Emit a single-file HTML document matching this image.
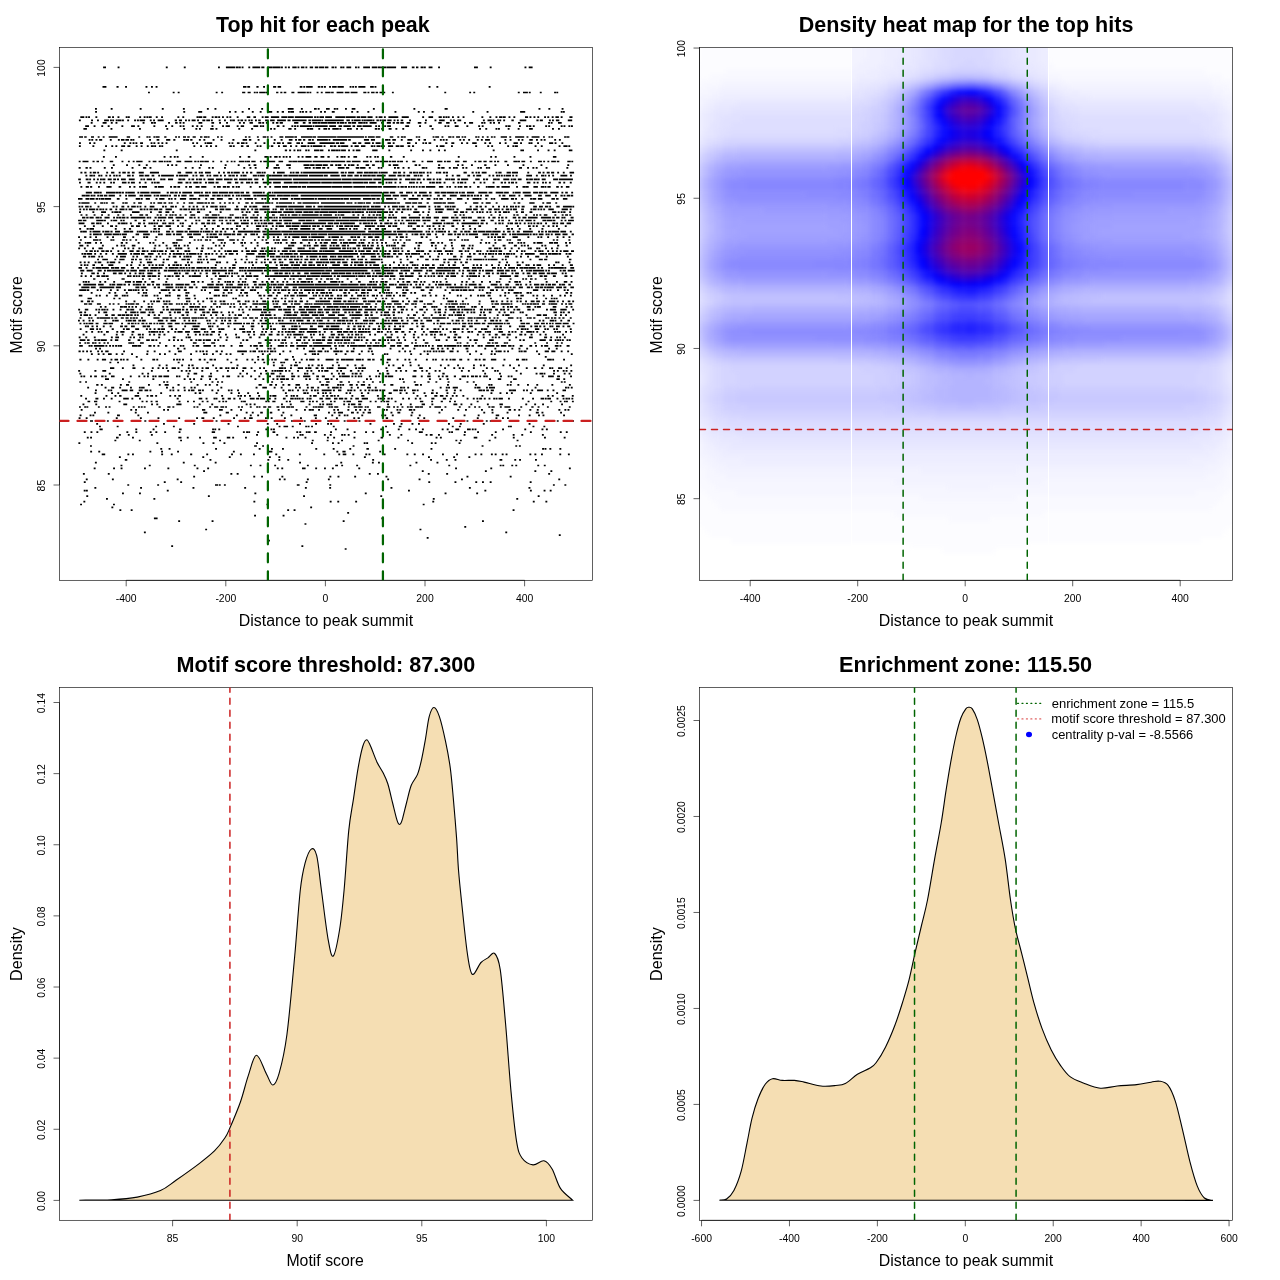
<!DOCTYPE html>
<html><head><meta charset="utf-8"><style>
html,body{margin:0;padding:0;background:#fff;}
svg{display:block;font-family:"Liberation Sans", sans-serif;will-change:transform;}
text{fill:#000;}
</style></head><body>
<svg width="1280" height="1280" viewBox="0 0 1280 1280">
<rect width="1280" height="1280" fill="#fff"/>
<rect x="59.5" y="47.5" width="533.00" height="532.80" fill="none" stroke="#000" stroke-width="0.62"/>
<path d="M126.20 580.3H524.60M126.20 580.3v6M225.80 580.3v6M325.40 580.3v6M425.00 580.3v6M524.60 580.3v6M59.5 67.40V485.00M59.5 485.00h-6M59.5 345.80h-6M59.5 206.60h-6M59.5 67.40h-6" fill="none" stroke="#000" stroke-width="0.62"/>
<text x="126.20" y="601.90" text-anchor="middle" font-size="10.4">-400</text>
<text x="225.80" y="601.90" text-anchor="middle" font-size="10.4">-200</text>
<text x="325.40" y="601.90" text-anchor="middle" font-size="10.4">0</text>
<text x="425.00" y="601.90" text-anchor="middle" font-size="10.4">200</text>
<text x="524.60" y="601.90" text-anchor="middle" font-size="10.4">400</text>
<text transform="translate(44.90 485.60) rotate(-90)" text-anchor="middle" font-size="10.4">85</text>
<text transform="translate(44.90 346.40) rotate(-90)" text-anchor="middle" font-size="10.4">90</text>
<text transform="translate(44.90 207.20) rotate(-90)" text-anchor="middle" font-size="10.4">95</text>
<text transform="translate(44.90 68.00) rotate(-90)" text-anchor="middle" font-size="10.4">100</text>
<path d="M344.7 549.0h1.9M171.2 546.2h1.9m128.3 0h1.9M268.0 540.7h1.9M426.7 537.9h1.9M558.8 535.1h1.9M143.9 532.3h1.9m359.5 0h1.9M205.2 529.5h1.9m212.4 0h1.9M464.3 526.8h1.9M304.5 524.0h1.9M178.2 521.2h1.9m31.5 0h1.9m129.2 0h1.9m137.4 0h1.9M153.9 518.4h3.7m223.8 0h1.9M254.1 515.6h1.9m26.6 0h1.9M347.2 512.8h1.9M119.4 510.1h1.9m9.4 0h1.9m154.6 0h1.9m4.5 0h1.9m217.1 0h1.9M111.4 507.3h1.9m196.9 0h1.9M80.1 504.5h1.9m31.0 0h1.9m151.6 0h1.9m154.3 0h1.9M83.4 501.7h1.9m168.1 0h1.9m74.4 0h1.9m5.7 0h1.9m16.0 0h1.9m75.2 0h1.9m98.6 0h1.9m10.7 0h1.9M106.0 498.9h1.9m45.5 0h1.9m277.5 0h1.9m81.6 0h1.9M86.3 496.1h1.9m119.7 0h1.9m93.3 0h1.9m75.3 0h1.9m155.5 0h1.9M122.0 493.4h1.9m15.1 0h1.9m113.5 0h1.9m108.5 0h1.9m77.9 0h1.9m29.7 0h1.9M83.7 490.6h1.9m0.3 0h1.9m79.0 0h1.9m239.3 0h1.9m74.5 0h1.9m43.6 0h1.9m11.8 0h1.9m4.2 0h1.9M94.4 487.8h1.9m43.8 0h1.9m50.5 0h1.9m49.8 0h1.9m58.8 0h1.9m22.4 0h1.9m59.4 0h1.9m76.5 0h1.9m57.7 0h1.9M127.3 485.0h1.9m28.0 0h1.9m55.9 0h3.1m0.7 0h1.9m3.2 0h1.9m71.0 0h2.8m29.7 0h1.9m221.7 0h1.9m9.6 0h1.9M83.8 482.2h1.9m78.1 0h1.9m14.5 0h1.9m123.6 0h1.9m120.7 0h1.9m24.3 0h1.9m18.9 0h1.9m4.8 0h1.9m5.8 0h1.9m38.1 0h1.9M85.8 479.4h1.9m24.2 0h1.9m62.9 0h1.9m100.3 0h1.9m2.9 0h1.9m21.3 0h1.9m19.1 0h1.9m57.4 0h1.9m29.5 0h1.9m40.5 0h1.9m95.4 0h1.9M193.2 476.6h1.9m58.2 0h1.9m5.9 0h1.9m18.4 0h1.9m46.1 0h1.9m6.2 0h1.9m14.8 0h1.9m29.4 0h1.9m79.1 0h1.9m41.3 0h1.9M82.9 473.9h1.9m23.0 0h1.9m120.7 0h1.9m4.4 0h1.9m130.2 0h1.9m6.3 0h1.9m48.9 0h1.9m16.5 0h1.9m100.1 0h1.9M203.1 471.1h1.9m216.8 0h1.9m61.2 0h1.9m47.6 0h1.9m14.1 0h1.9M93.7 468.3h1.9m17.5 0h1.9m5.6 0h1.9m21.5 0h1.9m21.5 0h1.9m27.2 0h1.9m8.8 0h1.9m67.7 0h1.9m2.6 0h1.9m18.8 0h3.6m9.6 0h1.9m6.9 0h1.9m6.0 0h1.9m24.5 0h1.9m94.9 0h1.9m33.3 0h1.9m76.7 0h1.9M120.5 465.5h1.9m26.4 0h1.9m43.1 0h1.9m54.2 0h1.9m7.7 0h1.9m12.8 0h1.9m30.8 0h1.9m26.4 0h2.8m3.2 0h1.9m13.1 0h1.9m51.3 0h1.9m37.0 0h1.9m49.5 0h1.9m0.7 0h1.9m7.1 0h1.9m2.1 0h1.9m20.1 0h1.9m4.6 0h1.9M94.9 462.7h1.9m86.0 0h1.9m30.0 0h1.9m82.5 0h1.9m39.3 0h1.9m29.7 0h1.9m4.2 0h1.9m35.6 0h1.9m19.1 0h1.9M124.8 459.9h2.5m82.2 0h1.9m56.0 0h1.9m9.1 0h1.9m7.0 0h1.9m83.0 0h1.9m56.0 0h1.9m13.8 0h1.9m6.8 0h1.9m43.1 0h2.8m12.0 0h1.9m2.9 0h1.9m14.0 0h1.9M118.9 457.2h1.9m81.5 0h1.9m24.6 0h1.9m38.2 0h1.9m7.6 0h1.9m83.6 0h1.9m62.2 0h1.9m23.3 0h1.9m13.3 0h1.9M101.7 454.4h3.5m22.2 0h1.9m2.7 0h1.9m27.3 0h1.9m7.7 0h1.9m17.4 0h2.1m14.0 0h1.9m23.0 0h1.9m6.9 0h1.9m11.2 0h1.9m20.4 0h1.9m21.7 0h1.9m22.5 0h1.9m13.1 0h1.9m2.5 0h3.6m6.1 0h1.9m11.0 0h1.9m1.3 0h1.9m13.3 0h1.9m20.8 0h1.9m5.5 0h1.9m6.4 0h1.9m18.0 0h1.9m12.2 0h1.9m16.6 0h1.9m3.9 0h1.9m8.6 0h1.9m1.9 0h1.9m5.1 0h1.9m2.0 0h1.9m21.9 0h1.9m3.1 0h1.9m4.7 0h1.9m16.4 0h1.9m6.7 0h1.9M90.2 451.6h1.9m6.2 0h1.9m49.2 0h1.9m9.8 0h1.9m14.1 0h1.9m53.9 0h1.9m33.9 0h3.7m64.0 0h1.9m4.1 0h3.2m33.6 0h1.9M160.3 448.8h1.9m6.4 0h1.9m44.6 0h1.9m41.7 0h1.9m10.4 0h1.9m9.1 0h1.9m31.4 0h1.9m15.5 0h1.9m14.7 0h1.9m15.2 0h2.5m25.3 0h1.9m34.4 0h1.9m109.7 0h1.9m0.5 0h1.9m3.0 0h1.9m8.1 0h1.9M90.0 446.0h1.9m162.2 0h2.8m5.2 0h1.9m88.6 0h1.9m127.1 0h1.9m31.8 0h1.9m1.7 0h1.9M78.4 443.2h1.9m76.1 0h1.9m44.2 0h1.9m8.1 0h1.9m9.1 0h1.9m30.7 0h1.9m53.1 0h1.9m19.0 0h1.9m3.7 0h1.9m24.2 0h1.9m0.6 0h1.9m43.1 0h1.9m17.7 0h1.9m1.9 0h1.9m22.1 0h1.9M114.4 440.5h1.9m22.5 0h1.9m39.4 0h1.9m37.1 0h1.9m90.8 0h1.9m13.0 0h1.9m12.5 0h1.9m34.7 0h1.9m27.5 0h1.9m46.4 0h1.9m2.6 0h1.9m26.9 0h1.9m26.0 0h1.9M86.8 437.7h1.9m1.4 0h1.9m24.0 0h2.6m13.4 0h1.9m44.4 0h3.2m5.3 0h1.9m10.4 0h1.9m12.1 0h3.7m10.0 0h3.5m1.9 0h1.9m10.9 0h1.9m38.6 0h1.9m5.7 0h1.9m2.0 0h1.9m5.6 0h1.9m20.6 0h1.9m4.3 0h1.9m18.4 0h1.9m25.2 0h2.5m14.4 0h1.9m36.2 0h1.9m2.4 0h1.9m31.9 0h3.6m17.1 0h1.9m16.5 0h1.9m29.3 0h1.9m17.8 0h1.9M118.9 434.9h1.9m7.0 0h1.9m21.2 0h1.9m103.3 0h1.9m18.3 0h1.9m21.3 0h1.9m0.3 0h1.9m20.3 0h1.9m3.9 0h1.9m9.6 0h1.9m0.6 0h1.9m2.1 0h1.9m39.3 0h1.9m9.6 0h1.9m23.3 0h1.9m2.3 0h2.8m5.4 0h1.9m23.7 0h1.9m25.7 0h1.9m19.6 0h1.9m6.7 0h1.9m18.7 0h1.9M83.8 432.1h1.9m4.8 0h1.9m4.0 0h1.9m28.1 0h1.9m7.1 0h1.9m12.4 0h1.9m3.8 0h1.9m6.9 0h1.9m12.5 0h1.9m31.2 0h3.4m27.8 0h1.9m1.3 0h1.9m0.2 0h1.9m7.1 0h1.9m13.4 0h2.8m21.0 0h1.9m1.1 0h1.9m4.6 0h1.9m0.4 0h2.5m3.5 0h2.7m13.3 0h1.9m21.7 0h1.9m9.5 0h1.9m5.3 0h1.9m12.4 0h1.9m30.3 0h4.0m25.8 0h1.9m0.6 0h1.9m11.0 0h1.9m11.2 0h1.9m15.8 0h1.9m33.2 0h1.9m28.0 0h1.9m4.1 0h1.9M99.5 429.3h3.2m32.6 0h1.9m15.4 0h1.9m24.6 0h2.5m30.5 0h1.9m0.3 0h1.9m2.1 0h1.9m45.2 0h1.9m3.2 0h1.9m0.6 0h1.9m60.0 0h1.9m9.8 0h1.9m31.8 0h1.9m15.6 0h1.9m8.7 0h1.9m4.8 0h1.9m4.9 0h1.9m17.9 0h1.9m3.1 0h1.9m6.8 0h3.8m7.8 0h3.7m1.1 0h1.9m0.8 0h1.9m25.7 0h1.9m20.3 0h1.9m15.3 0h1.9m2.5 0h1.9M99.0 426.5h1.9m15.8 0h1.9m36.6 0h1.9m15.8 0h1.9m62.2 0h1.9m39.7 0h1.9m3.0 0h4.6m3.7 0h1.9m11.5 0h1.9m0.5 0h1.9m1.6 0h1.9m19.8 0h1.9m50.4 0h1.9m11.8 0h2.7m50.3 0h1.9m5.2 0h1.9m47.1 0h1.9m0.2 0h1.9m20.6 0h1.9m9.0 0h1.9M96.2 423.8h1.9m64.9 0h1.9m28.3 0h1.9m32.5 0h1.9m37.3 0h1.9m7.5 0h1.9m21.0 0h1.9m14.1 0h1.9m10.1 0h1.9m1.2 0h1.9m37.4 0h1.9m21.6 0h1.9m5.7 0h1.9m9.0 0h1.9m4.6 0h1.9m28.1 0h1.9m9.9 0h1.9m21.1 0h1.9m43.9 0h1.9M78.2 421.0h1.9m9.9 0h3.0m5.4 0h1.9m6.6 0h1.9m35.5 0h2.0m69.3 0h1.9m56.2 0h2.6m5.5 0h2.7m6.5 0h1.9m3.6 0h1.9m5.4 0h1.9m21.6 0h1.9m5.5 0h2.4m6.6 0h1.9m12.9 0h1.9m6.5 0h1.9m76.5 0h1.9m7.3 0h1.9m10.1 0h1.9m17.4 0h1.9m2.1 0h1.9m65.1 0h1.9m12.8 0h2.5M78.6 418.2h1.9m5.2 0h1.9m28.2 0h1.9m22.2 0h1.9m15.7 0h1.9m18.8 0h1.9m16.0 0h1.9m3.4 0h2.9m8.5 0h1.9m18.4 0h1.9m8.9 0h1.9m3.3 0h3.6m12.3 0h1.9m3.8 0h1.9m11.3 0h1.9m14.2 0h1.9m13.0 0h1.9m8.1 0h1.9m9.1 0h1.9m15.5 0h1.9m2.4 0h2.2m25.9 0h2.4m29.2 0h1.9m4.1 0h1.9m27.1 0h1.9m22.6 0h1.9m16.8 0h1.9m4.6 0h1.9m3.1 0h1.9M79.6 415.4h1.9m8.1 0h1.9m0.9 0h1.9m22.7 0h2.9m17.5 0h1.9m80.1 0h1.9m14.6 0h1.9m12.0 0h1.9m5.5 0h1.9m21.7 0h1.9m7.7 0h1.9m21.4 0h3.3m14.3 0h1.9m5.3 0h1.9m3.4 0h1.9m0.8 0h1.9m12.9 0h1.9m18.1 0h1.9m1.1 0h1.9m5.6 0h1.9m16.8 0h1.9m6.4 0h1.9m42.9 0h1.9m12.2 0h1.9m16.1 0h3.5m18.9 0h1.9m8.7 0h1.9m7.4 0h1.9m2.6 0h1.9m18.7 0h1.9M94.0 412.6h1.9m11.5 0h1.9m25.5 0h1.9m10.3 0h1.9m54.4 0h4.0m18.4 0h3.2m16.8 0h1.9m4.2 0h1.9m6.5 0h2.6m7.0 0h2.5m10.1 0h1.9m43.7 0h1.9m3.8 0h1.9m2.3 0h5.1m8.0 0h2.9m2.8 0h1.9m4.0 0h1.9m3.1 0h3.5m19.4 0h1.9m5.0 0h2.9m11.0 0h1.9m25.3 0h1.9m42.9 0h1.9m6.4 0h1.9m13.1 0h1.9m27.3 0h3.0m2.7 0h1.9m16.7 0h1.9M80.7 409.8h1.9m47.7 0h1.9m2.9 0h1.9m26.1 0h1.9m2.1 0h1.9m33.0 0h3.3m13.7 0h3.8m7.7 0h1.9m7.7 0h1.9m35.7 0h1.9m16.0 0h1.9m6.5 0h1.9m2.8 0h3.1m0.2 0h1.9m4.2 0h1.9m13.3 0h1.9m1.9 0h1.9m8.4 0h1.9m5.7 0h1.9m2.4 0h1.9m3.0 0h1.9m2.6 0h1.9m12.5 0h1.9m0.9 0h1.9m8.7 0h1.9m1.0 0h1.9m7.5 0h3.5m1.0 0h1.9m25.8 0h1.9m14.4 0h1.9m5.8 0h1.9m14.1 0h1.9m8.5 0h1.9m15.2 0h2.6m2.7 0h1.9m2.7 0h1.9m9.1 0h1.9m5.5 0h1.9m19.7 0h1.9m4.1 0h1.9m1.2 0h1.9M79.0 407.0h1.9m3.3 0h1.9m0.3 0h1.9m9.6 0h1.9m5.3 0h1.9m1.6 0h1.9m22.2 0h1.9m3.4 0h1.9m0.9 0h1.9m1.0 0h1.9m12.9 0h2.2m6.6 0h3.2m1.9 0h1.9m19.1 0h1.9m1.2 0h1.9m10.8 0h1.9m3.0 0h4.1m2.2 0h3.8m0.9 0h1.9m10.9 0h1.9m1.3 0h1.9m6.8 0h1.9m4.5 0h1.9m0.5 0h1.9m2.7 0h3.1m1.6 0h3.3m5.3 0h2.8m1.8 0h3.9m1.2 0h4.0m0.5 0h3.3m11.5 0h2.0m5.3 0h1.9m0.4 0h1.9m0.4 0h6.0m5.1 0h2.1m0.3 0h2.2m1.1 0h4.1m9.4 0h1.9m4.1 0h3.8m0.6 0h4.6m2.0 0h1.9m0.4 0h1.9m8.1 0h3.6m6.0 0h3.6m2.9 0h1.9m1.7 0h1.9m2.9 0h1.9m3.5 0h1.9m0.7 0h3.3m2.3 0h4.6m0.3 0h3.0m6.2 0h1.9m3.3 0h6.6m3.5 0h1.9m12.4 0h1.9m7.7 0h1.9m3.8 0h1.9m2.5 0h1.9m7.9 0h2.1m1.0 0h3.2m5.3 0h1.9m2.6 0h5.9m10.0 0h1.9m9.1 0h2.3m4.0 0h1.9m7.4 0h1.9m20.0 0h1.9M82.5 404.3h1.9m10.9 0h1.9m26.1 0h3.9m23.9 0h1.9m3.3 0h1.9m18.1 0h5.2m17.2 0h1.9m10.7 0h1.9m32.5 0h1.9m1.9 0h1.9m2.3 0h1.9m25.4 0h1.9m6.9 0h1.9m16.9 0h1.9m8.8 0h1.9m1.0 0h1.9m2.2 0h1.9m0.2 0h1.9m0.2 0h1.9m10.8 0h1.9m2.9 0h1.9m1.0 0h4.5m2.8 0h3.0m25.9 0h1.9m11.1 0h1.9m7.8 0h1.9m9.9 0h3.4m6.4 0h1.9m20.1 0h3.9m3.2 0h1.9m8.0 0h1.9m14.6 0h1.9m10.6 0h3.5m22.4 0h1.9m7.0 0h1.9m6.0 0h1.9m17.1 0h1.9M87.5 401.5h2.7m3.8 0h3.3m21.3 0h1.9m21.0 0h1.9m2.4 0h1.9m2.9 0h1.9m3.0 0h2.4m20.6 0h2.0m6.5 0h1.9m4.1 0h1.9m6.8 0h1.9m3.0 0h1.9m10.0 0h1.9m1.9 0h1.9m1.0 0h1.9m13.7 0h1.9m0.4 0h2.8m19.4 0h1.9m0.5 0h1.9m2.7 0h3.2m10.3 0h1.9m1.3 0h1.9m9.4 0h4.2m4.4 0h1.9m1.2 0h1.9m2.0 0h1.9m4.0 0h1.9m6.3 0h1.9m1.8 0h1.9m7.8 0h1.9m1.1 0h4.6m7.0 0h4.2m7.4 0h1.9m3.3 0h1.9m3.8 0h1.9m0.9 0h1.9m0.9 0h3.2m5.3 0h1.9m23.4 0h3.4m7.9 0h1.9m7.6 0h2.2m6.2 0h1.9m3.0 0h1.9m20.8 0h1.9m49.0 0h1.9m20.8 0h1.9m7.4 0h1.9m2.4 0h1.9m0.2 0h1.9m4.0 0h1.9M85.1 398.7h1.9m8.4 0h3.0m4.6 0h1.9m5.8 0h1.9m10.6 0h5.6m2.6 0h1.9m5.7 0h1.9m35.8 0h2.0m20.0 0h3.6m3.3 0h1.9m6.0 0h1.9m0.2 0h1.9m4.4 0h2.4m3.4 0h3.2m2.4 0h2.1m3.7 0h1.9m8.8 0h4.8m1.5 0h3.0m0.8 0h5.2m3.0 0h2.7m3.6 0h1.9m6.6 0h2.7m4.6 0h3.5m0.7 0h1.9m0.3 0h1.9m0.3 0h1.9m0.8 0h2.2m2.9 0h1.9m0.6 0h2.5m7.8 0h3.5m2.6 0h5.1m3.4 0h3.5m1.4 0h4.3m1.3 0h2.7m3.1 0h2.0m3.0 0h3.6m2.8 0h6.3m9.6 0h2.0m0.4 0h1.9m0.7 0h2.5m2.3 0h2.4m1.0 0h1.9m9.5 0h1.9m3.9 0h1.9m4.9 0h1.9m2.6 0h1.9m10.1 0h3.1m8.4 0h3.3m3.8 0h1.9m14.8 0h1.9m4.3 0h1.9m1.7 0h1.9m0.9 0h2.9m1.7 0h1.9m2.8 0h1.9m2.8 0h1.9m0.5 0h1.9m1.0 0h4.4m5.1 0h1.9m12.0 0h1.9m8.3 0h1.9m6.6 0h3.5m0.7 0h1.9m0.6 0h3.7m5.5 0h1.9m4.2 0h1.9m1.0 0h2.3m0.4 0h1.9m1.3 0h1.9M80.3 395.9h1.9m23.3 0h1.9m7.1 0h1.9m2.7 0h2.4m13.1 0h4.6m7.4 0h1.9m1.7 0h2.9m2.1 0h1.9m12.2 0h1.9m3.0 0h1.9m2.2 0h2.7m40.2 0h1.9m14.4 0h1.9m0.7 0h1.9m2.0 0h1.9m3.1 0h1.9m7.3 0h1.9m9.5 0h1.9m0.8 0h4.1m9.3 0h1.9m3.0 0h1.9m0.4 0h1.9m1.4 0h1.9m11.5 0h1.9m1.6 0h3.6m5.7 0h1.9m1.9 0h2.0m2.1 0h2.6m0.8 0h1.9m1.6 0h1.9m12.3 0h1.9m7.9 0h3.2m12.5 0h1.9m5.0 0h1.9m30.8 0h1.9m6.4 0h1.9m7.6 0h3.1m2.5 0h3.5m2.4 0h1.9m4.1 0h1.9m2.0 0h1.9m4.8 0h1.9m17.1 0h1.9m64.0 0h1.9m2.6 0h1.9m8.0 0h2.6m7.5 0h1.9M94.6 393.1h1.9m14.6 0h1.9m4.3 0h1.9m18.0 0h1.9m21.1 0h1.9m32.5 0h1.9m2.3 0h2.5m14.4 0h1.9m12.9 0h1.9m5.6 0h1.9m7.3 0h1.9m7.9 0h1.9m26.0 0h1.9m16.5 0h2.9m0.6 0h1.9m8.5 0h1.9m3.1 0h1.9m0.8 0h1.9m2.7 0h1.9m14.2 0h1.9m1.7 0h1.9m9.8 0h1.9m4.5 0h1.9m19.4 0h3.2m7.8 0h1.9m4.2 0h1.9m5.1 0h1.9m9.0 0h1.9m5.5 0h2.6m2.3 0h1.9m8.7 0h1.9m5.1 0h1.9m35.1 0h1.9m7.1 0h1.9m4.6 0h1.9m3.0 0h1.9m17.0 0h1.9m24.5 0h1.9M95.0 390.3h1.9m10.9 0h1.9m0.6 0h1.9m9.4 0h6.0m2.1 0h3.5m5.5 0h3.9m1.9 0h3.7m1.3 0h1.9m18.1 0h1.9m1.0 0h1.9m3.1 0h1.9m4.5 0h1.9m2.4 0h1.9m0.8 0h3.7m3.6 0h3.1m0.8 0h1.9m7.5 0h1.9m3.9 0h1.9m8.8 0h1.9m0.8 0h1.9m4.6 0h1.9m43.5 0h1.9m3.6 0h2.9m0.8 0h1.9m3.5 0h1.9m3.6 0h1.9m1.1 0h1.9m3.4 0h1.9m1.3 0h2.1m0.6 0h1.9m3.0 0h9.9m1.3 0h2.0m3.1 0h3.4m5.8 0h1.9m0.3 0h2.9m1.3 0h1.9m4.2 0h1.9m2.8 0h1.9m1.9 0h2.1m1.1 0h2.3m0.8 0h3.6m1.2 0h1.9m0.6 0h3.5m7.9 0h4.7m1.3 0h3.6m1.1 0h1.9m6.2 0h3.8m0.9 0h1.9m13.2 0h1.9m11.9 0h2.2m6.1 0h2.0m3.8 0h1.9m16.9 0h4.1m0.4 0h2.0m1.2 0h2.7m1.8 0h3.2m15.0 0h3.0m0.2 0h3.9m6.9 0h1.9m1.3 0h1.9m3.3 0h1.9m3.9 0h6.0m3.7 0h1.9m3.8 0h1.9m8.1 0h3.5M87.2 387.6h1.9m15.5 0h1.9m4.6 0h3.1m5.0 0h1.9m8.9 0h1.9m7.0 0h1.9m0.3 0h3.5m21.4 0h1.9m4.3 0h1.9m9.4 0h1.9m5.1 0h1.9m1.4 0h1.9m24.7 0h1.9m33.3 0h1.9m4.8 0h4.6m6.8 0h1.9m5.1 0h1.9m12.4 0h1.9m2.0 0h1.9m6.1 0h1.9m2.0 0h3.1m3.4 0h1.9m8.3 0h1.9m2.7 0h3.2m0.2 0h3.2m1.0 0h1.9m9.1 0h1.9m4.4 0h1.9m8.1 0h3.9m3.9 0h1.9m23.3 0h2.7m0.5 0h1.9m2.1 0h1.9m30.6 0h1.9m4.2 0h1.9m0.4 0h1.9m2.7 0h5.2m16.5 0h1.9m0.5 0h3.7m5.5 0h1.9m1.1 0h6.0m39.6 0h1.9m28.5 0h1.9m0.5 0h1.9m1.5 0h1.9M96.2 384.8h2.3m2.4 0h1.9m17.1 0h1.9m4.2 0h3.1m18.9 0h1.9m8.9 0h1.9m3.9 0h4.1m8.8 0h2.1m17.0 0h1.9m6.3 0h1.9m2.1 0h1.9m5.5 0h1.9m40.4 0h3.2m7.7 0h2.9m2.8 0h1.9m5.4 0h1.9m3.5 0h2.5m5.2 0h4.4m6.5 0h1.9m12.6 0h3.3m1.1 0h3.2m8.6 0h2.1m0.5 0h1.9m0.6 0h1.9m5.3 0h3.4m3.1 0h1.9m3.0 0h4.3m3.3 0h1.9m13.3 0h1.9m4.8 0h3.1m21.4 0h3.6m1.6 0h1.9m25.1 0h1.9m26.1 0h1.9m11.4 0h1.9m0.4 0h1.9m14.3 0h1.9m1.0 0h1.9m5.8 0h1.9m7.7 0h1.9m7.4 0h1.9m13.2 0h1.9m15.6 0h1.9M79.4 382.0h1.9m3.8 0h1.9m41.3 0h1.9m32.9 0h1.9m1.4 0h1.9m22.0 0h1.9m19.3 0h1.9m3.6 0h1.9m2.3 0h1.9m48.1 0h1.9m7.7 0h1.9m36.5 0h1.9m5.0 0h3.5m10.0 0h2.9m5.6 0h1.9m7.4 0h1.9m3.5 0h2.0m7.1 0h1.9m5.4 0h1.9m21.8 0h1.9m9.0 0h1.9m11.7 0h2.2m5.8 0h1.9m10.3 0h1.9m17.0 0h1.9m4.4 0h1.9m35.4 0h1.9m48.8 0h1.9m1.1 0h1.9M105.0 379.2h4.0m13.0 0h1.9m28.5 0h1.9m29.4 0h1.9m3.6 0h1.9m2.0 0h1.9m5.3 0h1.9m6.9 0h1.9m4.3 0h1.9m37.3 0h1.9m6.0 0h1.9m8.1 0h1.9m2.2 0h1.9m1.7 0h5.2m0.7 0h2.9m2.6 0h1.9m11.9 0h1.9m1.7 0h1.9m5.7 0h1.9m6.4 0h4.3m1.5 0h1.9m3.6 0h1.9m28.0 0h1.9m2.0 0h1.9m27.3 0h1.9m0.9 0h1.9m25.1 0h1.9m8.5 0h1.9m5.5 0h1.9m10.7 0h1.9m27.9 0h1.9m6.8 0h3.4m11.9 0h3.6m39.7 0h3.4m3.5 0h1.9M80.5 376.4h1.9m0.9 0h1.9m4.8 0h1.9m2.3 0h2.7m4.3 0h2.4m1.1 0h1.9m4.4 0h3.6m15.2 0h1.9m6.6 0h1.9m3.3 0h1.9m1.6 0h1.9m3.4 0h1.9m0.5 0h1.9m1.8 0h3.8m1.2 0h5.7m6.9 0h1.9m0.6 0h1.9m6.5 0h1.9m12.2 0h2.6m4.9 0h3.6m10.1 0h1.9m2.3 0h3.7m7.4 0h1.9m2.3 0h1.9m6.6 0h1.9m6.3 0h1.9m8.8 0h1.9m5.3 0h1.9m0.3 0h1.9m0.9 0h3.6m6.3 0h3.9m2.5 0h1.9m3.6 0h7.2m5.9 0h2.8m2.8 0h3.1m7.8 0h1.9m4.4 0h1.9m0.5 0h8.4m1.6 0h1.9m1.4 0h1.9m1.2 0h2.0m0.5 0h1.9m6.7 0h1.9m4.5 0h1.9m0.9 0h1.9m4.7 0h2.3m0.6 0h5.6m19.2 0h3.9m4.5 0h1.9m4.5 0h3.5m7.2 0h1.9m2.0 0h1.9m1.9 0h2.6m5.6 0h2.2m5.6 0h4.3m1.0 0h1.9m2.2 0h3.1m0.8 0h2.9m1.4 0h1.9m2.2 0h2.3m0.3 0h1.9m12.2 0h2.0m5.7 0h1.9m1.0 0h1.9m29.3 0h1.9m4.4 0h5.7m3.3 0h2.9m10.1 0h1.9M79.4 373.6h1.9m27.5 0h1.9m30.9 0h1.9m3.7 0h1.9m38.5 0h1.9m4.1 0h3.6m12.8 0h1.9m27.5 0h1.9m4.8 0h1.9m12.0 0h1.9m3.7 0h1.9m3.2 0h3.8m5.0 0h1.9m9.9 0h1.9m10.8 0h1.9m0.5 0h1.9m4.1 0h1.9m16.6 0h1.9m5.2 0h1.9m1.9 0h3.1m6.8 0h1.9m1.0 0h3.0m2.0 0h1.9m17.4 0h1.9m1.1 0h1.9m2.8 0h2.7m38.9 0h2.1m12.0 0h2.4m39.5 0h1.9m12.9 0h1.9m19.0 0h1.9m13.8 0h1.9m2.0 0h3.5m0.5 0h1.9m7.6 0h1.9m8.8 0h1.9m3.0 0h1.9M78.2 370.9h1.9m14.3 0h2.0m5.9 0h3.9m44.7 0h1.9m14.4 0h1.9m11.7 0h1.9m2.8 0h1.9m1.4 0h1.9m10.6 0h1.9m13.2 0h1.9m8.7 0h1.9m13.2 0h1.9m9.8 0h1.9m9.3 0h2.2m4.4 0h1.9m0.7 0h1.9m0.4 0h1.9m0.2 0h4.6m1.8 0h1.9m1.6 0h1.9m6.7 0h1.9m7.5 0h1.9m2.0 0h1.9m5.8 0h1.9m1.2 0h1.9m1.1 0h4.3m7.9 0h1.9m1.8 0h1.9m7.9 0h2.3m5.4 0h1.9m1.9 0h1.9m13.8 0h1.9m7.4 0h1.9m7.0 0h1.9m2.7 0h1.9m3.4 0h1.9m6.3 0h3.2m4.7 0h1.9m2.6 0h1.9m6.9 0h1.9m2.2 0h1.9m20.3 0h1.9m5.1 0h1.9m12.5 0h1.9m10.0 0h1.9m0.7 0h1.9m16.9 0h1.9m35.6 0h1.9m1.9 0h1.9m3.9 0h1.9m1.0 0h1.9m2.9 0h1.9M110.0 368.1h4.3m7.6 0h1.9m8.6 0h3.1m7.1 0h1.9m7.3 0h1.9m3.8 0h1.9m2.7 0h1.9m1.8 0h1.9m3.9 0h4.3m1.6 0h1.9m8.4 0h1.9m2.9 0h1.9m1.6 0h2.3m3.2 0h1.9m1.9 0h3.6m6.2 0h1.9m2.5 0h2.9m2.7 0h1.9m0.4 0h1.9m1.9 0h3.5m1.2 0h1.9m4.6 0h3.9m4.2 0h1.9m6.6 0h1.9m2.1 0h1.9m13.9 0h4.8m0.4 0h1.9m4.0 0h1.9m5.8 0h3.2m0.2 0h1.9m2.2 0h1.9m0.5 0h3.8m4.2 0h2.8m2.7 0h2.7m2.8 0h1.9m0.3 0h4.6m4.4 0h8.5m8.9 0h1.9m1.1 0h2.9m0.5 0h4.3m19.6 0h1.9m10.2 0h3.3m18.3 0h3.6m6.2 0h1.9m13.2 0h1.9m7.3 0h1.9m3.5 0h1.9m1.6 0h1.9m8.8 0h1.9m11.1 0h1.9m3.7 0h1.9m19.5 0h1.9m11.0 0h1.9m6.2 0h2.5m4.9 0h1.9m5.9 0h1.9m0.4 0h1.9m4.8 0h1.9m0.2 0h1.9m3.7 0h1.9M132.5 365.3h1.9m24.2 0h1.9m5.2 0h1.9m13.6 0h1.9m5.0 0h1.9m1.4 0h2.2m18.6 0h1.9m22.5 0h1.9m34.4 0h1.9m6.6 0h1.9m7.0 0h1.9m1.7 0h4.0m10.0 0h1.9m1.7 0h1.9m4.0 0h2.3m1.3 0h1.9m9.0 0h1.9m4.1 0h1.9m6.9 0h1.9m5.8 0h1.9m5.2 0h1.9m24.6 0h1.9m2.6 0h1.9m7.6 0h1.9m5.8 0h1.9m6.2 0h1.9m20.2 0h1.9m5.7 0h1.9m7.7 0h1.9m14.0 0h1.9m5.0 0h1.9m1.4 0h1.9m17.3 0h1.9m4.8 0h1.9m7.0 0h1.9m22.9 0h1.9m25.5 0h1.9M109.4 362.5h1.9m5.8 0h1.9m58.7 0h1.9m27.0 0h1.9m21.8 0h1.9m21.9 0h1.9m7.3 0h1.9m7.6 0h1.9m5.5 0h2.6m0.4 0h1.9m9.9 0h1.9m1.9 0h1.9m35.7 0h1.9m48.1 0h1.9m21.0 0h1.9M79.4 359.7h2.1m5.9 0h1.9m7.4 0h1.9m3.3 0h4.2m4.4 0h1.9m2.1 0h3.6m2.0 0h1.9m0.7 0h1.9m1.8 0h2.1m11.9 0h1.9m10.0 0h2.9m1.1 0h1.9m14.8 0h1.9m1.3 0h1.9m0.6 0h1.9m1.5 0h1.9m6.2 0h1.9m6.6 0h2.4m2.6 0h1.9m3.9 0h3.0m1.2 0h2.3m10.6 0h1.9m7.1 0h1.9m8.9 0h1.9m3.2 0h1.9m3.9 0h1.9m2.5 0h2.5m3.3 0h1.9m1.9 0h1.9m1.0 0h2.5m8.1 0h3.5m4.7 0h1.9m5.9 0h1.9m3.2 0h1.9m1.4 0h5.3m3.0 0h1.9m6.2 0h8.0m2.7 0h2.5m2.2 0h4.6m0.2 0h7.8m2.2 0h5.4m0.6 0h1.9m3.7 0h3.4m1.4 0h2.4m5.7 0h1.9m4.7 0h3.9m5.8 0h1.9m5.9 0h1.9m2.1 0h1.9m4.5 0h1.9m9.2 0h1.9m4.5 0h1.9m0.7 0h1.9m4.8 0h1.9m2.2 0h1.9m2.0 0h1.9m0.7 0h3.5m3.6 0h2.9m5.2 0h1.9m5.4 0h2.7m1.3 0h1.9m2.2 0h2.8m5.3 0h5.4m7.2 0h1.9m10.6 0h3.0m2.7 0h3.4m0.4 0h1.9m19.7 0h4.7m0.4 0h1.9m9.0 0h1.9M135.8 356.9h1.9m119.5 0h1.9m32.9 0h1.9m250.9 0h1.9M90.9 354.2h1.9m4.9 0h1.9m3.0 0h1.9m3.5 0h3.7m4.0 0h1.9m3.8 0h1.9m7.8 0h1.9m13.3 0h1.9m10.8 0h1.9m3.1 0h1.9m8.5 0h1.9m13.8 0h1.9m11.0 0h1.9m0.8 0h1.9m4.4 0h1.9m5.7 0h1.9m4.1 0h1.9m2.1 0h1.9m10.2 0h1.9m18.3 0h1.9m4.9 0h1.9m8.4 0h1.9m23.6 0h1.9m5.4 0h1.9m0.2 0h2.2m1.1 0h1.9m16.2 0h1.9m7.4 0h1.9m12.0 0h1.9m11.4 0h1.9m10.2 0h1.9m0.6 0h1.9m21.9 0h1.9m7.6 0h1.9m5.2 0h1.9m40.4 0h1.9m9.3 0h1.9m8.4 0h1.9m1.4 0h1.9m42.4 0h1.9m30.7 0h1.9M78.5 351.4h2.2m1.6 0h1.9m1.9 0h1.9m1.9 0h1.9m5.4 0h1.9m1.9 0h1.9m2.3 0h3.4m14.5 0h1.9m21.7 0h1.9m5.1 0h1.9m13.0 0h1.9m7.4 0h3.9m13.7 0h1.9m2.0 0h1.9m0.9 0h1.9m1.7 0h1.9m7.8 0h2.4m3.0 0h1.9m14.4 0h9.7m2.7 0h1.9m0.9 0h3.6m2.3 0h2.2m0.5 0h1.9m0.9 0h1.9m1.0 0h1.9m1.4 0h3.6m0.7 0h1.9m6.2 0h1.9m5.1 0h1.9m17.5 0h4.7m0.2 0h1.9m1.9 0h4.8m2.2 0h1.9m0.5 0h1.9m4.5 0h6.0m0.5 0h2.8m3.6 0h2.4m2.2 0h3.5m6.6 0h1.9m4.9 0h1.9m1.3 0h1.9m25.7 0h1.9m3.8 0h1.9m3.1 0h1.9m12.4 0h1.9m1.3 0h1.9m0.7 0h1.9m1.6 0h1.9m0.7 0h1.9m1.1 0h1.9m0.6 0h3.8m4.8 0h4.0m3.3 0h1.9m7.9 0h1.9m6.7 0h1.9m13.9 0h1.9m2.6 0h1.9m0.3 0h4.0m1.9 0h1.9m1.6 0h1.9m9.6 0h1.9m0.3 0h1.9m0.8 0h3.1m9.4 0h1.9m6.8 0h4.2m2.4 0h4.1m5.3 0h1.9m4.6 0h1.9M95.1 348.6h1.9m2.1 0h1.9m76.0 0h2.2m4.4 0h1.9m70.7 0h1.9m9.2 0h1.9m0.4 0h1.9m2.1 0h1.9m20.8 0h1.9m4.9 0h1.9m7.3 0h1.9m7.8 0h2.2m6.0 0h1.9m3.0 0h1.9m15.9 0h1.9m13.8 0h2.9m18.1 0h1.9m10.4 0h1.9m9.6 0h1.9m15.6 0h3.4m2.8 0h1.9m2.5 0h1.9m3.4 0h1.9m3.3 0h1.9m11.7 0h2.8m15.9 0h1.9m8.2 0h1.9m15.1 0h1.9m5.2 0h1.9m5.8 0h1.9m20.0 0h1.9m5.8 0h1.9M79.2 345.8h3.6m5.7 0h1.9m0.3 0h1.9m1.3 0h10.5m1.0 0h1.9m1.8 0h1.9m1.2 0h1.9m1.0 0h1.9m0.6 0h2.2m0.2 0h2.1m9.9 0h5.0m0.3 0h3.8m7.3 0h3.1m1.7 0h1.9m2.4 0h1.9m5.6 0h2.3m6.0 0h1.9m4.6 0h1.9m0.7 0h1.9m8.1 0h1.9m1.4 0h3.5m4.2 0h7.5m2.9 0h1.9m3.8 0h1.9m1.0 0h2.3m5.9 0h1.9m6.6 0h4.0m6.8 0h1.9m1.5 0h4.4m1.8 0h3.6m3.5 0h2.6m1.0 0h1.9m5.6 0h6.4m1.3 0h1.9m2.7 0h4.3m2.2 0h10.6m2.1 0h3.3m0.8 0h17.9m3.0 0h2.6m1.8 0h1.9m0.7 0h3.2m2.7 0h1.9m1.1 0h7.7m0.3 0h7.6m1.2 0h4.7m0.8 0h6.8m0.3 0h2.8m0.5 0h3.4m4.0 0h4.9m2.0 0h4.2m3.2 0h4.3m5.2 0h4.6m0.6 0h1.9m0.7 0h2.5m0.7 0h1.9m1.1 0h1.9m1.9 0h1.9m3.3 0h5.4m1.7 0h2.0m0.3 0h10.1m0.7 0h1.9m0.5 0h1.9m1.8 0h4.4m0.4 0h1.9m1.5 0h2.4m3.7 0h2.8m0.4 0h1.9m2.6 0h9.1m1.6 0h3.4m1.5 0h5.5m1.7 0h3.5m0.8 0h1.9m5.5 0h2.8m6.8 0h2.8m2.9 0h1.9m3.9 0h1.9m1.4 0h4.0m6.6 0h3.8m0.9 0h1.9m5.2 0h3.0M79.1 343.0h1.9m3.4 0h1.9m0.7 0h2.7m2.3 0h2.3m0.3 0h1.9m2.1 0h1.9m3.0 0h1.9m1.6 0h1.9m19.4 0h3.7m0.3 0h1.9m5.8 0h3.8m15.2 0h1.9m32.0 0h3.7m6.3 0h1.9m6.4 0h3.9m24.8 0h1.9m16.2 0h3.5m5.3 0h4.0m9.7 0h3.6m0.9 0h1.9m3.8 0h1.9m3.4 0h1.9m3.6 0h1.9m0.5 0h4.3m4.7 0h1.9m0.3 0h7.2m4.8 0h5.3m1.6 0h1.9m1.7 0h1.9m0.7 0h1.9m1.4 0h3.6m0.7 0h1.9m1.0 0h1.9m0.3 0h1.9m10.6 0h1.9m2.6 0h1.9m3.2 0h1.9m0.7 0h1.9m8.2 0h1.9m6.8 0h1.9m0.3 0h3.3m9.3 0h1.9m1.8 0h1.9m7.9 0h3.7m28.3 0h1.9m0.9 0h1.9m5.2 0h1.9m6.4 0h1.9m10.4 0h3.3m1.3 0h1.9m1.0 0h3.4m5.7 0h2.1m0.3 0h1.9m26.2 0h1.9m9.9 0h1.9m8.3 0h1.9m2.7 0h1.9M79.8 340.2h5.6m1.7 0h2.5m4.7 0h2.3m0.8 0h3.1m0.5 0h5.8m3.6 0h1.9m2.6 0h3.4m9.8 0h2.4m7.1 0h2.6m6.0 0h3.6m1.4 0h3.2m1.0 0h1.9m11.0 0h1.9m2.8 0h1.9m2.2 0h1.9m1.8 0h1.9m7.5 0h2.2m3.0 0h1.9m0.9 0h3.4m1.3 0h1.9m0.7 0h5.4m3.1 0h1.9m1.4 0h1.9m6.4 0h1.9m14.8 0h1.9m1.6 0h2.5m16.4 0h3.5m1.1 0h3.0m2.1 0h1.9m1.5 0h1.9m2.0 0h1.9m0.3 0h2.2m10.0 0h4.9m2.4 0h1.9m2.9 0h1.9m2.2 0h2.4m1.1 0h5.4m0.5 0h3.4m2.4 0h4.4m2.7 0h5.2m0.4 0h2.8m0.8 0h2.7m0.2 0h3.5m3.3 0h1.9m0.3 0h4.0m1.1 0h1.9m3.1 0h2.6m3.9 0h3.3m2.6 0h3.0m2.9 0h1.9m1.1 0h1.9m1.5 0h2.3m0.4 0h1.9m2.8 0h1.9m4.4 0h1.9m8.7 0h1.9m6.2 0h1.9m10.7 0h1.9m0.3 0h2.4m5.6 0h1.9m6.6 0h2.9m12.4 0h1.9m2.3 0h4.1m11.3 0h4.7m14.9 0h1.9m8.7 0h1.9m1.5 0h2.1m14.7 0h6.3m3.6 0h2.6m2.7 0h1.9m0.5 0h1.9m0.3 0h1.9m0.7 0h1.9m2.7 0h1.9m0.5 0h1.9M78.7 337.4h1.9m4.7 0h1.9m6.6 0h1.9m15.2 0h1.9m2.5 0h3.7m10.6 0h1.9m1.6 0h1.9m4.2 0h1.9m0.6 0h1.9m14.6 0h1.9m12.7 0h2.7m10.1 0h1.9m0.5 0h2.8m28.8 0h1.9m4.9 0h1.9m7.4 0h1.9m0.4 0h1.9m9.4 0h2.4m6.9 0h1.9m24.3 0h1.9m1.6 0h1.9m3.6 0h1.9m4.2 0h1.9m1.5 0h4.3m3.1 0h1.9m9.3 0h3.5m3.3 0h1.9m0.9 0h2.3m1.9 0h3.6m2.6 0h3.5m1.0 0h1.9m0.7 0h3.7m1.8 0h1.9m1.6 0h1.9m0.7 0h1.9m0.8 0h1.9m21.3 0h5.4m4.8 0h1.9m4.3 0h1.9m8.1 0h1.9m2.6 0h1.9m14.5 0h1.9m11.7 0h2.6m3.4 0h2.7m1.7 0h3.4m5.9 0h1.9m13.8 0h1.9m7.0 0h1.9m1.2 0h1.9m1.6 0h1.9m6.3 0h1.9m6.8 0h1.9m11.9 0h3.8m11.3 0h3.0m3.1 0h1.9m4.1 0h1.9m1.1 0h1.9m2.8 0h1.9M82.6 334.7h1.9m18.9 0h1.9m10.5 0h1.9m4.0 0h1.9m7.8 0h1.9m4.5 0h3.1m1.0 0h1.9m5.1 0h1.9m2.4 0h1.9m3.2 0h2.3m2.9 0h1.9m21.8 0h1.9m5.7 0h1.9m2.3 0h1.9m1.7 0h1.9m1.1 0h3.0m1.1 0h2.8m5.6 0h1.9m5.0 0h1.9m8.2 0h1.9m10.9 0h1.9m3.4 0h1.9m5.1 0h2.5m0.5 0h1.9m3.5 0h3.9m4.1 0h2.9m2.0 0h1.9m3.5 0h1.9m0.8 0h1.9m1.7 0h7.9m0.3 0h1.9m6.7 0h1.9m1.0 0h1.9m4.2 0h1.9m1.0 0h1.9m6.9 0h4.2m2.9 0h2.5m0.7 0h2.6m4.1 0h1.9m1.7 0h1.9m1.9 0h1.9m0.3 0h1.9m1.4 0h1.9m6.6 0h1.9m3.2 0h1.9m8.5 0h1.9m4.2 0h2.0m11.5 0h1.9m6.8 0h2.2m6.2 0h1.9m2.3 0h1.9m2.8 0h2.5m1.2 0h1.9m3.8 0h3.2m1.4 0h1.9m8.2 0h3.1m19.5 0h1.9m3.8 0h1.9m4.2 0h1.9m4.2 0h2.9m3.9 0h3.9m1.9 0h3.4m8.5 0h3.0m2.0 0h1.9m4.4 0h1.9m6.9 0h1.9m3.5 0h1.9m15.4 0h1.9M85.5 331.9h1.9m3.8 0h1.9m4.6 0h1.9m1.0 0h1.9m3.5 0h2.8m7.5 0h1.9m2.1 0h4.2m7.1 0h2.7m14.2 0h1.9m0.4 0h5.0m0.4 0h2.0m1.0 0h1.9m0.7 0h1.9m3.7 0h1.9m5.0 0h2.0m1.2 0h5.1m2.5 0h4.8m3.7 0h6.7m3.6 0h1.9m0.6 0h1.9m3.0 0h3.7m3.5 0h2.6m21.1 0h3.2m1.2 0h2.2m0.3 0h1.9m2.0 0h1.9m6.4 0h1.9m1.8 0h1.9m3.8 0h1.9m5.2 0h1.9m1.7 0h1.9m1.6 0h1.9m0.6 0h3.3m0.7 0h3.9m3.4 0h3.5m0.4 0h1.9m2.3 0h10.4m1.4 0h2.1m3.1 0h1.9m5.0 0h1.9m4.3 0h5.1m1.1 0h5.3m1.0 0h3.7m1.5 0h1.9m1.5 0h6.4m0.2 0h2.4m0.4 0h3.2m6.3 0h3.4m0.7 0h1.9m3.9 0h1.9m1.0 0h1.9m3.5 0h3.1m3.1 0h3.1m4.4 0h1.9m3.5 0h1.9m6.8 0h1.9m4.7 0h5.1m0.3 0h3.3m1.1 0h1.9m8.5 0h1.9m1.5 0h2.8m5.7 0h1.9m3.9 0h2.9m0.9 0h1.9m5.1 0h3.3m3.3 0h1.9m0.3 0h1.9m0.2 0h1.9m7.4 0h4.5m5.3 0h1.9m1.4 0h1.9m1.2 0h1.9m4.2 0h1.9m3.7 0h5.6m0.5 0h1.9m2.0 0h1.9m4.6 0h1.9m9.5 0h1.9m0.6 0h1.9m0.3 0h1.9m4.3 0h1.9m3.0 0h1.9M79.7 329.1h1.9m8.2 0h4.3m2.1 0h1.9m1.1 0h1.9m10.6 0h2.1m9.1 0h1.9m1.3 0h3.6m5.5 0h3.9m6.8 0h1.9m1.5 0h1.9m2.4 0h1.9m2.1 0h2.8m0.7 0h3.9m5.9 0h2.1m2.2 0h1.9m5.3 0h1.9m7.2 0h1.9m0.6 0h3.7m3.0 0h5.0m4.0 0h1.9m6.6 0h1.9m0.3 0h4.0m9.4 0h1.9m3.5 0h5.8m6.4 0h1.9m9.1 0h1.9m1.3 0h2.3m2.2 0h1.9m0.7 0h3.2m6.0 0h1.9m0.5 0h1.9m2.3 0h1.9m0.6 0h6.5m2.0 0h8.0m2.0 0h7.3m6.3 0h5.5m0.5 0h10.5m0.7 0h1.9m4.3 0h3.4m2.6 0h3.2m2.6 0h2.7m1.1 0h1.9m0.9 0h1.9m0.7 0h2.2m2.8 0h3.5m1.5 0h2.8m2.1 0h1.9m0.6 0h1.9m1.2 0h2.2m3.4 0h7.4m8.4 0h3.8m7.8 0h2.2m3.4 0h1.9m5.0 0h3.0m1.0 0h1.9m2.7 0h1.9m1.8 0h1.9m5.1 0h3.9m0.5 0h2.5m2.0 0h1.9m2.9 0h1.9m6.3 0h1.9m4.4 0h1.9m0.4 0h4.0m6.4 0h1.9m0.9 0h1.9m0.7 0h2.7m15.0 0h1.9m2.1 0h3.0m0.5 0h1.9m0.5 0h1.9m6.3 0h4.4m5.0 0h1.9m0.7 0h1.9m4.5 0h1.9m0.8 0h1.9m11.9 0h1.9M84.9 326.3h1.9m0.3 0h1.9m2.5 0h2.0m2.6 0h1.9m4.8 0h1.9m5.0 0h1.9m8.5 0h2.8m1.5 0h2.9m3.7 0h3.8m7.8 0h3.3m0.7 0h3.4m11.5 0h1.9m5.0 0h4.0m11.8 0h1.9m6.4 0h7.0m8.6 0h2.9m0.5 0h1.9m3.3 0h1.9m9.1 0h1.9m12.5 0h1.9m6.7 0h3.6m6.8 0h1.9m6.9 0h1.9m10.0 0h3.2m6.3 0h1.9m0.4 0h4.0m1.1 0h1.9m9.4 0h2.8m5.1 0h5.3m2.9 0h3.2m1.4 0h8.6m8.2 0h1.9m3.9 0h2.3m2.0 0h1.9m0.2 0h1.9m1.3 0h1.9m3.6 0h1.9m7.9 0h1.9m2.2 0h3.0m3.1 0h1.9m3.7 0h1.9m3.3 0h1.9m1.2 0h1.9m12.2 0h1.9m3.3 0h2.9m14.9 0h1.9m20.7 0h3.6m3.6 0h3.6m14.1 0h2.2m6.1 0h2.5m1.8 0h2.4m7.1 0h2.2m7.7 0h1.9m0.4 0h3.9m5.2 0h1.9m2.2 0h3.6m1.2 0h2.1m2.1 0h1.9m4.1 0h1.9m0.2 0h1.9m2.6 0h3.8m2.7 0h1.9m2.8 0h3.1M79.5 323.5h1.9m2.0 0h1.9m0.5 0h1.9m0.7 0h4.9m2.3 0h2.9m4.8 0h4.4m0.7 0h4.7m8.0 0h1.9m4.5 0h2.5m0.9 0h2.9m0.8 0h1.9m1.0 0h1.9m2.0 0h3.0m1.2 0h1.9m1.4 0h3.2m1.3 0h1.9m1.1 0h1.9m0.8 0h5.5m2.9 0h4.9m2.4 0h4.9m1.9 0h1.9m1.2 0h11.6m1.1 0h3.0m6.6 0h1.9m0.6 0h1.9m1.2 0h2.8m5.0 0h3.6m3.0 0h1.9m0.4 0h2.1m1.8 0h8.8m1.1 0h1.9m1.1 0h3.9m1.1 0h3.0m3.6 0h1.9m1.6 0h9.9m0.8 0h1.9m1.7 0h2.0m1.1 0h15.3m0.3 0h2.5m1.3 0h1.9m1.1 0h3.3m0.2 0h6.9m0.3 0h5.5m1.1 0h7.2m0.3 0h9.3m0.3 0h5.6m0.7 0h4.3m1.2 0h3.6m1.1 0h1.9m1.2 0h4.0m0.3 0h3.6m0.5 0h2.0m0.3 0h1.9m1.3 0h4.3m2.7 0h3.1m0.8 0h2.2m1.0 0h9.6m1.5 0h7.1m1.0 0h6.1m2.9 0h2.2m2.5 0h1.9m2.3 0h4.1m8.9 0h1.9m1.7 0h1.9m1.2 0h5.5m1.3 0h4.4m1.7 0h1.9m0.3 0h2.6m0.8 0h1.9m1.9 0h4.2m1.5 0h2.6m0.4 0h1.9m1.2 0h6.6m1.3 0h3.5m2.4 0h4.7m0.4 0h10.2m0.7 0h1.9m0.9 0h3.4m10.6 0h4.7m0.9 0h3.7m4.3 0h5.1m1.8 0h3.8m1.2 0h1.9m1.2 0h1.9m0.7 0h1.9m1.6 0h6.3m1.2 0h6.0m3.9 0h1.9M78.0 320.7h1.9m2.7 0h1.9m4.1 0h1.9m1.5 0h1.9m10.5 0h1.9m5.9 0h1.9m0.4 0h4.2m7.0 0h1.9m0.4 0h3.8m0.8 0h3.5m2.2 0h2.9m0.7 0h3.8m12.1 0h5.5m2.5 0h1.9m2.8 0h5.4m7.8 0h1.9m2.7 0h1.9m1.8 0h1.9m0.7 0h1.9m9.8 0h2.0m0.5 0h1.9m4.7 0h1.9m3.8 0h1.9m1.1 0h1.9m2.4 0h2.7m3.4 0h1.9m16.4 0h1.9m5.0 0h2.5m2.6 0h3.7m9.5 0h2.7m0.9 0h1.9m6.3 0h1.9m1.3 0h1.9m1.4 0h7.2m3.3 0h3.2m2.9 0h1.9m1.9 0h1.9m0.4 0h3.7m4.7 0h1.9m4.2 0h1.9m1.7 0h4.1m0.3 0h3.8m0.8 0h2.4m0.9 0h3.5m2.4 0h1.9m5.8 0h5.3m1.0 0h1.9m0.5 0h3.5m7.4 0h1.9m0.3 0h1.9m1.1 0h1.9m1.8 0h6.4m3.1 0h2.5m3.2 0h1.9m4.9 0h4.6m2.5 0h1.9m3.8 0h5.7m4.7 0h2.7m12.2 0h1.9m2.1 0h1.9m0.2 0h1.9m2.1 0h1.9m3.9 0h1.9m1.2 0h1.9m3.3 0h1.9m6.6 0h1.9m4.0 0h4.0m1.3 0h2.3m1.6 0h1.9m4.1 0h2.9m11.6 0h2.2m16.7 0h1.9m1.7 0h1.9m5.4 0h4.3m0.5 0h1.9m3.9 0h1.9m5.2 0h2.6M79.5 318.0h1.9m6.8 0h1.9m0.5 0h1.9m4.3 0h2.5m0.3 0h10.6m1.1 0h1.9m1.3 0h2.8m3.5 0h3.0m1.7 0h3.1m1.4 0h1.9m0.6 0h2.8m0.5 0h2.0m3.2 0h1.9m10.5 0h6.1m2.9 0h6.3m0.8 0h2.7m2.5 0h1.9m2.2 0h1.9m1.7 0h5.5m0.2 0h1.9m1.4 0h5.7m0.4 0h2.1m0.3 0h3.9m0.9 0h2.6m3.9 0h2.2m3.1 0h2.2m0.8 0h1.9m0.3 0h2.1m0.7 0h1.9m1.0 0h2.5m0.4 0h1.9m1.3 0h4.8m4.4 0h1.9m0.5 0h1.9m2.2 0h4.2m1.5 0h3.1m3.1 0h1.9m1.1 0h3.7m1.4 0h3.7m0.8 0h3.6m0.8 0h3.1m1.7 0h2.8m0.3 0h1.9m0.3 0h8.2m0.2 0h4.7m1.0 0h10.3m2.7 0h4.8m1.1 0h18.0m2.7 0h5.5m3.9 0h3.2m0.3 0h5.4m4.9 0h1.9m1.6 0h1.9m0.6 0h7.6m7.0 0h2.8m0.9 0h1.9m1.7 0h3.7m1.0 0h1.9m0.7 0h1.9m4.0 0h1.9m1.1 0h5.3m3.7 0h1.9m3.2 0h4.4m0.6 0h1.9m1.9 0h13.6m1.2 0h1.9m9.3 0h4.0m0.3 0h2.2m3.0 0h5.1m1.0 0h1.9m0.6 0h5.7m0.2 0h4.8m2.0 0h1.9m2.7 0h1.9m1.3 0h1.9m9.3 0h5.6m3.1 0h1.9m1.1 0h1.9m5.3 0h1.9m0.4 0h2.6m1.5 0h2.2m9.8 0h1.9m0.4 0h1.9m1.6 0h1.9m0.9 0h2.5m2.2 0h2.0m1.8 0h2.2m5.3 0h1.9M80.1 315.2h1.9m1.5 0h4.6m1.1 0h1.9m3.5 0h1.9m8.7 0h2.6m3.6 0h3.4m2.9 0h3.6m0.5 0h3.6m0.6 0h3.5m0.7 0h2.5m1.6 0h1.9m0.7 0h1.9m8.8 0h2.4m3.7 0h1.9m2.6 0h1.9m9.3 0h1.9m10.2 0h2.7m2.3 0h1.9m12.0 0h1.9m0.8 0h1.9m5.1 0h1.9m3.3 0h1.9m4.8 0h1.9m4.7 0h1.9m4.0 0h1.9m1.6 0h4.0m5.2 0h1.9m10.9 0h4.2m0.9 0h6.4m2.2 0h1.9m8.1 0h1.9m0.7 0h5.5m0.6 0h4.7m3.7 0h3.0m0.5 0h4.9m2.7 0h6.4m1.1 0h4.6m4.3 0h6.7m2.9 0h6.7m4.8 0h1.9m0.3 0h10.7m2.4 0h4.1m1.5 0h2.5m7.7 0h1.9m1.1 0h3.2m0.6 0h3.0m2.6 0h1.9m12.6 0h1.9m3.7 0h2.9m6.3 0h1.9m6.7 0h1.9m6.6 0h2.0m1.7 0h2.5m3.0 0h2.2m0.5 0h1.9m1.5 0h1.9m0.4 0h5.0m1.1 0h1.9m14.4 0h1.9m2.3 0h2.4m10.8 0h1.9m3.7 0h1.9m1.0 0h4.3m16.0 0h1.9m9.2 0h4.7m1.6 0h4.1m7.7 0h1.9m3.4 0h1.9m3.2 0h1.9M79.3 312.4h2.9m2.0 0h1.9m11.9 0h1.9m3.5 0h3.8m17.8 0h1.9m3.3 0h5.7m0.7 0h1.9m1.8 0h5.4m3.0 0h1.9m1.0 0h2.8m5.5 0h3.1m5.7 0h2.5m2.7 0h1.9m1.1 0h4.0m4.4 0h3.7m5.4 0h1.9m5.9 0h3.2m1.0 0h3.2m2.4 0h6.2m2.3 0h1.9m5.7 0h1.9m1.8 0h1.9m8.7 0h1.9m16.8 0h1.9m0.4 0h3.4m1.8 0h1.9m14.1 0h6.6m2.8 0h1.9m0.4 0h1.9m2.2 0h6.5m1.5 0h5.1m0.7 0h1.9m1.3 0h3.8m0.4 0h1.9m2.3 0h3.2m3.3 0h2.5m0.4 0h1.9m0.4 0h2.0m4.7 0h2.5m1.7 0h1.9m1.3 0h1.9m2.0 0h5.0m3.6 0h3.7m2.8 0h1.9m3.3 0h1.9m2.9 0h1.9m1.5 0h5.0m3.4 0h2.6m2.6 0h2.4m0.9 0h1.9m13.1 0h1.9m5.9 0h1.9m9.0 0h2.0m1.1 0h3.3m3.3 0h1.9m6.8 0h1.9m1.7 0h3.8m0.9 0h1.9m3.4 0h1.9m2.0 0h1.9m0.8 0h2.1m4.8 0h1.9m1.0 0h1.9m3.9 0h2.5m7.2 0h1.9m3.3 0h1.9m4.5 0h1.9m0.4 0h1.9m5.3 0h1.9m0.4 0h1.9m29.6 0h3.5m3.2 0h2.1m0.6 0h1.9m3.0 0h2.3M78.2 309.6h1.9m4.7 0h3.5m7.1 0h1.9m1.0 0h1.9m1.1 0h1.9m0.2 0h2.3m0.7 0h1.9m4.2 0h1.9m5.2 0h1.9m4.8 0h3.3m0.6 0h4.0m5.2 0h1.9m4.0 0h1.9m0.3 0h1.9m0.4 0h3.9m9.0 0h1.9m1.5 0h2.8m1.5 0h3.6m0.4 0h6.6m0.9 0h2.4m1.6 0h2.2m2.0 0h2.4m1.6 0h3.2m1.8 0h5.6m4.1 0h1.9m1.3 0h2.7m23.5 0h1.9m1.6 0h1.9m5.0 0h1.9m1.5 0h10.0m1.0 0h12.6m2.5 0h4.1m1.0 0h3.8m0.2 0h3.7m2.0 0h1.9m3.8 0h6.3m1.0 0h10.3m1.8 0h4.6m1.5 0h6.4m0.8 0h4.0m0.6 0h4.3m2.3 0h14.6m1.0 0h4.2m2.3 0h11.4m1.3 0h7.4m3.7 0h1.9m2.7 0h2.8m4.9 0h3.3m1.8 0h1.9m3.5 0h1.9m6.2 0h3.9m2.7 0h1.9m5.8 0h1.9m2.2 0h3.3m3.9 0h1.9m2.6 0h7.1m1.0 0h2.3m1.6 0h1.9m0.5 0h6.0m0.3 0h2.3m0.7 0h1.9m4.8 0h2.9m1.3 0h1.9m0.6 0h1.9m0.4 0h3.3m3.0 0h2.8m2.2 0h1.9m0.4 0h2.6m2.3 0h1.9m4.2 0h1.9m1.3 0h3.6m7.1 0h3.4m1.6 0h1.9m11.8 0h1.9m2.0 0h6.2m4.2 0h6.4m5.5 0h1.9M99.9 306.8h1.9m2.8 0h1.9m13.5 0h2.9m0.4 0h3.7m1.2 0h1.9m1.4 0h1.9m1.7 0h1.9m3.7 0h1.9m5.1 0h2.3m0.5 0h1.9m9.9 0h1.9m2.1 0h1.9m14.3 0h1.9m4.9 0h4.9m0.5 0h2.0m0.3 0h2.7m2.2 0h1.9m0.6 0h1.9m4.1 0h1.9m3.9 0h1.9m0.8 0h1.9m8.6 0h1.9m2.1 0h1.9m4.5 0h1.9m3.8 0h1.9m2.4 0h1.9m3.7 0h1.9m5.9 0h3.0m7.4 0h4.8m0.4 0h1.9m6.3 0h4.5m0.8 0h2.8m4.1 0h2.7m1.9 0h5.3m1.0 0h10.3m2.5 0h1.9m1.8 0h6.5m0.3 0h5.2m1.0 0h1.9m0.3 0h4.6m0.7 0h1.9m1.0 0h8.0m0.2 0h1.9m1.7 0h1.9m0.2 0h4.0m2.1 0h1.9m2.7 0h1.9m4.9 0h2.8m1.6 0h1.9m0.7 0h2.5m1.6 0h1.9m2.8 0h1.9m0.2 0h3.0m1.0 0h1.9m9.3 0h1.9m6.6 0h3.2m5.1 0h1.9m0.2 0h1.9m0.3 0h1.9m7.2 0h1.9m1.7 0h2.7m0.3 0h3.6m2.3 0h1.9m0.5 0h3.2m0.5 0h1.9m6.1 0h1.9m0.6 0h2.9m4.4 0h1.9m9.0 0h3.2m7.4 0h1.9m2.5 0h1.9m0.9 0h3.2m2.3 0h2.4m9.0 0h3.9m3.8 0h1.9m0.7 0h3.9m11.8 0h3.7m9.3 0h1.9m3.0 0h1.9M84.0 304.0h3.4m1.1 0h3.6m4.8 0h4.0m8.0 0h1.9m1.8 0h1.9m3.1 0h1.9m6.0 0h1.9m0.5 0h1.9m0.3 0h4.4m1.2 0h3.4m8.5 0h1.9m1.8 0h1.9m10.3 0h3.9m1.2 0h4.1m3.2 0h1.9m0.5 0h1.9m0.7 0h2.0m1.0 0h4.2m1.8 0h1.9m1.4 0h1.9m3.5 0h1.9m12.5 0h3.4m4.0 0h1.9m0.3 0h3.6m0.6 0h2.2m1.3 0h1.9m0.8 0h1.9m4.2 0h1.9m1.1 0h4.2m6.1 0h6.1m0.4 0h8.1m0.2 0h1.9m3.6 0h1.9m0.9 0h2.7m4.4 0h4.6m3.7 0h1.9m1.2 0h6.3m4.2 0h3.5m0.3 0h2.0m0.3 0h1.9m1.2 0h9.6m0.3 0h7.9m1.5 0h11.5m0.6 0h18.4m1.8 0h5.3m4.6 0h1.9m4.4 0h2.1m0.6 0h1.9m0.9 0h4.7m2.3 0h1.9m0.2 0h5.2m3.7 0h3.6m2.6 0h3.3m0.4 0h1.9m6.8 0h1.9m1.4 0h5.5m7.9 0h1.9m3.5 0h1.9m0.8 0h1.9m0.9 0h6.7m1.8 0h1.9m0.5 0h1.9m0.3 0h1.9m0.9 0h1.9m9.4 0h1.9m11.2 0h1.9m1.1 0h4.5m1.7 0h9.1m0.7 0h1.9m9.5 0h1.9m0.6 0h1.9m0.6 0h2.0m0.6 0h2.7m0.4 0h4.1m0.4 0h1.9m2.9 0h3.2m3.5 0h1.9m0.3 0h6.4m3.9 0h1.9m2.1 0h1.9m1.4 0h3.9M80.7 301.3h2.5m3.9 0h3.0m1.3 0h2.1m31.7 0h1.9m6.4 0h1.9m7.8 0h1.9m5.2 0h1.9m0.9 0h1.9m1.2 0h3.9m2.8 0h1.9m0.8 0h2.2m0.6 0h1.9m15.7 0h1.9m0.5 0h1.9m6.9 0h1.9m3.2 0h1.9m6.4 0h2.1m1.8 0h1.9m3.1 0h2.2m0.9 0h2.7m12.0 0h3.1m4.4 0h1.9m0.8 0h2.1m3.0 0h1.9m1.7 0h1.9m4.2 0h3.8m6.0 0h1.9m0.8 0h1.9m0.5 0h1.9m5.0 0h1.9m2.3 0h2.3m0.6 0h1.9m1.3 0h2.5m2.6 0h3.4m3.4 0h1.9m7.3 0h1.9m0.2 0h1.9m0.3 0h10.3m3.1 0h8.0m2.1 0h3.1m1.3 0h4.1m0.6 0h1.9m1.3 0h1.9m5.6 0h3.6m1.1 0h1.9m0.2 0h5.4m1.6 0h4.2m1.9 0h2.2m6.3 0h7.2m3.4 0h1.9m4.0 0h1.9m3.6 0h3.9m2.0 0h3.6m9.8 0h1.9m12.7 0h6.3m1.3 0h1.9m5.0 0h1.9m14.9 0h1.9m10.3 0h3.5m1.3 0h1.9m3.7 0h1.9m3.3 0h1.9m2.0 0h1.9m4.1 0h1.9m1.5 0h1.9m3.4 0h1.9m3.7 0h3.9m1.6 0h3.7m2.9 0h1.9m4.2 0h6.4m1.5 0h1.9m3.4 0h1.9m3.7 0h2.7m1.8 0h1.9M87.5 298.5h4.4m21.4 0h1.9m3.4 0h2.0m36.6 0h1.9m0.8 0h1.9m15.8 0h1.9m5.9 0h4.9m3.9 0h1.9m10.0 0h1.9m1.3 0h3.4m19.7 0h1.9m0.8 0h1.9m23.4 0h1.9m4.6 0h1.9m4.7 0h3.1m4.3 0h1.9m1.7 0h1.9m5.1 0h1.9m6.7 0h1.9m7.1 0h5.5m4.9 0h2.8m1.8 0h1.9m2.0 0h4.5m1.5 0h1.9m0.8 0h5.3m7.8 0h2.3m0.4 0h3.2m0.9 0h1.9m3.6 0h3.9m9.0 0h1.9m4.9 0h1.9m1.6 0h1.9m4.2 0h1.9m13.0 0h1.9m8.1 0h1.9m24.6 0h1.9m1.3 0h1.9m17.4 0h1.9m22.7 0h1.9m14.7 0h1.9m7.7 0h3.3m0.5 0h1.9m14.1 0h1.9m7.4 0h1.9m3.7 0h1.9m0.7 0h1.9m0.4 0h1.9M78.8 295.7h3.6m13.2 0h1.9m1.4 0h1.9m5.1 0h1.9m6.6 0h3.3m4.1 0h1.9m0.2 0h1.9m0.6 0h1.9m13.4 0h1.9m1.0 0h3.2m5.8 0h1.9m1.0 0h1.9m6.6 0h3.5m0.3 0h1.9m6.3 0h3.5m4.7 0h2.7m5.7 0h1.9m18.2 0h3.9m0.4 0h1.9m2.2 0h2.8m0.6 0h1.9m11.1 0h1.9m1.2 0h1.9m2.6 0h2.0m10.4 0h3.1m1.7 0h1.9m2.4 0h4.7m3.6 0h1.9m6.4 0h2.0m0.5 0h1.9m1.7 0h4.3m2.0 0h1.9m0.6 0h8.3m5.4 0h1.9m0.4 0h1.9m1.5 0h1.9m1.4 0h1.9m1.5 0h3.8m1.3 0h3.0m3.6 0h2.6m0.7 0h1.9m1.7 0h3.6m3.6 0h2.2m3.9 0h5.1m0.9 0h2.3m1.4 0h1.9m3.1 0h3.2m1.1 0h1.9m2.7 0h1.9m3.3 0h1.9m0.3 0h3.4m1.5 0h1.9m4.2 0h1.9m1.2 0h3.3m16.4 0h1.9m0.5 0h1.9m3.5 0h1.9m3.5 0h2.1m6.0 0h1.9m11.7 0h1.9m1.2 0h1.9m8.1 0h1.9m5.4 0h1.9m0.9 0h1.9m0.3 0h2.7m2.7 0h3.1m8.8 0h1.9m2.8 0h1.9m9.4 0h1.9m3.0 0h3.4m8.7 0h1.9m1.9 0h1.9m4.6 0h1.9m6.3 0h1.9m6.5 0h1.9m2.7 0h1.9m4.0 0h1.9M90.7 292.9h1.9m16.0 0h1.9m3.8 0h1.9m9.6 0h1.9m10.0 0h1.9m3.3 0h1.9m0.4 0h1.9m11.8 0h1.9m7.9 0h1.9m14.8 0h1.9m0.2 0h1.9m19.7 0h1.9m11.7 0h1.9m3.2 0h1.9m0.7 0h1.9m7.8 0h1.9m2.2 0h3.7m9.2 0h1.9m8.3 0h1.9m3.3 0h1.9m2.8 0h3.5m7.4 0h1.9m4.2 0h2.7m2.0 0h1.9m0.3 0h1.9m5.1 0h1.9m2.0 0h1.9m1.8 0h2.4m2.2 0h5.0m0.7 0h1.9m0.9 0h3.3m11.2 0h3.2m1.7 0h1.9m5.3 0h1.9m3.7 0h4.6m1.2 0h1.9m10.3 0h1.9m2.4 0h1.9m0.6 0h1.9m0.4 0h1.9m0.5 0h1.9m3.5 0h1.9m4.5 0h4.3m3.7 0h1.9m1.7 0h2.2m12.6 0h1.9m18.3 0h1.9m35.3 0h2.5m0.7 0h1.9m13.1 0h1.9m1.6 0h1.9m3.8 0h5.4m0.5 0h2.4m4.7 0h2.7m0.6 0h1.9m33.8 0h2.6m2.2 0h1.9M79.3 290.1h6.9m0.5 0h2.5m7.5 0h1.9m1.4 0h1.9m8.0 0h1.9m4.8 0h2.0m5.3 0h1.9m2.2 0h4.3m0.5 0h1.9m0.3 0h1.9m0.6 0h1.9m2.5 0h1.9m1.9 0h1.9m13.1 0h6.7m0.4 0h1.9m2.8 0h2.8m2.5 0h2.5m3.5 0h3.0m14.0 0h1.9m1.4 0h1.9m8.1 0h5.3m4.1 0h4.5m2.4 0h1.9m3.4 0h1.9m3.0 0h3.6m5.7 0h3.3m0.2 0h2.7m9.2 0h3.4m0.5 0h2.0m2.4 0h2.9m1.2 0h1.9m1.5 0h3.3m0.2 0h1.9m1.2 0h2.7m1.9 0h3.1m0.8 0h1.9m2.2 0h1.9m1.8 0h7.4m0.6 0h2.9m1.2 0h4.4m0.2 0h3.9m3.8 0h1.9m1.5 0h3.0m0.9 0h1.9m1.5 0h3.6m1.5 0h3.3m2.2 0h5.1m0.5 0h1.9m0.3 0h1.9m2.0 0h3.9m1.6 0h5.1m2.6 0h2.5m5.0 0h1.9m0.4 0h1.9m0.8 0h2.4m12.8 0h1.9m1.3 0h3.1m12.1 0h3.7m5.1 0h2.9m12.1 0h1.9m5.0 0h3.2m0.9 0h3.8m0.8 0h1.9m0.5 0h4.8m1.2 0h3.2m0.5 0h1.9m4.6 0h1.9m1.1 0h1.9m6.5 0h3.9m1.9 0h1.9m3.7 0h1.9m4.7 0h2.6m0.3 0h2.6m19.3 0h5.4m4.5 0h2.2m1.5 0h1.9m1.1 0h1.9m5.6 0h2.1m4.6 0h1.9m1.3 0h1.9M81.3 287.3h8.2m1.3 0h4.9m3.8 0h14.8m1.5 0h5.2m14.4 0h4.0m1.3 0h5.6m7.4 0h2.2m1.6 0h2.5m5.6 0h7.7m2.1 0h1.9m0.4 0h1.9m0.4 0h3.2m1.2 0h1.9m2.5 0h4.3m2.5 0h1.9m4.4 0h5.6m0.9 0h4.6m0.3 0h6.1m2.7 0h1.9m1.1 0h3.8m0.3 0h1.9m0.5 0h4.7m0.3 0h5.1m2.3 0h1.9m1.6 0h1.9m2.3 0h2.3m1.3 0h4.1m1.0 0h1.9m4.0 0h5.5m1.4 0h1.9m0.7 0h6.1m2.2 0h4.4m4.2 0h4.2m1.5 0h28.2m0.2 0h36.2m0.2 0h4.5m0.6 0h2.7m0.8 0h10.5m0.7 0h1.9m0.4 0h4.8m6.0 0h5.8m1.1 0h4.8m5.0 0h1.9m1.1 0h5.6m4.0 0h4.0m1.2 0h3.3m2.6 0h1.9m1.2 0h1.9m5.1 0h1.9m0.9 0h5.3m0.3 0h8.7m0.7 0h2.4m0.8 0h1.9m4.5 0h3.5m1.0 0h6.5m2.3 0h2.5m4.9 0h5.1m0.3 0h1.9m0.6 0h1.9m1.0 0h3.0m1.1 0h1.9m1.3 0h2.9m3.1 0h4.1m3.9 0h3.2m0.8 0h1.9m2.4 0h3.9m0.6 0h3.6m0.9 0h1.9m0.3 0h7.5m2.4 0h5.8m1.4 0h3.0m4.0 0h3.5M78.7 284.6h2.1m2.6 0h12.7m2.0 0h5.6m5.7 0h1.9m0.4 0h3.6m1.4 0h5.9m0.8 0h2.4m2.3 0h1.9m2.8 0h2.1m0.4 0h3.8m0.2 0h1.9m1.6 0h1.9m2.3 0h3.5m1.6 0h1.9m2.1 0h3.9m2.7 0h1.9m0.3 0h5.0m0.7 0h2.2m2.7 0h8.4m0.8 0h4.8m4.0 0h1.9m11.8 0h6.6m2.0 0h3.6m0.3 0h3.5m3.0 0h2.4m0.6 0h3.7m4.7 0h5.5m0.9 0h1.9m0.6 0h1.9m5.5 0h2.8m1.8 0h3.0m0.2 0h4.3m2.0 0h1.9m0.6 0h1.9m0.3 0h4.0m0.8 0h1.9m0.2 0h4.3m1.8 0h28.5m0.5 0h24.5m1.1 0h7.5m0.3 0h10.5m1.2 0h5.9m1.1 0h5.2m0.2 0h4.7m2.4 0h1.9m1.8 0h3.8m2.2 0h5.2m0.5 0h1.9m2.3 0h6.9m0.7 0h1.9m1.4 0h2.2m3.3 0h1.9m1.7 0h2.1m1.1 0h1.9m4.5 0h1.9m4.7 0h1.9m1.1 0h6.3m0.6 0h6.4m2.7 0h1.9m4.5 0h1.9m2.9 0h1.9m1.5 0h7.9m2.0 0h2.8m9.3 0h6.8m2.3 0h1.9m3.6 0h3.8m6.4 0h3.6m0.8 0h1.9m3.5 0h1.9m2.4 0h1.9m2.5 0h5.3m1.3 0h3.6m1.3 0h1.9m0.6 0h3.0m0.9 0h3.9m3.2 0h1.9m0.5 0h3.7m3.2 0h2.6M82.7 281.8h1.9m0.5 0h1.9m0.7 0h1.9m9.7 0h1.9m3.1 0h1.9m7.0 0h1.9m9.8 0h1.9m0.3 0h3.9m1.8 0h1.9m1.3 0h6.1m2.2 0h1.9m5.1 0h3.1m10.9 0h1.9m23.8 0h4.0m2.4 0h1.9m2.5 0h1.9m7.8 0h1.9m4.4 0h1.9m4.7 0h1.9m0.6 0h1.9m0.3 0h1.9m1.2 0h1.9m3.7 0h1.9m2.2 0h1.9m0.5 0h1.9m6.6 0h3.8m4.9 0h1.9m2.5 0h2.3m2.6 0h3.0m2.8 0h1.9m3.8 0h1.9m2.1 0h1.9m4.8 0h1.9m1.9 0h2.1m1.6 0h6.1m0.7 0h2.9m0.8 0h1.9m5.3 0h3.0m2.6 0h1.9m4.5 0h7.3m0.9 0h1.9m1.0 0h2.1m6.9 0h1.9m5.9 0h2.6m8.6 0h2.7m0.6 0h1.9m1.3 0h1.9m2.7 0h3.6m0.6 0h3.0m9.5 0h1.9m3.4 0h1.9m2.1 0h3.9m3.1 0h1.9m0.3 0h1.9m2.7 0h1.9m1.5 0h1.9m6.9 0h2.3m1.3 0h1.9m1.7 0h1.9m4.2 0h1.9m13.6 0h1.9m2.6 0h1.9m4.9 0h1.9m6.6 0h1.9m6.2 0h1.9m4.9 0h1.9m0.6 0h1.9m8.3 0h1.9m3.8 0h3.9m0.7 0h1.9m8.4 0h1.9m14.6 0h1.9m8.4 0h1.9m5.9 0h3.5m3.3 0h1.9M93.1 279.0h2.3m11.6 0h1.9m12.6 0h3.2m17.3 0h1.9m4.8 0h1.9m7.3 0h1.9m6.6 0h1.9m9.6 0h1.9m30.9 0h1.9m5.3 0h3.5m18.1 0h1.9m3.5 0h1.9m9.5 0h1.9m9.9 0h1.9m3.3 0h1.9m8.8 0h1.9m3.5 0h1.9m1.4 0h1.9m3.9 0h3.1m4.3 0h6.6m3.2 0h1.9m2.7 0h1.9m3.9 0h3.1m0.6 0h3.1m3.4 0h2.6m7.8 0h1.9m7.2 0h1.9m14.3 0h1.9m7.7 0h1.9m5.8 0h1.9m2.2 0h1.9m3.7 0h1.9m0.6 0h2.8m12.8 0h1.9m25.8 0h1.9m21.6 0h1.9m29.3 0h1.9m8.2 0h1.9m10.7 0h1.9m1.1 0h1.9m2.9 0h2.6m2.1 0h1.9m7.9 0h2.1M80.5 276.2h1.9m2.4 0h1.9m3.4 0h1.9m4.6 0h3.2m1.5 0h4.0m0.4 0h2.9m18.5 0h2.3m0.2 0h1.9m1.4 0h2.2m0.6 0h1.9m0.7 0h1.9m1.5 0h3.4m2.4 0h4.0m0.5 0h4.3m1.6 0h1.9m4.6 0h1.9m1.1 0h3.4m0.8 0h1.9m1.9 0h4.2m2.5 0h1.9m4.8 0h2.1m0.6 0h9.3m5.3 0h1.9m6.8 0h1.9m2.3 0h6.9m0.7 0h1.9m2.6 0h1.9m4.6 0h1.9m1.9 0h2.7m1.8 0h6.3m1.2 0h5.1m6.5 0h4.4m0.3 0h19.5m1.1 0h9.1m0.3 0h6.4m0.7 0h4.1m0.2 0h8.8m0.7 0h11.5m1.7 0h1.9m1.2 0h3.4m0.9 0h13.9m0.4 0h1.9m0.8 0h5.1m0.3 0h1.9m1.4 0h4.2m0.9 0h1.9m0.5 0h3.0m1.1 0h5.0m0.9 0h4.5m1.0 0h5.5m4.4 0h4.0m0.9 0h8.7m5.3 0h3.4m2.2 0h1.9m1.4 0h1.9m0.9 0h1.9m0.9 0h1.9m2.6 0h2.8m0.7 0h1.9m2.7 0h3.1m1.5 0h5.6m5.4 0h1.9m3.2 0h1.9m0.8 0h1.9m0.2 0h5.8m1.0 0h1.9m2.9 0h1.9m3.4 0h1.9m9.7 0h11.1m3.6 0h3.9m9.3 0h1.9m0.7 0h1.9m7.4 0h3.1m1.1 0h3.4m5.7 0h2.9m8.6 0h3.0m3.1 0h1.9M80.9 273.4h1.9m8.5 0h3.5m2.1 0h2.0m4.2 0h1.9m7.9 0h3.7m1.9 0h4.0m1.7 0h1.9m3.1 0h1.9m3.5 0h1.9m2.2 0h3.0m0.6 0h1.9m3.1 0h5.3m5.2 0h2.7m13.5 0h3.9m0.9 0h1.9m4.5 0h3.4m5.4 0h1.9m3.7 0h1.9m4.1 0h2.2m4.4 0h4.0m1.7 0h1.9m5.1 0h2.2m1.1 0h1.9m1.1 0h1.9m0.7 0h1.9m0.5 0h1.9m6.8 0h1.9m2.5 0h1.9m10.4 0h1.9m10.9 0h3.9m0.6 0h3.8m2.0 0h3.2m0.8 0h1.9m1.7 0h1.9m3.1 0h3.1m3.8 0h4.6m1.5 0h10.8m0.4 0h8.4m1.3 0h7.1m0.3 0h6.7m0.6 0h5.4m1.2 0h1.9m0.5 0h2.1m0.3 0h3.4m0.6 0h3.0m0.6 0h5.5m2.4 0h1.9m1.4 0h5.6m1.1 0h3.1m0.8 0h6.7m5.6 0h3.8m2.3 0h1.9m3.6 0h3.3m4.4 0h1.9m5.0 0h2.3m4.2 0h3.1m1.1 0h1.9m0.8 0h3.5m0.8 0h1.9m2.5 0h2.3m0.8 0h4.5m1.5 0h1.9m3.7 0h1.9m4.8 0h3.3m0.4 0h2.7m3.4 0h1.9m5.2 0h4.5m1.8 0h1.9m2.9 0h2.5m1.2 0h3.7m0.6 0h1.9m4.9 0h1.9m1.7 0h3.8m3.6 0h1.9m2.3 0h3.8m2.3 0h4.0m1.8 0h6.2m2.0 0h3.6m0.7 0h5.8m4.8 0h1.9m1.2 0h1.9M80.2 270.6h4.1m2.3 0h6.1m4.9 0h4.1m2.3 0h1.9m1.0 0h4.9m0.3 0h12.3m1.8 0h3.0m1.1 0h6.6m2.1 0h6.5m1.8 0h2.1m0.6 0h3.3m0.3 0h3.0m1.1 0h2.1m4.0 0h3.3m0.6 0h9.1m0.6 0h3.2m0.7 0h1.9m0.4 0h2.1m0.6 0h4.0m1.0 0h3.3m0.6 0h1.9m0.6 0h1.9m1.5 0h2.2m1.5 0h3.7m0.4 0h1.9m1.3 0h14.8m1.3 0h5.0m5.9 0h1.9m0.3 0h1.9m0.4 0h2.9m0.6 0h15.7m1.1 0h7.5m0.7 0h6.8m0.3 0h11.4m0.2 0h33.9m0.6 0h6.6m1.9 0h33.7m4.0 0h1.9m1.0 0h6.3m2.5 0h6.8m0.4 0h4.3m0.6 0h2.5m2.7 0h2.2m0.5 0h6.8m3.3 0h9.1m3.8 0h1.9m0.5 0h3.7m3.4 0h15.2m0.6 0h3.6m3.5 0h1.9m1.7 0h1.9m2.7 0h3.7m0.9 0h5.6m1.8 0h2.1m1.1 0h1.9m1.3 0h8.0m3.7 0h7.0m1.3 0h4.5m1.5 0h1.9m0.4 0h2.3m5.2 0h1.9m3.0 0h1.9m0.5 0h4.0m0.7 0h11.2m1.1 0h1.9m0.8 0h1.9m9.8 0h1.9m1.0 0h3.3m1.8 0h7.0M78.5 267.8h3.5m3.6 0h1.9m4.9 0h2.2m1.0 0h5.5m0.4 0h7.4m2.1 0h3.3m0.4 0h4.4m1.8 0h4.4m5.5 0h3.2m3.2 0h1.9m4.3 0h4.9m2.3 0h7.5m0.3 0h4.0m3.0 0h1.9m1.5 0h5.8m0.2 0h3.7m1.0 0h3.1m0.3 0h1.9m0.9 0h1.9m0.9 0h1.9m0.9 0h3.5m1.6 0h6.3m0.6 0h3.0m0.6 0h2.2m1.4 0h3.3m0.3 0h2.4m4.1 0h1.9m1.9 0h1.9m2.4 0h2.2m1.0 0h3.7m3.4 0h5.0m0.6 0h2.3m1.2 0h1.9m0.9 0h1.9m0.6 0h3.0m0.4 0h8.7m0.3 0h12.0m2.9 0h4.6m0.2 0h6.3m0.5 0h6.9m0.6 0h28.8m0.3 0h51.3m1.0 0h2.3m0.3 0h4.4m0.3 0h2.8m1.3 0h5.3m0.2 0h7.1m0.3 0h1.9m0.7 0h1.9m0.4 0h1.9m2.2 0h3.8m2.1 0h4.1m0.4 0h2.0m1.9 0h6.2m2.2 0h6.1m0.3 0h4.7m0.2 0h11.5m3.2 0h5.9m2.9 0h4.5m0.6 0h2.3m0.2 0h2.4m10.0 0h3.8m1.5 0h1.9m0.7 0h1.9m2.2 0h1.9m2.4 0h6.7m1.1 0h1.9m1.5 0h3.6m0.3 0h4.8m0.3 0h7.1m1.9 0h1.9m1.5 0h2.2m5.2 0h1.9m0.4 0h2.8m0.2 0h10.2m0.5 0h2.0m4.0 0h3.8M80.4 265.1h1.9m1.6 0h1.9m0.7 0h1.9m4.0 0h2.6m6.1 0h2.0m5.2 0h5.1m12.8 0h1.9m2.1 0h2.0m6.5 0h1.9m2.3 0h1.9m3.6 0h1.9m1.4 0h1.9m1.7 0h1.9m1.5 0h1.9m0.7 0h2.6m4.2 0h1.9m2.4 0h3.0m0.5 0h3.2m0.7 0h1.9m3.2 0h2.2m1.0 0h1.9m24.9 0h1.9m15.5 0h3.3m16.4 0h1.9m11.1 0h3.3m7.4 0h1.9m2.3 0h3.4m0.7 0h4.4m2.7 0h2.3m0.5 0h6.1m2.3 0h4.5m1.6 0h4.3m0.4 0h1.9m2.1 0h3.6m1.3 0h1.9m1.1 0h1.9m5.3 0h7.7m3.6 0h4.6m2.1 0h1.9m2.0 0h2.2m1.2 0h6.2m1.6 0h1.9m2.4 0h1.9m1.7 0h5.9m5.4 0h1.9m2.7 0h1.9m7.0 0h2.0m2.6 0h1.9m1.8 0h1.9m3.7 0h1.9m0.2 0h1.9m0.6 0h1.9m3.6 0h1.9m1.1 0h4.3m2.7 0h2.6m5.1 0h1.9m0.4 0h1.9m4.2 0h1.9m2.5 0h3.2m6.5 0h1.9m8.6 0h1.9m1.6 0h1.9m2.0 0h1.9m3.6 0h1.9m3.6 0h1.9m4.9 0h1.9m5.2 0h2.0m1.0 0h1.9m7.0 0h3.9m4.7 0h1.9m0.3 0h1.9m3.4 0h1.9m1.6 0h4.7m6.8 0h1.9m3.2 0h1.9m6.7 0h1.9m6.3 0h3.0M79.6 262.3h1.9m2.3 0h1.9m2.0 0h1.9m5.0 0h1.9m1.2 0h3.6m5.5 0h1.9m0.9 0h5.6m3.2 0h1.9m10.7 0h1.9m6.9 0h1.9m5.2 0h5.3m10.3 0h1.9m9.8 0h3.0m9.8 0h1.9m1.8 0h1.9m4.3 0h3.2m0.6 0h1.9m4.4 0h1.9m7.0 0h2.7m0.5 0h1.9m5.3 0h1.9m6.8 0h1.9m7.4 0h1.9m2.2 0h1.9m0.8 0h1.9m2.3 0h1.9m3.5 0h1.9m1.3 0h1.9m3.2 0h2.8m2.4 0h1.9m3.1 0h1.9m0.3 0h1.9m6.2 0h4.7m1.8 0h1.9m1.5 0h2.5m2.4 0h1.9m2.2 0h4.2m3.3 0h6.8m0.3 0h1.9m0.3 0h4.0m0.9 0h5.2m1.8 0h3.4m1.7 0h5.2m3.6 0h1.9m1.0 0h4.8m0.7 0h3.5m1.9 0h3.7m0.3 0h6.7m5.7 0h1.9m9.9 0h1.9m5.0 0h1.9m7.8 0h3.7m30.1 0h1.9m2.2 0h1.9m4.9 0h1.9m4.1 0h1.9m2.9 0h2.7m30.8 0h1.9m5.6 0h1.9m8.5 0h1.9m3.4 0h1.9m31.5 0h1.9m0.3 0h2.1m9.1 0h1.9M97.1 259.5h1.9m3.3 0h5.6m6.5 0h1.9m3.0 0h5.3m6.5 0h2.9m1.0 0h1.9m2.3 0h2.6m3.9 0h1.9m1.1 0h1.9m3.2 0h2.9m6.1 0h1.9m1.3 0h3.1m12.3 0h4.3m1.0 0h3.3m7.5 0h1.9m0.5 0h1.9m1.0 0h1.9m1.3 0h1.9m2.4 0h5.6m18.4 0h1.9m4.5 0h1.9m3.2 0h1.9m7.9 0h1.9m6.5 0h1.9m1.0 0h2.0m3.5 0h3.9m2.1 0h3.1m2.6 0h2.4m2.5 0h3.6m1.4 0h5.4m1.1 0h1.9m2.0 0h3.9m1.6 0h2.1m0.2 0h3.1m1.5 0h1.9m1.4 0h7.9m1.0 0h2.4m0.3 0h9.5m0.3 0h3.1m1.9 0h1.9m2.6 0h4.6m2.2 0h1.9m0.4 0h3.0m2.0 0h2.1m3.4 0h9.6m0.5 0h1.9m17.1 0h2.0m5.0 0h1.9m8.3 0h1.9m6.4 0h3.5m3.6 0h2.0m0.9 0h3.7m4.3 0h2.9m2.2 0h3.6m0.3 0h6.0m0.7 0h1.9m5.5 0h1.9m1.4 0h1.9m1.9 0h8.7m0.4 0h1.9m0.9 0h1.9m0.7 0h1.9m0.4 0h7.3m4.2 0h1.9m1.3 0h1.9m22.7 0h1.9m7.4 0h4.0m1.3 0h3.2m21.7 0h2.4M82.9 256.7h3.2m2.1 0h1.9m0.6 0h4.5m3.1 0h1.9m1.0 0h1.9m12.9 0h1.9m2.1 0h5.9m6.5 0h1.9m1.9 0h1.9m6.4 0h3.9m1.1 0h1.9m4.4 0h1.9m1.6 0h1.9m7.2 0h1.9m2.4 0h3.6m2.8 0h1.9m2.5 0h1.9m0.4 0h3.5m0.4 0h1.9m6.6 0h3.3m3.9 0h1.9m10.9 0h3.4m1.1 0h2.6m20.1 0h1.9m8.6 0h1.9m0.2 0h1.9m0.3 0h5.1m4.7 0h1.9m0.2 0h2.3m1.3 0h4.8m1.0 0h1.9m0.3 0h1.9m0.5 0h3.0m1.1 0h2.8m0.3 0h2.4m1.1 0h1.9m1.1 0h3.1m3.4 0h1.9m1.4 0h7.8m1.5 0h2.1m0.8 0h5.5m2.7 0h4.0m0.3 0h1.9m1.5 0h4.6m0.8 0h4.7m0.3 0h5.1m3.8 0h1.9m2.6 0h3.3m6.0 0h5.2m2.5 0h1.9m2.8 0h3.0m0.5 0h4.0m0.5 0h1.9m3.1 0h2.2m7.6 0h2.1m1.7 0h2.1m7.9 0h3.9m5.3 0h1.9m6.4 0h1.9m13.9 0h3.3m3.9 0h2.1m4.5 0h4.7m12.7 0h1.9m5.5 0h1.9m11.3 0h1.9m0.3 0h1.9m6.5 0h1.9m2.6 0h1.9m5.2 0h1.9m6.2 0h4.0m6.6 0h1.9m19.2 0h1.9M81.5 253.9h1.9m0.5 0h2.4m0.5 0h5.3m2.1 0h1.9m3.7 0h1.9m3.6 0h1.9m4.7 0h1.9m3.9 0h9.2m3.3 0h1.9m1.2 0h6.7m1.0 0h3.5m3.4 0h5.6m4.4 0h1.9m1.9 0h1.9m0.9 0h1.9m2.7 0h1.9m1.8 0h2.5m0.3 0h6.5m0.6 0h1.9m1.8 0h1.9m0.6 0h7.6m0.9 0h1.9m0.9 0h1.9m2.6 0h2.7m0.6 0h2.1m1.3 0h1.9m2.3 0h1.9m3.0 0h1.9m2.8 0h1.9m1.6 0h4.8m2.6 0h1.9m8.2 0h8.3m3.7 0h3.3m0.3 0h4.3m1.9 0h7.2m4.6 0h3.5m0.9 0h8.5m0.9 0h4.2m2.1 0h58.1m2.1 0h1.9m0.4 0h13.2m1.1 0h2.9m1.8 0h5.0m0.3 0h3.6m2.8 0h3.2m1.8 0h4.2m2.7 0h1.9m0.4 0h2.8m1.0 0h6.7m0.3 0h1.9m4.1 0h2.0m1.2 0h1.9m9.0 0h1.9m0.9 0h1.9m4.0 0h1.9m1.2 0h2.7m8.1 0h1.9m6.3 0h1.9m2.2 0h2.4m3.1 0h2.6m1.0 0h1.9m1.0 0h1.9m0.9 0h3.9m0.5 0h1.9m0.9 0h1.9m1.2 0h3.8m1.1 0h1.9m0.8 0h4.1m0.6 0h2.0m0.6 0h2.0m5.6 0h1.9m2.4 0h9.7m5.0 0h4.9m0.5 0h1.9m1.1 0h3.6m0.3 0h5.9m0.5 0h2.7m4.5 0h1.9m0.9 0h3.0M85.6 251.1h1.9m1.9 0h3.4m1.2 0h1.9m0.9 0h1.9m2.5 0h3.3m1.0 0h3.4m1.3 0h1.9m5.3 0h1.9m3.2 0h1.9m5.0 0h4.3m2.7 0h3.2m2.2 0h3.8m0.9 0h1.9m2.4 0h1.9m0.3 0h2.9m0.7 0h1.9m0.6 0h4.2m1.7 0h2.0m3.5 0h3.8m2.6 0h1.9m5.6 0h3.0m0.3 0h2.6m10.2 0h2.5m10.8 0h1.9m2.6 0h1.9m4.2 0h1.9m0.6 0h4.9m1.2 0h4.9m3.4 0h1.9m2.6 0h4.0m1.3 0h5.7m2.9 0h4.5m1.0 0h7.6m0.9 0h2.1m1.9 0h1.9m2.2 0h6.0m1.6 0h1.9m0.4 0h3.8m1.9 0h14.3m0.5 0h5.3m1.7 0h3.2m0.4 0h1.9m0.2 0h9.7m4.2 0h14.6m1.6 0h1.9m1.4 0h1.9m0.3 0h4.1m1.5 0h4.8m2.2 0h1.9m0.3 0h2.6m1.7 0h1.9m0.7 0h2.0m0.4 0h1.9m2.2 0h2.2m2.2 0h3.8m0.5 0h1.9m2.2 0h1.9m3.7 0h2.6m6.2 0h4.4m0.3 0h3.5m4.7 0h2.6m2.3 0h1.9m1.1 0h5.2m3.0 0h3.0m0.3 0h2.8m0.3 0h1.9m5.5 0h3.8m2.2 0h1.9m0.7 0h1.9m7.0 0h2.7m0.6 0h1.9m5.1 0h1.9m1.2 0h2.6m0.3 0h2.3m0.6 0h1.9m1.1 0h3.7m7.2 0h1.9m4.9 0h1.9m3.0 0h1.9m0.7 0h1.9m9.0 0h1.9m1.8 0h3.1m0.3 0h1.9m3.7 0h1.9m2.8 0h1.9m2.1 0h1.9m2.0 0h1.9m1.5 0h5.3m2.5 0h3.0M78.2 248.4h1.9m3.8 0h1.9m6.3 0h1.9m4.5 0h4.3m9.1 0h1.9m10.2 0h1.9m1.6 0h1.9m2.9 0h1.9m4.2 0h1.9m1.6 0h1.9m9.9 0h1.9m10.8 0h1.9m1.1 0h1.9m4.0 0h1.9m0.3 0h1.9m0.2 0h2.7m5.3 0h1.9m6.5 0h1.9m3.2 0h2.6m3.8 0h1.9m1.1 0h1.9m8.3 0h1.9m22.5 0h1.9m7.0 0h1.9m5.3 0h1.9m0.4 0h1.9m5.6 0h2.1m0.7 0h1.9m8.1 0h8.0m5.7 0h4.7m0.2 0h2.3m4.2 0h1.9m0.7 0h3.2m5.5 0h7.1m1.9 0h11.7m1.3 0h3.7m1.0 0h1.9m0.7 0h1.9m1.0 0h3.6m1.8 0h1.9m3.3 0h4.5m0.2 0h5.0m3.2 0h3.9m12.5 0h1.9m0.5 0h1.9m0.7 0h1.9m1.5 0h1.9m11.4 0h1.9m1.8 0h1.9m15.3 0h1.9m6.5 0h1.9m6.6 0h1.9m8.7 0h1.9m3.0 0h2.7m1.3 0h1.9m15.3 0h3.1m2.3 0h4.2m0.6 0h1.9m3.6 0h1.9m4.6 0h1.9m5.3 0h1.9m7.9 0h1.9m0.3 0h1.9m4.4 0h1.9m0.3 0h1.9m4.8 0h1.9m4.0 0h1.9m3.5 0h1.9M79.4 245.6h3.9m3.4 0h1.9m13.3 0h1.9m12.4 0h1.9m2.6 0h1.9m0.7 0h1.9m6.6 0h3.6m19.0 0h1.9m2.2 0h1.9m5.2 0h1.9m6.0 0h3.5m1.1 0h1.9m3.7 0h1.9m1.3 0h1.9m13.0 0h1.9m11.2 0h1.9m1.7 0h1.9m2.7 0h1.9m16.6 0h1.9m13.2 0h1.9m29.5 0h2.7m0.4 0h3.1m9.0 0h2.5m0.8 0h1.9m0.4 0h1.9m3.0 0h4.8m2.1 0h5.9m3.0 0h2.1m1.0 0h2.0m1.0 0h3.6m2.4 0h4.2m1.2 0h2.0m7.2 0h4.3m1.5 0h3.8m1.1 0h1.9m1.7 0h3.2m3.1 0h1.9m2.4 0h1.9m2.9 0h1.9m0.5 0h1.9m0.6 0h1.9m0.3 0h2.8m5.6 0h3.8m12.3 0h2.5m10.9 0h2.0m1.8 0h1.9m7.7 0h1.9m4.7 0h1.9m8.1 0h4.1m3.6 0h1.9m1.1 0h1.9m18.9 0h1.9m8.2 0h2.9m8.4 0h3.0m3.9 0h1.9m1.0 0h1.9m1.5 0h1.9m12.3 0h1.9m1.2 0h1.9m10.8 0h2.1m6.5 0h2.1M78.7 242.8h1.9m4.1 0h1.9m0.4 0h4.2m3.9 0h1.9m3.1 0h1.9m18.7 0h2.3m2.6 0h1.9m10.2 0h1.9m9.6 0h1.9m1.4 0h1.9m7.9 0h1.9m8.2 0h3.0m0.3 0h1.9m11.3 0h1.9m21.7 0h1.9m6.3 0h1.9m1.3 0h1.9m7.1 0h1.9m5.6 0h2.6m1.0 0h1.9m4.5 0h1.9m4.3 0h1.9m7.2 0h3.2m5.7 0h1.9m0.8 0h1.9m0.8 0h1.9m3.8 0h1.9m3.1 0h3.4m0.2 0h1.9m3.7 0h2.6m5.7 0h1.9m4.9 0h1.9m2.9 0h2.4m1.4 0h4.2m3.2 0h5.9m3.3 0h1.9m0.9 0h5.4m0.6 0h7.3m2.1 0h1.9m0.5 0h3.6m3.8 0h1.9m1.6 0h1.9m2.7 0h1.9m2.9 0h1.9m2.0 0h1.9m6.7 0h1.9m1.5 0h1.9m4.5 0h1.9m10.1 0h1.9m1.2 0h3.6m8.6 0h3.9m2.7 0h2.0m1.9 0h1.9m7.7 0h1.9m27.1 0h1.9m3.5 0h1.9m1.2 0h1.9m4.3 0h1.9m12.1 0h2.2m0.5 0h1.9m4.4 0h1.9m0.9 0h1.9m1.1 0h1.9m8.1 0h2.2m1.2 0h5.9m6.5 0h4.2m0.7 0h4.0m7.1 0h1.9m2.0 0h1.9M79.9 240.0h1.9m11.2 0h5.5m0.7 0h1.9m9.3 0h1.9m0.2 0h1.9m7.7 0h2.8m0.8 0h1.9m1.9 0h1.9m3.8 0h1.9m17.5 0h1.9m19.7 0h6.3m11.2 0h1.9m1.8 0h1.9m0.9 0h1.9m2.8 0h3.1m1.3 0h1.9m6.3 0h6.4m5.4 0h5.5m2.1 0h1.9m3.0 0h1.9m10.3 0h1.9m5.7 0h1.9m1.8 0h1.9m5.8 0h1.9m0.8 0h4.2m2.1 0h5.4m4.6 0h1.9m8.2 0h5.8m0.6 0h4.5m0.9 0h2.2m1.6 0h2.2m1.1 0h2.8m0.7 0h6.4m1.8 0h4.6m1.8 0h2.7m0.6 0h1.9m3.3 0h3.3m1.9 0h4.0m3.4 0h1.9m0.7 0h2.6m6.5 0h2.9m1.1 0h1.9m2.1 0h3.8m8.7 0h1.9m0.6 0h1.9m2.8 0h1.9m4.3 0h1.9m0.5 0h2.5m18.9 0h1.9m17.5 0h3.5m1.3 0h1.9m5.6 0h1.9m0.8 0h1.9m0.4 0h2.6m11.8 0h1.9m11.5 0h1.9m1.8 0h3.7m5.1 0h1.9m0.7 0h1.9m6.2 0h3.7m31.8 0h1.9m1.6 0h1.9m10.2 0h1.9M78.1 237.2h1.9m4.1 0h2.3m3.1 0h1.9m3.7 0h1.9m9.6 0h1.9m3.6 0h1.9m9.0 0h2.9m6.4 0h1.9m9.0 0h1.9m0.5 0h2.6m7.3 0h1.9m23.8 0h2.2m5.7 0h3.8m9.0 0h1.9m2.8 0h1.9m1.1 0h1.9m0.2 0h1.9m0.7 0h3.7m8.8 0h1.9m14.2 0h1.9m13.0 0h1.9m2.7 0h1.9m3.2 0h1.9m3.5 0h1.9m2.3 0h1.9m5.7 0h1.9m1.6 0h1.9m2.2 0h7.2m1.5 0h6.0m1.5 0h1.9m0.8 0h13.1m4.1 0h2.1m0.9 0h7.5m1.7 0h2.0m7.9 0h3.2m0.5 0h1.9m1.1 0h2.9m3.5 0h1.9m2.6 0h4.6m2.0 0h4.6m9.3 0h1.9m5.4 0h1.9m2.0 0h4.0m1.8 0h1.9m13.2 0h2.5m2.5 0h1.9m8.3 0h1.9m19.4 0h1.9m15.9 0h3.1m9.4 0h1.9m1.5 0h1.9m1.3 0h1.9m1.3 0h3.8m1.0 0h2.5m7.9 0h5.3m9.6 0h1.9m8.1 0h1.9m1.1 0h1.9m4.9 0h1.9m7.5 0h1.9m4.1 0h1.9m4.0 0h1.9M89.6 234.4h1.9m1.5 0h5.9m0.3 0h2.5m2.4 0h7.7m0.8 0h6.4m0.3 0h1.9m0.6 0h5.1m8.7 0h3.5m4.0 0h6.7m8.2 0h2.6m0.2 0h1.9m3.2 0h5.4m1.6 0h2.2m1.0 0h5.6m5.5 0h4.9m1.1 0h7.7m5.5 0h2.0m1.2 0h2.9m0.4 0h3.9m1.9 0h3.4m1.3 0h8.1m0.5 0h3.3m1.7 0h4.4m3.1 0h2.5m3.4 0h4.8m0.9 0h1.9m5.2 0h18.7m1.4 0h5.0m0.4 0h21.7m0.6 0h6.6m0.5 0h9.2m0.7 0h33.3m0.4 0h10.0m0.4 0h2.5m0.2 0h22.1m1.0 0h4.7m3.1 0h1.9m4.0 0h1.9m0.8 0h4.0m1.5 0h2.6m0.4 0h1.9m1.9 0h4.4m3.9 0h1.9m5.4 0h1.9m3.7 0h4.7m1.7 0h2.0m1.0 0h3.7m1.3 0h2.3m1.3 0h1.9m1.1 0h9.2m4.6 0h4.5m0.2 0h1.9m1.4 0h3.5m0.7 0h3.3m3.7 0h2.4m0.2 0h1.9m2.9 0h1.9m0.9 0h4.1m0.3 0h12.8m0.5 0h1.9m1.1 0h2.5m0.4 0h1.9m1.3 0h4.7m2.0 0h1.9m0.3 0h1.9m1.2 0h1.9m2.2 0h5.6m2.0 0h5.1m4.0 0h2.3M80.2 231.7h1.9m0.2 0h4.5m2.8 0h1.9m1.0 0h7.9m1.9 0h1.9m0.6 0h4.7m0.9 0h2.2m2.4 0h5.0m3.6 0h6.0m0.3 0h3.3m3.6 0h1.9m0.3 0h9.2m2.1 0h1.9m0.7 0h1.9m0.6 0h2.0m0.6 0h1.9m6.2 0h4.0m1.5 0h2.0m2.7 0h7.2m1.0 0h3.2m1.3 0h10.3m0.8 0h1.9m0.7 0h1.9m0.4 0h5.5m0.8 0h1.9m1.9 0h3.2m1.4 0h2.5m2.2 0h1.9m6.7 0h2.0m2.8 0h15.5m0.3 0h6.8m1.9 0h3.6m0.4 0h14.5m0.4 0h11.2m0.3 0h72.7m2.7 0h14.5m0.7 0h8.3m1.7 0h3.0m0.7 0h9.8m0.4 0h15.4m3.0 0h2.0m0.5 0h1.9m1.6 0h1.9m2.1 0h1.9m0.4 0h5.5m0.4 0h2.2m2.1 0h1.9m3.5 0h3.2m3.6 0h2.4m1.5 0h3.0m0.3 0h2.9m2.6 0h4.3m0.8 0h7.3m0.5 0h5.8m0.5 0h8.4m2.3 0h1.9m2.4 0h3.4m1.9 0h1.9m2.4 0h3.0m3.2 0h9.8m5.3 0h1.9m1.1 0h2.4m1.6 0h1.9m1.1 0h3.2m0.4 0h7.4m1.3 0h5.7m3.7 0h1.9M79.2 228.9h1.9m5.5 0h2.1m0.7 0h4.6m20.8 0h1.9m7.0 0h1.9m3.3 0h2.2m22.4 0h2.9m1.7 0h1.9m9.4 0h1.9m16.2 0h2.8m10.4 0h1.9m3.2 0h1.9m4.3 0h1.9m8.1 0h2.2m2.0 0h2.4m1.8 0h2.6m2.8 0h1.9m5.6 0h1.9m11.1 0h2.9m5.5 0h1.9m3.8 0h1.9m3.0 0h1.9m12.2 0h1.9m0.2 0h2.0m0.6 0h3.6m2.6 0h10.2m2.0 0h2.3m3.9 0h3.9m3.9 0h5.7m6.9 0h5.6m0.7 0h1.9m1.8 0h1.9m2.3 0h1.9m0.3 0h2.2m6.6 0h1.9m2.2 0h2.6m4.3 0h3.7m2.6 0h1.9m0.3 0h2.2m11.2 0h2.7m12.7 0h3.3m12.7 0h1.9m3.7 0h1.9m2.4 0h1.9m1.7 0h1.9m11.7 0h1.9m4.8 0h1.9m5.1 0h1.9m2.8 0h1.9m18.9 0h1.9m10.0 0h3.0m1.3 0h1.9m5.7 0h1.9m8.7 0h1.9m10.3 0h1.9m14.5 0h1.9M83.9 226.1h1.9m7.1 0h1.9m7.0 0h1.9m6.4 0h2.9m2.3 0h1.9m13.8 0h2.7m2.3 0h3.9m4.3 0h1.9m7.5 0h1.9m2.6 0h4.5m3.0 0h5.2m6.3 0h1.9m2.6 0h1.9m5.0 0h2.6m12.9 0h1.9m11.1 0h2.7m16.4 0h2.5m0.5 0h1.9m5.5 0h1.9m7.5 0h5.3m1.3 0h1.9m1.1 0h1.9m4.5 0h1.9m1.9 0h1.9m1.1 0h5.2m2.0 0h5.0m0.6 0h7.8m1.3 0h7.7m0.3 0h2.2m1.4 0h3.9m0.6 0h3.0m2.1 0h1.9m1.1 0h6.2m0.5 0h1.9m2.9 0h1.9m0.9 0h4.0m1.3 0h5.3m0.5 0h2.9m0.7 0h5.5m5.6 0h6.6m0.2 0h3.1m2.5 0h2.1m0.5 0h5.0m3.1 0h3.1m1.4 0h1.9m0.2 0h2.6m10.6 0h1.9m0.6 0h1.9m4.4 0h3.3m1.6 0h1.9m3.2 0h1.9m0.3 0h1.9m1.8 0h1.9m4.0 0h1.9m2.4 0h1.9m6.8 0h2.9m7.7 0h2.1m4.7 0h1.9m7.7 0h2.7m24.8 0h1.9m9.2 0h1.9m9.1 0h2.7m1.9 0h1.9m1.4 0h1.9m4.7 0h1.9m3.3 0h1.9m2.8 0h1.9m1.7 0h1.9m6.9 0h1.9M78.6 223.3h5.9m6.7 0h3.4m1.5 0h3.3m0.3 0h1.9m5.4 0h1.9m8.9 0h2.6m0.7 0h4.3m0.2 0h1.9m2.4 0h1.9m6.2 0h2.8m2.4 0h1.9m3.3 0h1.9m0.2 0h2.7m0.4 0h2.1m0.5 0h1.9m4.1 0h2.0m0.2 0h1.9m2.2 0h3.2m0.6 0h1.9m5.5 0h1.9m0.4 0h1.9m7.3 0h1.9m2.3 0h1.9m3.9 0h3.7m1.7 0h3.6m1.3 0h1.9m0.3 0h1.9m5.6 0h1.9m3.3 0h2.7m0.4 0h1.9m2.7 0h4.5m2.4 0h7.8m2.1 0h1.9m1.7 0h1.9m1.3 0h1.9m1.1 0h1.9m0.7 0h3.7m0.6 0h5.7m2.5 0h5.9m2.6 0h4.2m0.5 0h2.2m0.6 0h9.1m1.7 0h23.5m1.6 0h5.4m0.7 0h5.2m0.9 0h2.8m0.3 0h11.9m4.4 0h2.2m1.3 0h4.1m0.4 0h2.6m0.7 0h2.5m1.0 0h3.0m2.8 0h2.4m2.0 0h4.6m0.6 0h3.0m1.7 0h3.1m2.7 0h1.9m0.7 0h1.9m3.5 0h8.7m7.0 0h1.9m6.9 0h9.4m1.7 0h1.9m0.7 0h4.4m0.4 0h2.7m3.1 0h1.9m2.8 0h15.3m0.4 0h1.9m1.4 0h3.1m2.3 0h1.9m6.9 0h1.9m1.7 0h2.5m0.9 0h1.9m3.9 0h1.9m0.5 0h3.1m1.7 0h3.4m1.2 0h1.9m2.6 0h1.9m2.0 0h1.9m0.8 0h1.9m1.1 0h1.9m1.3 0h2.8m0.8 0h1.9m3.0 0h1.9m5.3 0h3.1m0.8 0h1.9m2.1 0h3.9m2.5 0h4.5M78.1 220.5h3.8m0.8 0h3.7m9.8 0h7.4m0.3 0h2.0m4.7 0h1.9m0.6 0h4.1m3.1 0h1.9m0.6 0h1.9m9.8 0h2.3m6.2 0h2.5m7.6 0h1.9m2.2 0h1.9m0.9 0h1.9m1.4 0h1.9m6.9 0h1.9m2.7 0h2.7m5.3 0h1.9m8.7 0h2.1m1.0 0h1.9m6.9 0h2.9m2.3 0h3.0m3.4 0h1.9m0.5 0h1.9m2.3 0h2.1m2.0 0h1.9m0.8 0h2.7m5.3 0h1.9m1.1 0h2.8m0.8 0h2.1m5.1 0h4.4m1.3 0h2.7m1.3 0h1.9m0.6 0h3.5m2.0 0h5.9m1.3 0h3.2m1.3 0h8.8m6.2 0h7.0m0.5 0h6.0m0.7 0h1.9m3.7 0h16.5m0.9 0h13.7m0.2 0h8.7m0.3 0h7.6m0.3 0h3.5m0.2 0h6.0m3.0 0h5.1m2.9 0h1.9m5.6 0h1.9m1.3 0h1.9m1.7 0h1.9m2.4 0h4.2m0.5 0h1.9m0.7 0h1.9m0.7 0h4.7m2.1 0h4.0m0.3 0h3.8m5.3 0h1.9m3.1 0h4.1m7.8 0h5.4m0.5 0h1.9m2.5 0h1.9m7.6 0h4.8m3.5 0h4.3m5.4 0h3.3m4.4 0h1.9m1.2 0h2.6m4.3 0h1.9m5.1 0h1.9m1.3 0h1.9m0.8 0h2.2m2.1 0h6.3m1.7 0h1.9m7.1 0h3.7m0.5 0h5.9m0.4 0h2.5m5.3 0h1.9m1.9 0h1.9m1.6 0h5.9M82.0 217.7h3.4m0.8 0h2.4m0.9 0h4.2m1.9 0h3.9m0.4 0h1.9m2.7 0h5.1m3.5 0h1.9m1.2 0h1.9m0.3 0h2.6m0.5 0h3.9m1.0 0h2.2m2.1 0h14.7m1.3 0h2.2m0.4 0h1.9m3.3 0h2.2m1.1 0h8.5m1.8 0h5.0m2.5 0h8.4m5.3 0h3.3m1.1 0h1.9m2.1 0h1.9m3.1 0h1.9m0.4 0h1.9m0.4 0h10.2m1.3 0h5.0m0.8 0h1.9m1.1 0h4.2m3.0 0h4.2m0.5 0h1.9m0.7 0h1.9m1.3 0h3.0m1.8 0h3.7m0.3 0h3.8m2.0 0h1.9m2.8 0h3.0m0.6 0h4.5m0.7 0h1.9m0.5 0h1.9m1.4 0h2.2m0.6 0h56.4m0.6 0h2.3m0.9 0h17.0m1.9 0h5.1m0.4 0h6.8m0.2 0h3.9m1.0 0h8.1m1.5 0h4.2m0.5 0h4.3m4.1 0h5.4m2.4 0h11.1m1.9 0h2.7m1.1 0h5.3m2.7 0h5.2m3.0 0h6.6m2.5 0h3.6m0.9 0h2.9m3.0 0h3.6m0.3 0h1.9m0.6 0h4.1m5.6 0h4.0m1.2 0h1.9m3.6 0h1.9m2.3 0h3.2m2.5 0h1.9m1.1 0h2.4m1.8 0h1.9m5.5 0h3.5m1.9 0h2.4m1.9 0h4.0m1.6 0h9.6m3.3 0h10.2m1.1 0h2.5m1.4 0h3.4m1.9 0h2.0m0.2 0h1.9m5.1 0h3.0M80.5 215.0h1.9m3.2 0h1.9m6.1 0h1.9m5.6 0h1.9m4.7 0h1.9m7.7 0h1.9m3.3 0h1.9m5.6 0h1.9m7.5 0h3.8m2.2 0h2.6m8.7 0h1.9m1.2 0h1.9m3.7 0h1.9m2.1 0h1.9m0.4 0h1.9m0.9 0h2.3m2.7 0h1.9m3.3 0h2.0m3.7 0h4.8m10.2 0h3.4m3.0 0h5.3m0.5 0h1.9m10.1 0h1.9m0.3 0h1.9m8.6 0h1.9m0.2 0h2.3m6.0 0h1.9m2.2 0h1.9m7.3 0h1.9m4.1 0h2.8m5.1 0h4.0m0.8 0h1.9m1.3 0h1.9m1.8 0h6.0m1.0 0h1.9m1.1 0h17.0m1.0 0h2.6m1.0 0h8.8m2.9 0h1.9m0.9 0h1.9m0.8 0h3.9m8.2 0h2.2m2.7 0h1.9m2.8 0h1.9m4.4 0h1.9m2.3 0h2.2m1.3 0h1.9m0.4 0h2.7m7.6 0h1.9m1.5 0h1.9m14.3 0h1.9m8.6 0h1.9m6.4 0h1.9m25.5 0h1.9m3.0 0h1.9m1.5 0h1.9m25.7 0h1.9m6.6 0h1.9m12.5 0h1.9m1.2 0h2.2m6.7 0h1.9m5.9 0h1.9m1.0 0h1.9m1.5 0h1.9m2.5 0h3.6m7.0 0h1.9m5.4 0h1.9m1.5 0h2.9m1.3 0h1.9M79.1 212.2h1.9m11.4 0h1.9m6.8 0h4.9m5.6 0h1.9m0.7 0h3.8m0.3 0h3.0m10.7 0h7.5m10.5 0h1.9m6.6 0h3.3m3.6 0h3.9m3.0 0h1.9m15.4 0h1.9m5.5 0h3.1m9.2 0h1.9m8.5 0h1.9m19.9 0h1.9m2.4 0h2.0m0.8 0h1.9m3.8 0h4.3m5.7 0h2.1m1.3 0h2.3m0.5 0h6.6m0.4 0h4.3m1.5 0h11.1m0.9 0h6.9m1.1 0h4.7m0.2 0h5.1m1.1 0h4.5m0.4 0h9.4m0.3 0h8.0m0.6 0h13.2m0.6 0h3.3m0.3 0h6.8m0.2 0h1.9m2.2 0h1.9m0.7 0h1.9m0.3 0h1.9m0.4 0h2.8m0.7 0h11.4m1.1 0h3.7m2.3 0h2.4m3.5 0h2.0m10.1 0h6.3m2.8 0h1.9m3.6 0h1.9m5.8 0h1.9m0.7 0h4.5m10.9 0h4.3m2.3 0h4.0m1.4 0h1.9m4.2 0h1.9m2.8 0h1.9m0.8 0h1.9m0.8 0h1.9m2.7 0h1.9m1.3 0h1.9m3.3 0h1.9m1.9 0h2.5m2.0 0h4.3m0.5 0h1.9m6.1 0h1.9m3.3 0h3.0m5.5 0h2.9m19.7 0h4.3m1.3 0h1.9m1.1 0h1.9m0.6 0h2.3m3.7 0h1.9M79.3 209.4h1.9m1.7 0h1.9m1.0 0h1.9m1.2 0h6.4m0.8 0h2.2m1.0 0h2.5m0.5 0h1.9m1.2 0h1.9m2.2 0h2.7m3.1 0h1.9m2.3 0h5.1m0.8 0h1.9m1.3 0h3.8m7.4 0h2.8m0.9 0h2.0m0.9 0h1.9m1.1 0h3.2m1.0 0h4.6m1.0 0h3.1m3.2 0h6.4m7.7 0h2.8m0.9 0h4.1m0.8 0h1.9m0.8 0h4.5m1.2 0h2.8m0.9 0h2.3m0.6 0h1.9m9.8 0h3.1m1.6 0h4.7m1.1 0h5.3m3.8 0h4.6m1.7 0h4.8m1.4 0h1.9m2.4 0h1.9m1.4 0h3.7m1.1 0h10.3m2.8 0h1.9m0.5 0h1.9m3.2 0h3.8m1.6 0h2.9m0.4 0h4.8m0.8 0h25.8m0.4 0h36.1m0.3 0h4.5m0.3 0h4.3m0.6 0h17.9m4.2 0h1.9m1.8 0h2.1m2.1 0h3.7m1.5 0h3.9m0.8 0h2.6m0.6 0h1.9m2.7 0h2.9m11.2 0h1.9m4.6 0h8.9m2.9 0h5.2m0.4 0h1.9m2.2 0h2.2m7.3 0h6.0m1.2 0h4.6m3.1 0h3.0m4.5 0h3.5m2.1 0h3.7m0.2 0h1.9m1.9 0h1.9m2.3 0h3.5m0.9 0h1.9m0.8 0h4.0m4.3 0h2.7m6.5 0h1.9m0.6 0h3.6m1.1 0h1.9m0.8 0h1.9m1.0 0h1.9m3.2 0h5.5m7.8 0h6.3m1.8 0h1.9M78.6 206.6h1.9m0.8 0h1.9m1.9 0h3.6m1.0 0h1.9m5.9 0h1.9m13.2 0h1.9m1.2 0h1.9m3.8 0h2.9m3.0 0h1.9m2.0 0h4.6m0.9 0h1.9m0.9 0h1.9m3.0 0h1.9m3.4 0h4.7m7.7 0h1.9m0.8 0h1.9m3.7 0h3.5m1.0 0h1.9m5.5 0h1.9m4.4 0h1.9m2.2 0h1.9m1.6 0h1.9m4.3 0h1.9m1.8 0h1.9m2.3 0h3.6m0.4 0h3.3m2.0 0h1.9m0.3 0h1.9m0.6 0h1.9m9.8 0h2.2m5.9 0h2.9m2.2 0h2.4m0.8 0h4.9m5.1 0h3.7m0.3 0h2.8m6.5 0h3.5m0.2 0h8.0m0.8 0h15.6m1.8 0h6.2m1.4 0h1.9m2.5 0h5.2m0.5 0h39.3m0.4 0h2.9m0.4 0h3.0m1.7 0h3.2m0.3 0h6.1m3.5 0h1.9m1.8 0h1.9m2.3 0h5.8m1.0 0h1.9m0.4 0h3.6m2.0 0h2.6m2.6 0h1.9m4.0 0h8.4m2.2 0h1.9m4.1 0h1.9m0.9 0h3.4m4.2 0h1.9m0.3 0h1.9m0.7 0h1.9m0.6 0h3.5m14.1 0h1.9m4.0 0h2.5m1.4 0h2.4m2.9 0h1.9m5.5 0h1.9m3.9 0h1.9m3.2 0h1.9m0.9 0h1.9m2.2 0h1.9m0.3 0h1.9m0.9 0h1.9m0.8 0h1.9m2.0 0h3.0m8.6 0h3.7m2.1 0h3.9m2.0 0h3.4m0.9 0h1.9m5.2 0h3.4m3.2 0h9.0m0.4 0h1.9M78.7 203.0h1.9m0.7 0h8.2m4.8 0h1.9m4.0 0h2.8m0.5 0h1.9m0.5 0h1.9m3.6 0h3.0m7.9 0h1.9m0.5 0h3.0m5.7 0h1.9m2.8 0h3.8m8.3 0h1.9m1.1 0h1.9m2.4 0h4.7m1.3 0h2.7m2.3 0h1.9m0.4 0h1.9m4.0 0h1.9m4.6 0h1.9m3.6 0h1.9m0.2 0h2.5m3.4 0h7.0m0.7 0h2.6m0.7 0h2.2m1.3 0h3.2m4.9 0h1.9m2.7 0h1.9m2.7 0h2.2m1.5 0h1.9m3.8 0h1.9m5.5 0h3.4m2.3 0h2.2m2.0 0h9.0m0.4 0h6.0m0.7 0h1.9m2.9 0h1.9m0.6 0h13.4m0.8 0h1.9m2.8 0h4.0m1.0 0h14.3m0.3 0h1.9m2.0 0h23.9m1.5 0h3.5m0.3 0h2.2m2.1 0h2.1m0.9 0h5.4m0.4 0h1.9m0.8 0h4.8m2.4 0h2.3m0.3 0h4.6m0.4 0h15.8m0.5 0h2.8m5.3 0h6.1m0.9 0h5.0m1.0 0h3.9m4.5 0h2.2m4.8 0h8.3m0.4 0h3.6m1.7 0h6.9m10.4 0h1.9m6.3 0h5.3m3.0 0h1.9m2.4 0h5.0m5.0 0h1.9m16.0 0h1.9m2.1 0h2.7m9.0 0h5.3m7.7 0h1.9m2.2 0h4.5m4.4 0h1.9M78.0 198.8h4.5m3.0 0h3.6m0.5 0h5.0m1.0 0h2.5m0.6 0h1.9m0.4 0h3.5m0.4 0h6.2m5.7 0h2.8m5.9 0h1.9m8.3 0h4.5m0.6 0h1.9m3.0 0h4.2m5.7 0h1.9m1.7 0h5.3m3.7 0h1.9m0.6 0h1.9m1.7 0h1.9m3.7 0h6.2m3.3 0h3.1m0.3 0h3.9m1.0 0h2.5m5.1 0h1.9m3.1 0h4.0m2.6 0h5.9m5.6 0h3.9m3.9 0h1.9m1.5 0h1.9m2.9 0h2.2m0.3 0h6.1m1.4 0h2.1m4.9 0h2.0m0.9 0h1.9m1.8 0h1.9m2.2 0h1.9m0.5 0h3.6m1.8 0h1.9m0.3 0h6.0m2.8 0h2.3m0.6 0h6.5m0.4 0h13.4m0.5 0h2.3m0.8 0h9.0m0.4 0h2.2m0.3 0h11.0m0.2 0h2.7m0.4 0h5.0m1.0 0h10.7m2.4 0h8.3m0.4 0h3.8m1.0 0h3.3m1.5 0h3.0m1.8 0h6.7m1.8 0h1.9m7.1 0h2.2m2.8 0h9.7m2.9 0h1.9m3.6 0h3.7m3.2 0h1.9m0.7 0h1.9m1.2 0h3.5m4.2 0h1.9m0.5 0h1.9m5.6 0h5.5m4.5 0h1.9m3.7 0h6.7m0.4 0h1.9m3.9 0h1.9m3.5 0h1.9m0.6 0h1.9m5.9 0h7.5m2.3 0h3.2m1.0 0h1.9m4.3 0h1.9m6.9 0h1.9m0.4 0h3.8m1.7 0h4.5m9.0 0h3.5m1.2 0h2.5m4.3 0h4.5M81.7 195.7h3.9m0.2 0h3.9m0.9 0h2.2m0.4 0h2.2m1.8 0h2.0m0.5 0h3.4m0.8 0h3.5m1.2 0h6.3m4.4 0h1.9m3.9 0h1.9m1.2 0h7.6m3.7 0h3.8m0.8 0h7.3m2.3 0h1.9m0.6 0h3.0m0.9 0h6.3m0.2 0h1.9m0.6 0h1.9m2.8 0h3.1m1.1 0h1.9m1.4 0h5.3m2.8 0h4.2m5.3 0h5.7m0.4 0h4.1m3.1 0h3.5m0.7 0h4.3m0.8 0h1.9m0.8 0h2.8m0.3 0h3.2m1.5 0h2.1m1.7 0h1.9m0.3 0h1.9m0.7 0h1.9m0.2 0h7.7m3.0 0h2.8m0.3 0h11.1m0.5 0h7.5m1.2 0h6.1m0.2 0h7.0m0.4 0h7.8m2.3 0h69.3m0.3 0h10.7m1.0 0h9.2m1.6 0h6.2m1.6 0h7.3m4.2 0h2.1m3.0 0h3.7m1.6 0h6.1m1.0 0h2.1m5.7 0h2.5m2.7 0h3.3m4.0 0h6.9m3.5 0h6.0m0.7 0h2.9m0.7 0h2.5m0.9 0h1.9m0.6 0h2.7m1.0 0h1.9m3.1 0h3.6m10.1 0h1.9m1.6 0h3.1m3.6 0h3.9m0.2 0h2.3m3.0 0h1.9m4.1 0h7.2m6.5 0h3.7m3.4 0h5.6m4.2 0h1.9m3.5 0h2.4m0.7 0h1.9m1.3 0h3.6m0.6 0h2.3M85.8 192.7h6.1m1.9 0h5.7m0.3 0h1.9m4.3 0h9.7m0.3 0h2.7m0.2 0h2.6m0.5 0h1.9m1.4 0h1.9m0.2 0h7.4m2.6 0h1.9m0.9 0h9.3m1.1 0h9.9m6.2 0h2.1m1.3 0h3.7m0.7 0h3.2m1.3 0h1.9m1.4 0h9.7m1.8 0h6.3m0.5 0h2.3m2.1 0h3.4m0.5 0h1.9m1.4 0h5.7m0.9 0h9.2m0.7 0h4.7m0.8 0h5.5m0.7 0h3.6m2.0 0h3.3m3.2 0h9.7m0.6 0h1.9m3.4 0h2.9m0.7 0h1.9m0.4 0h108.0m0.9 0h5.8m1.1 0h5.4m4.2 0h3.6m3.0 0h4.3m0.3 0h1.9m1.8 0h2.7m2.0 0h7.7m2.3 0h2.6m3.1 0h5.0m0.9 0h5.9m0.4 0h7.7m0.6 0h2.8m0.8 0h1.9m0.7 0h3.5m2.0 0h7.3m4.1 0h9.0m1.3 0h3.8m3.3 0h7.7m0.7 0h4.7m3.8 0h1.9m0.5 0h5.7m2.0 0h8.0m2.4 0h5.1m0.7 0h4.0m0.8 0h3.6m3.0 0h8.2m2.9 0h1.9m1.9 0h2.6m3.4 0h1.9M80.4 186.8h1.9m3.4 0h3.2m1.2 0h2.1m5.8 0h1.9m6.5 0h5.2m7.0 0h2.6m7.8 0h1.9m2.6 0h1.9m3.7 0h1.9m0.8 0h5.2m7.5 0h2.6m0.8 0h5.9m6.3 0h1.9m1.5 0h2.9m1.0 0h2.7m5.2 0h1.9m1.8 0h3.0m3.5 0h4.1m1.6 0h5.2m7.2 0h1.9m1.5 0h3.8m2.0 0h3.5m0.7 0h2.7m2.4 0h2.2m1.4 0h1.9m0.4 0h1.9m9.8 0h1.9m7.3 0h1.9m3.5 0h2.1m2.8 0h1.9m3.2 0h6.7m1.1 0h5.9m1.1 0h8.5m0.3 0h3.2m0.7 0h4.4m0.8 0h24.4m0.3 0h10.3m0.5 0h10.0m0.8 0h11.8m0.5 0h12.1m0.3 0h3.9m1.3 0h13.3m1.0 0h1.9m1.0 0h3.4m0.6 0h2.6m1.0 0h1.9m0.7 0h1.9m0.5 0h1.9m0.8 0h1.9m1.1 0h1.9m0.9 0h3.3m1.1 0h9.4m3.6 0h4.4m3.1 0h1.9m0.8 0h1.9m3.5 0h1.9m1.3 0h1.9m0.3 0h2.5m1.7 0h3.4m1.8 0h1.9m5.9 0h2.4m6.3 0h1.9m0.3 0h6.6m1.9 0h3.1m1.9 0h8.3m6.3 0h1.9m4.5 0h3.3m0.2 0h2.7m4.7 0h4.5m2.9 0h3.3m0.4 0h1.9m1.0 0h3.3m5.5 0h2.6m2.0 0h1.9m3.2 0h3.5M79.0 182.7h1.9m6.6 0h3.1m5.2 0h1.9m1.7 0h1.9m2.0 0h1.9m5.0 0h1.9m0.9 0h1.9m7.0 0h4.6m1.3 0h1.9m1.2 0h4.0m4.0 0h1.9m3.8 0h1.9m4.8 0h1.9m0.7 0h1.9m0.6 0h3.2m18.1 0h4.8m3.0 0h3.0m0.9 0h1.9m2.0 0h5.1m0.9 0h2.3m3.4 0h1.9m1.3 0h6.0m1.4 0h3.0m8.6 0h4.1m3.7 0h3.4m2.2 0h2.7m2.7 0h4.3m0.9 0h1.9m1.6 0h3.6m4.5 0h8.7m1.6 0h7.7m3.0 0h8.7m0.9 0h5.0m0.3 0h10.0m0.5 0h11.5m0.5 0h10.7m0.3 0h19.5m0.8 0h11.2m0.3 0h4.1m1.0 0h6.6m2.4 0h3.0m0.3 0h1.9m2.3 0h1.9m0.8 0h1.9m0.2 0h1.9m2.2 0h1.9m2.9 0h1.9m7.9 0h3.6m0.2 0h1.9m1.5 0h1.9m1.7 0h1.9m7.4 0h2.2m0.4 0h3.1m0.9 0h2.7m0.3 0h2.5m2.3 0h1.9m7.1 0h1.9m2.8 0h1.9m0.7 0h3.4m1.1 0h1.9m6.9 0h1.9m4.6 0h1.9m1.9 0h1.9m7.2 0h1.9m6.2 0h2.2m1.3 0h1.9m2.1 0h1.9m0.9 0h3.0m1.3 0h1.9m9.6 0h3.6m3.0 0h1.9m1.4 0h1.9m3.5 0h1.9m0.9 0h1.9m2.1 0h1.9m7.7 0h2.4m2.4 0h1.9m4.6 0h1.9M78.2 179.3h2.7m4.8 0h2.9m0.6 0h1.9m2.1 0h1.9m1.8 0h1.9m1.2 0h1.9m0.3 0h3.2m2.3 0h4.0m1.5 0h2.8m0.9 0h2.1m2.0 0h4.8m3.0 0h5.9m5.7 0h2.2m0.6 0h1.9m1.6 0h5.4m1.1 0h1.9m5.1 0h2.6m0.3 0h2.3m2.6 0h5.1m5.3 0h3.4m0.4 0h3.0m3.2 0h1.9m1.2 0h2.7m1.8 0h1.9m0.6 0h3.6m1.3 0h1.9m2.4 0h6.2m2.0 0h6.6m1.5 0h5.8m0.2 0h2.5m1.6 0h3.4m1.6 0h8.3m0.4 0h4.4m2.0 0h4.2m3.6 0h1.9m3.3 0h24.6m1.1 0h48.5m0.6 0h9.8m0.3 0h20.3m0.9 0h8.0m1.7 0h10.7m0.2 0h3.5m1.9 0h2.4m3.4 0h5.0m0.5 0h5.1m0.9 0h4.0m2.3 0h1.9m1.9 0h4.7m1.4 0h1.9m1.8 0h1.9m0.6 0h2.3m3.9 0h2.9m0.3 0h1.9m0.5 0h4.1m2.5 0h2.5m1.2 0h7.1m7.1 0h4.4m3.3 0h1.9m0.8 0h2.4m5.0 0h3.7m0.3 0h2.6m3.6 0h6.0m1.5 0h1.9m0.4 0h3.1m1.6 0h3.8m4.4 0h2.7m0.5 0h3.7m0.8 0h3.8m0.2 0h2.0m2.0 0h4.0m7.4 0h5.0m0.8 0h14.0M85.4 175.7h1.9m2.2 0h3.3m0.4 0h1.9m3.1 0h1.9m0.4 0h1.9m3.0 0h1.9m1.9 0h1.9m2.1 0h1.9m0.6 0h2.0m0.9 0h2.2m6.3 0h3.5m1.3 0h1.9m5.4 0h4.5m1.0 0h4.6m2.3 0h2.7m3.9 0h1.9m1.0 0h12.8m2.2 0h1.9m0.7 0h4.4m0.2 0h4.9m4.2 0h1.9m1.2 0h1.9m2.4 0h3.9m2.9 0h1.9m0.8 0h1.9m2.1 0h5.1m1.5 0h1.9m2.2 0h1.9m2.5 0h3.2m0.5 0h2.7m1.2 0h1.9m2.5 0h2.2m0.4 0h3.6m6.2 0h4.1m0.6 0h1.9m0.4 0h4.9m1.7 0h5.2m0.2 0h10.5m1.1 0h4.3m0.6 0h10.2m0.3 0h9.1m1.1 0h14.3m0.6 0h3.9m2.5 0h9.4m1.5 0h4.9m1.3 0h5.2m1.8 0h4.4m1.1 0h2.4m0.7 0h3.9m0.3 0h3.6m0.4 0h4.5m0.9 0h6.7m0.3 0h2.1m2.9 0h7.2m1.7 0h4.2m0.8 0h2.8m1.2 0h3.7m3.5 0h3.3m0.5 0h1.9m0.6 0h2.6m4.3 0h1.9m17.1 0h1.9m4.0 0h1.9m2.9 0h3.7m7.1 0h2.7m2.8 0h1.9m1.5 0h4.9m7.4 0h1.9m1.8 0h1.9m1.9 0h1.9m0.3 0h1.9m0.7 0h1.9m0.8 0h1.9m0.5 0h5.0m1.2 0h1.9m1.5 0h1.9m8.8 0h5.7m3.9 0h1.9m3.2 0h3.0m0.5 0h1.9m1.7 0h1.9m2.2 0h1.9m6.3 0h6.9m2.7 0h1.9M80.4 172.6h2.0m1.9 0h2.2m3.2 0h1.9m1.2 0h3.4m1.0 0h1.9m7.1 0h1.9m3.0 0h3.3m4.3 0h1.9m1.7 0h3.5m1.6 0h2.4m2.1 0h2.7m4.1 0h5.1m6.1 0h9.1m18.6 0h3.5m4.4 0h6.8m2.3 0h2.3m1.9 0h1.9m0.3 0h1.9m2.1 0h5.8m7.3 0h1.9m3.0 0h1.9m2.3 0h2.8m0.9 0h1.9m0.7 0h6.3m2.4 0h1.9m1.9 0h2.1m1.9 0h2.3m4.3 0h4.3m0.6 0h1.9m0.4 0h1.9m7.3 0h1.9m2.1 0h7.7m5.2 0h1.9m0.6 0h2.1m1.0 0h3.6m1.6 0h1.9m0.5 0h35.4m2.2 0h3.4m0.7 0h1.9m1.4 0h6.1m2.6 0h5.9m1.2 0h4.7m0.2 0h4.8m0.3 0h3.8m0.9 0h1.9m0.3 0h6.9m5.4 0h3.7m1.0 0h3.1m2.4 0h1.9m4.1 0h2.9m0.8 0h2.8m0.4 0h1.9m0.7 0h3.8m0.3 0h1.9m2.0 0h1.9m0.9 0h1.9m4.4 0h1.9m0.5 0h2.9m1.7 0h2.5m0.5 0h2.1m15.5 0h3.3m4.8 0h2.1m1.8 0h1.9m0.6 0h1.9m1.8 0h4.9m8.9 0h1.9m0.9 0h3.3m5.0 0h4.3m1.0 0h6.1m9.3 0h1.9m8.9 0h2.8m1.7 0h1.9m2.2 0h3.0m1.4 0h3.1m3.0 0h1.9m3.7 0h1.9m4.8 0h4.6M78.6 167.9h2.1m4.8 0h2.3m1.7 0h1.9m12.4 0h1.9m5.3 0h1.9m18.7 0h1.9m9.6 0h3.2m3.2 0h1.9m33.4 0h1.9m5.0 0h1.9m5.1 0h1.9m7.7 0h1.9m1.7 0h1.9m10.2 0h1.9m17.4 0h1.9m4.3 0h1.9m3.3 0h1.9m9.4 0h2.3m5.2 0h4.0m0.4 0h1.9m8.9 0h1.9m13.9 0h4.0m0.3 0h1.9m2.1 0h1.9m0.9 0h5.3m1.3 0h3.1m2.0 0h1.9m8.6 0h6.7m1.4 0h3.3m6.5 0h3.6m0.8 0h5.4m3.3 0h1.9m7.1 0h1.9m0.8 0h1.9m11.6 0h1.9m1.2 0h2.4m3.0 0h1.9m3.4 0h1.9m12.0 0h3.1m0.6 0h1.9m10.4 0h2.6m0.9 0h3.4m4.2 0h2.0m2.2 0h1.9m0.3 0h2.6m4.4 0h1.9m1.4 0h1.9m10.0 0h1.9m0.7 0h1.9m4.0 0h1.9m0.4 0h1.9m28.8 0h3.1m5.1 0h1.9m3.4 0h1.9m1.4 0h1.9m8.0 0h1.9m18.9 0h1.9M112.8 165.1h1.9m11.4 0h1.9m10.4 0h1.9m5.5 0h1.9m19.4 0h1.9m2.2 0h1.9m2.3 0h1.9m22.7 0h1.9m22.8 0h1.9m11.1 0h1.9m8.8 0h1.9m3.3 0h2.8m19.7 0h2.7m7.4 0h4.7m12.6 0h6.1m0.5 0h4.5m0.8 0h6.8m0.6 0h5.0m2.4 0h2.9m2.1 0h1.9m0.4 0h3.8m2.9 0h1.9m1.9 0h1.9m0.6 0h3.9m2.4 0h1.9m6.9 0h3.5m3.0 0h2.7m13.7 0h2.4m2.0 0h5.5m16.2 0h2.5m1.5 0h1.9m17.6 0h2.1m16.9 0h1.9m2.6 0h1.9m7.5 0h1.9m11.3 0h2.3m8.0 0h1.9m10.6 0h1.9m13.6 0h1.9m16.1 0h1.9m24.9 0h1.9M78.7 161.5h1.9m1.9 0h6.0m4.0 0h2.1m1.9 0h2.5m2.4 0h1.9m6.4 0h3.5m8.3 0h1.9m4.5 0h1.9m2.9 0h1.9m1.6 0h6.4m5.9 0h1.9m2.3 0h3.7m2.2 0h4.5m0.7 0h1.9m0.6 0h1.9m0.3 0h2.8m5.1 0h4.8m3.3 0h7.8m1.9 0h2.3m0.9 0h1.9m0.7 0h3.8m0.5 0h4.6m3.4 0h1.9m6.1 0h1.9m4.3 0h1.9m2.3 0h1.9m1.0 0h1.9m3.3 0h5.3m0.5 0h1.9m0.2 0h3.3m1.3 0h4.3m4.3 0h1.9m1.5 0h4.3m0.2 0h7.4m3.3 0h4.6m5.5 0h3.3m0.3 0h5.3m0.4 0h13.9m0.8 0h18.1m0.3 0h14.2m1.3 0h4.2m1.1 0h8.8m2.3 0h5.7m1.4 0h1.9m3.3 0h3.8m0.5 0h3.5m0.4 0h4.9m0.7 0h2.1m0.5 0h4.5m1.0 0h1.9m0.4 0h3.6m2.9 0h1.9m4.5 0h3.2m6.0 0h1.9m3.5 0h6.1m4.1 0h5.3m1.6 0h1.9m0.8 0h4.0m4.4 0h4.3m3.5 0h3.9m7.6 0h1.9m1.9 0h3.4m1.8 0h3.3m2.7 0h3.0m1.7 0h1.9m1.0 0h2.2m5.2 0h2.9m6.1 0h4.0m0.2 0h2.4m1.4 0h3.8m4.7 0h1.9m6.2 0h3.9m1.3 0h1.9m2.3 0h1.9m1.9 0h4.7m0.9 0h2.5m8.0 0h3.5m0.5 0h1.9M102.9 156.8h1.9m10.2 0h1.9m46.7 0h1.9m4.2 0h1.9m2.2 0h1.9m1.0 0h1.9m10.9 0h1.9m10.4 0h1.9m35.5 0h1.9m6.7 0h2.5m14.1 0h4.1m1.1 0h1.9m2.7 0h3.4m1.2 0h1.9m2.0 0h1.9m1.0 0h1.9m1.6 0h1.9m6.6 0h1.9m2.1 0h1.9m2.0 0h5.8m3.0 0h3.3m2.9 0h3.8m3.1 0h2.3m6.7 0h1.9m2.2 0h2.9m0.3 0h1.9m2.2 0h1.9m3.7 0h3.7m9.2 0h1.9m1.3 0h1.9m2.9 0h1.9m0.7 0h1.9m3.0 0h1.9m6.2 0h2.4m10.5 0h1.9m53.1 0h1.9m30.5 0h1.9m2.7 0h1.9m16.8 0h1.9m14.1 0h1.9m21.5 0h3.5M103.4 150.4h1.9m15.4 0h1.9m53.2 0h1.9m76.7 0h1.9m28.5 0h2.3m2.0 0h2.0m2.4 0h1.9m1.6 0h1.9m0.4 0h1.9m4.0 0h1.9m0.6 0h1.9m4.4 0h5.5m0.5 0h3.4m4.6 0h1.9m1.2 0h4.3m0.2 0h2.8m0.2 0h1.9m0.6 0h4.8m2.2 0h1.9m2.6 0h1.9m1.3 0h4.6m11.8 0h5.4m10.8 0h1.9m19.9 0h1.9m9.9 0h1.9m5.5 0h1.9m6.8 0h1.9m3.9 0h1.9m46.9 0h1.9m25.8 0h3.6m13.1 0h1.9m8.6 0h1.9m4.2 0h1.9m13.2 0h3.6M78.9 146.2h1.9m11.6 0h1.9m10.8 0h1.9m4.3 0h1.9m2.2 0h1.9m3.9 0h3.9m2.3 0h3.0m5.3 0h1.9m3.0 0h1.9m4.3 0h1.9m2.2 0h2.9m0.4 0h1.9m2.8 0h1.9m0.5 0h1.9m30.2 0h1.9m4.8 0h1.9m3.8 0h1.9m2.3 0h1.9m3.3 0h1.9m12.3 0h2.5m0.9 0h1.9m6.2 0h2.5m3.0 0h2.6m7.6 0h1.9m1.1 0h1.9m6.0 0h1.9m1.4 0h2.5m4.7 0h1.9m3.0 0h3.9m3.2 0h1.9m3.5 0h1.9m3.5 0h5.6m1.0 0h1.9m1.2 0h1.9m0.6 0h9.4m1.2 0h1.9m4.5 0h2.8m0.7 0h2.7m1.7 0h2.6m0.6 0h7.1m2.5 0h1.9m1.9 0h4.3m2.2 0h4.4m5.4 0h2.2m0.4 0h1.9m1.2 0h3.6m0.4 0h4.3m3.2 0h5.1m2.6 0h3.8m0.7 0h3.6m3.9 0h2.5m1.8 0h2.1m22.0 0h1.9m1.7 0h4.8m6.5 0h1.9m22.3 0h1.9m10.2 0h1.9m2.0 0h1.9m14.1 0h1.9m3.3 0h1.9m0.5 0h3.1m16.7 0h1.9m4.3 0h1.9m15.9 0h1.9m2.9 0h4.2m0.7 0h1.9M79.0 143.1h1.9m8.2 0h1.9m2.5 0h1.9m28.4 0h1.9m3.7 0h1.9m1.3 0h1.9m0.9 0h1.9m2.8 0h2.9m7.6 0h1.9m0.9 0h1.9m2.3 0h1.9m1.9 0h1.9m2.3 0h1.9m24.7 0h1.9m2.1 0h1.9m6.5 0h1.9m0.5 0h5.2m16.2 0h1.9m1.2 0h1.9m3.5 0h2.6m1.5 0h3.6m0.9 0h1.9m7.3 0h1.9m6.9 0h1.9m7.9 0h1.9m1.7 0h3.7m1.5 0h1.9m3.4 0h4.1m4.9 0h3.6m1.1 0h1.9m4.6 0h7.6m4.3 0h15.3m1.0 0h3.3m0.8 0h4.6m8.1 0h3.8m1.8 0h3.1m3.3 0h5.7m1.7 0h1.9m1.7 0h5.0m1.2 0h1.9m3.8 0h3.4m1.8 0h1.9m12.4 0h3.5m4.6 0h1.9m5.4 0h1.9m0.8 0h1.9m1.5 0h2.7m14.0 0h2.2m3.9 0h3.0m6.7 0h1.9m3.4 0h1.9m4.0 0h4.5m7.6 0h1.9m2.7 0h2.2m8.0 0h1.9m3.7 0h1.9m6.9 0h4.4m2.2 0h1.9m6.5 0h1.9m0.2 0h1.9m4.6 0h1.9m10.1 0h4.1m1.4 0h1.9m4.9 0h1.9M88.6 139.8h1.9m0.8 0h1.9m2.3 0h1.9m1.7 0h3.1m7.6 0h1.9m6.2 0h1.9m1.2 0h3.5m0.9 0h3.6m1.3 0h1.9m0.3 0h1.9m14.7 0h1.9m5.6 0h2.7m6.8 0h4.2m3.0 0h2.1m7.8 0h1.9m0.4 0h3.5m1.2 0h2.3m6.4 0h1.9m2.6 0h1.9m7.3 0h1.9m6.1 0h1.9m9.9 0h2.0m8.2 0h4.5m1.8 0h2.4m6.3 0h1.9m14.3 0h1.9m4.9 0h2.0m6.2 0h3.7m2.6 0h1.9m1.2 0h3.2m1.7 0h2.2m3.0 0h2.8m0.8 0h1.9m3.2 0h10.9m0.6 0h1.9m2.4 0h14.3m1.1 0h2.6m13.1 0h5.1m1.9 0h4.1m10.1 0h2.9m0.3 0h2.1m1.9 0h3.6m4.9 0h1.9m4.7 0h4.9m5.9 0h1.9m3.5 0h2.4m7.6 0h1.9m4.4 0h1.9m0.9 0h1.9m1.1 0h1.9m11.7 0h1.9m1.7 0h1.9m3.4 0h1.9m6.7 0h1.9m2.2 0h1.9m2.3 0h4.8m14.5 0h1.9m3.3 0h1.9m6.4 0h1.9m1.7 0h1.9m5.9 0h3.5m3.2 0h1.9m2.6 0h1.9m1.3 0h1.9m8.6 0h1.9m2.8 0h1.9M79.1 137.0h3.9m1.2 0h2.5m4.3 0h3.0m3.7 0h1.9m3.1 0h1.9m4.1 0h8.9m9.1 0h3.4m8.2 0h1.9m6.2 0h1.9m0.4 0h1.9m2.8 0h1.9m0.4 0h3.9m4.6 0h2.3m8.6 0h1.9m1.1 0h1.9m3.0 0h3.0m1.2 0h2.4m3.0 0h3.2m4.2 0h2.4m1.5 0h3.4m0.3 0h2.0m7.4 0h1.9m1.8 0h1.9m22.3 0h1.9m1.6 0h2.1m6.4 0h1.9m3.9 0h3.5m0.6 0h1.9m1.9 0h1.9m6.9 0h3.9m1.7 0h8.8m0.5 0h2.7m4.0 0h11.1m0.3 0h3.7m1.3 0h19.2m0.5 0h27.0m0.8 0h1.9m1.1 0h6.8m1.0 0h4.8m9.3 0h3.5m4.0 0h1.9m1.7 0h2.7m0.3 0h1.9m10.0 0h1.9m0.6 0h1.9m12.4 0h1.9m0.7 0h3.9m2.4 0h1.9m4.8 0h3.3m0.8 0h1.9m1.9 0h3.9m1.6 0h1.9m0.7 0h1.9m9.1 0h1.9m0.5 0h1.9m2.4 0h1.9m2.9 0h1.9m2.3 0h1.9m0.8 0h1.9m5.2 0h6.3m2.3 0h1.9m3.9 0h9.1m2.3 0h1.9m3.2 0h7.9m3.5 0h1.9m3.6 0h1.9m0.8 0h1.9m11.0 0h1.9m0.3 0h3.1M83.4 128.9h3.5m23.6 0h1.9m26.6 0h1.9m25.4 0h1.9m15.0 0h1.9m10.3 0h1.9m1.7 0h1.9m9.3 0h3.5m1.8 0h1.9m20.9 0h1.9m10.9 0h2.0m17.0 0h1.9m1.6 0h1.9m12.8 0h3.3m2.6 0h1.9m10.8 0h2.4m0.3 0h3.6m5.1 0h1.9m3.2 0h3.8m0.9 0h1.9m2.3 0h6.5m0.6 0h1.9m5.7 0h2.7m0.2 0h1.9m4.3 0h1.9m2.7 0h1.9m12.2 0h2.5m0.6 0h2.0m1.3 0h1.9m5.5 0h3.0m3.8 0h1.9m5.0 0h1.9m27.4 0h1.9m45.6 0h1.9m4.3 0h1.9m8.3 0h1.9m0.6 0h1.9m7.8 0h1.9m8.1 0h1.9m9.5 0h3.7m19.2 0h1.9m4.1 0h1.9M85.2 126.1h3.8m4.6 0h1.9m5.8 0h1.9m4.5 0h1.9m11.8 0h1.9m7.8 0h3.8m2.5 0h1.9m14.1 0h1.9m9.8 0h1.9m4.3 0h1.9m6.4 0h1.9m1.1 0h1.9m7.3 0h1.9m2.6 0h1.9m2.5 0h1.9m8.9 0h1.9m8.7 0h1.9m1.6 0h4.3m6.8 0h1.9m2.1 0h3.4m9.3 0h4.8m1.7 0h1.9m0.4 0h1.9m12.7 0h2.6m3.2 0h1.9m6.9 0h1.9m0.8 0h1.9m0.7 0h1.9m1.3 0h12.1m0.6 0h1.9m0.6 0h12.6m1.5 0h6.8m2.5 0h3.6m1.3 0h7.4m1.7 0h2.6m1.8 0h4.8m0.8 0h9.2m3.5 0h1.9m1.0 0h1.9m4.2 0h1.9m1.1 0h3.8m14.3 0h3.8m10.0 0h1.9m8.4 0h2.5m12.6 0h1.9m1.0 0h1.9m5.5 0h3.8m7.8 0h1.9m9.9 0h1.9m1.6 0h1.9m21.7 0h1.9m0.4 0h3.0m8.4 0h1.9m5.2 0h1.9m0.6 0h2.7m1.5 0h1.9m10.5 0h1.9m1.1 0h1.9m10.6 0h1.9m0.9 0h1.9m3.0 0h1.9m0.7 0h1.9M90.7 122.8h1.9m10.0 0h4.0m4.2 0h1.9m2.8 0h1.9m25.2 0h1.9m6.5 0h2.6m0.4 0h1.9m12.2 0h1.9m5.1 0h2.5m1.8 0h1.9m1.4 0h1.9m13.9 0h3.8m9.1 0h2.7m5.0 0h1.9m5.1 0h1.9m10.9 0h1.9m2.2 0h1.9m4.6 0h3.4m5.4 0h3.1m0.8 0h1.9m1.8 0h1.9m4.5 0h1.9m1.7 0h2.5m1.3 0h3.2m11.2 0h4.3m4.4 0h2.7m3.1 0h2.4m1.4 0h5.3m0.3 0h2.4m0.3 0h6.9m0.3 0h8.1m0.8 0h2.5m0.5 0h4.2m0.5 0h2.2m1.4 0h3.4m0.5 0h4.1m2.1 0h4.6m0.4 0h1.9m0.3 0h2.2m2.0 0h7.0m4.5 0h2.9m2.8 0h4.1m1.8 0h2.2m1.4 0h2.9m1.1 0h3.5m2.8 0h3.6m7.6 0h3.5m3.2 0h1.9m11.9 0h3.4m4.4 0h3.5m4.7 0h1.9m7.8 0h1.9m3.2 0h4.0m8.1 0h1.9m0.5 0h1.9m4.2 0h1.9m1.5 0h1.9m3.1 0h1.9m18.0 0h2.4m27.7 0h1.9m0.7 0h1.9m5.4 0h3.7M78.9 120.3h1.9m10.3 0h1.9m4.0 0h1.9m5.2 0h4.8m1.1 0h1.9m0.3 0h1.9m1.6 0h1.9m0.2 0h3.8m0.4 0h1.9m3.3 0h1.9m5.0 0h1.9m0.9 0h2.0m0.7 0h5.5m4.7 0h1.9m1.4 0h1.9m2.6 0h6.1m11.0 0h2.3m1.9 0h3.1m3.0 0h1.9m1.3 0h1.9m1.5 0h4.0m1.5 0h1.9m3.3 0h3.0m1.0 0h3.7m0.9 0h1.9m5.9 0h1.9m3.4 0h1.9m4.0 0h1.9m0.4 0h2.7m2.7 0h1.9m0.9 0h2.7m1.5 0h1.9m1.8 0h1.9m0.6 0h1.9m2.3 0h1.9m1.3 0h2.5m4.4 0h3.6m1.4 0h4.6m2.4 0h8.8m1.6 0h3.1m1.6 0h14.4m1.7 0h2.6m0.8 0h9.3m0.3 0h1.9m1.5 0h19.1m2.6 0h3.5m1.6 0h1.9m0.5 0h6.8m0.9 0h2.1m0.3 0h1.9m0.2 0h6.1m0.3 0h1.9m2.0 0h2.5m0.7 0h1.9m0.3 0h4.3m1.2 0h4.3m2.0 0h1.9m1.4 0h1.9m1.9 0h2.5m5.9 0h1.9m14.0 0h1.9m7.6 0h1.9m2.7 0h5.6m5.2 0h1.9m1.1 0h1.9m2.6 0h3.8m21.7 0h1.9m2.7 0h4.3m0.6 0h1.9m2.8 0h1.9m0.3 0h1.9m2.0 0h1.9m6.3 0h2.4m5.9 0h6.6m10.1 0h2.2m1.2 0h3.1m6.0 0h1.9m1.2 0h1.9m2.0 0h3.4m8.5 0h4.4M80.3 117.2h4.0m1.2 0h1.9m0.7 0h1.9m5.4 0h1.9m10.6 0h2.8m1.4 0h1.9m3.5 0h1.9m6.3 0h1.9m0.3 0h1.9m9.4 0h1.9m2.6 0h1.9m0.8 0h1.9m0.5 0h2.9m4.1 0h1.9m3.4 0h1.9m14.4 0h1.9m3.0 0h1.9m12.3 0h1.9m0.2 0h3.7m0.9 0h3.1m5.4 0h1.9m1.1 0h2.8m0.7 0h1.9m1.9 0h1.9m2.5 0h1.9m1.1 0h1.9m5.4 0h1.9m8.2 0h3.5m3.1 0h2.6m5.7 0h1.9m1.2 0h3.9m2.2 0h8.3m2.1 0h6.0m0.5 0h6.0m1.0 0h18.1m1.2 0h1.9m0.5 0h2.2m0.7 0h4.6m1.2 0h6.8m3.3 0h9.8m0.5 0h10.1m0.9 0h3.5m0.6 0h5.7m1.1 0h5.1m3.0 0h1.9m1.1 0h3.9m1.4 0h1.9m2.6 0h9.9m3.4 0h7.1m13.4 0h1.9m4.4 0h4.6m5.5 0h3.2m1.1 0h1.9m0.6 0h1.9m0.4 0h1.9m2.4 0h1.9m3.5 0h1.9m3.3 0h1.9m16.9 0h1.9m6.1 0h1.9m4.2 0h1.9m1.7 0h2.9m0.5 0h3.2m2.8 0h1.9m3.0 0h1.9m9.7 0h3.1m1.4 0h1.9m2.1 0h1.9m1.9 0h1.9m4.9 0h1.9m1.3 0h1.9m2.5 0h1.9m1.8 0h3.5m1.8 0h1.9m6.8 0h3.1M95.1 111.9h1.9m86.3 0h1.9m13.0 0h4.0m26.8 0h1.9m3.7 0h1.9m5.2 0h1.9m8.2 0h1.9m6.0 0h1.9m6.5 0h4.1m4.6 0h1.9m3.0 0h2.3m4.0 0h1.9m0.3 0h3.8m5.5 0h1.9m0.6 0h1.9m1.4 0h1.9m2.4 0h2.0m8.5 0h1.9m2.0 0h1.9m5.9 0h2.9m16.5 0h1.9m3.5 0h1.9m8.9 0h1.9m25.2 0h1.9m21.4 0h1.9m3.3 0h1.9m6.7 0h1.9m38.8 0h1.9m12.4 0h1.9m31.6 0h5.1m35.5 0h1.9m0.3 0h1.9M95.0 108.9h1.9m13.8 0h1.9m27.1 0h1.9m20.2 0h1.9m19.2 0h1.9m22.1 0h1.9m5.7 0h1.9m31.7 0h1.9m11.2 0h1.9m24.7 0h5.8m7.3 0h1.9m11.2 0h2.7m1.0 0h1.9m6.4 0h3.7m4.1 0h2.0m0.5 0h1.9m6.8 0h1.9m4.8 0h3.7m17.5 0h1.9m38.6 0h1.9m29.3 0h3.1m90.8 0h1.9m8.0 0h1.9m11.3 0h1.9M148.0 92.5h1.9m22.8 0h1.9m3.1 0h1.9m36.1 0h1.9m3.6 0h1.9m19.0 0h3.2m2.3 0h3.1m3.1 0h1.9m0.5 0h1.9m1.1 0h5.9m0.2 0h1.9m8.9 0h2.3m1.9 0h2.1m1.3 0h2.6m5.1 0h3.0m3.2 0h8.2m0.7 0h2.4m0.5 0h1.9m5.3 0h1.9m2.3 0h1.9m2.5 0h5.4m0.5 0h2.6m2.9 0h6.8m1.4 0h4.7m1.1 0h6.9m5.8 0h3.1m1.1 0h1.9m1.7 0h3.5m1.0 0h2.5m1.4 0h2.9m0.9 0h1.9m6.7 0h1.9m50.5 0h1.9m23.0 0h1.9m2.2 0h1.9m42.6 0h1.9m3.3 0h4.9m0.9 0h1.9m9.1 0h1.9m12.4 0h1.9m0.3 0h1.9M102.5 86.9h3.9m10.1 0h2.1m6.5 0h1.9m18.5 0h1.9m3.6 0h1.9m2.7 0h1.9m85.5 0h3.5m0.8 0h2.8m6.3 0h2.2m4.5 0h1.9m8.1 0h3.1m1.4 0h3.5m18.6 0h2.7m0.9 0h1.9m0.9 0h6.6m5.1 0h2.6m0.7 0h2.1m0.8 0h1.9m3.2 0h1.9m1.1 0h4.6m0.8 0h6.3m5.8 0h1.9m0.7 0h1.9m0.8 0h1.9m1.5 0h7.1m4.7 0h3.7m0.7 0h1.9m52.2 0h1.9m5.9 0h1.9m50.4 0h1.9M103.1 67.4h2.9m11.6 0h1.9m46.3 0h1.9m16.1 0h1.9m32.3 0h1.9m6.0 0h9.5m0.6 0h2.3m0.2 0h2.3m0.8 0h1.9m4.8 0h1.9m2.2 0h7.8m1.1 0h3.1m3.4 0h4.9m0.2 0h7.7m0.4 0h1.9m1.9 0h1.9m1.2 0h2.0m2.4 0h4.4m0.8 0h1.9m1.5 0h3.5m1.0 0h1.9m2.4 0h3.4m1.7 0h3.5m0.8 0h5.1m0.7 0h3.5m3.1 0h2.6m0.6 0h1.9m3.6 0h1.9m0.2 0h2.1m2.0 0h4.8m3.8 0h1.9m0.7 0h1.9m3.7 0h6.8m1.8 0h5.6m0.5 0h3.0m0.2 0h5.1m0.3 0h9.6m4.9 0h6.1m4.7 0h2.7m1.5 0h2.4m2.2 0h3.0m0.3 0h1.9m2.8 0h3.9m5.6 0h1.9m34.0 0h3.9m11.8 0h1.9m32.9 0h1.9m2.3 0h3.9" stroke="#000" stroke-width="1.7" fill="none"/>
<clipPath id="c1"><rect x="59.5" y="47.5" width="533.0" height="532.8"/></clipPath>
<g clip-path="url(#c1)">
<path d="M267.88 580.30V47.50" stroke="#006400" stroke-width="2.25" stroke-dasharray="9 9" stroke-linecap="round" fill="none"/>
<path d="M382.92 580.30V47.50" stroke="#006400" stroke-width="2.25" stroke-dasharray="9 9" stroke-linecap="round" fill="none"/>
<path d="M59.50 420.97H592.50" stroke="#CB2020" stroke-width="2.25" stroke-dasharray="9 9" stroke-linecap="round" fill="none"/>
</g>
<text transform="translate(215.89 31.70) scale(0.9923 1)" font-size="21.6" font-weight="bold">Top hit for each peak</text>
<text transform="translate(238.83 625.90) scale(0.9951 1)" font-size="16">Distance to peak summit</text>
<text transform="translate(22.00 353.46) rotate(-90) scale(0.9879 1)" font-size="16">Motif score</text>
<filter id="bl" x="-5%" y="-5%" width="110%" height="110%" color-interpolation-filters="sRGB"><feGaussianBlur stdDeviation="2.2"/></filter>
<clipPath id="h0"><rect x="699.5" y="47.5" width="152.0" height="532.8"/></clipPath>
<g clip-path="url(#h0)"><g filter="url(#bl)">
<path fill="#ffffff" d="M689.0 36.8h16.1v5.7h-16.1zM689.0 42.2h16.1v5.7h-16.1zM689.0 47.5h10.9v5.7h-10.9zM689.0 52.8h10.9v5.7h-10.9zM689.0 58.2h10.9v5.7h-10.9zM689.0 63.5h5.6v5.7h-5.6zM689.0 511.0h5.6v5.7h-5.6zM689.0 516.4h5.6v5.7h-5.6zM689.0 521.7h10.9v5.7h-10.9zM689.0 527.0h16.1v5.7h-16.1zM689.0 532.3h21.4v5.7h-21.4zM689.0 537.7h42.3v5.7h-42.3zM689.0 543.0h173.4v5.7h-173.4zM689.0 548.3h173.4v5.7h-173.4zM689.0 553.7h173.4v5.7h-173.4zM689.0 559.0h173.4v5.7h-173.4zM689.0 564.3h173.4v5.7h-173.4zM689.0 569.6h173.4v5.7h-173.4zM689.0 575.0h173.4v5.7h-173.4zM689.0 580.3h173.4v5.7h-173.4zM689.0 585.6h173.4v5.7h-173.4z"/>
<path fill="#fcfcff" d="M704.7 36.8h157.6v5.7h-157.6zM704.7 42.2h157.6v5.7h-157.6zM699.5 47.5h162.9v5.7h-162.9zM699.5 52.8h162.9v5.7h-162.9zM699.5 58.2h162.9v5.7h-162.9zM694.3 63.5h168.1v5.7h-168.1zM689.0 68.8h37.1v5.7h-37.1zM689.0 74.1h21.4v5.7h-21.4zM689.0 79.5h10.9v5.7h-10.9zM689.0 84.8h5.6v5.7h-5.6zM689.0 468.4h5.6v5.7h-5.6zM689.0 473.7h5.6v5.7h-5.6zM689.0 479.1h5.6v5.7h-5.6zM689.0 484.4h10.9v5.7h-10.9zM689.0 489.7h16.1v5.7h-16.1zM689.0 495.1h21.4v5.7h-21.4zM689.0 500.4h26.6v5.7h-26.6zM689.0 505.7h31.8v5.7h-31.8zM694.3 511.0h168.1v5.7h-168.1zM694.3 516.4h168.1v5.7h-168.1zM699.5 521.7h162.9v5.7h-162.9zM704.7 527.0h157.6v5.7h-157.6zM710.0 532.3h152.4v5.7h-152.4zM730.9 537.7h131.4v5.7h-131.4z"/>
<path fill="#f9f9ff" d="M725.7 68.8h136.7v5.7h-136.7zM710.0 74.1h152.4v5.7h-152.4zM699.5 79.5h21.4v5.7h-21.4zM694.3 84.8h10.9v5.7h-10.9zM689.0 90.1h10.9v5.7h-10.9zM689.0 95.5h5.6v5.7h-5.6zM689.0 447.1h5.6v5.7h-5.6zM689.0 452.4h5.6v5.7h-5.6zM689.0 457.8h10.9v5.7h-10.9zM689.0 463.1h10.9v5.7h-10.9zM694.3 468.4h10.9v5.7h-10.9zM694.3 473.7h10.9v5.7h-10.9zM694.3 479.1h16.1v5.7h-16.1zM699.5 484.4h16.1v5.7h-16.1zM704.7 489.7h31.8v5.7h-31.8zM710.0 495.1h152.4v5.7h-152.4zM715.2 500.4h147.2v5.7h-147.2zM720.5 505.7h141.9v5.7h-141.9z"/>
<path fill="#f6f6ff" d="M720.5 79.5h141.9v5.7h-141.9zM704.7 84.8h16.1v5.7h-16.1zM699.5 90.1h10.9v5.7h-10.9zM694.3 95.5h5.6v5.7h-5.6zM689.0 100.8h10.9v5.7h-10.9zM689.0 106.1h5.6v5.7h-5.6zM689.0 111.4h5.6v5.7h-5.6zM689.0 116.8h5.6v5.7h-5.6zM689.0 431.1h5.6v5.7h-5.6zM689.0 436.4h5.6v5.7h-5.6zM689.0 441.8h10.9v5.7h-10.9zM694.3 447.1h5.6v5.7h-5.6zM694.3 452.4h5.6v5.7h-5.6zM699.5 457.8h5.6v5.7h-5.6zM699.5 463.1h10.9v5.7h-10.9zM704.7 468.4h10.9v5.7h-10.9zM704.7 473.7h21.4v5.7h-21.4zM710.0 479.1h152.4v5.7h-152.4zM715.2 484.4h147.2v5.7h-147.2zM736.2 489.7h126.2v5.7h-126.2z"/>
<path fill="#f3f3ff" d="M720.5 84.8h141.9v5.7h-141.9zM710.0 90.1h10.9v5.7h-10.9zM699.5 95.5h10.9v5.7h-10.9zM699.5 100.8h5.6v5.7h-5.6zM694.3 106.1h5.6v5.7h-5.6zM694.3 111.4h5.6v5.7h-5.6zM689.0 122.1h5.6v5.7h-5.6zM689.0 127.4h5.6v5.7h-5.6zM689.0 132.7h5.6v5.7h-5.6zM689.0 420.5h5.6v5.7h-5.6zM689.0 425.8h5.6v5.7h-5.6zM694.3 431.1h5.6v5.7h-5.6zM694.3 436.4h5.6v5.7h-5.6zM699.5 441.8h5.6v5.7h-5.6zM699.5 447.1h5.6v5.7h-5.6zM699.5 452.4h10.9v5.7h-10.9zM704.7 457.8h10.9v5.7h-10.9zM710.0 463.1h16.1v5.7h-16.1zM715.2 468.4h147.2v5.7h-147.2zM725.7 473.7h136.7v5.7h-136.7z"/>
<path fill="#f0f0ff" d="M720.5 90.1h136.7v5.7h-136.7zM710.0 95.5h10.9v5.7h-10.9zM704.7 100.8h5.6v5.7h-5.6zM699.5 106.1h5.6v5.7h-5.6zM694.3 116.8h5.6v5.7h-5.6zM694.3 122.1h5.6v5.7h-5.6zM694.3 127.4h5.6v5.7h-5.6zM694.3 132.7h5.6v5.7h-5.6zM689.0 138.1h5.6v5.7h-5.6zM689.0 361.9h5.6v5.7h-5.6zM689.0 367.2h5.6v5.7h-5.6zM689.0 372.5h5.6v5.7h-5.6zM689.0 377.8h5.6v5.7h-5.6zM689.0 383.2h5.6v5.7h-5.6zM689.0 404.5h5.6v5.7h-5.6zM689.0 409.8h5.6v5.7h-5.6zM689.0 415.1h5.6v5.7h-5.6zM694.3 420.5h5.6v5.7h-5.6zM694.3 425.8h5.6v5.7h-5.6zM699.5 436.4h5.6v5.7h-5.6zM704.7 441.8h5.6v5.7h-5.6zM704.7 447.1h10.9v5.7h-10.9zM710.0 452.4h10.9v5.7h-10.9zM715.2 457.8h26.6v5.7h-26.6zM725.7 463.1h136.7v5.7h-136.7z"/>
<path fill="#ededff" d="M856.7 90.1h5.6v5.7h-5.6zM720.5 95.5h126.2v5.7h-126.2zM710.0 100.8h5.6v5.7h-5.6zM704.7 106.1h5.6v5.7h-5.6zM699.5 111.4h5.6v5.7h-5.6zM699.5 116.8h5.6v5.7h-5.6zM699.5 122.1h5.6v5.7h-5.6zM699.5 127.4h5.6v5.7h-5.6zM694.3 138.1h5.6v5.7h-5.6zM689.0 143.4h5.6v5.7h-5.6zM689.0 356.5h5.6v5.7h-5.6zM689.0 388.5h5.6v5.7h-5.6zM689.0 393.8h5.6v5.7h-5.6zM689.0 399.1h5.6v5.7h-5.6zM694.3 415.1h5.6v5.7h-5.6zM699.5 425.8h5.6v5.7h-5.6zM699.5 431.1h5.6v5.7h-5.6zM704.7 436.4h5.6v5.7h-5.6zM710.0 441.8h5.6v5.7h-5.6zM715.2 447.1h10.9v5.7h-10.9zM720.5 452.4h141.9v5.7h-141.9zM741.4 457.8h121.0v5.7h-121.0z"/>
<path fill="#eaeaff" d="M846.3 95.5h16.1v5.7h-16.1zM715.2 100.8h21.4v5.7h-21.4zM710.0 106.1h5.6v5.7h-5.6zM704.7 111.4h5.6v5.7h-5.6zM704.7 116.8h5.6v5.7h-5.6zM704.7 122.1h5.6v5.7h-5.6zM699.5 132.7h5.6v5.7h-5.6zM689.0 148.7h5.6v5.7h-5.6zM689.0 292.6h5.6v5.7h-5.6zM689.0 297.9h5.6v5.7h-5.6zM694.3 361.9h5.6v5.7h-5.6zM694.3 367.2h5.6v5.7h-5.6zM694.3 372.5h5.6v5.7h-5.6zM694.3 377.8h5.6v5.7h-5.6zM694.3 383.2h5.6v5.7h-5.6zM694.3 388.5h5.6v5.7h-5.6zM694.3 404.5h5.6v5.7h-5.6zM694.3 409.8h5.6v5.7h-5.6zM699.5 420.5h5.6v5.7h-5.6zM704.7 425.8h5.6v5.7h-5.6zM704.7 431.1h5.6v5.7h-5.6zM710.0 436.4h10.9v5.7h-10.9zM715.2 441.8h16.1v5.7h-16.1zM725.7 447.1h136.7v5.7h-136.7z"/>
<path fill="#e7e7ff" d="M736.2 100.8h126.2v5.7h-126.2zM715.2 106.1h16.1v5.7h-16.1zM710.0 111.4h5.6v5.7h-5.6zM710.0 116.8h5.6v5.7h-5.6zM704.7 127.4h5.6v5.7h-5.6zM704.7 132.7h5.6v5.7h-5.6zM699.5 138.1h5.6v5.7h-5.6zM694.3 143.4h5.6v5.7h-5.6zM689.0 287.3h5.6v5.7h-5.6zM689.0 303.2h5.6v5.7h-5.6zM689.0 351.2h5.6v5.7h-5.6zM699.5 372.5h5.6v5.7h-5.6zM699.5 377.8h5.6v5.7h-5.6zM694.3 393.8h5.6v5.7h-5.6zM694.3 399.1h5.6v5.7h-5.6zM699.5 415.1h5.6v5.7h-5.6zM704.7 420.5h5.6v5.7h-5.6zM710.0 431.1h10.9v5.7h-10.9zM720.5 436.4h21.4v5.7h-21.4zM730.9 441.8h131.4v5.7h-131.4z"/>
<path fill="#e4e4ff" d="M730.9 106.1h126.2v5.7h-126.2zM715.2 111.4h16.1v5.7h-16.1zM715.2 116.8h5.6v5.7h-5.6zM710.0 122.1h10.9v5.7h-10.9zM710.0 127.4h5.6v5.7h-5.6zM710.0 132.7h5.6v5.7h-5.6zM689.0 154.1h5.6v5.7h-5.6zM694.3 297.9h5.6v5.7h-5.6zM689.0 308.6h5.6v5.7h-5.6zM694.3 356.5h5.6v5.7h-5.6zM699.5 361.9h5.6v5.7h-5.6zM699.5 367.2h5.6v5.7h-5.6zM699.5 383.2h5.6v5.7h-5.6zM699.5 404.5h5.6v5.7h-5.6zM699.5 409.8h5.6v5.7h-5.6zM704.7 415.1h5.6v5.7h-5.6zM710.0 425.8h10.9v5.7h-10.9zM720.5 431.1h16.1v5.7h-16.1zM741.4 436.4h121.0v5.7h-121.0z"/>
<path fill="#e1e1ff" d="M856.7 106.1h5.6v5.7h-5.6zM730.9 111.4h126.2v5.7h-126.2zM720.5 116.8h21.4v5.7h-21.4zM720.5 122.1h10.9v5.7h-10.9zM715.2 127.4h10.9v5.7h-10.9zM715.2 132.7h5.6v5.7h-5.6zM704.7 138.1h5.6v5.7h-5.6zM699.5 143.4h5.6v5.7h-5.6zM694.3 148.7h5.6v5.7h-5.6zM689.0 159.4h5.6v5.7h-5.6zM689.0 223.3h5.6v5.7h-5.6zM689.0 228.7h5.6v5.7h-5.6zM689.0 234.0h5.6v5.7h-5.6zM689.0 281.9h5.6v5.7h-5.6zM694.3 292.6h5.6v5.7h-5.6zM689.0 313.9h5.6v5.7h-5.6zM689.0 345.9h5.6v5.7h-5.6zM704.7 367.2h5.6v5.7h-5.6zM704.7 372.5h5.6v5.7h-5.6zM704.7 377.8h5.6v5.7h-5.6zM699.5 388.5h5.6v5.7h-5.6zM699.5 393.8h5.6v5.7h-5.6zM699.5 399.1h5.6v5.7h-5.6zM704.7 409.8h5.6v5.7h-5.6zM710.0 420.5h5.6v5.7h-5.6zM720.5 425.8h10.9v5.7h-10.9zM736.2 431.1h126.2v5.7h-126.2z"/>
<path fill="#dedeff" d="M856.7 111.4h5.6v5.7h-5.6zM741.4 116.8h121.0v5.7h-121.0zM730.9 122.1h126.2v5.7h-126.2zM725.7 127.4h110.5v5.7h-110.5zM720.5 132.7h10.9v5.7h-10.9zM710.0 138.1h5.6v5.7h-5.6zM689.0 164.7h5.6v5.7h-5.6zM689.0 207.3h5.6v5.7h-5.6zM689.0 212.7h5.6v5.7h-5.6zM689.0 218.0h5.6v5.7h-5.6zM689.0 239.3h5.6v5.7h-5.6zM689.0 276.6h5.6v5.7h-5.6zM694.3 287.3h5.6v5.7h-5.6zM694.3 303.2h5.6v5.7h-5.6zM689.0 319.2h5.6v5.7h-5.6zM689.0 340.5h5.6v5.7h-5.6zM694.3 351.2h5.6v5.7h-5.6zM699.5 356.5h5.6v5.7h-5.6zM704.7 361.9h5.6v5.7h-5.6zM704.7 383.2h5.6v5.7h-5.6zM704.7 388.5h5.6v5.7h-5.6zM704.7 404.5h5.6v5.7h-5.6zM710.0 415.1h5.6v5.7h-5.6zM715.2 420.5h10.9v5.7h-10.9zM730.9 425.8h131.4v5.7h-131.4z"/>
<path fill="#dbdbff" d="M856.7 122.1h5.6v5.7h-5.6zM835.8 127.4h26.6v5.7h-26.6zM730.9 132.7h115.7v5.7h-115.7zM715.2 138.1h5.6v5.7h-5.6zM704.7 143.4h5.6v5.7h-5.6zM699.5 148.7h5.6v5.7h-5.6zM694.3 154.1h5.6v5.7h-5.6zM689.0 170.0h5.6v5.7h-5.6zM689.0 196.7h5.6v5.7h-5.6zM689.0 202.0h5.6v5.7h-5.6zM689.0 244.6h5.6v5.7h-5.6zM689.0 250.0h5.6v5.7h-5.6zM689.0 271.3h5.6v5.7h-5.6zM699.5 292.6h5.6v5.7h-5.6zM699.5 297.9h5.6v5.7h-5.6zM694.3 308.6h5.6v5.7h-5.6zM689.0 324.6h5.6v5.7h-5.6zM689.0 335.2h5.6v5.7h-5.6zM710.0 367.2h5.6v5.7h-5.6zM710.0 372.5h5.6v5.7h-5.6zM710.0 377.8h5.6v5.7h-5.6zM710.0 383.2h5.6v5.7h-5.6zM704.7 393.8h5.6v5.7h-5.6zM704.7 399.1h5.6v5.7h-5.6zM710.0 409.8h5.6v5.7h-5.6zM715.2 415.1h10.9v5.7h-10.9zM725.7 420.5h136.7v5.7h-136.7z"/>
<path fill="#d8d8ff" d="M846.3 132.7h10.9v5.7h-10.9zM720.5 138.1h5.6v5.7h-5.6zM694.3 159.4h5.6v5.7h-5.6zM689.0 175.4h5.6v5.7h-5.6zM689.0 180.7h5.6v5.7h-5.6zM689.0 186.0h5.6v5.7h-5.6zM689.0 191.4h5.6v5.7h-5.6zM689.0 255.3h5.6v5.7h-5.6zM689.0 260.6h5.6v5.7h-5.6zM689.0 265.9h5.6v5.7h-5.6zM694.3 281.9h5.6v5.7h-5.6zM699.5 303.2h5.6v5.7h-5.6zM694.3 313.9h5.6v5.7h-5.6zM689.0 329.9h5.6v5.7h-5.6zM694.3 345.9h5.6v5.7h-5.6zM704.7 356.5h5.6v5.7h-5.6zM710.0 361.9h5.6v5.7h-5.6zM715.2 367.2h5.6v5.7h-5.6zM715.2 372.5h5.6v5.7h-5.6zM715.2 377.8h5.6v5.7h-5.6zM715.2 383.2h5.6v5.7h-5.6zM710.0 388.5h5.6v5.7h-5.6zM710.0 404.5h5.6v5.7h-5.6zM715.2 409.8h5.6v5.7h-5.6zM725.7 415.1h16.1v5.7h-16.1z"/>
<path fill="#d5d5ff" d="M856.7 132.7h5.6v5.7h-5.6zM725.7 138.1h110.5v5.7h-110.5zM710.0 143.4h5.6v5.7h-5.6zM694.3 212.7h5.6v5.7h-5.6zM694.3 218.0h5.6v5.7h-5.6zM694.3 223.3h5.6v5.7h-5.6zM694.3 228.7h5.6v5.7h-5.6zM694.3 234.0h5.6v5.7h-5.6zM699.5 287.3h5.6v5.7h-5.6zM704.7 297.9h5.6v5.7h-5.6zM699.5 351.2h5.6v5.7h-5.6zM715.2 361.9h5.6v5.7h-5.6zM720.5 367.2h10.9v5.7h-10.9zM720.5 372.5h16.1v5.7h-16.1zM720.5 377.8h16.1v5.7h-16.1zM720.5 383.2h5.6v5.7h-5.6zM715.2 388.5h5.6v5.7h-5.6zM710.0 393.8h5.6v5.7h-5.6zM710.0 399.1h5.6v5.7h-5.6zM715.2 404.5h5.6v5.7h-5.6zM720.5 409.8h10.9v5.7h-10.9zM741.4 415.1h121.0v5.7h-121.0z"/>
<path fill="#d2d2ff" d="M835.8 138.1h16.1v5.7h-16.1zM715.2 143.4h5.6v5.7h-5.6zM704.7 148.7h5.6v5.7h-5.6zM699.5 154.1h5.6v5.7h-5.6zM694.3 164.7h5.6v5.7h-5.6zM694.3 207.3h5.6v5.7h-5.6zM694.3 239.3h5.6v5.7h-5.6zM694.3 276.6h5.6v5.7h-5.6zM704.7 292.6h5.6v5.7h-5.6zM699.5 308.6h5.6v5.7h-5.6zM694.3 319.2h5.6v5.7h-5.6zM694.3 340.5h5.6v5.7h-5.6zM710.0 356.5h5.6v5.7h-5.6zM720.5 361.9h10.9v5.7h-10.9zM730.9 367.2h131.4v5.7h-131.4zM736.2 372.5h126.2v5.7h-126.2zM736.2 377.8h126.2v5.7h-126.2zM725.7 383.2h26.6v5.7h-26.6zM720.5 388.5h5.6v5.7h-5.6zM715.2 393.8h5.6v5.7h-5.6zM715.2 399.1h5.6v5.7h-5.6zM720.5 404.5h5.6v5.7h-5.6zM730.9 409.8h131.4v5.7h-131.4z"/>
<path fill="#cfcfff" d="M851.5 138.1h10.9v5.7h-10.9zM720.5 143.4h5.6v5.7h-5.6zM694.3 170.0h5.6v5.7h-5.6zM694.3 202.0h5.6v5.7h-5.6zM694.3 244.6h5.6v5.7h-5.6zM694.3 250.0h5.6v5.7h-5.6zM694.3 271.3h5.6v5.7h-5.6zM699.5 281.9h5.6v5.7h-5.6zM710.0 297.9h5.6v5.7h-5.6zM704.7 303.2h5.6v5.7h-5.6zM694.3 324.6h5.6v5.7h-5.6zM699.5 345.9h5.6v5.7h-5.6zM704.7 351.2h5.6v5.7h-5.6zM730.9 361.9h126.2v5.7h-126.2zM751.9 383.2h110.5v5.7h-110.5zM725.7 388.5h10.9v5.7h-10.9zM720.5 393.8h5.6v5.7h-5.6zM720.5 399.1h5.6v5.7h-5.6zM725.7 404.5h21.4v5.7h-21.4z"/>
<path fill="#ccccff" d="M725.7 143.4h10.9v5.7h-10.9zM710.0 148.7h5.6v5.7h-5.6zM699.5 159.4h5.6v5.7h-5.6zM694.3 175.4h5.6v5.7h-5.6zM694.3 191.4h5.6v5.7h-5.6zM694.3 196.7h5.6v5.7h-5.6zM694.3 255.3h5.6v5.7h-5.6zM704.7 287.3h5.6v5.7h-5.6zM710.0 292.6h5.6v5.7h-5.6zM699.5 313.9h5.6v5.7h-5.6zM694.3 329.9h5.6v5.7h-5.6zM694.3 335.2h5.6v5.7h-5.6zM715.2 356.5h5.6v5.7h-5.6zM856.7 361.9h5.6v5.7h-5.6zM736.2 388.5h126.2v5.7h-126.2zM725.7 393.8h10.9v5.7h-10.9zM725.7 399.1h10.9v5.7h-10.9zM746.7 404.5h115.7v5.7h-115.7z"/>
<path fill="#c9c9ff" d="M736.2 143.4h105.2v5.7h-105.2zM704.7 154.1h5.6v5.7h-5.6zM694.3 180.7h5.6v5.7h-5.6zM694.3 186.0h5.6v5.7h-5.6zM699.5 212.7h5.6v5.7h-5.6zM699.5 218.0h5.6v5.7h-5.6zM699.5 223.3h5.6v5.7h-5.6zM699.5 228.7h5.6v5.7h-5.6zM699.5 234.0h5.6v5.7h-5.6zM694.3 260.6h5.6v5.7h-5.6zM694.3 265.9h5.6v5.7h-5.6zM715.2 292.6h5.6v5.7h-5.6zM715.2 297.9h5.6v5.7h-5.6zM710.0 303.2h5.6v5.7h-5.6zM704.7 308.6h5.6v5.7h-5.6zM720.5 356.5h10.9v5.7h-10.9zM736.2 393.8h126.2v5.7h-126.2zM736.2 399.1h126.2v5.7h-126.2z"/>
<path fill="#c6c6ff" d="M841.0 143.4h10.9v5.7h-10.9zM715.2 148.7h5.6v5.7h-5.6zM699.5 164.7h5.6v5.7h-5.6zM699.5 207.3h5.6v5.7h-5.6zM699.5 239.3h5.6v5.7h-5.6zM699.5 276.6h5.6v5.7h-5.6zM710.0 287.3h5.6v5.7h-5.6zM720.5 292.6h5.6v5.7h-5.6zM720.5 297.9h5.6v5.7h-5.6zM699.5 319.2h5.6v5.7h-5.6zM699.5 340.5h5.6v5.7h-5.6zM710.0 351.2h5.6v5.7h-5.6zM730.9 356.5h105.2v5.7h-105.2z"/>
<path fill="#c3c3ff" d="M851.5 143.4h5.6v5.7h-5.6zM720.5 148.7h5.6v5.7h-5.6zM710.0 154.1h5.6v5.7h-5.6zM704.7 159.4h5.6v5.7h-5.6zM699.5 170.0h5.6v5.7h-5.6zM699.5 202.0h5.6v5.7h-5.6zM699.5 244.6h5.6v5.7h-5.6zM704.7 281.9h5.6v5.7h-5.6zM725.7 292.6h5.6v5.7h-5.6zM725.7 297.9h5.6v5.7h-5.6zM715.2 303.2h5.6v5.7h-5.6zM704.7 313.9h5.6v5.7h-5.6zM704.7 345.9h5.6v5.7h-5.6zM835.8 356.5h26.6v5.7h-26.6z"/>
<path fill="#c0c0ff" d="M856.7 143.4h5.6v5.7h-5.6zM725.7 148.7h10.9v5.7h-10.9zM699.5 196.7h5.6v5.7h-5.6zM704.7 223.3h5.6v5.7h-5.6zM704.7 228.7h5.6v5.7h-5.6zM699.5 250.0h5.6v5.7h-5.6zM699.5 271.3h5.6v5.7h-5.6zM715.2 287.3h5.6v5.7h-5.6zM730.9 292.6h105.2v5.7h-105.2zM730.9 297.9h115.7v5.7h-115.7zM710.0 308.6h5.6v5.7h-5.6zM699.5 324.6h5.6v5.7h-5.6zM699.5 335.2h5.6v5.7h-5.6zM715.2 351.2h5.6v5.7h-5.6z"/>
<path fill="#bdbdff" d="M736.2 148.7h100.0v5.7h-100.0zM715.2 154.1h5.6v5.7h-5.6zM699.5 175.4h5.6v5.7h-5.6zM699.5 191.4h5.6v5.7h-5.6zM704.7 212.7h5.6v5.7h-5.6zM704.7 218.0h5.6v5.7h-5.6zM704.7 234.0h5.6v5.7h-5.6zM699.5 255.3h5.6v5.7h-5.6zM699.5 260.6h5.6v5.7h-5.6zM699.5 265.9h5.6v5.7h-5.6zM704.7 276.6h5.6v5.7h-5.6zM835.8 292.6h21.4v5.7h-21.4zM846.3 297.9h16.1v5.7h-16.1zM720.5 303.2h10.9v5.7h-10.9zM704.7 319.2h5.6v5.7h-5.6zM699.5 329.9h5.6v5.7h-5.6zM720.5 351.2h5.6v5.7h-5.6z"/>
<path fill="#babaff" d="M835.8 148.7h16.1v5.7h-16.1zM710.0 159.4h5.6v5.7h-5.6zM704.7 164.7h5.6v5.7h-5.6zM699.5 180.7h5.6v5.7h-5.6zM699.5 186.0h5.6v5.7h-5.6zM704.7 207.3h5.6v5.7h-5.6zM704.7 239.3h5.6v5.7h-5.6zM710.0 281.9h5.6v5.7h-5.6zM720.5 287.3h5.6v5.7h-5.6zM856.7 292.6h5.6v5.7h-5.6zM730.9 303.2h21.4v5.7h-21.4zM715.2 308.6h5.6v5.7h-5.6zM710.0 313.9h5.6v5.7h-5.6zM704.7 340.5h5.6v5.7h-5.6zM710.0 345.9h5.6v5.7h-5.6zM725.7 351.2h10.9v5.7h-10.9z"/>
<path fill="#b7b7ff" d="M851.5 148.7h5.6v5.7h-5.6zM720.5 154.1h5.6v5.7h-5.6zM704.7 170.0h5.6v5.7h-5.6zM704.7 202.0h5.6v5.7h-5.6zM710.0 223.3h5.6v5.7h-5.6zM710.0 228.7h5.6v5.7h-5.6zM704.7 244.6h5.6v5.7h-5.6zM725.7 287.3h16.1v5.7h-16.1zM751.9 303.2h105.2v5.7h-105.2zM720.5 308.6h5.6v5.7h-5.6zM736.2 351.2h121.0v5.7h-121.0z"/>
<path fill="#b4b4ff" d="M856.7 148.7h5.6v5.7h-5.6zM725.7 154.1h10.9v5.7h-10.9zM704.7 196.7h5.6v5.7h-5.6zM710.0 212.7h5.6v5.7h-5.6zM710.0 218.0h5.6v5.7h-5.6zM710.0 234.0h5.6v5.7h-5.6zM704.7 250.0h5.6v5.7h-5.6zM704.7 271.3h5.6v5.7h-5.6zM715.2 281.9h5.6v5.7h-5.6zM741.4 287.3h110.5v5.7h-110.5zM856.7 303.2h5.6v5.7h-5.6zM725.7 308.6h5.6v5.7h-5.6zM715.2 313.9h5.6v5.7h-5.6zM704.7 324.6h5.6v5.7h-5.6zM715.2 345.9h5.6v5.7h-5.6zM856.7 351.2h5.6v5.7h-5.6z"/>
<path fill="#b1b1ff" d="M736.2 154.1h100.0v5.7h-100.0zM715.2 159.4h5.6v5.7h-5.6zM710.0 164.7h5.6v5.7h-5.6zM704.7 175.4h5.6v5.7h-5.6zM704.7 191.4h5.6v5.7h-5.6zM710.0 207.3h5.6v5.7h-5.6zM710.0 239.3h5.6v5.7h-5.6zM704.7 255.3h5.6v5.7h-5.6zM710.0 276.6h5.6v5.7h-5.6zM720.5 281.9h5.6v5.7h-5.6zM851.5 287.3h10.9v5.7h-10.9zM730.9 308.6h21.4v5.7h-21.4zM710.0 319.2h5.6v5.7h-5.6zM704.7 329.9h5.6v5.7h-5.6zM704.7 335.2h5.6v5.7h-5.6zM710.0 340.5h5.6v5.7h-5.6zM720.5 345.9h5.6v5.7h-5.6z"/>
<path fill="#aeaeff" d="M835.8 154.1h16.1v5.7h-16.1zM720.5 159.4h5.6v5.7h-5.6zM704.7 180.7h5.6v5.7h-5.6zM704.7 186.0h5.6v5.7h-5.6zM715.2 218.0h5.6v5.7h-5.6zM715.2 223.3h5.6v5.7h-5.6zM715.2 228.7h5.6v5.7h-5.6zM715.2 234.0h5.6v5.7h-5.6zM710.0 244.6h5.6v5.7h-5.6zM704.7 260.6h5.6v5.7h-5.6zM704.7 265.9h5.6v5.7h-5.6zM725.7 281.9h5.6v5.7h-5.6zM751.9 308.6h105.2v5.7h-105.2zM720.5 313.9h5.6v5.7h-5.6zM725.7 345.9h5.6v5.7h-5.6z"/>
<path fill="#ababff" d="M851.5 154.1h5.6v5.7h-5.6zM725.7 159.4h5.6v5.7h-5.6zM710.0 170.0h5.6v5.7h-5.6zM710.0 202.0h5.6v5.7h-5.6zM715.2 212.7h5.6v5.7h-5.6zM720.5 228.7h5.6v5.7h-5.6zM710.0 271.3h5.6v5.7h-5.6zM715.2 276.6h5.6v5.7h-5.6zM730.9 281.9h10.9v5.7h-10.9zM856.7 308.6h5.6v5.7h-5.6zM725.7 313.9h5.6v5.7h-5.6zM715.2 319.2h5.6v5.7h-5.6zM710.0 324.6h5.6v5.7h-5.6zM730.9 345.9h10.9v5.7h-10.9z"/>
<path fill="#a8a8ff" d="M856.7 154.1h5.6v5.7h-5.6zM730.9 159.4h16.1v5.7h-16.1zM715.2 164.7h5.6v5.7h-5.6zM710.0 196.7h5.6v5.7h-5.6zM715.2 207.3h5.6v5.7h-5.6zM720.5 218.0h5.6v5.7h-5.6zM720.5 223.3h5.6v5.7h-5.6zM720.5 234.0h5.6v5.7h-5.6zM715.2 239.3h5.6v5.7h-5.6zM710.0 250.0h5.6v5.7h-5.6zM741.4 281.9h105.2v5.7h-105.2zM730.9 313.9h16.1v5.7h-16.1zM710.0 335.2h5.6v5.7h-5.6zM715.2 340.5h5.6v5.7h-5.6zM741.4 345.9h121.0v5.7h-121.0z"/>
<path fill="#a5a5ff" d="M746.7 159.4h94.7v5.7h-94.7zM720.5 164.7h5.6v5.7h-5.6zM710.0 175.4h5.6v5.7h-5.6zM710.0 191.4h5.6v5.7h-5.6zM715.2 202.0h5.6v5.7h-5.6zM720.5 212.7h5.6v5.7h-5.6zM725.7 218.0h5.6v5.7h-5.6zM725.7 223.3h5.6v5.7h-5.6zM725.7 228.7h10.9v5.7h-10.9zM725.7 234.0h5.6v5.7h-5.6zM720.5 239.3h5.6v5.7h-5.6zM715.2 244.6h5.6v5.7h-5.6zM710.0 255.3h5.6v5.7h-5.6zM720.5 276.6h5.6v5.7h-5.6zM846.3 281.9h10.9v5.7h-10.9zM746.7 313.9h110.5v5.7h-110.5zM720.5 319.2h5.6v5.7h-5.6zM710.0 329.9h5.6v5.7h-5.6z"/>
<path fill="#a2a2ff" d="M841.0 159.4h10.9v5.7h-10.9zM715.2 170.0h5.6v5.7h-5.6zM710.0 180.7h5.6v5.7h-5.6zM710.0 186.0h5.6v5.7h-5.6zM720.5 207.3h5.6v5.7h-5.6zM725.7 212.7h5.6v5.7h-5.6zM730.9 218.0h10.9v5.7h-10.9zM730.9 223.3h94.7v5.7h-94.7zM736.2 228.7h100.0v5.7h-100.0zM730.9 234.0h16.1v5.7h-16.1zM710.0 260.6h5.6v5.7h-5.6zM710.0 265.9h5.6v5.7h-5.6zM715.2 271.3h5.6v5.7h-5.6zM725.7 276.6h5.6v5.7h-5.6zM856.7 281.9h5.6v5.7h-5.6zM856.7 313.9h5.6v5.7h-5.6zM725.7 319.2h5.6v5.7h-5.6zM715.2 324.6h5.6v5.7h-5.6zM720.5 340.5h5.6v5.7h-5.6z"/>
<path fill="#9f9fff" d="M851.5 159.4h5.6v5.7h-5.6zM725.7 164.7h10.9v5.7h-10.9zM715.2 196.7h5.6v5.7h-5.6zM720.5 202.0h5.6v5.7h-5.6zM725.7 207.3h5.6v5.7h-5.6zM730.9 212.7h94.7v5.7h-94.7zM741.4 218.0h100.0v5.7h-100.0zM825.3 223.3h21.4v5.7h-21.4zM835.8 228.7h10.9v5.7h-10.9zM746.7 234.0h94.7v5.7h-94.7zM725.7 239.3h10.9v5.7h-10.9zM720.5 244.6h5.6v5.7h-5.6zM715.2 250.0h5.6v5.7h-5.6zM730.9 276.6h10.9v5.7h-10.9zM730.9 319.2h10.9v5.7h-10.9zM715.2 335.2h5.6v5.7h-5.6zM725.7 340.5h5.6v5.7h-5.6z"/>
<path fill="#9c9cff" d="M856.7 159.4h5.6v5.7h-5.6zM736.2 164.7h89.5v5.7h-89.5zM720.5 170.0h5.6v5.7h-5.6zM715.2 175.4h5.6v5.7h-5.6zM715.2 191.4h5.6v5.7h-5.6zM730.9 207.3h31.8v5.7h-31.8zM825.3 212.7h21.4v5.7h-21.4zM841.0 218.0h10.9v5.7h-10.9zM846.3 223.3h10.9v5.7h-10.9zM846.3 228.7h10.9v5.7h-10.9zM841.0 234.0h10.9v5.7h-10.9zM736.2 239.3h89.5v5.7h-89.5zM725.7 244.6h5.6v5.7h-5.6zM715.2 255.3h5.6v5.7h-5.6zM720.5 271.3h5.6v5.7h-5.6zM741.4 276.6h105.2v5.7h-105.2zM741.4 319.2h110.5v5.7h-110.5zM720.5 324.6h5.6v5.7h-5.6zM715.2 329.9h5.6v5.7h-5.6zM730.9 340.5h100.0v5.7h-100.0z"/>
<path fill="#9999ff" d="M825.3 164.7h16.1v5.7h-16.1zM725.7 170.0h5.6v5.7h-5.6zM715.2 180.7h5.6v5.7h-5.6zM715.2 186.0h5.6v5.7h-5.6zM720.5 196.7h5.6v5.7h-5.6zM725.7 202.0h10.9v5.7h-10.9zM762.4 207.3h79.0v5.7h-79.0zM846.3 212.7h10.9v5.7h-10.9zM851.5 218.0h5.6v5.7h-5.6zM856.7 223.3h5.6v5.7h-5.6zM856.7 228.7h5.6v5.7h-5.6zM851.5 234.0h5.6v5.7h-5.6zM825.3 239.3h21.4v5.7h-21.4zM730.9 244.6h5.6v5.7h-5.6zM720.5 250.0h5.6v5.7h-5.6zM715.2 260.6h5.6v5.7h-5.6zM715.2 265.9h5.6v5.7h-5.6zM846.3 276.6h10.9v5.7h-10.9zM851.5 319.2h10.9v5.7h-10.9zM725.7 324.6h5.6v5.7h-5.6zM720.5 335.2h5.6v5.7h-5.6zM830.5 340.5h31.8v5.7h-31.8z"/>
<path fill="#9696ff" d="M841.0 164.7h10.9v5.7h-10.9zM730.9 170.0h10.9v5.7h-10.9zM720.5 175.4h5.6v5.7h-5.6zM720.5 191.4h5.6v5.7h-5.6zM725.7 196.7h5.6v5.7h-5.6zM736.2 202.0h89.5v5.7h-89.5zM841.0 207.3h10.9v5.7h-10.9zM856.7 212.7h5.6v5.7h-5.6zM856.7 218.0h5.6v5.7h-5.6zM856.7 234.0h5.6v5.7h-5.6zM846.3 239.3h10.9v5.7h-10.9zM736.2 244.6h100.0v5.7h-100.0zM725.7 250.0h5.6v5.7h-5.6zM720.5 255.3h5.6v5.7h-5.6zM725.7 271.3h10.9v5.7h-10.9zM856.7 276.6h5.6v5.7h-5.6zM730.9 324.6h5.6v5.7h-5.6zM720.5 329.9h5.6v5.7h-5.6z"/>
<path fill="#9393ff" d="M851.5 164.7h5.6v5.7h-5.6zM741.4 170.0h94.7v5.7h-94.7zM725.7 175.4h5.6v5.7h-5.6zM720.5 180.7h5.6v5.7h-5.6zM720.5 186.0h5.6v5.7h-5.6zM730.9 196.7h5.6v5.7h-5.6zM825.3 202.0h21.4v5.7h-21.4zM851.5 207.3h5.6v5.7h-5.6zM856.7 239.3h5.6v5.7h-5.6zM835.8 244.6h10.9v5.7h-10.9zM730.9 250.0h16.1v5.7h-16.1zM725.7 255.3h5.6v5.7h-5.6zM720.5 260.6h5.6v5.7h-5.6zM720.5 265.9h5.6v5.7h-5.6zM736.2 271.3h89.5v5.7h-89.5zM736.2 324.6h110.5v5.7h-110.5zM725.7 335.2h5.6v5.7h-5.6z"/>
<path fill="#9090ff" d="M856.7 164.7h5.6v5.7h-5.6zM835.8 170.0h10.9v5.7h-10.9zM730.9 175.4h5.6v5.7h-5.6zM725.7 191.4h5.6v5.7h-5.6zM736.2 196.7h100.0v5.7h-100.0zM846.3 202.0h5.6v5.7h-5.6zM856.7 207.3h5.6v5.7h-5.6zM846.3 244.6h10.9v5.7h-10.9zM746.7 250.0h94.7v5.7h-94.7zM730.9 255.3h5.6v5.7h-5.6zM725.7 265.9h5.6v5.7h-5.6zM825.3 271.3h26.6v5.7h-26.6zM846.3 324.6h16.1v5.7h-16.1zM725.7 329.9h5.6v5.7h-5.6zM730.9 335.2h84.3v5.7h-84.3z"/>
<path fill="#8d8dff" d="M846.3 170.0h5.6v5.7h-5.6zM736.2 175.4h94.7v5.7h-94.7zM725.7 180.7h5.6v5.7h-5.6zM725.7 186.0h5.6v5.7h-5.6zM730.9 191.4h73.8v5.7h-73.8zM835.8 196.7h10.9v5.7h-10.9zM851.5 202.0h5.6v5.7h-5.6zM856.7 244.6h5.6v5.7h-5.6zM841.0 250.0h10.9v5.7h-10.9zM736.2 255.3h94.7v5.7h-94.7zM725.7 260.6h5.6v5.7h-5.6zM730.9 265.9h5.6v5.7h-5.6zM851.5 271.3h5.6v5.7h-5.6zM730.9 329.9h21.4v5.7h-21.4zM814.8 335.2h47.6v5.7h-47.6z"/>
<path fill="#8a8aff" d="M851.5 170.0h5.6v5.7h-5.6zM830.5 175.4h10.9v5.7h-10.9zM730.9 180.7h16.1v5.7h-16.1zM730.9 186.0h16.1v5.7h-16.1zM804.3 191.4h37.1v5.7h-37.1zM846.3 196.7h10.9v5.7h-10.9zM856.7 202.0h5.6v5.7h-5.6zM851.5 250.0h5.6v5.7h-5.6zM830.5 255.3h16.1v5.7h-16.1zM730.9 260.6h84.3v5.7h-84.3zM736.2 265.9h100.0v5.7h-100.0zM856.7 271.3h5.6v5.7h-5.6zM751.9 329.9h105.2v5.7h-105.2z"/>
<path fill="#8787ff" d="M856.7 170.0h5.6v5.7h-5.6zM841.0 175.4h10.9v5.7h-10.9zM746.7 180.7h89.5v5.7h-89.5zM746.7 186.0h89.5v5.7h-89.5zM841.0 191.4h10.9v5.7h-10.9zM856.7 196.7h5.6v5.7h-5.6zM856.7 250.0h5.6v5.7h-5.6zM846.3 255.3h10.9v5.7h-10.9zM814.8 260.6h31.8v5.7h-31.8zM835.8 265.9h16.1v5.7h-16.1zM856.7 329.9h5.6v5.7h-5.6z"/>
<path fill="#8484ff" d="M851.5 175.4h5.6v5.7h-5.6zM835.8 180.7h10.9v5.7h-10.9zM835.8 186.0h10.9v5.7h-10.9zM851.5 191.4h5.6v5.7h-5.6zM856.7 255.3h5.6v5.7h-5.6zM846.3 260.6h10.9v5.7h-10.9zM851.5 265.9h10.9v5.7h-10.9z"/>
<path fill="#7e7eff" d="M856.7 175.4h5.6v5.7h-5.6zM851.5 180.7h5.6v5.7h-5.6z"/>
<path fill="#8181ff" d="M846.3 180.7h5.6v5.7h-5.6zM846.3 186.0h10.9v5.7h-10.9zM856.7 191.4h5.6v5.7h-5.6zM856.7 260.6h5.6v5.7h-5.6z"/>
<path fill="#7b7bff" d="M856.7 180.7h5.6v5.7h-5.6zM856.7 186.0h5.6v5.7h-5.6z"/>
</g></g>
<clipPath id="h1"><rect x="851.5" y="47.5" width="197.0" height="532.8"/></clipPath>
<g clip-path="url(#h1)"><g filter="url(#bl)">
<path fill="#f6f6ff" d="M840.9 36.8h5.7v5.7h-5.7zM840.9 479.1h53.6v5.7h-53.6zM1043.2 479.1h16.4v5.7h-16.4zM840.9 484.4h106.9v5.7h-106.9zM989.9 484.4h69.6v5.7h-69.6zM840.9 489.7h218.7v5.7h-218.7zM920.7 495.1h96.2v5.7h-96.2z"/>
<path fill="#f3f3ff" d="M846.2 36.8h21.7v5.7h-21.7zM840.9 42.2h27.0v5.7h-27.0zM840.9 47.5h27.0v5.7h-27.0zM840.9 52.8h27.0v5.7h-27.0zM840.9 58.2h21.7v5.7h-21.7zM840.9 63.5h16.4v5.7h-16.4zM840.9 68.8h5.7v5.7h-5.7zM840.9 468.4h80.3v5.7h-80.3zM1016.6 468.4h43.0v5.7h-43.0zM840.9 473.7h218.7v5.7h-218.7zM894.1 479.1h149.5v5.7h-149.5zM947.3 484.4h43.0v5.7h-43.0z"/>
<path fill="#f0f0ff" d="M867.5 36.8h21.7v5.7h-21.7zM1048.5 36.8h11.0v5.7h-11.0zM867.5 42.2h21.7v5.7h-21.7zM1048.5 42.2h11.0v5.7h-11.0zM867.5 47.5h16.4v5.7h-16.4zM1048.5 47.5h11.0v5.7h-11.0zM867.5 52.8h16.4v5.7h-16.4zM1053.8 52.8h5.7v5.7h-5.7zM862.1 58.2h21.7v5.7h-21.7zM1053.8 58.2h5.7v5.7h-5.7zM856.8 63.5h21.7v5.7h-21.7zM846.2 68.8h21.7v5.7h-21.7zM840.9 74.1h16.4v5.7h-16.4zM840.9 463.1h218.7v5.7h-218.7zM920.7 468.4h96.2v5.7h-96.2z"/>
<path fill="#ededff" d="M888.8 36.8h11.0v5.7h-11.0zM1037.9 36.8h11.0v5.7h-11.0zM888.8 42.2h11.0v5.7h-11.0zM1037.9 42.2h11.0v5.7h-11.0zM883.4 47.5h16.4v5.7h-16.4zM1037.9 47.5h11.0v5.7h-11.0zM883.4 52.8h16.4v5.7h-16.4zM1037.9 52.8h16.4v5.7h-16.4zM883.4 58.2h11.0v5.7h-11.0zM1037.9 58.2h16.4v5.7h-16.4zM878.1 63.5h16.4v5.7h-16.4zM1043.2 63.5h16.4v5.7h-16.4zM867.5 68.8h16.4v5.7h-16.4zM1048.5 68.8h11.0v5.7h-11.0zM856.8 74.1h21.7v5.7h-21.7zM840.9 79.5h16.4v5.7h-16.4zM840.9 452.4h218.7v5.7h-218.7zM840.9 457.8h218.7v5.7h-218.7z"/>
<path fill="#eaeaff" d="M899.4 36.8h11.0v5.7h-11.0zM1027.2 36.8h11.0v5.7h-11.0zM899.4 42.2h11.0v5.7h-11.0zM1027.2 42.2h11.0v5.7h-11.0zM899.4 47.5h11.0v5.7h-11.0zM1027.2 47.5h11.0v5.7h-11.0zM899.4 52.8h11.0v5.7h-11.0zM1027.2 52.8h11.0v5.7h-11.0zM894.1 58.2h16.4v5.7h-16.4zM1027.2 58.2h11.0v5.7h-11.0zM894.1 63.5h11.0v5.7h-11.0zM1032.5 63.5h11.0v5.7h-11.0zM883.4 68.8h16.4v5.7h-16.4zM1037.9 68.8h11.0v5.7h-11.0zM878.1 74.1h11.0v5.7h-11.0zM1048.5 74.1h11.0v5.7h-11.0zM856.8 79.5h16.4v5.7h-16.4zM840.9 84.8h16.4v5.7h-16.4zM840.9 447.1h218.7v5.7h-218.7z"/>
<path fill="#e7e7ff" d="M910.1 36.8h11.0v5.7h-11.0zM1016.6 36.8h11.0v5.7h-11.0zM910.1 42.2h11.0v5.7h-11.0zM1016.6 42.2h11.0v5.7h-11.0zM910.1 47.5h11.0v5.7h-11.0zM1016.6 47.5h11.0v5.7h-11.0zM910.1 52.8h11.0v5.7h-11.0zM1016.6 52.8h11.0v5.7h-11.0zM910.1 58.2h5.7v5.7h-5.7zM1021.9 58.2h5.7v5.7h-5.7zM904.7 63.5h11.0v5.7h-11.0zM1021.9 63.5h11.0v5.7h-11.0zM899.4 68.8h5.7v5.7h-5.7zM1027.2 68.8h11.0v5.7h-11.0zM888.8 74.1h11.0v5.7h-11.0zM1037.9 74.1h11.0v5.7h-11.0zM872.8 79.5h11.0v5.7h-11.0zM1053.8 79.5h5.7v5.7h-5.7zM856.8 84.8h11.0v5.7h-11.0zM840.9 90.1h11.0v5.7h-11.0zM840.9 441.8h218.7v5.7h-218.7z"/>
<path fill="#e4e4ff" d="M920.7 36.8h11.0v5.7h-11.0zM1005.9 36.8h11.0v5.7h-11.0zM920.7 42.2h5.7v5.7h-5.7zM1005.9 42.2h11.0v5.7h-11.0zM920.7 47.5h5.7v5.7h-5.7zM1011.2 47.5h5.7v5.7h-5.7zM920.7 52.8h5.7v5.7h-5.7zM1011.2 52.8h5.7v5.7h-5.7zM915.4 58.2h11.0v5.7h-11.0zM1011.2 58.2h11.0v5.7h-11.0zM915.4 63.5h5.7v5.7h-5.7zM1016.6 63.5h5.7v5.7h-5.7zM904.7 68.8h11.0v5.7h-11.0zM1021.9 68.8h5.7v5.7h-5.7zM899.4 74.1h5.7v5.7h-5.7zM1032.5 74.1h5.7v5.7h-5.7zM883.4 79.5h5.7v5.7h-5.7zM1048.5 79.5h5.7v5.7h-5.7zM867.5 84.8h11.0v5.7h-11.0zM851.5 90.1h11.0v5.7h-11.0zM840.9 95.5h5.7v5.7h-5.7zM840.9 436.4h218.7v5.7h-218.7z"/>
<path fill="#e1e1ff" d="M931.4 36.8h5.7v5.7h-5.7zM1000.6 36.8h5.7v5.7h-5.7zM926.0 42.2h11.0v5.7h-11.0zM1000.6 42.2h5.7v5.7h-5.7zM926.0 47.5h11.0v5.7h-11.0zM1000.6 47.5h11.0v5.7h-11.0zM926.0 52.8h11.0v5.7h-11.0zM1000.6 52.8h11.0v5.7h-11.0zM926.0 58.2h5.7v5.7h-5.7zM1005.9 58.2h5.7v5.7h-5.7zM920.7 63.5h11.0v5.7h-11.0zM1005.9 63.5h11.0v5.7h-11.0zM915.4 68.8h5.7v5.7h-5.7zM1016.6 68.8h5.7v5.7h-5.7zM904.7 74.1h5.7v5.7h-5.7zM1027.2 74.1h5.7v5.7h-5.7zM888.8 79.5h5.7v5.7h-5.7zM1043.2 79.5h5.7v5.7h-5.7zM878.1 84.8h5.7v5.7h-5.7zM1053.8 84.8h5.7v5.7h-5.7zM862.1 90.1h11.0v5.7h-11.0zM846.2 95.5h16.4v5.7h-16.4zM840.9 431.1h218.7v5.7h-218.7z"/>
<path fill="#dedeff" d="M936.7 36.8h11.0v5.7h-11.0zM989.9 36.8h11.0v5.7h-11.0zM936.7 42.2h11.0v5.7h-11.0zM989.9 42.2h11.0v5.7h-11.0zM936.7 47.5h5.7v5.7h-5.7zM995.3 47.5h5.7v5.7h-5.7zM936.7 52.8h5.7v5.7h-5.7zM995.3 52.8h5.7v5.7h-5.7zM931.4 58.2h11.0v5.7h-11.0zM995.3 58.2h11.0v5.7h-11.0zM931.4 63.5h5.7v5.7h-5.7zM1000.6 63.5h5.7v5.7h-5.7zM920.7 68.8h5.7v5.7h-5.7zM1011.2 68.8h5.7v5.7h-5.7zM910.1 74.1h5.7v5.7h-5.7zM1021.9 74.1h5.7v5.7h-5.7zM894.1 79.5h5.7v5.7h-5.7zM1037.9 79.5h5.7v5.7h-5.7zM883.4 84.8h5.7v5.7h-5.7zM1048.5 84.8h5.7v5.7h-5.7zM872.8 90.1h5.7v5.7h-5.7zM862.1 95.5h5.7v5.7h-5.7zM840.9 100.8h16.4v5.7h-16.4zM840.9 425.8h218.7v5.7h-218.7z"/>
<path fill="#dbdbff" d="M947.3 36.8h11.0v5.7h-11.0zM979.3 36.8h11.0v5.7h-11.0zM947.3 42.2h11.0v5.7h-11.0zM979.3 42.2h11.0v5.7h-11.0zM942.0 47.5h11.0v5.7h-11.0zM984.6 47.5h11.0v5.7h-11.0zM942.0 52.8h11.0v5.7h-11.0zM984.6 52.8h11.0v5.7h-11.0zM942.0 58.2h5.7v5.7h-5.7zM989.9 58.2h5.7v5.7h-5.7zM936.7 63.5h11.0v5.7h-11.0zM989.9 63.5h11.0v5.7h-11.0zM926.0 68.8h5.7v5.7h-5.7zM1005.9 68.8h5.7v5.7h-5.7zM915.4 74.1h5.7v5.7h-5.7zM1016.6 74.1h5.7v5.7h-5.7zM899.4 79.5h5.7v5.7h-5.7zM1032.5 79.5h5.7v5.7h-5.7zM878.1 90.1h5.7v5.7h-5.7zM1053.8 90.1h5.7v5.7h-5.7zM867.5 95.5h5.7v5.7h-5.7zM856.8 100.8h11.0v5.7h-11.0zM840.9 106.1h11.0v5.7h-11.0zM840.9 420.5h218.7v5.7h-218.7z"/>
<path fill="#d8d8ff" d="M958.0 36.8h21.7v5.7h-21.7zM958.0 42.2h21.7v5.7h-21.7zM952.7 47.5h32.3v5.7h-32.3zM952.7 52.8h32.3v5.7h-32.3zM947.3 58.2h16.4v5.7h-16.4zM974.0 58.2h16.4v5.7h-16.4zM947.3 63.5h11.0v5.7h-11.0zM979.3 63.5h11.0v5.7h-11.0zM931.4 68.8h11.0v5.7h-11.0zM995.3 68.8h11.0v5.7h-11.0zM1011.2 74.1h5.7v5.7h-5.7zM888.8 84.8h5.7v5.7h-5.7zM1043.2 84.8h5.7v5.7h-5.7zM872.8 95.5h5.7v5.7h-5.7zM867.5 100.8h5.7v5.7h-5.7zM851.5 106.1h11.0v5.7h-11.0zM840.9 111.4h11.0v5.7h-11.0zM840.9 116.8h5.7v5.7h-5.7z"/>
<path fill="#d5d5ff" d="M963.3 58.2h11.0v5.7h-11.0zM958.0 63.5h21.7v5.7h-21.7zM942.0 68.8h5.7v5.7h-5.7zM989.9 68.8h5.7v5.7h-5.7zM920.7 74.1h5.7v5.7h-5.7zM904.7 79.5h5.7v5.7h-5.7zM1027.2 79.5h5.7v5.7h-5.7zM894.1 84.8h5.7v5.7h-5.7zM1037.9 84.8h5.7v5.7h-5.7zM883.4 90.1h5.7v5.7h-5.7zM1048.5 90.1h5.7v5.7h-5.7zM878.1 95.5h5.7v5.7h-5.7zM1053.8 95.5h5.7v5.7h-5.7zM872.8 100.8h5.7v5.7h-5.7zM862.1 106.1h5.7v5.7h-5.7zM851.5 111.4h11.0v5.7h-11.0zM846.2 116.8h16.4v5.7h-16.4zM840.9 122.1h16.4v5.7h-16.4zM840.9 127.4h11.0v5.7h-11.0zM840.9 415.1h90.9v5.7h-90.9zM1005.9 415.1h53.6v5.7h-53.6z"/>
<path fill="#d2d2ff" d="M947.3 68.8h5.7v5.7h-5.7zM984.6 68.8h5.7v5.7h-5.7zM926.0 74.1h5.7v5.7h-5.7zM1005.9 74.1h5.7v5.7h-5.7zM867.5 106.1h5.7v5.7h-5.7zM862.1 111.4h11.0v5.7h-11.0zM862.1 116.8h5.7v5.7h-5.7zM856.8 122.1h5.7v5.7h-5.7zM851.5 127.4h11.0v5.7h-11.0zM840.9 132.7h11.0v5.7h-11.0zM840.9 367.2h21.7v5.7h-21.7zM840.9 372.5h32.3v5.7h-32.3zM840.9 377.8h32.3v5.7h-32.3zM840.9 409.8h43.0v5.7h-43.0zM1048.5 409.8h11.0v5.7h-11.0zM931.4 415.1h74.9v5.7h-74.9z"/>
<path fill="#cfcfff" d="M952.7 68.8h32.3v5.7h-32.3zM931.4 74.1h5.7v5.7h-5.7zM1000.6 74.1h5.7v5.7h-5.7zM910.1 79.5h5.7v5.7h-5.7zM1021.9 79.5h5.7v5.7h-5.7zM1032.5 84.8h5.7v5.7h-5.7zM888.8 90.1h5.7v5.7h-5.7zM1043.2 90.1h5.7v5.7h-5.7zM883.4 95.5h5.7v5.7h-5.7zM1048.5 95.5h5.7v5.7h-5.7zM878.1 100.8h5.7v5.7h-5.7zM1053.8 100.8h5.7v5.7h-5.7zM872.8 106.1h5.7v5.7h-5.7zM867.5 116.8h5.7v5.7h-5.7zM862.1 122.1h11.0v5.7h-11.0zM862.1 127.4h5.7v5.7h-5.7zM851.5 132.7h11.0v5.7h-11.0zM840.9 361.9h16.4v5.7h-16.4zM862.1 367.2h21.7v5.7h-21.7zM1053.8 367.2h5.7v5.7h-5.7zM872.8 372.5h16.4v5.7h-16.4zM1048.5 372.5h11.0v5.7h-11.0zM872.8 377.8h16.4v5.7h-16.4zM1048.5 377.8h11.0v5.7h-11.0zM840.9 383.2h37.7v5.7h-37.7zM883.4 409.8h32.3v5.7h-32.3zM1021.9 409.8h27.0v5.7h-27.0z"/>
<path fill="#c9c9ff" d="M936.7 74.1h5.7v5.7h-5.7zM915.4 79.5h5.7v5.7h-5.7zM1016.6 79.5h5.7v5.7h-5.7zM894.1 90.1h5.7v5.7h-5.7zM1037.9 90.1h5.7v5.7h-5.7zM888.8 95.5h5.7v5.7h-5.7zM1043.2 95.5h5.7v5.7h-5.7zM883.4 100.8h5.7v5.7h-5.7zM1048.5 100.8h5.7v5.7h-5.7zM878.1 111.4h5.7v5.7h-5.7zM1053.8 111.4h5.7v5.7h-5.7zM878.1 116.8h5.7v5.7h-5.7zM1053.8 116.8h5.7v5.7h-5.7zM872.8 122.1h5.7v5.7h-5.7zM872.8 127.4h5.7v5.7h-5.7zM867.5 132.7h5.7v5.7h-5.7zM851.5 138.1h5.7v5.7h-5.7zM872.8 361.9h11.0v5.7h-11.0zM1053.8 361.9h5.7v5.7h-5.7zM894.1 367.2h5.7v5.7h-5.7zM1037.9 367.2h5.7v5.7h-5.7zM899.4 372.5h11.0v5.7h-11.0zM1027.2 372.5h11.0v5.7h-11.0zM899.4 377.8h11.0v5.7h-11.0zM1027.2 377.8h11.0v5.7h-11.0zM894.1 383.2h11.0v5.7h-11.0zM1032.5 383.2h11.0v5.7h-11.0zM878.1 388.5h16.4v5.7h-16.4zM1043.2 388.5h16.4v5.7h-16.4zM840.9 393.8h37.7v5.7h-37.7zM840.9 399.1h43.0v5.7h-43.0zM1053.8 399.1h5.7v5.7h-5.7zM894.1 404.5h16.4v5.7h-16.4zM1027.2 404.5h16.4v5.7h-16.4zM936.7 409.8h64.3v5.7h-64.3z"/>
<path fill="#c6c6ff" d="M942.0 74.1h5.7v5.7h-5.7zM989.9 74.1h5.7v5.7h-5.7zM904.7 84.8h5.7v5.7h-5.7zM1027.2 84.8h5.7v5.7h-5.7zM883.4 106.1h5.7v5.7h-5.7zM1048.5 106.1h5.7v5.7h-5.7zM878.1 122.1h5.7v5.7h-5.7zM1053.8 122.1h5.7v5.7h-5.7zM856.8 138.1h5.7v5.7h-5.7zM883.4 361.9h11.0v5.7h-11.0zM1043.2 361.9h11.0v5.7h-11.0zM899.4 367.2h5.7v5.7h-5.7zM1032.5 367.2h5.7v5.7h-5.7zM910.1 372.5h5.7v5.7h-5.7zM1021.9 372.5h5.7v5.7h-5.7zM910.1 377.8h5.7v5.7h-5.7zM1021.9 377.8h5.7v5.7h-5.7zM904.7 383.2h5.7v5.7h-5.7zM1027.2 383.2h5.7v5.7h-5.7zM894.1 388.5h11.0v5.7h-11.0zM1032.5 388.5h11.0v5.7h-11.0zM878.1 393.8h21.7v5.7h-21.7zM1037.9 393.8h21.7v5.7h-21.7zM883.4 399.1h16.4v5.7h-16.4zM1037.9 399.1h16.4v5.7h-16.4zM910.1 404.5h16.4v5.7h-16.4zM1011.2 404.5h16.4v5.7h-16.4z"/>
<path fill="#c3c3ff" d="M947.3 74.1h5.7v5.7h-5.7zM984.6 74.1h5.7v5.7h-5.7zM920.7 79.5h5.7v5.7h-5.7zM1011.2 79.5h5.7v5.7h-5.7zM888.8 100.8h5.7v5.7h-5.7zM1043.2 100.8h5.7v5.7h-5.7zM883.4 111.4h5.7v5.7h-5.7zM1048.5 111.4h5.7v5.7h-5.7zM883.4 116.8h5.7v5.7h-5.7zM1048.5 116.8h5.7v5.7h-5.7zM878.1 127.4h5.7v5.7h-5.7zM1053.8 127.4h5.7v5.7h-5.7zM872.8 132.7h5.7v5.7h-5.7zM862.1 138.1h5.7v5.7h-5.7zM840.9 143.4h5.7v5.7h-5.7zM840.9 356.5h27.0v5.7h-27.0zM894.1 361.9h5.7v5.7h-5.7zM1037.9 361.9h5.7v5.7h-5.7zM904.7 367.2h11.0v5.7h-11.0zM1021.9 367.2h11.0v5.7h-11.0zM915.4 372.5h5.7v5.7h-5.7zM1016.6 372.5h5.7v5.7h-5.7zM915.4 377.8h5.7v5.7h-5.7zM1016.6 377.8h5.7v5.7h-5.7zM910.1 383.2h11.0v5.7h-11.0zM1016.6 383.2h11.0v5.7h-11.0zM904.7 388.5h11.0v5.7h-11.0zM1021.9 388.5h11.0v5.7h-11.0zM899.4 393.8h11.0v5.7h-11.0zM1027.2 393.8h11.0v5.7h-11.0zM899.4 399.1h11.0v5.7h-11.0zM1021.9 399.1h16.4v5.7h-16.4zM926.0 404.5h11.0v5.7h-11.0zM1000.6 404.5h11.0v5.7h-11.0z"/>
<path fill="#c0c0ff" d="M952.7 74.1h5.7v5.7h-5.7zM974.0 74.1h11.0v5.7h-11.0zM1032.5 90.1h5.7v5.7h-5.7zM894.1 95.5h5.7v5.7h-5.7zM1037.9 95.5h5.7v5.7h-5.7zM883.4 122.1h5.7v5.7h-5.7zM1048.5 122.1h5.7v5.7h-5.7zM1053.8 132.7h5.7v5.7h-5.7zM867.5 138.1h5.7v5.7h-5.7zM846.2 143.4h5.7v5.7h-5.7zM840.9 297.9h5.7v5.7h-5.7zM867.5 356.5h11.0v5.7h-11.0zM1053.8 356.5h5.7v5.7h-5.7zM899.4 361.9h5.7v5.7h-5.7zM1032.5 361.9h5.7v5.7h-5.7zM915.4 367.2h5.7v5.7h-5.7zM1016.6 367.2h5.7v5.7h-5.7zM920.7 372.5h5.7v5.7h-5.7zM1011.2 372.5h5.7v5.7h-5.7zM920.7 377.8h5.7v5.7h-5.7zM1005.9 377.8h11.0v5.7h-11.0zM920.7 383.2h5.7v5.7h-5.7zM1011.2 383.2h5.7v5.7h-5.7zM915.4 388.5h5.7v5.7h-5.7zM1016.6 388.5h5.7v5.7h-5.7zM910.1 393.8h11.0v5.7h-11.0zM1016.6 393.8h11.0v5.7h-11.0zM910.1 399.1h11.0v5.7h-11.0zM1016.6 399.1h5.7v5.7h-5.7zM936.7 404.5h21.7v5.7h-21.7zM979.3 404.5h21.7v5.7h-21.7z"/>
<path fill="#bdbdff" d="M958.0 74.1h16.4v5.7h-16.4zM1021.9 84.8h5.7v5.7h-5.7zM899.4 90.1h5.7v5.7h-5.7zM888.8 106.1h5.7v5.7h-5.7zM1043.2 106.1h5.7v5.7h-5.7zM1043.2 111.4h5.7v5.7h-5.7zM1043.2 116.8h5.7v5.7h-5.7zM883.4 127.4h5.7v5.7h-5.7zM1048.5 127.4h5.7v5.7h-5.7zM878.1 132.7h5.7v5.7h-5.7zM851.5 143.4h5.7v5.7h-5.7zM840.9 292.6h16.4v5.7h-16.4zM846.2 297.9h16.4v5.7h-16.4zM878.1 356.5h11.0v5.7h-11.0zM1048.5 356.5h5.7v5.7h-5.7zM904.7 361.9h5.7v5.7h-5.7zM1027.2 361.9h5.7v5.7h-5.7zM920.7 367.2h5.7v5.7h-5.7zM1011.2 367.2h5.7v5.7h-5.7zM926.0 372.5h11.0v5.7h-11.0zM1000.6 372.5h11.0v5.7h-11.0zM926.0 377.8h11.0v5.7h-11.0zM1000.6 377.8h5.7v5.7h-5.7zM926.0 383.2h5.7v5.7h-5.7zM1005.9 383.2h5.7v5.7h-5.7zM920.7 388.5h11.0v5.7h-11.0zM1005.9 388.5h11.0v5.7h-11.0zM920.7 393.8h5.7v5.7h-5.7zM1011.2 393.8h5.7v5.7h-5.7zM920.7 399.1h11.0v5.7h-11.0zM1005.9 399.1h11.0v5.7h-11.0zM958.0 404.5h21.7v5.7h-21.7z"/>
<path fill="#ccccff" d="M995.3 74.1h5.7v5.7h-5.7zM899.4 84.8h5.7v5.7h-5.7zM878.1 106.1h5.7v5.7h-5.7zM1053.8 106.1h5.7v5.7h-5.7zM872.8 111.4h5.7v5.7h-5.7zM872.8 116.8h5.7v5.7h-5.7zM867.5 127.4h5.7v5.7h-5.7zM862.1 132.7h5.7v5.7h-5.7zM840.9 138.1h11.0v5.7h-11.0zM856.8 361.9h16.4v5.7h-16.4zM883.4 367.2h11.0v5.7h-11.0zM1043.2 367.2h11.0v5.7h-11.0zM888.8 372.5h11.0v5.7h-11.0zM1037.9 372.5h11.0v5.7h-11.0zM888.8 377.8h11.0v5.7h-11.0zM1037.9 377.8h11.0v5.7h-11.0zM878.1 383.2h16.4v5.7h-16.4zM1043.2 383.2h16.4v5.7h-16.4zM840.9 388.5h37.7v5.7h-37.7zM840.9 404.5h53.6v5.7h-53.6zM1043.2 404.5h16.4v5.7h-16.4zM915.4 409.8h21.7v5.7h-21.7zM1000.6 409.8h21.7v5.7h-21.7z"/>
<path fill="#babaff" d="M926.0 79.5h5.7v5.7h-5.7zM1005.9 79.5h5.7v5.7h-5.7zM910.1 84.8h5.7v5.7h-5.7zM1037.9 100.8h5.7v5.7h-5.7zM888.8 111.4h5.7v5.7h-5.7zM888.8 116.8h5.7v5.7h-5.7zM1043.2 122.1h5.7v5.7h-5.7zM872.8 138.1h5.7v5.7h-5.7zM856.8 143.4h5.7v5.7h-5.7zM856.8 292.6h11.0v5.7h-11.0zM862.1 297.9h11.0v5.7h-11.0zM888.8 356.5h5.7v5.7h-5.7zM1043.2 356.5h5.7v5.7h-5.7zM910.1 361.9h5.7v5.7h-5.7zM1021.9 361.9h5.7v5.7h-5.7zM1005.9 367.2h5.7v5.7h-5.7zM936.7 372.5h5.7v5.7h-5.7zM995.3 372.5h5.7v5.7h-5.7zM936.7 377.8h5.7v5.7h-5.7zM995.3 377.8h5.7v5.7h-5.7zM931.4 383.2h11.0v5.7h-11.0zM995.3 383.2h11.0v5.7h-11.0zM931.4 388.5h5.7v5.7h-5.7zM1000.6 388.5h5.7v5.7h-5.7zM926.0 393.8h11.0v5.7h-11.0zM1000.6 393.8h11.0v5.7h-11.0zM931.4 399.1h11.0v5.7h-11.0zM995.3 399.1h11.0v5.7h-11.0z"/>
<path fill="#b1b1ff" d="M931.4 79.5h5.7v5.7h-5.7zM915.4 84.8h5.7v5.7h-5.7zM1016.6 84.8h5.7v5.7h-5.7zM904.7 90.1h5.7v5.7h-5.7zM894.1 106.1h5.7v5.7h-5.7zM894.1 111.4h5.7v5.7h-5.7zM1037.9 111.4h5.7v5.7h-5.7zM894.1 116.8h5.7v5.7h-5.7zM1037.9 122.1h5.7v5.7h-5.7zM856.8 148.7h5.7v5.7h-5.7zM851.5 287.3h11.0v5.7h-11.0zM878.1 292.6h5.7v5.7h-5.7zM1053.8 292.6h5.7v5.7h-5.7zM867.5 303.2h11.0v5.7h-11.0zM872.8 351.2h11.0v5.7h-11.0zM1053.8 351.2h5.7v5.7h-5.7zM904.7 356.5h5.7v5.7h-5.7zM1027.2 356.5h5.7v5.7h-5.7zM920.7 361.9h5.7v5.7h-5.7zM1011.2 361.9h5.7v5.7h-5.7zM936.7 367.2h11.0v5.7h-11.0zM989.9 367.2h5.7v5.7h-5.7zM963.3 372.5h11.0v5.7h-11.0z"/>
<path fill="#ababff" d="M936.7 79.5h5.7v5.7h-5.7zM995.3 79.5h5.7v5.7h-5.7zM899.4 100.8h5.7v5.7h-5.7zM894.1 127.4h5.7v5.7h-5.7zM1037.9 127.4h5.7v5.7h-5.7zM883.4 138.1h5.7v5.7h-5.7zM862.1 148.7h5.7v5.7h-5.7zM840.9 154.1h11.0v5.7h-11.0zM867.5 287.3h5.7v5.7h-5.7zM883.4 292.6h5.7v5.7h-5.7zM1048.5 292.6h5.7v5.7h-5.7zM888.8 297.9h5.7v5.7h-5.7zM1043.2 297.9h5.7v5.7h-5.7zM883.4 303.2h5.7v5.7h-5.7zM1048.5 303.2h5.7v5.7h-5.7zM856.8 308.6h11.0v5.7h-11.0zM888.8 351.2h5.7v5.7h-5.7zM1043.2 351.2h5.7v5.7h-5.7zM952.7 367.2h32.3v5.7h-32.3z"/>
<path fill="#a2a2ff" d="M942.0 79.5h5.7v5.7h-5.7zM899.4 122.1h5.7v5.7h-5.7zM888.8 138.1h5.7v5.7h-5.7zM1043.2 138.1h5.7v5.7h-5.7zM872.8 148.7h5.7v5.7h-5.7zM840.9 159.4h5.7v5.7h-5.7zM856.8 281.9h11.0v5.7h-11.0zM894.1 303.2h5.7v5.7h-5.7zM1037.9 303.2h5.7v5.7h-5.7zM883.4 308.6h5.7v5.7h-5.7zM1048.5 308.6h5.7v5.7h-5.7zM856.8 313.9h11.0v5.7h-11.0zM872.8 345.9h11.0v5.7h-11.0zM1053.8 345.9h5.7v5.7h-5.7zM904.7 351.2h5.7v5.7h-5.7zM1027.2 351.2h5.7v5.7h-5.7zM942.0 361.9h5.7v5.7h-5.7zM989.9 361.9h5.7v5.7h-5.7z"/>
<path fill="#9c9cff" d="M947.3 79.5h5.7v5.7h-5.7zM984.6 79.5h5.7v5.7h-5.7zM904.7 100.8h5.7v5.7h-5.7zM1027.2 100.8h5.7v5.7h-5.7zM883.4 143.4h5.7v5.7h-5.7zM867.5 154.1h5.7v5.7h-5.7zM851.5 159.4h5.7v5.7h-5.7zM840.9 212.7h5.7v5.7h-5.7zM840.9 218.0h11.0v5.7h-11.0zM846.2 223.3h11.0v5.7h-11.0zM846.2 228.7h11.0v5.7h-11.0zM840.9 234.0h11.0v5.7h-11.0zM840.9 276.6h5.7v5.7h-5.7zM872.8 281.9h5.7v5.7h-5.7zM899.4 303.2h5.7v5.7h-5.7zM1032.5 303.2h5.7v5.7h-5.7zM888.8 308.6h5.7v5.7h-5.7zM1043.2 308.6h5.7v5.7h-5.7zM878.1 313.9h5.7v5.7h-5.7zM1053.8 313.9h5.7v5.7h-5.7zM840.9 319.2h11.0v5.7h-11.0zM888.8 345.9h5.7v5.7h-5.7zM1043.2 345.9h5.7v5.7h-5.7zM910.1 351.2h5.7v5.7h-5.7zM1000.6 356.5h5.7v5.7h-5.7zM952.7 361.9h5.7v5.7h-5.7zM979.3 361.9h5.7v5.7h-5.7z"/>
<path fill="#9696ff" d="M952.7 79.5h5.7v5.7h-5.7zM979.3 79.5h5.7v5.7h-5.7zM926.0 84.8h5.7v5.7h-5.7zM1016.6 90.1h5.7v5.7h-5.7zM1021.9 95.5h5.7v5.7h-5.7zM1027.2 106.1h5.7v5.7h-5.7zM1027.2 111.4h5.7v5.7h-5.7zM904.7 116.8h5.7v5.7h-5.7zM904.7 122.1h5.7v5.7h-5.7zM1027.2 122.1h5.7v5.7h-5.7zM894.1 138.1h5.7v5.7h-5.7zM840.9 164.7h11.0v5.7h-11.0zM840.9 207.3h11.0v5.7h-11.0zM856.8 212.7h5.7v5.7h-5.7zM856.8 218.0h5.7v5.7h-5.7zM862.1 223.3h5.7v5.7h-5.7zM862.1 228.7h5.7v5.7h-5.7zM856.8 234.0h5.7v5.7h-5.7zM846.2 239.3h11.0v5.7h-11.0zM856.8 276.6h11.0v5.7h-11.0zM878.1 281.9h5.7v5.7h-5.7zM1053.8 281.9h5.7v5.7h-5.7zM899.4 292.6h5.7v5.7h-5.7zM1032.5 292.6h5.7v5.7h-5.7zM904.7 297.9h5.7v5.7h-5.7zM1027.2 297.9h5.7v5.7h-5.7zM904.7 303.2h5.7v5.7h-5.7zM1027.2 303.2h5.7v5.7h-5.7zM883.4 313.9h5.7v5.7h-5.7zM867.5 319.2h5.7v5.7h-5.7zM862.1 340.5h16.4v5.7h-16.4zM899.4 345.9h5.7v5.7h-5.7zM1032.5 345.9h5.7v5.7h-5.7zM936.7 356.5h5.7v5.7h-5.7zM995.3 356.5h5.7v5.7h-5.7z"/>
<path fill="#9393ff" d="M958.0 79.5h5.7v5.7h-5.7zM974.0 79.5h5.7v5.7h-5.7zM915.4 90.1h5.7v5.7h-5.7zM910.1 95.5h5.7v5.7h-5.7zM904.7 106.1h5.7v5.7h-5.7zM904.7 111.4h5.7v5.7h-5.7zM1027.2 127.4h5.7v5.7h-5.7zM888.8 143.4h5.7v5.7h-5.7zM1043.2 143.4h5.7v5.7h-5.7zM872.8 154.1h5.7v5.7h-5.7zM862.1 159.4h5.7v5.7h-5.7zM851.5 164.7h5.7v5.7h-5.7zM840.9 202.0h5.7v5.7h-5.7zM851.5 207.3h5.7v5.7h-5.7zM862.1 212.7h5.7v5.7h-5.7zM862.1 218.0h5.7v5.7h-5.7zM862.1 234.0h5.7v5.7h-5.7zM856.8 239.3h5.7v5.7h-5.7zM840.9 244.6h5.7v5.7h-5.7zM1037.9 287.3h5.7v5.7h-5.7zM899.4 308.6h5.7v5.7h-5.7zM1032.5 308.6h5.7v5.7h-5.7zM888.8 313.9h5.7v5.7h-5.7zM1043.2 313.9h5.7v5.7h-5.7zM872.8 319.2h5.7v5.7h-5.7zM840.9 324.6h5.7v5.7h-5.7zM878.1 340.5h5.7v5.7h-5.7zM1053.8 340.5h5.7v5.7h-5.7zM904.7 345.9h5.7v5.7h-5.7zM1027.2 345.9h5.7v5.7h-5.7zM920.7 351.2h5.7v5.7h-5.7zM1011.2 351.2h5.7v5.7h-5.7zM942.0 356.5h5.7v5.7h-5.7zM989.9 356.5h5.7v5.7h-5.7z"/>
<path fill="#9090ff" d="M963.3 79.5h11.0v5.7h-11.0zM904.7 127.4h5.7v5.7h-5.7zM883.4 148.7h5.7v5.7h-5.7zM1048.5 148.7h5.7v5.7h-5.7zM856.8 164.7h5.7v5.7h-5.7zM840.9 170.0h5.7v5.7h-5.7zM846.2 202.0h5.7v5.7h-5.7zM856.8 207.3h5.7v5.7h-5.7zM867.5 218.0h5.7v5.7h-5.7zM867.5 223.3h5.7v5.7h-5.7zM867.5 228.7h5.7v5.7h-5.7zM846.2 244.6h11.0v5.7h-11.0zM840.9 271.3h11.0v5.7h-11.0zM867.5 276.6h5.7v5.7h-5.7zM883.4 281.9h5.7v5.7h-5.7zM1048.5 281.9h5.7v5.7h-5.7zM894.1 287.3h5.7v5.7h-5.7zM1027.2 292.6h5.7v5.7h-5.7zM1021.9 303.2h5.7v5.7h-5.7zM1037.9 313.9h5.7v5.7h-5.7zM878.1 319.2h5.7v5.7h-5.7zM1053.8 319.2h5.7v5.7h-5.7zM846.2 324.6h16.4v5.7h-16.4zM883.4 340.5h5.7v5.7h-5.7zM1048.5 340.5h5.7v5.7h-5.7zM926.0 351.2h5.7v5.7h-5.7zM1005.9 351.2h5.7v5.7h-5.7z"/>
<path fill="#a5a5ff" d="M989.9 79.5h5.7v5.7h-5.7zM920.7 84.8h5.7v5.7h-5.7zM1011.2 84.8h5.7v5.7h-5.7zM910.1 90.1h5.7v5.7h-5.7zM1021.9 90.1h5.7v5.7h-5.7zM904.7 95.5h5.7v5.7h-5.7zM1027.2 95.5h5.7v5.7h-5.7zM899.4 106.1h5.7v5.7h-5.7zM1032.5 106.1h5.7v5.7h-5.7zM899.4 111.4h5.7v5.7h-5.7zM1032.5 111.4h5.7v5.7h-5.7zM899.4 116.8h5.7v5.7h-5.7zM1032.5 122.1h5.7v5.7h-5.7zM894.1 132.7h5.7v5.7h-5.7zM1037.9 132.7h5.7v5.7h-5.7zM878.1 143.4h5.7v5.7h-5.7zM856.8 154.1h5.7v5.7h-5.7zM846.2 281.9h11.0v5.7h-11.0zM878.1 287.3h5.7v5.7h-5.7zM1053.8 287.3h5.7v5.7h-5.7zM888.8 292.6h5.7v5.7h-5.7zM1043.2 292.6h5.7v5.7h-5.7zM894.1 297.9h5.7v5.7h-5.7zM1037.9 297.9h5.7v5.7h-5.7zM888.8 303.2h5.7v5.7h-5.7zM1043.2 303.2h5.7v5.7h-5.7zM878.1 308.6h5.7v5.7h-5.7zM1053.8 308.6h5.7v5.7h-5.7zM840.9 313.9h16.4v5.7h-16.4zM862.1 345.9h11.0v5.7h-11.0zM899.4 351.2h5.7v5.7h-5.7zM1032.5 351.2h5.7v5.7h-5.7zM920.7 356.5h5.7v5.7h-5.7zM1011.2 356.5h5.7v5.7h-5.7zM936.7 361.9h5.7v5.7h-5.7zM995.3 361.9h5.7v5.7h-5.7z"/>
<path fill="#b4b4ff" d="M1000.6 79.5h5.7v5.7h-5.7zM1027.2 90.1h5.7v5.7h-5.7zM899.4 95.5h5.7v5.7h-5.7zM1032.5 95.5h5.7v5.7h-5.7zM1037.9 106.1h5.7v5.7h-5.7zM1037.9 116.8h5.7v5.7h-5.7zM888.8 127.4h5.7v5.7h-5.7zM1043.2 127.4h5.7v5.7h-5.7zM878.1 138.1h5.7v5.7h-5.7zM1053.8 138.1h5.7v5.7h-5.7zM867.5 143.4h5.7v5.7h-5.7zM846.2 148.7h11.0v5.7h-11.0zM840.9 287.3h11.0v5.7h-11.0zM872.8 292.6h5.7v5.7h-5.7zM878.1 297.9h5.7v5.7h-5.7zM1053.8 297.9h5.7v5.7h-5.7zM856.8 303.2h11.0v5.7h-11.0zM856.8 351.2h16.4v5.7h-16.4zM899.4 356.5h5.7v5.7h-5.7zM1032.5 356.5h5.7v5.7h-5.7zM915.4 361.9h5.7v5.7h-5.7zM931.4 367.2h5.7v5.7h-5.7zM995.3 367.2h5.7v5.7h-5.7zM947.3 372.5h16.4v5.7h-16.4zM974.0 372.5h16.4v5.7h-16.4zM952.7 377.8h32.3v5.7h-32.3zM947.3 383.2h43.0v5.7h-43.0zM947.3 388.5h43.0v5.7h-43.0zM947.3 393.8h43.0v5.7h-43.0zM958.0 399.1h16.4v5.7h-16.4z"/>
<path fill="#8a8aff" d="M931.4 84.8h5.7v5.7h-5.7zM1000.6 84.8h5.7v5.7h-5.7zM910.1 100.8h5.7v5.7h-5.7zM1021.9 100.8h5.7v5.7h-5.7zM904.7 132.7h5.7v5.7h-5.7zM1027.2 132.7h5.7v5.7h-5.7zM899.4 138.1h5.7v5.7h-5.7zM1032.5 138.1h5.7v5.7h-5.7zM878.1 154.1h5.7v5.7h-5.7zM862.1 164.7h5.7v5.7h-5.7zM851.5 170.0h5.7v5.7h-5.7zM846.2 196.7h11.0v5.7h-11.0zM856.8 202.0h5.7v5.7h-5.7zM867.5 207.3h5.7v5.7h-5.7zM872.8 218.0h5.7v5.7h-5.7zM872.8 223.3h5.7v5.7h-5.7zM872.8 228.7h5.7v5.7h-5.7zM867.5 239.3h5.7v5.7h-5.7zM862.1 244.6h5.7v5.7h-5.7zM851.5 250.0h5.7v5.7h-5.7zM840.9 255.3h5.7v5.7h-5.7zM856.8 271.3h11.0v5.7h-11.0zM1053.8 276.6h5.7v5.7h-5.7zM888.8 281.9h5.7v5.7h-5.7zM1043.2 281.9h5.7v5.7h-5.7zM899.4 287.3h5.7v5.7h-5.7zM1032.5 287.3h5.7v5.7h-5.7zM1032.5 313.9h5.7v5.7h-5.7zM888.8 319.2h5.7v5.7h-5.7zM1043.2 319.2h5.7v5.7h-5.7zM872.8 324.6h5.7v5.7h-5.7zM840.9 329.9h16.4v5.7h-16.4zM862.1 335.2h11.0v5.7h-11.0zM894.1 340.5h5.7v5.7h-5.7zM1037.9 340.5h5.7v5.7h-5.7zM931.4 351.2h5.7v5.7h-5.7zM1000.6 351.2h5.7v5.7h-5.7zM958.0 356.5h21.7v5.7h-21.7z"/>
<path fill="#7b7bff" d="M936.7 84.8h5.7v5.7h-5.7zM995.3 84.8h5.7v5.7h-5.7zM910.1 132.7h5.7v5.7h-5.7zM1021.9 132.7h5.7v5.7h-5.7zM904.7 138.1h5.7v5.7h-5.7zM1027.2 138.1h5.7v5.7h-5.7zM872.8 164.7h5.7v5.7h-5.7zM867.5 170.0h5.7v5.7h-5.7zM862.1 175.4h5.7v5.7h-5.7zM856.8 180.7h5.7v5.7h-5.7zM856.8 186.0h5.7v5.7h-5.7zM862.1 191.4h5.7v5.7h-5.7zM867.5 196.7h5.7v5.7h-5.7zM872.8 202.0h5.7v5.7h-5.7zM878.1 207.3h5.7v5.7h-5.7zM1053.8 207.3h5.7v5.7h-5.7zM883.4 218.0h5.7v5.7h-5.7zM1048.5 218.0h5.7v5.7h-5.7zM883.4 223.3h5.7v5.7h-5.7zM1048.5 223.3h5.7v5.7h-5.7zM883.4 228.7h5.7v5.7h-5.7zM1048.5 228.7h5.7v5.7h-5.7zM878.1 239.3h5.7v5.7h-5.7zM1053.8 239.3h5.7v5.7h-5.7zM867.5 255.3h5.7v5.7h-5.7zM867.5 260.6h5.7v5.7h-5.7zM867.5 265.9h5.7v5.7h-5.7zM878.1 271.3h5.7v5.7h-5.7zM1053.8 271.3h5.7v5.7h-5.7zM888.8 276.6h5.7v5.7h-5.7zM1043.2 276.6h5.7v5.7h-5.7zM915.4 292.6h5.7v5.7h-5.7zM1016.6 292.6h5.7v5.7h-5.7zM920.7 297.9h5.7v5.7h-5.7zM1011.2 297.9h5.7v5.7h-5.7zM910.1 313.9h5.7v5.7h-5.7zM1021.9 313.9h5.7v5.7h-5.7zM894.1 324.6h5.7v5.7h-5.7zM1037.9 324.6h5.7v5.7h-5.7zM894.1 335.2h5.7v5.7h-5.7zM1037.9 335.2h5.7v5.7h-5.7zM910.1 340.5h5.7v5.7h-5.7zM1021.9 340.5h5.7v5.7h-5.7zM952.7 351.2h5.7v5.7h-5.7zM979.3 351.2h5.7v5.7h-5.7z"/>
<path fill="#6f6fff" d="M942.0 84.8h5.7v5.7h-5.7zM989.9 84.8h5.7v5.7h-5.7zM1005.9 90.1h5.7v5.7h-5.7zM915.4 127.4h5.7v5.7h-5.7zM1016.6 127.4h5.7v5.7h-5.7zM867.5 180.7h5.7v5.7h-5.7zM872.8 191.4h5.7v5.7h-5.7zM1043.2 212.7h5.7v5.7h-5.7zM888.8 218.0h5.7v5.7h-5.7zM1043.2 218.0h5.7v5.7h-5.7zM888.8 223.3h5.7v5.7h-5.7zM1043.2 223.3h5.7v5.7h-5.7zM888.8 228.7h5.7v5.7h-5.7zM1043.2 228.7h5.7v5.7h-5.7zM878.1 255.3h5.7v5.7h-5.7zM1053.8 255.3h5.7v5.7h-5.7zM878.1 260.6h5.7v5.7h-5.7zM1053.8 260.6h5.7v5.7h-5.7zM1027.2 281.9h5.7v5.7h-5.7zM920.7 292.6h5.7v5.7h-5.7zM1011.2 292.6h5.7v5.7h-5.7zM931.4 303.2h5.7v5.7h-5.7zM1000.6 303.2h5.7v5.7h-5.7zM926.0 308.6h5.7v5.7h-5.7zM1005.9 308.6h5.7v5.7h-5.7zM910.1 319.2h5.7v5.7h-5.7zM1021.9 319.2h5.7v5.7h-5.7zM899.4 329.9h5.7v5.7h-5.7zM1032.5 329.9h5.7v5.7h-5.7zM920.7 340.5h5.7v5.7h-5.7zM942.0 345.9h5.7v5.7h-5.7zM989.9 345.9h5.7v5.7h-5.7z"/>
<path fill="#6363ff" d="M947.3 84.8h5.7v5.7h-5.7zM984.6 84.8h5.7v5.7h-5.7zM894.1 154.1h5.7v5.7h-5.7zM888.8 159.4h5.7v5.7h-5.7zM1043.2 159.4h5.7v5.7h-5.7zM883.4 164.7h5.7v5.7h-5.7zM1048.5 196.7h5.7v5.7h-5.7zM894.1 218.0h5.7v5.7h-5.7zM1037.9 218.0h5.7v5.7h-5.7zM894.1 223.3h5.7v5.7h-5.7zM1037.9 223.3h5.7v5.7h-5.7zM1037.9 228.7h5.7v5.7h-5.7zM1043.2 265.9h5.7v5.7h-5.7zM894.1 271.3h5.7v5.7h-5.7zM1037.9 271.3h5.7v5.7h-5.7zM910.1 281.9h5.7v5.7h-5.7zM1021.9 281.9h5.7v5.7h-5.7zM926.0 292.6h5.7v5.7h-5.7zM1005.9 292.6h5.7v5.7h-5.7zM926.0 313.9h5.7v5.7h-5.7zM1005.9 313.9h5.7v5.7h-5.7zM1021.9 329.9h5.7v5.7h-5.7zM963.3 345.9h11.0v5.7h-11.0z"/>
<path fill="#5a5aff" d="M952.7 84.8h5.7v5.7h-5.7zM979.3 84.8h5.7v5.7h-5.7zM1000.6 90.1h5.7v5.7h-5.7zM920.7 116.8h5.7v5.7h-5.7zM920.7 127.4h5.7v5.7h-5.7zM1016.6 138.1h5.7v5.7h-5.7zM1048.5 170.0h5.7v5.7h-5.7zM883.4 191.4h5.7v5.7h-5.7zM1048.5 191.4h5.7v5.7h-5.7zM1037.9 207.3h5.7v5.7h-5.7zM1037.9 239.3h5.7v5.7h-5.7zM904.7 276.6h5.7v5.7h-5.7zM1000.6 292.6h5.7v5.7h-5.7zM947.3 303.2h5.7v5.7h-5.7zM984.6 303.2h5.7v5.7h-5.7zM931.4 313.9h5.7v5.7h-5.7zM1000.6 313.9h5.7v5.7h-5.7zM915.4 329.9h5.7v5.7h-5.7zM1016.6 329.9h5.7v5.7h-5.7zM1005.9 335.2h5.7v5.7h-5.7zM942.0 340.5h5.7v5.7h-5.7zM989.9 340.5h5.7v5.7h-5.7z"/>
<path fill="#5151ff" d="M958.0 84.8h5.7v5.7h-5.7zM974.0 84.8h5.7v5.7h-5.7zM926.0 95.5h5.7v5.7h-5.7zM920.7 106.1h5.7v5.7h-5.7zM894.1 159.4h5.7v5.7h-5.7zM883.4 175.4h5.7v5.7h-5.7zM1048.5 175.4h5.7v5.7h-5.7zM883.4 180.7h5.7v5.7h-5.7zM1048.5 180.7h5.7v5.7h-5.7zM899.4 212.7h5.7v5.7h-5.7zM1032.5 212.7h5.7v5.7h-5.7zM899.4 228.7h5.7v5.7h-5.7zM894.1 244.6h5.7v5.7h-5.7zM1037.9 250.0h5.7v5.7h-5.7zM894.1 255.3h5.7v5.7h-5.7zM1037.9 255.3h5.7v5.7h-5.7zM894.1 260.6h5.7v5.7h-5.7zM1037.9 260.6h5.7v5.7h-5.7zM926.0 287.3h5.7v5.7h-5.7zM1005.9 287.3h5.7v5.7h-5.7zM947.3 297.9h5.7v5.7h-5.7zM984.6 297.9h5.7v5.7h-5.7zM958.0 303.2h16.4v5.7h-16.4zM947.3 308.6h5.7v5.7h-5.7zM984.6 308.6h5.7v5.7h-5.7zM936.7 313.9h5.7v5.7h-5.7zM920.7 329.9h5.7v5.7h-5.7zM931.4 335.2h5.7v5.7h-5.7zM1000.6 335.2h5.7v5.7h-5.7zM952.7 340.5h5.7v5.7h-5.7zM974.0 340.5h11.0v5.7h-11.0z"/>
<path fill="#4e4eff" d="M963.3 84.8h11.0v5.7h-11.0zM1043.2 191.4h5.7v5.7h-5.7zM894.1 202.0h5.7v5.7h-5.7zM1037.9 202.0h5.7v5.7h-5.7zM899.4 234.0h5.7v5.7h-5.7zM1032.5 234.0h5.7v5.7h-5.7zM894.1 250.0h5.7v5.7h-5.7zM910.1 276.6h5.7v5.7h-5.7zM1021.9 276.6h5.7v5.7h-5.7zM936.7 292.6h5.7v5.7h-5.7zM995.3 292.6h5.7v5.7h-5.7zM952.7 308.6h5.7v5.7h-5.7zM979.3 308.6h5.7v5.7h-5.7zM931.4 319.2h5.7v5.7h-5.7zM1000.6 319.2h5.7v5.7h-5.7zM958.0 340.5h16.4v5.7h-16.4z"/>
<path fill="#9999ff" d="M1005.9 84.8h5.7v5.7h-5.7zM1027.2 116.8h5.7v5.7h-5.7zM899.4 132.7h5.7v5.7h-5.7zM1032.5 132.7h5.7v5.7h-5.7zM1037.9 138.1h5.7v5.7h-5.7zM878.1 148.7h5.7v5.7h-5.7zM1053.8 148.7h5.7v5.7h-5.7zM856.8 159.4h5.7v5.7h-5.7zM846.2 212.7h11.0v5.7h-11.0zM851.5 218.0h5.7v5.7h-5.7zM856.8 223.3h5.7v5.7h-5.7zM856.8 228.7h5.7v5.7h-5.7zM851.5 234.0h5.7v5.7h-5.7zM840.9 239.3h5.7v5.7h-5.7zM846.2 276.6h11.0v5.7h-11.0zM888.8 287.3h5.7v5.7h-5.7zM1043.2 287.3h5.7v5.7h-5.7zM894.1 308.6h5.7v5.7h-5.7zM1037.9 308.6h5.7v5.7h-5.7zM1048.5 313.9h5.7v5.7h-5.7zM851.5 319.2h16.4v5.7h-16.4zM840.9 340.5h21.7v5.7h-21.7zM894.1 345.9h5.7v5.7h-5.7zM1037.9 345.9h5.7v5.7h-5.7zM915.4 351.2h5.7v5.7h-5.7zM1016.6 351.2h5.7v5.7h-5.7zM931.4 356.5h5.7v5.7h-5.7zM958.0 361.9h21.7v5.7h-21.7z"/>
<path fill="#8181ff" d="M920.7 90.1h5.7v5.7h-5.7zM915.4 95.5h5.7v5.7h-5.7zM1016.6 95.5h5.7v5.7h-5.7zM910.1 106.1h5.7v5.7h-5.7zM1021.9 106.1h5.7v5.7h-5.7zM910.1 111.4h5.7v5.7h-5.7zM910.1 127.4h5.7v5.7h-5.7zM1021.9 127.4h5.7v5.7h-5.7zM883.4 154.1h5.7v5.7h-5.7zM1048.5 154.1h5.7v5.7h-5.7zM862.1 170.0h5.7v5.7h-5.7zM846.2 180.7h5.7v5.7h-5.7zM846.2 186.0h11.0v5.7h-11.0zM856.8 191.4h5.7v5.7h-5.7zM862.1 196.7h5.7v5.7h-5.7zM867.5 202.0h5.7v5.7h-5.7zM878.1 212.7h5.7v5.7h-5.7zM1053.8 212.7h5.7v5.7h-5.7zM878.1 234.0h5.7v5.7h-5.7zM1053.8 234.0h5.7v5.7h-5.7zM867.5 250.0h5.7v5.7h-5.7zM862.1 255.3h5.7v5.7h-5.7zM856.8 260.6h5.7v5.7h-5.7zM862.1 265.9h5.7v5.7h-5.7zM872.8 271.3h5.7v5.7h-5.7zM883.4 276.6h5.7v5.7h-5.7zM894.1 281.9h5.7v5.7h-5.7zM1037.9 281.9h5.7v5.7h-5.7zM1027.2 287.3h5.7v5.7h-5.7zM1011.2 303.2h5.7v5.7h-5.7zM904.7 313.9h5.7v5.7h-5.7zM878.1 329.9h5.7v5.7h-5.7zM1053.8 329.9h5.7v5.7h-5.7zM1043.2 335.2h5.7v5.7h-5.7zM904.7 340.5h5.7v5.7h-5.7zM1027.2 340.5h5.7v5.7h-5.7zM942.0 351.2h5.7v5.7h-5.7zM989.9 351.2h5.7v5.7h-5.7z"/>
<path fill="#6c6cff" d="M926.0 90.1h5.7v5.7h-5.7zM1011.2 95.5h5.7v5.7h-5.7zM1016.6 106.1h5.7v5.7h-5.7zM915.4 111.4h5.7v5.7h-5.7zM1016.6 111.4h5.7v5.7h-5.7zM1021.9 138.1h5.7v5.7h-5.7zM878.1 196.7h5.7v5.7h-5.7zM1053.8 196.7h5.7v5.7h-5.7zM888.8 212.7h5.7v5.7h-5.7zM888.8 234.0h5.7v5.7h-5.7zM1043.2 234.0h5.7v5.7h-5.7zM883.4 244.6h5.7v5.7h-5.7zM1048.5 244.6h5.7v5.7h-5.7zM888.8 271.3h5.7v5.7h-5.7zM1043.2 271.3h5.7v5.7h-5.7zM904.7 281.9h5.7v5.7h-5.7zM920.7 313.9h5.7v5.7h-5.7zM1011.2 313.9h5.7v5.7h-5.7zM904.7 324.6h5.7v5.7h-5.7zM1027.2 324.6h5.7v5.7h-5.7zM910.1 335.2h5.7v5.7h-5.7zM1021.9 335.2h5.7v5.7h-5.7zM1005.9 340.5h5.7v5.7h-5.7zM984.6 345.9h5.7v5.7h-5.7z"/>
<path fill="#5757ff" d="M931.4 90.1h5.7v5.7h-5.7zM920.7 132.7h5.7v5.7h-5.7zM1011.2 132.7h5.7v5.7h-5.7zM915.4 138.1h5.7v5.7h-5.7zM910.1 143.4h5.7v5.7h-5.7zM1021.9 143.4h5.7v5.7h-5.7zM904.7 148.7h5.7v5.7h-5.7zM1027.2 148.7h5.7v5.7h-5.7zM1043.2 164.7h5.7v5.7h-5.7zM883.4 170.0h5.7v5.7h-5.7zM894.1 207.3h5.7v5.7h-5.7zM894.1 239.3h5.7v5.7h-5.7zM894.1 265.9h5.7v5.7h-5.7zM1037.9 265.9h5.7v5.7h-5.7zM899.4 271.3h5.7v5.7h-5.7zM1032.5 271.3h5.7v5.7h-5.7zM1016.6 281.9h5.7v5.7h-5.7zM931.4 292.6h5.7v5.7h-5.7zM942.0 297.9h5.7v5.7h-5.7zM989.9 297.9h5.7v5.7h-5.7zM952.7 303.2h5.7v5.7h-5.7zM979.3 303.2h5.7v5.7h-5.7zM942.0 308.6h5.7v5.7h-5.7zM989.9 308.6h5.7v5.7h-5.7zM926.0 319.2h5.7v5.7h-5.7zM1005.9 319.2h5.7v5.7h-5.7zM926.0 335.2h5.7v5.7h-5.7zM984.6 340.5h5.7v5.7h-5.7z"/>
<path fill="#4545ff" d="M936.7 90.1h5.7v5.7h-5.7zM995.3 90.1h5.7v5.7h-5.7zM1005.9 100.8h5.7v5.7h-5.7zM1005.9 116.8h5.7v5.7h-5.7zM926.0 122.1h5.7v5.7h-5.7zM926.0 127.4h5.7v5.7h-5.7zM1005.9 132.7h5.7v5.7h-5.7zM920.7 138.1h5.7v5.7h-5.7zM1011.2 138.1h5.7v5.7h-5.7zM1016.6 143.4h5.7v5.7h-5.7zM1021.9 148.7h5.7v5.7h-5.7zM1037.9 164.7h5.7v5.7h-5.7zM888.8 186.0h5.7v5.7h-5.7zM1043.2 186.0h5.7v5.7h-5.7zM894.1 196.7h5.7v5.7h-5.7zM1037.9 196.7h5.7v5.7h-5.7zM1027.2 218.0h5.7v5.7h-5.7zM1027.2 223.3h5.7v5.7h-5.7zM899.4 260.6h5.7v5.7h-5.7zM1032.5 260.6h5.7v5.7h-5.7zM931.4 287.3h5.7v5.7h-5.7zM1000.6 287.3h5.7v5.7h-5.7zM989.9 292.6h5.7v5.7h-5.7zM958.0 297.9h21.7v5.7h-21.7zM947.3 313.9h5.7v5.7h-5.7zM984.6 313.9h5.7v5.7h-5.7zM936.7 319.2h5.7v5.7h-5.7zM942.0 335.2h5.7v5.7h-5.7zM989.9 335.2h5.7v5.7h-5.7z"/>
<path fill="#3030ff" d="M942.0 90.1h5.7v5.7h-5.7zM1000.6 122.1h5.7v5.7h-5.7zM931.4 127.4h5.7v5.7h-5.7zM1000.6 132.7h5.7v5.7h-5.7zM926.0 138.1h5.7v5.7h-5.7zM920.7 143.4h5.7v5.7h-5.7zM1011.2 143.4h5.7v5.7h-5.7zM1016.6 148.7h5.7v5.7h-5.7zM1032.5 164.7h5.7v5.7h-5.7zM1037.9 180.7h5.7v5.7h-5.7zM1021.9 212.7h5.7v5.7h-5.7zM910.1 218.0h5.7v5.7h-5.7zM910.1 223.3h5.7v5.7h-5.7zM1021.9 223.3h5.7v5.7h-5.7zM1027.2 244.6h5.7v5.7h-5.7zM1027.2 250.0h5.7v5.7h-5.7zM904.7 255.3h5.7v5.7h-5.7zM920.7 276.6h5.7v5.7h-5.7zM958.0 292.6h5.7v5.7h-5.7zM974.0 292.6h5.7v5.7h-5.7zM958.0 319.2h5.7v5.7h-5.7zM974.0 319.2h5.7v5.7h-5.7z"/>
<path fill="#1e1eff" d="M947.3 90.1h5.7v5.7h-5.7zM1000.6 111.4h5.7v5.7h-5.7zM936.7 127.4h5.7v5.7h-5.7zM995.3 127.4h5.7v5.7h-5.7zM995.3 132.7h5.7v5.7h-5.7zM931.4 138.1h5.7v5.7h-5.7zM1000.6 138.1h5.7v5.7h-5.7zM899.4 170.0h5.7v5.7h-5.7zM1032.5 170.0h5.7v5.7h-5.7zM899.4 186.0h5.7v5.7h-5.7zM904.7 196.7h5.7v5.7h-5.7zM1027.2 196.7h5.7v5.7h-5.7zM1016.6 218.0h5.7v5.7h-5.7zM910.1 255.3h5.7v5.7h-5.7zM1016.6 265.9h5.7v5.7h-5.7zM1011.2 271.3h5.7v5.7h-5.7zM936.7 281.9h5.7v5.7h-5.7zM952.7 287.3h5.7v5.7h-5.7zM979.3 287.3h5.7v5.7h-5.7z"/>
<path fill="#1212ff" d="M952.7 90.1h5.7v5.7h-5.7zM979.3 90.1h5.7v5.7h-5.7zM915.4 154.1h5.7v5.7h-5.7zM1016.6 154.1h5.7v5.7h-5.7zM1021.9 159.4h5.7v5.7h-5.7zM904.7 191.4h5.7v5.7h-5.7zM915.4 234.0h5.7v5.7h-5.7zM1016.6 234.0h5.7v5.7h-5.7zM915.4 260.6h5.7v5.7h-5.7zM1016.6 260.6h5.7v5.7h-5.7zM931.4 276.6h5.7v5.7h-5.7z"/>
<path fill="#0606ff" d="M958.0 90.1h5.7v5.7h-5.7zM974.0 90.1h5.7v5.7h-5.7zM931.4 143.4h5.7v5.7h-5.7zM1000.6 143.4h5.7v5.7h-5.7zM1027.2 170.0h5.7v5.7h-5.7zM904.7 186.0h5.7v5.7h-5.7zM910.1 196.7h5.7v5.7h-5.7zM1011.2 212.7h5.7v5.7h-5.7zM920.7 218.0h5.7v5.7h-5.7zM920.7 223.3h5.7v5.7h-5.7zM1011.2 223.3h5.7v5.7h-5.7zM1016.6 244.6h5.7v5.7h-5.7zM1016.6 250.0h5.7v5.7h-5.7zM936.7 276.6h5.7v5.7h-5.7zM995.3 276.6h5.7v5.7h-5.7z"/>
<path fill="#0303ff" d="M963.3 90.1h11.0v5.7h-11.0zM995.3 111.4h5.7v5.7h-5.7zM942.0 122.1h5.7v5.7h-5.7zM989.9 122.1h5.7v5.7h-5.7zM1005.9 148.7h5.7v5.7h-5.7zM904.7 170.0h5.7v5.7h-5.7zM920.7 212.7h5.7v5.7h-5.7zM1011.2 228.7h5.7v5.7h-5.7zM915.4 244.6h5.7v5.7h-5.7zM915.4 250.0h5.7v5.7h-5.7zM952.7 281.9h5.7v5.7h-5.7zM979.3 281.9h5.7v5.7h-5.7z"/>
<path fill="#2121ff" d="M984.6 90.1h5.7v5.7h-5.7zM936.7 95.5h5.7v5.7h-5.7zM1032.5 186.0h5.7v5.7h-5.7zM910.1 207.3h5.7v5.7h-5.7zM910.1 239.3h5.7v5.7h-5.7zM1021.9 239.3h5.7v5.7h-5.7zM1021.9 255.3h5.7v5.7h-5.7zM926.0 276.6h5.7v5.7h-5.7zM995.3 281.9h5.7v5.7h-5.7zM963.3 324.6h11.0v5.7h-11.0z"/>
<path fill="#3333ff" d="M989.9 90.1h5.7v5.7h-5.7zM1000.6 127.4h5.7v5.7h-5.7zM1005.9 138.1h5.7v5.7h-5.7zM894.1 170.0h5.7v5.7h-5.7zM894.1 186.0h5.7v5.7h-5.7zM1037.9 186.0h5.7v5.7h-5.7zM899.4 196.7h5.7v5.7h-5.7zM1032.5 196.7h5.7v5.7h-5.7zM1021.9 218.0h5.7v5.7h-5.7zM1027.2 255.3h5.7v5.7h-5.7zM1011.2 276.6h5.7v5.7h-5.7zM952.7 292.6h5.7v5.7h-5.7zM952.7 319.2h5.7v5.7h-5.7zM979.3 319.2h5.7v5.7h-5.7zM942.0 324.6h5.7v5.7h-5.7zM989.9 324.6h5.7v5.7h-5.7zM942.0 329.9h5.7v5.7h-5.7zM989.9 329.9h5.7v5.7h-5.7z"/>
<path fill="#8484ff" d="M1011.2 90.1h5.7v5.7h-5.7zM1021.9 111.4h5.7v5.7h-5.7zM910.1 122.1h5.7v5.7h-5.7zM1021.9 122.1h5.7v5.7h-5.7zM888.8 148.7h5.7v5.7h-5.7zM867.5 164.7h5.7v5.7h-5.7zM851.5 175.4h5.7v5.7h-5.7zM840.9 180.7h5.7v5.7h-5.7zM840.9 186.0h5.7v5.7h-5.7zM851.5 191.4h5.7v5.7h-5.7zM872.8 207.3h5.7v5.7h-5.7zM878.1 218.0h5.7v5.7h-5.7zM1053.8 218.0h5.7v5.7h-5.7zM878.1 223.3h5.7v5.7h-5.7zM1053.8 223.3h5.7v5.7h-5.7zM878.1 228.7h5.7v5.7h-5.7zM1053.8 228.7h5.7v5.7h-5.7zM872.8 239.3h5.7v5.7h-5.7zM867.5 244.6h5.7v5.7h-5.7zM862.1 250.0h5.7v5.7h-5.7zM856.8 255.3h5.7v5.7h-5.7zM846.2 260.6h11.0v5.7h-11.0zM851.5 265.9h11.0v5.7h-11.0zM867.5 271.3h5.7v5.7h-5.7zM1048.5 276.6h5.7v5.7h-5.7zM910.1 292.6h5.7v5.7h-5.7zM1021.9 292.6h5.7v5.7h-5.7zM915.4 297.9h5.7v5.7h-5.7zM1016.6 297.9h5.7v5.7h-5.7zM910.1 308.6h5.7v5.7h-5.7zM1027.2 313.9h5.7v5.7h-5.7zM894.1 319.2h5.7v5.7h-5.7zM1037.9 319.2h5.7v5.7h-5.7zM883.4 324.6h5.7v5.7h-5.7zM1048.5 324.6h5.7v5.7h-5.7zM867.5 329.9h11.0v5.7h-11.0zM878.1 335.2h11.0v5.7h-11.0zM1048.5 335.2h5.7v5.7h-5.7zM920.7 345.9h5.7v5.7h-5.7zM1011.2 345.9h5.7v5.7h-5.7zM936.7 351.2h5.7v5.7h-5.7z"/>
<path fill="#6969ff" d="M920.7 95.5h5.7v5.7h-5.7zM915.4 106.1h5.7v5.7h-5.7zM915.4 132.7h5.7v5.7h-5.7zM1016.6 132.7h5.7v5.7h-5.7zM910.1 138.1h5.7v5.7h-5.7zM904.7 143.4h5.7v5.7h-5.7zM1027.2 143.4h5.7v5.7h-5.7zM899.4 148.7h5.7v5.7h-5.7zM1032.5 148.7h5.7v5.7h-5.7zM872.8 175.4h5.7v5.7h-5.7zM872.8 186.0h5.7v5.7h-5.7zM883.4 202.0h5.7v5.7h-5.7zM1048.5 202.0h5.7v5.7h-5.7zM883.4 250.0h5.7v5.7h-5.7zM1048.5 250.0h5.7v5.7h-5.7zM1048.5 255.3h5.7v5.7h-5.7zM883.4 265.9h5.7v5.7h-5.7zM1048.5 265.9h5.7v5.7h-5.7zM1032.5 276.6h5.7v5.7h-5.7zM915.4 287.3h5.7v5.7h-5.7zM1016.6 287.3h5.7v5.7h-5.7zM931.4 297.9h5.7v5.7h-5.7zM1000.6 297.9h5.7v5.7h-5.7zM995.3 303.2h5.7v5.7h-5.7zM915.4 319.2h5.7v5.7h-5.7zM1016.6 319.2h5.7v5.7h-5.7zM904.7 329.9h5.7v5.7h-5.7zM1027.2 329.9h5.7v5.7h-5.7zM926.0 340.5h5.7v5.7h-5.7zM947.3 345.9h5.7v5.7h-5.7zM979.3 345.9h5.7v5.7h-5.7z"/>
<path fill="#3939ff" d="M931.4 95.5h5.7v5.7h-5.7zM926.0 111.4h5.7v5.7h-5.7zM1005.9 111.4h5.7v5.7h-5.7zM926.0 281.9h5.7v5.7h-5.7zM936.7 287.3h5.7v5.7h-5.7zM995.3 287.3h5.7v5.7h-5.7zM947.3 319.2h5.7v5.7h-5.7zM984.6 319.2h5.7v5.7h-5.7zM936.7 329.9h5.7v5.7h-5.7zM958.0 335.2h21.7v5.7h-21.7z"/>
<path fill="#0909ff" d="M942.0 95.5h5.7v5.7h-5.7zM942.0 127.4h5.7v5.7h-5.7zM942.0 132.7h5.7v5.7h-5.7zM936.7 138.1h5.7v5.7h-5.7zM1027.2 186.0h5.7v5.7h-5.7zM1021.9 196.7h5.7v5.7h-5.7zM1011.2 218.0h5.7v5.7h-5.7zM915.4 239.3h5.7v5.7h-5.7zM920.7 265.9h5.7v5.7h-5.7zM947.3 281.9h5.7v5.7h-5.7zM984.6 281.9h5.7v5.7h-5.7z"/>
<path fill="#0c00f3" d="M947.3 95.5h5.7v5.7h-5.7zM989.9 100.8h5.7v5.7h-5.7zM942.0 116.8h5.7v5.7h-5.7zM995.3 143.4h5.7v5.7h-5.7zM915.4 159.4h5.7v5.7h-5.7zM920.7 207.3h5.7v5.7h-5.7zM1005.9 218.0h5.7v5.7h-5.7zM920.7 239.3h5.7v5.7h-5.7zM1011.2 239.3h5.7v5.7h-5.7z"/>
<path fill="#1e00e1" d="M952.7 95.5h5.7v5.7h-5.7zM989.9 106.1h5.7v5.7h-5.7zM984.6 116.8h5.7v5.7h-5.7zM979.3 122.1h5.7v5.7h-5.7zM958.0 127.4h5.7v5.7h-5.7zM974.0 127.4h5.7v5.7h-5.7zM963.3 132.7h11.0v5.7h-11.0zM942.0 143.4h5.7v5.7h-5.7zM989.9 143.4h5.7v5.7h-5.7zM1005.9 154.1h5.7v5.7h-5.7zM910.1 180.7h5.7v5.7h-5.7zM1016.6 191.4h5.7v5.7h-5.7zM926.0 255.3h5.7v5.7h-5.7zM1005.9 255.3h5.7v5.7h-5.7zM952.7 276.6h5.7v5.7h-5.7z"/>
<path fill="#2a00d5" d="M958.0 95.5h5.7v5.7h-5.7zM958.0 122.1h5.7v5.7h-5.7zM974.0 122.1h5.7v5.7h-5.7zM958.0 138.1h5.7v5.7h-5.7zM974.0 138.1h5.7v5.7h-5.7zM936.7 148.7h5.7v5.7h-5.7zM1011.2 196.7h5.7v5.7h-5.7zM1000.6 228.7h5.7v5.7h-5.7zM1005.9 244.6h5.7v5.7h-5.7zM926.0 250.0h5.7v5.7h-5.7zM936.7 265.9h5.7v5.7h-5.7zM995.3 265.9h5.7v5.7h-5.7z"/>
<path fill="#3000cf" d="M963.3 95.5h5.7v5.7h-5.7zM984.6 111.4h5.7v5.7h-5.7zM979.3 116.8h5.7v5.7h-5.7zM963.3 122.1h11.0v5.7h-11.0zM947.3 271.3h5.7v5.7h-5.7zM984.6 271.3h5.7v5.7h-5.7z"/>
<path fill="#2d00d2" d="M968.6 95.5h5.7v5.7h-5.7zM963.3 138.1h11.0v5.7h-11.0zM947.3 143.4h5.7v5.7h-5.7zM984.6 143.4h5.7v5.7h-5.7zM915.4 186.0h5.7v5.7h-5.7zM1016.6 186.0h5.7v5.7h-5.7zM920.7 196.7h5.7v5.7h-5.7zM931.4 228.7h5.7v5.7h-5.7zM926.0 244.6h5.7v5.7h-5.7z"/>
<path fill="#2700d8" d="M974.0 95.5h5.7v5.7h-5.7zM995.3 148.7h5.7v5.7h-5.7zM920.7 159.4h5.7v5.7h-5.7zM931.4 212.7h5.7v5.7h-5.7zM931.4 223.3h5.7v5.7h-5.7zM1005.9 250.0h5.7v5.7h-5.7zM931.4 260.6h5.7v5.7h-5.7zM1000.6 260.6h5.7v5.7h-5.7zM963.3 276.6h11.0v5.7h-11.0z"/>
<path fill="#1b00e4" d="M979.3 95.5h5.7v5.7h-5.7zM942.0 111.4h5.7v5.7h-5.7zM958.0 132.7h5.7v5.7h-5.7zM1021.9 180.7h5.7v5.7h-5.7zM920.7 202.0h5.7v5.7h-5.7zM1011.2 202.0h5.7v5.7h-5.7zM926.0 234.0h5.7v5.7h-5.7zM1005.9 234.0h5.7v5.7h-5.7zM931.4 265.9h5.7v5.7h-5.7zM979.3 276.6h5.7v5.7h-5.7z"/>
<path fill="#0900f6" d="M984.6 95.5h5.7v5.7h-5.7zM989.9 116.8h5.7v5.7h-5.7zM920.7 154.1h5.7v5.7h-5.7zM1016.6 159.4h5.7v5.7h-5.7zM1011.2 207.3h5.7v5.7h-5.7zM920.7 255.3h5.7v5.7h-5.7zM1011.2 255.3h5.7v5.7h-5.7zM926.0 265.9h5.7v5.7h-5.7zM942.0 276.6h5.7v5.7h-5.7zM989.9 276.6h5.7v5.7h-5.7z"/>
<path fill="#0c0cff" d="M989.9 95.5h5.7v5.7h-5.7zM936.7 100.8h5.7v5.7h-5.7zM989.9 127.4h5.7v5.7h-5.7zM989.9 132.7h5.7v5.7h-5.7zM995.3 138.1h5.7v5.7h-5.7zM915.4 207.3h5.7v5.7h-5.7zM1016.6 239.3h5.7v5.7h-5.7zM915.4 255.3h5.7v5.7h-5.7zM1016.6 255.3h5.7v5.7h-5.7zM1011.2 265.9h5.7v5.7h-5.7zM926.0 271.3h5.7v5.7h-5.7zM1005.9 271.3h5.7v5.7h-5.7z"/>
<path fill="#2424ff" d="M995.3 95.5h5.7v5.7h-5.7zM1021.9 207.3h5.7v5.7h-5.7zM910.1 260.6h5.7v5.7h-5.7zM1021.9 260.6h5.7v5.7h-5.7zM1005.9 276.6h5.7v5.7h-5.7zM947.3 287.3h5.7v5.7h-5.7zM984.6 287.3h5.7v5.7h-5.7zM958.0 324.6h5.7v5.7h-5.7zM974.0 324.6h5.7v5.7h-5.7zM963.3 329.9h11.0v5.7h-11.0z"/>
<path fill="#3c3cff" d="M1000.6 95.5h5.7v5.7h-5.7zM894.1 191.4h5.7v5.7h-5.7zM1037.9 191.4h5.7v5.7h-5.7zM899.4 202.0h5.7v5.7h-5.7zM904.7 234.0h5.7v5.7h-5.7zM1027.2 234.0h5.7v5.7h-5.7zM904.7 265.9h5.7v5.7h-5.7zM1027.2 265.9h5.7v5.7h-5.7zM910.1 271.3h5.7v5.7h-5.7zM1021.9 271.3h5.7v5.7h-5.7zM1005.9 281.9h5.7v5.7h-5.7zM947.3 292.6h5.7v5.7h-5.7zM984.6 292.6h5.7v5.7h-5.7zM958.0 313.9h21.7v5.7h-21.7zM936.7 324.6h5.7v5.7h-5.7zM995.3 324.6h5.7v5.7h-5.7zM995.3 329.9h5.7v5.7h-5.7zM952.7 335.2h5.7v5.7h-5.7zM979.3 335.2h5.7v5.7h-5.7z"/>
<path fill="#5454ff" d="M1005.9 95.5h5.7v5.7h-5.7zM1011.2 106.1h5.7v5.7h-5.7zM920.7 111.4h5.7v5.7h-5.7zM1011.2 111.4h5.7v5.7h-5.7zM899.4 154.1h5.7v5.7h-5.7zM1032.5 154.1h5.7v5.7h-5.7zM1037.9 159.4h5.7v5.7h-5.7zM888.8 164.7h5.7v5.7h-5.7zM883.4 186.0h5.7v5.7h-5.7zM1048.5 186.0h5.7v5.7h-5.7zM888.8 196.7h5.7v5.7h-5.7zM1043.2 196.7h5.7v5.7h-5.7zM899.4 218.0h5.7v5.7h-5.7zM1032.5 218.0h5.7v5.7h-5.7zM899.4 223.3h5.7v5.7h-5.7zM1032.5 223.3h5.7v5.7h-5.7zM1032.5 228.7h5.7v5.7h-5.7zM1037.9 244.6h5.7v5.7h-5.7zM915.4 281.9h5.7v5.7h-5.7zM974.0 303.2h5.7v5.7h-5.7zM995.3 313.9h5.7v5.7h-5.7zM920.7 324.6h5.7v5.7h-5.7zM1011.2 324.6h5.7v5.7h-5.7zM1011.2 329.9h5.7v5.7h-5.7zM947.3 340.5h5.7v5.7h-5.7z"/>
<path fill="#b7b7ff" d="M894.1 100.8h5.7v5.7h-5.7zM888.8 122.1h5.7v5.7h-5.7zM883.4 132.7h5.7v5.7h-5.7zM1048.5 132.7h5.7v5.7h-5.7zM862.1 143.4h5.7v5.7h-5.7zM840.9 148.7h5.7v5.7h-5.7zM867.5 292.6h5.7v5.7h-5.7zM872.8 297.9h5.7v5.7h-5.7zM840.9 303.2h16.4v5.7h-16.4zM840.9 351.2h16.4v5.7h-16.4zM894.1 356.5h5.7v5.7h-5.7zM1037.9 356.5h5.7v5.7h-5.7zM1016.6 361.9h5.7v5.7h-5.7zM926.0 367.2h5.7v5.7h-5.7zM1000.6 367.2h5.7v5.7h-5.7zM942.0 372.5h5.7v5.7h-5.7zM989.9 372.5h5.7v5.7h-5.7zM942.0 377.8h11.0v5.7h-11.0zM984.6 377.8h11.0v5.7h-11.0zM942.0 383.2h5.7v5.7h-5.7zM989.9 383.2h5.7v5.7h-5.7zM936.7 388.5h11.0v5.7h-11.0zM989.9 388.5h11.0v5.7h-11.0zM936.7 393.8h11.0v5.7h-11.0zM989.9 393.8h11.0v5.7h-11.0zM942.0 399.1h16.4v5.7h-16.4zM974.0 399.1h21.7v5.7h-21.7z"/>
<path fill="#7575ff" d="M915.4 100.8h5.7v5.7h-5.7zM1016.6 100.8h5.7v5.7h-5.7zM888.8 154.1h5.7v5.7h-5.7zM1043.2 154.1h5.7v5.7h-5.7zM862.1 180.7h5.7v5.7h-5.7zM867.5 191.4h5.7v5.7h-5.7zM872.8 196.7h5.7v5.7h-5.7zM1053.8 202.0h5.7v5.7h-5.7zM878.1 244.6h5.7v5.7h-5.7zM1053.8 244.6h5.7v5.7h-5.7zM872.8 260.6h5.7v5.7h-5.7zM883.4 271.3h5.7v5.7h-5.7zM1048.5 271.3h5.7v5.7h-5.7zM910.1 287.3h5.7v5.7h-5.7zM1021.9 287.3h5.7v5.7h-5.7zM920.7 308.6h5.7v5.7h-5.7zM1016.6 313.9h5.7v5.7h-5.7zM1032.5 324.6h5.7v5.7h-5.7zM894.1 329.9h5.7v5.7h-5.7zM1037.9 329.9h5.7v5.7h-5.7zM915.4 340.5h5.7v5.7h-5.7z"/>
<path fill="#5d5dff" d="M920.7 100.8h5.7v5.7h-5.7zM1011.2 100.8h5.7v5.7h-5.7zM1011.2 116.8h5.7v5.7h-5.7zM920.7 122.1h5.7v5.7h-5.7zM1011.2 122.1h5.7v5.7h-5.7zM1011.2 127.4h5.7v5.7h-5.7zM878.1 180.7h5.7v5.7h-5.7zM1053.8 180.7h5.7v5.7h-5.7zM888.8 202.0h5.7v5.7h-5.7zM1043.2 202.0h5.7v5.7h-5.7zM894.1 234.0h5.7v5.7h-5.7zM888.8 250.0h5.7v5.7h-5.7zM1043.2 250.0h5.7v5.7h-5.7zM888.8 255.3h5.7v5.7h-5.7zM1043.2 255.3h5.7v5.7h-5.7zM888.8 260.6h5.7v5.7h-5.7zM1043.2 260.6h5.7v5.7h-5.7zM1027.2 276.6h5.7v5.7h-5.7zM920.7 287.3h5.7v5.7h-5.7zM1011.2 287.3h5.7v5.7h-5.7zM936.7 308.6h5.7v5.7h-5.7zM915.4 324.6h5.7v5.7h-5.7zM1016.6 324.6h5.7v5.7h-5.7z"/>
<path fill="#4242ff" d="M926.0 100.8h5.7v5.7h-5.7zM926.0 116.8h5.7v5.7h-5.7zM926.0 132.7h5.7v5.7h-5.7zM915.4 143.4h5.7v5.7h-5.7zM910.1 148.7h5.7v5.7h-5.7zM1027.2 154.1h5.7v5.7h-5.7zM894.1 164.7h5.7v5.7h-5.7zM1043.2 175.4h5.7v5.7h-5.7zM1043.2 180.7h5.7v5.7h-5.7zM1027.2 212.7h5.7v5.7h-5.7zM904.7 218.0h5.7v5.7h-5.7zM904.7 223.3h5.7v5.7h-5.7zM1027.2 228.7h5.7v5.7h-5.7zM899.4 244.6h5.7v5.7h-5.7zM1032.5 244.6h5.7v5.7h-5.7zM1032.5 250.0h5.7v5.7h-5.7zM899.4 255.3h5.7v5.7h-5.7zM1032.5 255.3h5.7v5.7h-5.7zM1016.6 276.6h5.7v5.7h-5.7zM942.0 292.6h5.7v5.7h-5.7zM931.4 324.6h5.7v5.7h-5.7zM1000.6 324.6h5.7v5.7h-5.7zM931.4 329.9h5.7v5.7h-5.7zM1000.6 329.9h5.7v5.7h-5.7zM984.6 335.2h5.7v5.7h-5.7z"/>
<path fill="#2727ff" d="M931.4 100.8h5.7v5.7h-5.7zM931.4 116.8h5.7v5.7h-5.7zM904.7 159.4h5.7v5.7h-5.7zM899.4 191.4h5.7v5.7h-5.7zM910.1 234.0h5.7v5.7h-5.7zM952.7 324.6h5.7v5.7h-5.7zM979.3 324.6h5.7v5.7h-5.7zM958.0 329.9h5.7v5.7h-5.7zM974.0 329.9h5.7v5.7h-5.7z"/>
<path fill="#0f00f0" d="M942.0 100.8h5.7v5.7h-5.7zM984.6 122.1h5.7v5.7h-5.7zM979.3 132.7h5.7v5.7h-5.7zM936.7 143.4h5.7v5.7h-5.7zM1021.9 186.0h5.7v5.7h-5.7zM1016.6 196.7h5.7v5.7h-5.7zM1005.9 212.7h5.7v5.7h-5.7zM926.0 218.0h5.7v5.7h-5.7zM1005.9 223.3h5.7v5.7h-5.7z"/>
<path fill="#2400db" d="M947.3 100.8h5.7v5.7h-5.7zM984.6 100.8h5.7v5.7h-5.7zM1011.2 159.4h5.7v5.7h-5.7zM910.1 175.4h5.7v5.7h-5.7zM1000.6 212.7h5.7v5.7h-5.7zM931.4 218.0h5.7v5.7h-5.7zM1000.6 223.3h5.7v5.7h-5.7zM926.0 239.3h5.7v5.7h-5.7zM1005.9 239.3h5.7v5.7h-5.7zM942.0 271.3h5.7v5.7h-5.7zM989.9 271.3h5.7v5.7h-5.7zM958.0 276.6h5.7v5.7h-5.7z"/>
<path fill="#3600c9" d="M952.7 100.8h5.7v5.7h-5.7zM979.3 100.8h5.7v5.7h-5.7zM984.6 106.1h5.7v5.7h-5.7zM1016.6 170.0h5.7v5.7h-5.7zM926.0 202.0h5.7v5.7h-5.7zM1000.6 207.3h5.7v5.7h-5.7zM995.3 218.0h5.7v5.7h-5.7z"/>
<path fill="#4500ba" d="M958.0 100.8h5.7v5.7h-5.7zM952.7 111.4h5.7v5.7h-5.7zM963.3 116.8h11.0v5.7h-11.0zM926.0 159.4h5.7v5.7h-5.7zM1005.9 196.7h5.7v5.7h-5.7zM931.4 244.6h5.7v5.7h-5.7zM984.6 265.9h5.7v5.7h-5.7zM963.3 271.3h11.0v5.7h-11.0z"/>
<path fill="#4b00b4" d="M963.3 100.8h11.0v5.7h-11.0zM952.7 106.1h5.7v5.7h-5.7zM979.3 106.1h5.7v5.7h-5.7zM984.6 148.7h5.7v5.7h-5.7zM920.7 186.0h5.7v5.7h-5.7zM1000.6 202.0h5.7v5.7h-5.7zM942.0 218.0h5.7v5.7h-5.7zM989.9 223.3h5.7v5.7h-5.7zM942.0 260.6h5.7v5.7h-5.7zM989.9 260.6h5.7v5.7h-5.7z"/>
<path fill="#4200bd" d="M974.0 100.8h5.7v5.7h-5.7zM979.3 111.4h5.7v5.7h-5.7zM958.0 143.4h5.7v5.7h-5.7zM974.0 143.4h5.7v5.7h-5.7zM1005.9 159.4h5.7v5.7h-5.7zM920.7 164.7h5.7v5.7h-5.7zM915.4 175.4h5.7v5.7h-5.7zM936.7 228.7h5.7v5.7h-5.7zM1000.6 244.6h5.7v5.7h-5.7zM958.0 271.3h5.7v5.7h-5.7zM974.0 271.3h5.7v5.7h-5.7z"/>
<path fill="#0f0fff" d="M995.3 100.8h5.7v5.7h-5.7zM936.7 116.8h5.7v5.7h-5.7zM995.3 116.8h5.7v5.7h-5.7zM910.1 159.4h5.7v5.7h-5.7zM1016.6 207.3h5.7v5.7h-5.7z"/>
<path fill="#2a2aff" d="M1000.6 100.8h5.7v5.7h-5.7zM1000.6 116.8h5.7v5.7h-5.7zM910.1 154.1h5.7v5.7h-5.7zM1021.9 154.1h5.7v5.7h-5.7zM1027.2 159.4h5.7v5.7h-5.7zM1032.5 191.4h5.7v5.7h-5.7zM904.7 202.0h5.7v5.7h-5.7zM1027.2 202.0h5.7v5.7h-5.7zM1021.9 234.0h5.7v5.7h-5.7zM952.7 329.9h5.7v5.7h-5.7zM979.3 329.9h5.7v5.7h-5.7z"/>
<path fill="#aeaeff" d="M1032.5 100.8h5.7v5.7h-5.7zM894.1 122.1h5.7v5.7h-5.7zM888.8 132.7h5.7v5.7h-5.7zM1043.2 132.7h5.7v5.7h-5.7zM1048.5 138.1h5.7v5.7h-5.7zM872.8 143.4h5.7v5.7h-5.7zM862.1 287.3h5.7v5.7h-5.7zM883.4 297.9h5.7v5.7h-5.7zM1048.5 297.9h5.7v5.7h-5.7zM878.1 303.2h5.7v5.7h-5.7zM1053.8 303.2h5.7v5.7h-5.7zM840.9 308.6h16.4v5.7h-16.4zM883.4 351.2h5.7v5.7h-5.7zM1048.5 351.2h5.7v5.7h-5.7zM910.1 356.5h5.7v5.7h-5.7zM1021.9 356.5h5.7v5.7h-5.7zM926.0 361.9h5.7v5.7h-5.7zM1005.9 361.9h5.7v5.7h-5.7zM947.3 367.2h5.7v5.7h-5.7zM984.6 367.2h5.7v5.7h-5.7z"/>
<path fill="#3636ff" d="M926.0 106.1h5.7v5.7h-5.7zM1005.9 106.1h5.7v5.7h-5.7zM1037.9 170.0h5.7v5.7h-5.7zM904.7 207.3h5.7v5.7h-5.7zM1027.2 207.3h5.7v5.7h-5.7zM904.7 239.3h5.7v5.7h-5.7zM1027.2 239.3h5.7v5.7h-5.7zM904.7 260.6h5.7v5.7h-5.7zM1027.2 260.6h5.7v5.7h-5.7zM979.3 292.6h5.7v5.7h-5.7z"/>
<path fill="#1818ff" d="M931.4 106.1h5.7v5.7h-5.7zM936.7 122.1h5.7v5.7h-5.7zM995.3 122.1h5.7v5.7h-5.7zM920.7 148.7h5.7v5.7h-5.7zM1027.2 164.7h5.7v5.7h-5.7zM1032.5 175.4h5.7v5.7h-5.7zM899.4 180.7h5.7v5.7h-5.7zM1032.5 180.7h5.7v5.7h-5.7zM915.4 212.7h5.7v5.7h-5.7zM915.4 228.7h5.7v5.7h-5.7zM1016.6 228.7h5.7v5.7h-5.7zM958.0 287.3h5.7v5.7h-5.7zM974.0 287.3h5.7v5.7h-5.7z"/>
<path fill="#0600f9" d="M936.7 106.1h5.7v5.7h-5.7zM947.3 127.4h5.7v5.7h-5.7zM984.6 127.4h5.7v5.7h-5.7zM947.3 132.7h5.7v5.7h-5.7zM942.0 138.1h5.7v5.7h-5.7zM989.9 138.1h5.7v5.7h-5.7zM1011.2 154.1h5.7v5.7h-5.7zM910.1 164.7h5.7v5.7h-5.7zM904.7 175.4h5.7v5.7h-5.7zM910.1 191.4h5.7v5.7h-5.7zM920.7 234.0h5.7v5.7h-5.7zM1005.9 265.9h5.7v5.7h-5.7zM931.4 271.3h5.7v5.7h-5.7zM1000.6 271.3h5.7v5.7h-5.7zM963.3 281.9h11.0v5.7h-11.0z"/>
<path fill="#2100de" d="M942.0 106.1h5.7v5.7h-5.7zM947.3 116.8h5.7v5.7h-5.7zM952.7 122.1h5.7v5.7h-5.7zM963.3 127.4h11.0v5.7h-11.0zM952.7 138.1h5.7v5.7h-5.7zM979.3 138.1h5.7v5.7h-5.7zM926.0 154.1h5.7v5.7h-5.7zM915.4 164.7h5.7v5.7h-5.7zM1016.6 164.7h5.7v5.7h-5.7zM1021.9 175.4h5.7v5.7h-5.7zM915.4 191.4h5.7v5.7h-5.7zM926.0 207.3h5.7v5.7h-5.7zM1005.9 207.3h5.7v5.7h-5.7zM1000.6 218.0h5.7v5.7h-5.7zM974.0 276.6h5.7v5.7h-5.7z"/>
<path fill="#3900c6" d="M947.3 106.1h5.7v5.7h-5.7zM952.7 143.4h5.7v5.7h-5.7zM979.3 143.4h5.7v5.7h-5.7zM931.4 154.1h5.7v5.7h-5.7zM1000.6 154.1h5.7v5.7h-5.7zM915.4 170.0h5.7v5.7h-5.7zM915.4 180.7h5.7v5.7h-5.7zM1016.6 180.7h5.7v5.7h-5.7zM1011.2 191.4h5.7v5.7h-5.7zM931.4 207.3h5.7v5.7h-5.7zM995.3 212.7h5.7v5.7h-5.7zM936.7 218.0h5.7v5.7h-5.7zM995.3 223.3h5.7v5.7h-5.7zM1000.6 239.3h5.7v5.7h-5.7zM936.7 260.6h5.7v5.7h-5.7zM995.3 260.6h5.7v5.7h-5.7zM942.0 265.9h5.7v5.7h-5.7zM989.9 265.9h5.7v5.7h-5.7zM952.7 271.3h5.7v5.7h-5.7zM979.3 271.3h5.7v5.7h-5.7z"/>
<path fill="#5a00a5" d="M958.0 106.1h5.7v5.7h-5.7zM974.0 106.1h5.7v5.7h-5.7zM963.3 111.4h5.7v5.7h-5.7zM952.7 148.7h5.7v5.7h-5.7zM979.3 148.7h5.7v5.7h-5.7zM920.7 170.0h5.7v5.7h-5.7zM920.7 180.7h5.7v5.7h-5.7zM947.3 218.0h5.7v5.7h-5.7zM984.6 218.0h5.7v5.7h-5.7zM936.7 244.6h5.7v5.7h-5.7zM995.3 244.6h5.7v5.7h-5.7zM942.0 255.3h5.7v5.7h-5.7zM989.9 255.3h5.7v5.7h-5.7zM947.3 260.6h5.7v5.7h-5.7zM958.0 265.9h5.7v5.7h-5.7zM974.0 265.9h5.7v5.7h-5.7z"/>
<path fill="#60009f" d="M963.3 106.1h11.0v5.7h-11.0zM931.4 159.4h5.7v5.7h-5.7zM926.0 164.7h5.7v5.7h-5.7zM1011.2 175.4h5.7v5.7h-5.7zM931.4 196.7h5.7v5.7h-5.7zM1000.6 196.7h5.7v5.7h-5.7zM989.9 207.3h5.7v5.7h-5.7z"/>
<path fill="#0300fc" d="M995.3 106.1h5.7v5.7h-5.7zM984.6 132.7h5.7v5.7h-5.7zM1021.9 164.7h5.7v5.7h-5.7zM1027.2 175.4h5.7v5.7h-5.7zM1021.9 191.4h5.7v5.7h-5.7zM915.4 202.0h5.7v5.7h-5.7zM1016.6 202.0h5.7v5.7h-5.7zM1011.2 234.0h5.7v5.7h-5.7zM958.0 281.9h5.7v5.7h-5.7zM974.0 281.9h5.7v5.7h-5.7z"/>
<path fill="#1b1bff" d="M1000.6 106.1h5.7v5.7h-5.7zM931.4 111.4h5.7v5.7h-5.7zM936.7 132.7h5.7v5.7h-5.7zM926.0 143.4h5.7v5.7h-5.7zM1005.9 143.4h5.7v5.7h-5.7zM1011.2 148.7h5.7v5.7h-5.7zM1016.6 212.7h5.7v5.7h-5.7zM915.4 218.0h5.7v5.7h-5.7zM915.4 223.3h5.7v5.7h-5.7zM1016.6 223.3h5.7v5.7h-5.7zM910.1 244.6h5.7v5.7h-5.7zM1021.9 244.6h5.7v5.7h-5.7zM910.1 250.0h5.7v5.7h-5.7zM1021.9 250.0h5.7v5.7h-5.7zM915.4 265.9h5.7v5.7h-5.7zM920.7 271.3h5.7v5.7h-5.7z"/>
<path fill="#0000ff" d="M936.7 111.4h5.7v5.7h-5.7zM926.0 148.7h5.7v5.7h-5.7zM904.7 180.7h5.7v5.7h-5.7zM1027.2 180.7h5.7v5.7h-5.7zM920.7 228.7h5.7v5.7h-5.7zM920.7 260.6h5.7v5.7h-5.7zM1011.2 260.6h5.7v5.7h-5.7z"/>
<path fill="#3300cc" d="M947.3 111.4h5.7v5.7h-5.7zM952.7 116.8h5.7v5.7h-5.7zM1005.9 202.0h5.7v5.7h-5.7zM931.4 234.0h5.7v5.7h-5.7zM1000.6 234.0h5.7v5.7h-5.7zM931.4 255.3h5.7v5.7h-5.7zM1000.6 255.3h5.7v5.7h-5.7z"/>
<path fill="#5100ae" d="M958.0 111.4h5.7v5.7h-5.7zM974.0 111.4h5.7v5.7h-5.7zM936.7 154.1h5.7v5.7h-5.7zM995.3 154.1h5.7v5.7h-5.7zM936.7 239.3h5.7v5.7h-5.7zM995.3 239.3h5.7v5.7h-5.7zM952.7 265.9h5.7v5.7h-5.7zM979.3 265.9h5.7v5.7h-5.7z"/>
<path fill="#5700a8" d="M968.6 111.4h5.7v5.7h-5.7zM1011.2 170.0h5.7v5.7h-5.7zM1011.2 180.7h5.7v5.7h-5.7zM926.0 191.4h5.7v5.7h-5.7zM1005.9 191.4h5.7v5.7h-5.7zM936.7 250.0h5.7v5.7h-5.7zM984.6 260.6h5.7v5.7h-5.7z"/>
<path fill="#1800e7" d="M989.9 111.4h5.7v5.7h-5.7zM974.0 132.7h5.7v5.7h-5.7zM910.1 170.0h5.7v5.7h-5.7zM1021.9 170.0h5.7v5.7h-5.7zM1000.6 265.9h5.7v5.7h-5.7z"/>
<path fill="#8787ff" d="M910.1 116.8h5.7v5.7h-5.7zM1021.9 116.8h5.7v5.7h-5.7zM894.1 143.4h5.7v5.7h-5.7zM1037.9 143.4h5.7v5.7h-5.7zM1043.2 148.7h5.7v5.7h-5.7zM872.8 159.4h5.7v5.7h-5.7zM856.8 170.0h5.7v5.7h-5.7zM840.9 175.4h11.0v5.7h-11.0zM840.9 191.4h11.0v5.7h-11.0zM856.8 196.7h5.7v5.7h-5.7zM862.1 202.0h5.7v5.7h-5.7zM872.8 212.7h5.7v5.7h-5.7zM872.8 234.0h5.7v5.7h-5.7zM856.8 250.0h5.7v5.7h-5.7zM846.2 255.3h11.0v5.7h-11.0zM840.9 260.6h5.7v5.7h-5.7zM840.9 265.9h11.0v5.7h-11.0zM878.1 276.6h5.7v5.7h-5.7zM915.4 303.2h5.7v5.7h-5.7zM1016.6 303.2h5.7v5.7h-5.7zM1021.9 308.6h5.7v5.7h-5.7zM899.4 313.9h5.7v5.7h-5.7zM878.1 324.6h5.7v5.7h-5.7zM1053.8 324.6h5.7v5.7h-5.7zM856.8 329.9h11.0v5.7h-11.0zM872.8 335.2h5.7v5.7h-5.7zM1053.8 335.2h5.7v5.7h-5.7zM899.4 340.5h5.7v5.7h-5.7zM1032.5 340.5h5.7v5.7h-5.7zM915.4 345.9h5.7v5.7h-5.7zM1016.6 345.9h5.7v5.7h-5.7zM995.3 351.2h5.7v5.7h-5.7z"/>
<path fill="#7272ff" d="M915.4 116.8h5.7v5.7h-5.7zM1016.6 116.8h5.7v5.7h-5.7zM915.4 122.1h5.7v5.7h-5.7zM1016.6 122.1h5.7v5.7h-5.7zM883.4 159.4h5.7v5.7h-5.7zM1048.5 159.4h5.7v5.7h-5.7zM878.1 164.7h5.7v5.7h-5.7zM1053.8 164.7h5.7v5.7h-5.7zM872.8 170.0h5.7v5.7h-5.7zM867.5 175.4h5.7v5.7h-5.7zM867.5 186.0h5.7v5.7h-5.7zM878.1 202.0h5.7v5.7h-5.7zM883.4 207.3h5.7v5.7h-5.7zM1048.5 207.3h5.7v5.7h-5.7zM883.4 239.3h5.7v5.7h-5.7zM1048.5 239.3h5.7v5.7h-5.7zM878.1 250.0h5.7v5.7h-5.7zM1053.8 250.0h5.7v5.7h-5.7zM878.1 265.9h5.7v5.7h-5.7zM1053.8 265.9h5.7v5.7h-5.7zM894.1 276.6h5.7v5.7h-5.7zM1037.9 276.6h5.7v5.7h-5.7zM926.0 297.9h5.7v5.7h-5.7zM1005.9 297.9h5.7v5.7h-5.7zM915.4 313.9h5.7v5.7h-5.7zM899.4 324.6h5.7v5.7h-5.7zM904.7 335.2h5.7v5.7h-5.7zM1027.2 335.2h5.7v5.7h-5.7zM1011.2 340.5h5.7v5.7h-5.7zM936.7 345.9h5.7v5.7h-5.7zM995.3 345.9h5.7v5.7h-5.7z"/>
<path fill="#3f00c0" d="M958.0 116.8h5.7v5.7h-5.7zM1011.2 164.7h5.7v5.7h-5.7zM1016.6 175.4h5.7v5.7h-5.7zM995.3 228.7h5.7v5.7h-5.7zM931.4 250.0h5.7v5.7h-5.7zM1000.6 250.0h5.7v5.7h-5.7z"/>
<path fill="#3c00c3" d="M974.0 116.8h5.7v5.7h-5.7zM942.0 148.7h5.7v5.7h-5.7zM989.9 148.7h5.7v5.7h-5.7zM920.7 191.4h5.7v5.7h-5.7zM936.7 212.7h5.7v5.7h-5.7zM936.7 223.3h5.7v5.7h-5.7zM931.4 239.3h5.7v5.7h-5.7z"/>
<path fill="#a8a8ff" d="M1032.5 116.8h5.7v5.7h-5.7zM1053.8 143.4h5.7v5.7h-5.7zM867.5 148.7h5.7v5.7h-5.7zM851.5 154.1h5.7v5.7h-5.7zM840.9 281.9h5.7v5.7h-5.7zM872.8 287.3h5.7v5.7h-5.7zM867.5 308.6h11.0v5.7h-11.0zM840.9 345.9h21.7v5.7h-21.7zM894.1 351.2h5.7v5.7h-5.7zM1037.9 351.2h5.7v5.7h-5.7zM915.4 356.5h5.7v5.7h-5.7zM1016.6 356.5h5.7v5.7h-5.7zM931.4 361.9h5.7v5.7h-5.7zM1000.6 361.9h5.7v5.7h-5.7z"/>
<path fill="#2d2dff" d="M931.4 122.1h5.7v5.7h-5.7zM931.4 132.7h5.7v5.7h-5.7zM915.4 148.7h5.7v5.7h-5.7zM899.4 164.7h5.7v5.7h-5.7zM894.1 175.4h5.7v5.7h-5.7zM1037.9 175.4h5.7v5.7h-5.7zM894.1 180.7h5.7v5.7h-5.7zM910.1 212.7h5.7v5.7h-5.7zM910.1 228.7h5.7v5.7h-5.7zM1021.9 228.7h5.7v5.7h-5.7zM904.7 244.6h5.7v5.7h-5.7zM904.7 250.0h5.7v5.7h-5.7zM910.1 265.9h5.7v5.7h-5.7zM1021.9 265.9h5.7v5.7h-5.7zM915.4 271.3h5.7v5.7h-5.7zM1016.6 271.3h5.7v5.7h-5.7zM931.4 281.9h5.7v5.7h-5.7zM1000.6 281.9h5.7v5.7h-5.7zM942.0 287.3h5.7v5.7h-5.7zM989.9 287.3h5.7v5.7h-5.7zM963.3 292.6h11.0v5.7h-11.0zM963.3 319.2h11.0v5.7h-11.0zM947.3 324.6h5.7v5.7h-5.7zM984.6 324.6h5.7v5.7h-5.7zM947.3 329.9h5.7v5.7h-5.7zM984.6 329.9h5.7v5.7h-5.7z"/>
<path fill="#1200ed" d="M947.3 122.1h5.7v5.7h-5.7zM979.3 127.4h5.7v5.7h-5.7zM952.7 132.7h5.7v5.7h-5.7zM1000.6 148.7h5.7v5.7h-5.7zM910.1 186.0h5.7v5.7h-5.7zM915.4 196.7h5.7v5.7h-5.7zM926.0 212.7h5.7v5.7h-5.7zM926.0 223.3h5.7v5.7h-5.7zM1005.9 228.7h5.7v5.7h-5.7zM1011.2 244.6h5.7v5.7h-5.7zM920.7 250.0h5.7v5.7h-5.7zM1011.2 250.0h5.7v5.7h-5.7zM1005.9 260.6h5.7v5.7h-5.7zM984.6 276.6h5.7v5.7h-5.7z"/>
<path fill="#4848ff" d="M1005.9 122.1h5.7v5.7h-5.7zM1005.9 127.4h5.7v5.7h-5.7zM888.8 170.0h5.7v5.7h-5.7zM1043.2 170.0h5.7v5.7h-5.7zM899.4 207.3h5.7v5.7h-5.7zM1032.5 207.3h5.7v5.7h-5.7zM899.4 239.3h5.7v5.7h-5.7zM1032.5 239.3h5.7v5.7h-5.7zM920.7 281.9h5.7v5.7h-5.7zM1011.2 281.9h5.7v5.7h-5.7zM958.0 308.6h16.4v5.7h-16.4zM995.3 319.2h5.7v5.7h-5.7z"/>
<path fill="#9f9fff" d="M899.4 127.4h5.7v5.7h-5.7zM1032.5 127.4h5.7v5.7h-5.7zM1048.5 143.4h5.7v5.7h-5.7zM862.1 154.1h5.7v5.7h-5.7zM846.2 159.4h5.7v5.7h-5.7zM840.9 223.3h5.7v5.7h-5.7zM840.9 228.7h5.7v5.7h-5.7zM867.5 281.9h5.7v5.7h-5.7zM883.4 287.3h5.7v5.7h-5.7zM1048.5 287.3h5.7v5.7h-5.7zM894.1 292.6h5.7v5.7h-5.7zM1037.9 292.6h5.7v5.7h-5.7zM899.4 297.9h5.7v5.7h-5.7zM1032.5 297.9h5.7v5.7h-5.7zM867.5 313.9h11.0v5.7h-11.0zM883.4 345.9h5.7v5.7h-5.7zM1048.5 345.9h5.7v5.7h-5.7zM1021.9 351.2h5.7v5.7h-5.7zM926.0 356.5h5.7v5.7h-5.7zM1005.9 356.5h5.7v5.7h-5.7zM947.3 361.9h5.7v5.7h-5.7zM984.6 361.9h5.7v5.7h-5.7z"/>
<path fill="#1500ea" d="M952.7 127.4h5.7v5.7h-5.7zM947.3 138.1h5.7v5.7h-5.7zM984.6 138.1h5.7v5.7h-5.7zM931.4 148.7h5.7v5.7h-5.7zM926.0 228.7h5.7v5.7h-5.7zM920.7 244.6h5.7v5.7h-5.7zM926.0 260.6h5.7v5.7h-5.7zM936.7 271.3h5.7v5.7h-5.7zM995.3 271.3h5.7v5.7h-5.7zM947.3 276.6h5.7v5.7h-5.7z"/>
<path fill="#7878ff" d="M899.4 143.4h5.7v5.7h-5.7zM1032.5 143.4h5.7v5.7h-5.7zM894.1 148.7h5.7v5.7h-5.7zM1037.9 148.7h5.7v5.7h-5.7zM862.1 186.0h5.7v5.7h-5.7zM883.4 212.7h5.7v5.7h-5.7zM1048.5 212.7h5.7v5.7h-5.7zM883.4 234.0h5.7v5.7h-5.7zM1048.5 234.0h5.7v5.7h-5.7zM872.8 250.0h5.7v5.7h-5.7zM872.8 255.3h5.7v5.7h-5.7zM872.8 265.9h5.7v5.7h-5.7zM899.4 281.9h5.7v5.7h-5.7zM1032.5 281.9h5.7v5.7h-5.7zM926.0 303.2h5.7v5.7h-5.7zM1005.9 303.2h5.7v5.7h-5.7zM1011.2 308.6h5.7v5.7h-5.7zM904.7 319.2h5.7v5.7h-5.7zM1027.2 319.2h5.7v5.7h-5.7zM888.8 329.9h5.7v5.7h-5.7zM1043.2 329.9h5.7v5.7h-5.7zM899.4 335.2h5.7v5.7h-5.7zM1032.5 335.2h5.7v5.7h-5.7zM1016.6 340.5h5.7v5.7h-5.7zM931.4 345.9h5.7v5.7h-5.7zM1000.6 345.9h5.7v5.7h-5.7zM958.0 351.2h21.7v5.7h-21.7z"/>
<path fill="#4800b7" d="M963.3 143.4h11.0v5.7h-11.0zM1011.2 186.0h5.7v5.7h-5.7zM926.0 196.7h5.7v5.7h-5.7zM989.9 218.0h5.7v5.7h-5.7zM936.7 234.0h5.7v5.7h-5.7zM995.3 234.0h5.7v5.7h-5.7zM936.7 255.3h5.7v5.7h-5.7zM995.3 255.3h5.7v5.7h-5.7zM947.3 265.9h5.7v5.7h-5.7z"/>
<path fill="#4e00b1" d="M947.3 148.7h5.7v5.7h-5.7zM931.4 202.0h5.7v5.7h-5.7zM936.7 207.3h5.7v5.7h-5.7zM995.3 207.3h5.7v5.7h-5.7zM942.0 212.7h5.7v5.7h-5.7zM989.9 212.7h5.7v5.7h-5.7zM942.0 223.3h5.7v5.7h-5.7z"/>
<path fill="#63009c" d="M958.0 148.7h5.7v5.7h-5.7zM974.0 148.7h5.7v5.7h-5.7zM920.7 175.4h5.7v5.7h-5.7zM995.3 202.0h5.7v5.7h-5.7zM942.0 207.3h5.7v5.7h-5.7zM984.6 228.7h5.7v5.7h-5.7zM952.7 260.6h5.7v5.7h-5.7zM979.3 260.6h5.7v5.7h-5.7z"/>
<path fill="#690096" d="M963.3 148.7h11.0v5.7h-11.0zM942.0 154.1h5.7v5.7h-5.7zM926.0 186.0h5.7v5.7h-5.7zM979.3 212.7h5.7v5.7h-5.7zM979.3 223.3h5.7v5.7h-5.7zM942.0 250.0h5.7v5.7h-5.7zM989.9 250.0h5.7v5.7h-5.7zM947.3 255.3h5.7v5.7h-5.7zM984.6 255.3h5.7v5.7h-5.7z"/>
<path fill="#3f3fff" d="M904.7 154.1h5.7v5.7h-5.7zM899.4 159.4h5.7v5.7h-5.7zM1032.5 159.4h5.7v5.7h-5.7zM888.8 175.4h5.7v5.7h-5.7zM888.8 180.7h5.7v5.7h-5.7zM1032.5 202.0h5.7v5.7h-5.7zM904.7 212.7h5.7v5.7h-5.7zM904.7 228.7h5.7v5.7h-5.7zM899.4 250.0h5.7v5.7h-5.7zM915.4 276.6h5.7v5.7h-5.7zM952.7 313.9h5.7v5.7h-5.7zM979.3 313.9h5.7v5.7h-5.7zM942.0 319.2h5.7v5.7h-5.7zM989.9 319.2h5.7v5.7h-5.7zM947.3 335.2h5.7v5.7h-5.7z"/>
<path fill="#7b0084" d="M947.3 154.1h5.7v5.7h-5.7zM984.6 154.1h5.7v5.7h-5.7zM936.7 159.4h5.7v5.7h-5.7zM1000.6 164.7h5.7v5.7h-5.7zM926.0 170.0h5.7v5.7h-5.7zM936.7 196.7h5.7v5.7h-5.7zM942.0 202.0h5.7v5.7h-5.7zM958.0 228.7h5.7v5.7h-5.7zM974.0 228.7h5.7v5.7h-5.7zM952.7 234.0h5.7v5.7h-5.7zM979.3 234.0h5.7v5.7h-5.7zM947.3 250.0h5.7v5.7h-5.7zM984.6 250.0h5.7v5.7h-5.7z"/>
<path fill="#8a0075" d="M952.7 154.1h5.7v5.7h-5.7zM979.3 154.1h5.7v5.7h-5.7zM984.6 202.0h5.7v5.7h-5.7zM958.0 207.3h5.7v5.7h-5.7zM974.0 207.3h5.7v5.7h-5.7zM963.3 234.0h11.0v5.7h-11.0z"/>
<path fill="#93006c" d="M958.0 154.1h5.7v5.7h-5.7zM974.0 154.1h5.7v5.7h-5.7zM942.0 159.4h5.7v5.7h-5.7zM989.9 159.4h5.7v5.7h-5.7zM963.3 239.3h11.0v5.7h-11.0zM958.0 250.0h5.7v5.7h-5.7z"/>
<path fill="#990066" d="M963.3 154.1h11.0v5.7h-11.0zM995.3 164.7h5.7v5.7h-5.7zM1000.6 170.0h5.7v5.7h-5.7zM931.4 180.7h5.7v5.7h-5.7zM979.3 202.0h5.7v5.7h-5.7zM958.0 244.6h5.7v5.7h-5.7zM974.0 244.6h5.7v5.7h-5.7z"/>
<path fill="#660099" d="M989.9 154.1h5.7v5.7h-5.7zM1005.9 186.0h5.7v5.7h-5.7zM936.7 202.0h5.7v5.7h-5.7zM952.7 218.0h5.7v5.7h-5.7zM979.3 218.0h5.7v5.7h-5.7zM947.3 228.7h5.7v5.7h-5.7zM942.0 239.3h5.7v5.7h-5.7zM989.9 239.3h5.7v5.7h-5.7z"/>
<path fill="#6666ff" d="M1037.9 154.1h5.7v5.7h-5.7zM1048.5 164.7h5.7v5.7h-5.7zM878.1 170.0h5.7v5.7h-5.7zM1053.8 170.0h5.7v5.7h-5.7zM872.8 180.7h5.7v5.7h-5.7zM878.1 191.4h5.7v5.7h-5.7zM1053.8 191.4h5.7v5.7h-5.7zM888.8 207.3h5.7v5.7h-5.7zM1043.2 207.3h5.7v5.7h-5.7zM888.8 239.3h5.7v5.7h-5.7zM1043.2 239.3h5.7v5.7h-5.7zM883.4 255.3h5.7v5.7h-5.7zM883.4 260.6h5.7v5.7h-5.7zM1048.5 260.6h5.7v5.7h-5.7zM899.4 276.6h5.7v5.7h-5.7zM936.7 303.2h5.7v5.7h-5.7zM931.4 308.6h5.7v5.7h-5.7zM1000.6 308.6h5.7v5.7h-5.7zM910.1 324.6h5.7v5.7h-5.7zM1021.9 324.6h5.7v5.7h-5.7zM915.4 335.2h5.7v5.7h-5.7zM1016.6 335.2h5.7v5.7h-5.7zM931.4 340.5h5.7v5.7h-5.7zM1000.6 340.5h5.7v5.7h-5.7zM952.7 345.9h11.0v5.7h-11.0zM974.0 345.9h5.7v5.7h-5.7z"/>
<path fill="#8d8dff" d="M1053.8 154.1h5.7v5.7h-5.7zM867.5 159.4h5.7v5.7h-5.7zM846.2 170.0h5.7v5.7h-5.7zM840.9 196.7h5.7v5.7h-5.7zM851.5 202.0h5.7v5.7h-5.7zM862.1 207.3h5.7v5.7h-5.7zM867.5 212.7h5.7v5.7h-5.7zM867.5 234.0h5.7v5.7h-5.7zM862.1 239.3h5.7v5.7h-5.7zM856.8 244.6h5.7v5.7h-5.7zM840.9 250.0h11.0v5.7h-11.0zM851.5 271.3h5.7v5.7h-5.7zM872.8 276.6h5.7v5.7h-5.7zM904.7 292.6h5.7v5.7h-5.7zM910.1 297.9h5.7v5.7h-5.7zM1021.9 297.9h5.7v5.7h-5.7zM910.1 303.2h5.7v5.7h-5.7zM904.7 308.6h5.7v5.7h-5.7zM1027.2 308.6h5.7v5.7h-5.7zM894.1 313.9h5.7v5.7h-5.7zM883.4 319.2h5.7v5.7h-5.7zM1048.5 319.2h5.7v5.7h-5.7zM862.1 324.6h11.0v5.7h-11.0zM840.9 335.2h21.7v5.7h-21.7zM888.8 340.5h5.7v5.7h-5.7zM1043.2 340.5h5.7v5.7h-5.7zM910.1 345.9h5.7v5.7h-5.7zM1021.9 345.9h5.7v5.7h-5.7zM947.3 356.5h11.0v5.7h-11.0zM979.3 356.5h11.0v5.7h-11.0z"/>
<path fill="#7e7eff" d="M878.1 159.4h5.7v5.7h-5.7zM1053.8 159.4h5.7v5.7h-5.7zM856.8 175.4h5.7v5.7h-5.7zM851.5 180.7h5.7v5.7h-5.7zM872.8 244.6h5.7v5.7h-5.7zM862.1 260.6h5.7v5.7h-5.7zM904.7 287.3h5.7v5.7h-5.7zM920.7 303.2h5.7v5.7h-5.7zM915.4 308.6h5.7v5.7h-5.7zM1016.6 308.6h5.7v5.7h-5.7zM899.4 319.2h5.7v5.7h-5.7zM1032.5 319.2h5.7v5.7h-5.7zM888.8 324.6h5.7v5.7h-5.7zM1043.2 324.6h5.7v5.7h-5.7zM883.4 329.9h5.7v5.7h-5.7zM1048.5 329.9h5.7v5.7h-5.7zM888.8 335.2h5.7v5.7h-5.7zM926.0 345.9h5.7v5.7h-5.7zM1005.9 345.9h5.7v5.7h-5.7zM947.3 351.2h5.7v5.7h-5.7zM984.6 351.2h5.7v5.7h-5.7z"/>
<path fill="#a80057" d="M947.3 159.4h5.7v5.7h-5.7zM984.6 159.4h5.7v5.7h-5.7z"/>
<path fill="#ba0045" d="M952.7 159.4h5.7v5.7h-5.7zM936.7 170.0h5.7v5.7h-5.7zM989.9 186.0h5.7v5.7h-5.7zM947.3 191.4h5.7v5.7h-5.7zM984.6 191.4h5.7v5.7h-5.7z"/>
<path fill="#c60039" d="M958.0 159.4h5.7v5.7h-5.7zM936.7 175.4h5.7v5.7h-5.7z"/>
<path fill="#c90036" d="M963.3 159.4h11.0v5.7h-11.0z"/>
<path fill="#c3003c" d="M974.0 159.4h5.7v5.7h-5.7zM995.3 175.4h5.7v5.7h-5.7zM963.3 196.7h11.0v5.7h-11.0z"/>
<path fill="#b70048" d="M979.3 159.4h5.7v5.7h-5.7zM942.0 164.7h5.7v5.7h-5.7zM995.3 170.0h5.7v5.7h-5.7zM936.7 180.7h5.7v5.7h-5.7z"/>
<path fill="#780087" d="M995.3 159.4h5.7v5.7h-5.7zM1005.9 170.0h5.7v5.7h-5.7zM926.0 180.7h5.7v5.7h-5.7zM1005.9 180.7h5.7v5.7h-5.7zM995.3 196.7h5.7v5.7h-5.7zM989.9 202.0h5.7v5.7h-5.7zM963.3 212.7h11.0v5.7h-11.0zM963.3 223.3h11.0v5.7h-11.0zM947.3 239.3h5.7v5.7h-5.7zM984.6 239.3h5.7v5.7h-5.7zM952.7 255.3h5.7v5.7h-5.7z"/>
<path fill="#5d00a2" d="M1000.6 159.4h5.7v5.7h-5.7zM1005.9 164.7h5.7v5.7h-5.7zM947.3 212.7h5.7v5.7h-5.7zM984.6 212.7h5.7v5.7h-5.7zM947.3 223.3h5.7v5.7h-5.7zM984.6 223.3h5.7v5.7h-5.7zM942.0 234.0h5.7v5.7h-5.7zM989.9 234.0h5.7v5.7h-5.7zM963.3 265.9h11.0v5.7h-11.0z"/>
<path fill="#1515ff" d="M904.7 164.7h5.7v5.7h-5.7zM899.4 175.4h5.7v5.7h-5.7zM1027.2 191.4h5.7v5.7h-5.7zM910.1 202.0h5.7v5.7h-5.7zM1021.9 202.0h5.7v5.7h-5.7zM1000.6 276.6h5.7v5.7h-5.7zM942.0 281.9h5.7v5.7h-5.7zM989.9 281.9h5.7v5.7h-5.7zM963.3 287.3h11.0v5.7h-11.0z"/>
<path fill="#7e0081" d="M931.4 164.7h5.7v5.7h-5.7zM984.6 244.6h5.7v5.7h-5.7zM958.0 255.3h5.7v5.7h-5.7zM974.0 255.3h5.7v5.7h-5.7z"/>
<path fill="#9c0063" d="M936.7 164.7h5.7v5.7h-5.7zM931.4 170.0h5.7v5.7h-5.7zM952.7 202.0h5.7v5.7h-5.7zM963.3 244.6h11.0v5.7h-11.0z"/>
<path fill="#cc0033" d="M947.3 164.7h5.7v5.7h-5.7zM984.6 164.7h5.7v5.7h-5.7zM952.7 191.4h5.7v5.7h-5.7zM979.3 191.4h5.7v5.7h-5.7z"/>
<path fill="#de0021" d="M952.7 164.7h5.7v5.7h-5.7zM979.3 164.7h5.7v5.7h-5.7zM963.3 191.4h5.7v5.7h-5.7z"/>
<path fill="#ed0012" d="M958.0 164.7h5.7v5.7h-5.7zM984.6 170.0h5.7v5.7h-5.7z"/>
<path fill="#f3000c" d="M963.3 164.7h11.0v5.7h-11.0z"/>
<path fill="#ea0015" d="M974.0 164.7h5.7v5.7h-5.7zM947.3 180.7h5.7v5.7h-5.7z"/>
<path fill="#b4004b" d="M989.9 164.7h5.7v5.7h-5.7zM995.3 180.7h5.7v5.7h-5.7zM952.7 196.7h5.7v5.7h-5.7zM979.3 196.7h5.7v5.7h-5.7z"/>
<path fill="#d80027" d="M942.0 170.0h5.7v5.7h-5.7zM958.0 191.4h5.7v5.7h-5.7z"/>
<path fill="#f0000f" d="M947.3 170.0h5.7v5.7h-5.7zM958.0 186.0h5.7v5.7h-5.7zM974.0 186.0h5.7v5.7h-5.7z"/>
<path fill="#ff0000" d="M952.7 170.0h32.3v5.7h-32.3zM952.7 175.4h32.3v5.7h-32.3zM958.0 180.7h21.7v5.7h-21.7z"/>
<path fill="#d5002a" d="M989.9 170.0h5.7v5.7h-5.7zM974.0 191.4h5.7v5.7h-5.7z"/>
<path fill="#6060ff" d="M878.1 175.4h5.7v5.7h-5.7zM1053.8 175.4h5.7v5.7h-5.7zM878.1 186.0h5.7v5.7h-5.7zM1053.8 186.0h5.7v5.7h-5.7zM883.4 196.7h5.7v5.7h-5.7zM894.1 212.7h5.7v5.7h-5.7zM1037.9 212.7h5.7v5.7h-5.7zM894.1 228.7h5.7v5.7h-5.7zM1037.9 234.0h5.7v5.7h-5.7zM888.8 244.6h5.7v5.7h-5.7zM1043.2 244.6h5.7v5.7h-5.7zM888.8 265.9h5.7v5.7h-5.7zM936.7 297.9h5.7v5.7h-5.7zM995.3 297.9h5.7v5.7h-5.7zM942.0 303.2h5.7v5.7h-5.7zM989.9 303.2h5.7v5.7h-5.7zM995.3 308.6h5.7v5.7h-5.7zM920.7 319.2h5.7v5.7h-5.7zM1011.2 319.2h5.7v5.7h-5.7zM910.1 329.9h5.7v5.7h-5.7zM920.7 335.2h5.7v5.7h-5.7zM1011.2 335.2h5.7v5.7h-5.7zM936.7 340.5h5.7v5.7h-5.7zM995.3 340.5h5.7v5.7h-5.7z"/>
<path fill="#84007b" d="M926.0 175.4h5.7v5.7h-5.7zM1000.6 186.0h5.7v5.7h-5.7zM958.0 234.0h5.7v5.7h-5.7zM974.0 234.0h5.7v5.7h-5.7zM979.3 239.3h5.7v5.7h-5.7zM963.3 255.3h11.0v5.7h-11.0z"/>
<path fill="#a5005a" d="M931.4 175.4h5.7v5.7h-5.7zM1000.6 175.4h5.7v5.7h-5.7zM942.0 191.4h5.7v5.7h-5.7zM989.9 191.4h5.7v5.7h-5.7zM947.3 196.7h5.7v5.7h-5.7zM958.0 202.0h5.7v5.7h-5.7zM974.0 202.0h5.7v5.7h-5.7z"/>
<path fill="#e4001b" d="M942.0 175.4h5.7v5.7h-5.7zM952.7 186.0h5.7v5.7h-5.7z"/>
<path fill="#fc0003" d="M947.3 175.4h5.7v5.7h-5.7zM952.7 180.7h5.7v5.7h-5.7z"/>
<path fill="#f90006" d="M984.6 175.4h5.7v5.7h-5.7zM979.3 180.7h5.7v5.7h-5.7z"/>
<path fill="#e1001e" d="M989.9 175.4h5.7v5.7h-5.7zM979.3 186.0h5.7v5.7h-5.7z"/>
<path fill="#81007e" d="M1005.9 175.4h5.7v5.7h-5.7zM952.7 207.3h5.7v5.7h-5.7zM979.3 207.3h5.7v5.7h-5.7zM963.3 228.7h11.0v5.7h-11.0zM947.3 244.6h5.7v5.7h-5.7z"/>
<path fill="#d2002d" d="M942.0 180.7h5.7v5.7h-5.7zM947.3 186.0h5.7v5.7h-5.7zM984.6 186.0h5.7v5.7h-5.7z"/>
<path fill="#e70018" d="M984.6 180.7h5.7v5.7h-5.7z"/>
<path fill="#cf0030" d="M989.9 180.7h5.7v5.7h-5.7z"/>
<path fill="#960069" d="M1000.6 180.7h5.7v5.7h-5.7zM963.3 250.0h11.0v5.7h-11.0z"/>
<path fill="#870078" d="M931.4 186.0h5.7v5.7h-5.7zM952.7 239.3h5.7v5.7h-5.7zM952.7 250.0h5.7v5.7h-5.7zM979.3 250.0h5.7v5.7h-5.7z"/>
<path fill="#a2005d" d="M936.7 186.0h5.7v5.7h-5.7zM995.3 186.0h5.7v5.7h-5.7zM984.6 196.7h5.7v5.7h-5.7z"/>
<path fill="#bd0042" d="M942.0 186.0h5.7v5.7h-5.7zM958.0 196.7h5.7v5.7h-5.7zM974.0 196.7h5.7v5.7h-5.7z"/>
<path fill="#f60009" d="M963.3 186.0h11.0v5.7h-11.0z"/>
<path fill="#4b4bff" d="M888.8 191.4h5.7v5.7h-5.7zM899.4 265.9h5.7v5.7h-5.7zM1032.5 265.9h5.7v5.7h-5.7zM904.7 271.3h5.7v5.7h-5.7zM1027.2 271.3h5.7v5.7h-5.7zM952.7 297.9h5.7v5.7h-5.7zM979.3 297.9h5.7v5.7h-5.7zM974.0 308.6h5.7v5.7h-5.7zM942.0 313.9h5.7v5.7h-5.7zM989.9 313.9h5.7v5.7h-5.7zM926.0 324.6h5.7v5.7h-5.7zM1005.9 324.6h5.7v5.7h-5.7zM926.0 329.9h5.7v5.7h-5.7zM1005.9 329.9h5.7v5.7h-5.7zM936.7 335.2h5.7v5.7h-5.7zM995.3 335.2h5.7v5.7h-5.7z"/>
<path fill="#75008a" d="M931.4 191.4h5.7v5.7h-5.7zM947.3 207.3h5.7v5.7h-5.7zM963.3 218.0h5.7v5.7h-5.7zM958.0 223.3h5.7v5.7h-5.7zM979.3 255.3h5.7v5.7h-5.7z"/>
<path fill="#8d0072" d="M936.7 191.4h5.7v5.7h-5.7zM995.3 191.4h5.7v5.7h-5.7zM947.3 202.0h5.7v5.7h-5.7zM979.3 244.6h5.7v5.7h-5.7z"/>
<path fill="#db0024" d="M968.6 191.4h5.7v5.7h-5.7z"/>
<path fill="#72008d" d="M1000.6 191.4h5.7v5.7h-5.7zM984.6 207.3h5.7v5.7h-5.7zM958.0 212.7h5.7v5.7h-5.7zM974.0 212.7h5.7v5.7h-5.7zM968.6 218.0h5.7v5.7h-5.7zM974.0 223.3h5.7v5.7h-5.7zM952.7 228.7h5.7v5.7h-5.7zM979.3 228.7h5.7v5.7h-5.7z"/>
<path fill="#90006f" d="M942.0 196.7h5.7v5.7h-5.7zM989.9 196.7h5.7v5.7h-5.7zM963.3 207.3h11.0v5.7h-11.0zM958.0 239.3h5.7v5.7h-5.7zM974.0 239.3h5.7v5.7h-5.7zM952.7 244.6h5.7v5.7h-5.7zM974.0 250.0h5.7v5.7h-5.7z"/>
<path fill="#ab0054" d="M963.3 202.0h11.0v5.7h-11.0z"/>
<path fill="#6c0093" d="M952.7 212.7h5.7v5.7h-5.7zM952.7 223.3h5.7v5.7h-5.7zM984.6 234.0h5.7v5.7h-5.7zM958.0 260.6h5.7v5.7h-5.7zM974.0 260.6h5.7v5.7h-5.7z"/>
<path fill="#6f0090" d="M958.0 218.0h5.7v5.7h-5.7zM974.0 218.0h5.7v5.7h-5.7zM947.3 234.0h5.7v5.7h-5.7zM942.0 244.6h5.7v5.7h-5.7zM989.9 244.6h5.7v5.7h-5.7zM963.3 260.6h11.0v5.7h-11.0z"/>
<path fill="#5400ab" d="M942.0 228.7h5.7v5.7h-5.7zM989.9 228.7h5.7v5.7h-5.7zM995.3 250.0h5.7v5.7h-5.7z"/>
<path fill="#f9f9ff" d="M840.9 495.1h80.3v5.7h-80.3zM1016.6 495.1h43.0v5.7h-43.0zM840.9 500.4h218.7v5.7h-218.7zM840.9 505.7h218.7v5.7h-218.7zM894.1 511.0h149.5v5.7h-149.5zM947.3 516.4h43.0v5.7h-43.0z"/>
<path fill="#fcfcff" d="M840.9 511.0h53.6v5.7h-53.6zM1043.2 511.0h16.4v5.7h-16.4zM840.9 516.4h106.9v5.7h-106.9zM989.9 516.4h69.6v5.7h-69.6zM840.9 521.7h218.7v5.7h-218.7zM840.9 527.0h218.7v5.7h-218.7zM840.9 532.3h218.7v5.7h-218.7zM840.9 537.7h218.7v5.7h-218.7zM910.1 543.0h117.5v5.7h-117.5zM942.0 548.3h53.6v5.7h-53.6z"/>
<path fill="#ffffff" d="M840.9 543.0h69.6v5.7h-69.6zM1027.2 543.0h32.3v5.7h-32.3zM840.9 548.3h101.6v5.7h-101.6zM995.3 548.3h64.3v5.7h-64.3zM840.9 553.7h218.7v5.7h-218.7zM840.9 559.0h218.7v5.7h-218.7zM840.9 564.3h218.7v5.7h-218.7zM840.9 569.6h218.7v5.7h-218.7zM840.9 575.0h218.7v5.7h-218.7zM840.9 580.3h218.7v5.7h-218.7zM840.9 585.6h218.7v5.7h-218.7z"/>
</g></g>
<clipPath id="h2"><rect x="1048.5" y="47.5" width="184.0" height="532.8"/></clipPath>
<g clip-path="url(#h2)"><g filter="url(#bl)">
<path fill="#f9f9ff" d="M1038.0 36.8h5.7v5.7h-5.7zM1038.0 42.2h5.7v5.7h-5.7zM1038.0 47.5h5.7v5.7h-5.7zM1038.0 52.8h5.7v5.7h-5.7zM1038.0 58.2h10.9v5.7h-10.9zM1038.0 63.5h16.2v5.7h-16.2zM1043.2 68.8h163.4v5.7h-163.4zM1059.0 74.1h163.4v5.7h-163.4zM1211.5 79.5h21.4v5.7h-21.4zM1227.2 84.8h10.9v5.7h-10.9zM1232.5 90.1h10.9v5.7h-10.9zM1237.8 95.5h5.7v5.7h-5.7zM1237.8 447.1h5.7v5.7h-5.7zM1237.8 452.4h5.7v5.7h-5.7zM1232.5 457.8h10.9v5.7h-10.9zM1232.5 463.1h10.9v5.7h-10.9zM1227.2 468.4h10.9v5.7h-10.9zM1227.2 473.7h10.9v5.7h-10.9zM1222.0 479.1h16.2v5.7h-16.2zM1216.7 484.4h16.2v5.7h-16.2zM1195.7 489.7h31.9v5.7h-31.9zM1038.0 495.1h184.4v5.7h-184.4zM1038.0 500.4h179.1v5.7h-179.1zM1038.0 505.7h173.9v5.7h-173.9zM1038.0 511.0h5.7v5.7h-5.7z"/>
<path fill="#fcfcff" d="M1043.2 36.8h184.4v5.7h-184.4zM1043.2 42.2h184.4v5.7h-184.4zM1043.2 47.5h189.7v5.7h-189.7zM1043.2 52.8h189.7v5.7h-189.7zM1048.5 58.2h184.4v5.7h-184.4zM1053.8 63.5h184.4v5.7h-184.4zM1206.2 68.8h37.2v5.7h-37.2zM1222.0 74.1h21.4v5.7h-21.4zM1232.5 79.5h10.9v5.7h-10.9zM1237.8 84.8h5.7v5.7h-5.7zM1237.8 468.4h5.7v5.7h-5.7zM1237.8 473.7h5.7v5.7h-5.7zM1237.8 479.1h5.7v5.7h-5.7zM1232.5 484.4h10.9v5.7h-10.9zM1227.2 489.7h16.2v5.7h-16.2zM1222.0 495.1h21.4v5.7h-21.4zM1216.7 500.4h26.7v5.7h-26.7zM1211.5 505.7h31.9v5.7h-31.9zM1043.2 511.0h194.9v5.7h-194.9zM1038.0 516.4h200.2v5.7h-200.2zM1038.0 521.7h194.9v5.7h-194.9zM1038.0 527.0h189.7v5.7h-189.7zM1038.0 532.3h184.4v5.7h-184.4zM1038.0 537.7h163.4v5.7h-163.4z"/>
<path fill="#ffffff" d="M1227.2 36.8h16.2v5.7h-16.2zM1227.2 42.2h16.2v5.7h-16.2zM1232.5 47.5h10.9v5.7h-10.9zM1232.5 52.8h10.9v5.7h-10.9zM1232.5 58.2h10.9v5.7h-10.9zM1237.8 63.5h5.7v5.7h-5.7zM1237.8 511.0h5.7v5.7h-5.7zM1237.8 516.4h5.7v5.7h-5.7zM1232.5 521.7h10.9v5.7h-10.9zM1227.2 527.0h16.2v5.7h-16.2zM1222.0 532.3h21.4v5.7h-21.4zM1201.0 537.7h42.5v5.7h-42.5zM1038.0 543.0h205.4v5.7h-205.4zM1038.0 548.3h205.4v5.7h-205.4zM1038.0 553.7h205.4v5.7h-205.4zM1038.0 559.0h205.4v5.7h-205.4zM1038.0 564.3h205.4v5.7h-205.4zM1038.0 569.6h205.4v5.7h-205.4zM1038.0 575.0h205.4v5.7h-205.4zM1038.0 580.3h205.4v5.7h-205.4zM1038.0 585.6h205.4v5.7h-205.4z"/>
<path fill="#f6f6ff" d="M1038.0 68.8h5.7v5.7h-5.7zM1043.2 74.1h16.2v5.7h-16.2zM1064.3 79.5h147.6v5.7h-147.6zM1211.5 84.8h16.2v5.7h-16.2zM1222.0 90.1h10.9v5.7h-10.9zM1232.5 95.5h5.7v5.7h-5.7zM1232.5 100.8h10.9v5.7h-10.9zM1237.8 106.1h5.7v5.7h-5.7zM1237.8 111.4h5.7v5.7h-5.7zM1237.8 116.8h5.7v5.7h-5.7zM1237.8 431.1h5.7v5.7h-5.7zM1237.8 436.4h5.7v5.7h-5.7zM1232.5 441.8h10.9v5.7h-10.9zM1232.5 447.1h5.7v5.7h-5.7zM1232.5 452.4h5.7v5.7h-5.7zM1227.2 457.8h5.7v5.7h-5.7zM1222.0 463.1h10.9v5.7h-10.9zM1216.7 468.4h10.9v5.7h-10.9zM1206.2 473.7h21.4v5.7h-21.4zM1043.2 479.1h179.1v5.7h-179.1zM1038.0 484.4h179.1v5.7h-179.1zM1038.0 489.7h158.1v5.7h-158.1z"/>
<path fill="#f3f3ff" d="M1038.0 74.1h5.7v5.7h-5.7zM1048.5 79.5h16.2v5.7h-16.2zM1069.5 84.8h142.3v5.7h-142.3zM1211.5 90.1h10.9v5.7h-10.9zM1222.0 95.5h10.9v5.7h-10.9zM1227.2 100.8h5.7v5.7h-5.7zM1232.5 106.1h5.7v5.7h-5.7zM1232.5 111.4h5.7v5.7h-5.7zM1237.8 122.1h5.7v5.7h-5.7zM1237.8 127.4h5.7v5.7h-5.7zM1237.8 132.7h5.7v5.7h-5.7zM1237.8 420.5h5.7v5.7h-5.7zM1237.8 425.8h5.7v5.7h-5.7zM1232.5 431.1h5.7v5.7h-5.7zM1232.5 436.4h5.7v5.7h-5.7zM1227.2 441.8h5.7v5.7h-5.7zM1227.2 447.1h5.7v5.7h-5.7zM1222.0 452.4h10.9v5.7h-10.9zM1216.7 457.8h10.9v5.7h-10.9zM1206.2 463.1h16.2v5.7h-16.2zM1038.0 468.4h179.1v5.7h-179.1zM1038.0 473.7h168.6v5.7h-168.6zM1038.0 479.1h5.7v5.7h-5.7z"/>
<path fill="#ededff" d="M1038.0 79.5h5.7v5.7h-5.7zM1053.8 84.8h5.7v5.7h-5.7zM1064.3 90.1h16.2v5.7h-16.2zM1090.6 95.5h121.3v5.7h-121.3zM1216.7 100.8h5.7v5.7h-5.7zM1222.0 106.1h5.7v5.7h-5.7zM1227.2 111.4h5.7v5.7h-5.7zM1227.2 116.8h5.7v5.7h-5.7zM1227.2 122.1h5.7v5.7h-5.7zM1227.2 127.4h5.7v5.7h-5.7zM1232.5 138.1h5.7v5.7h-5.7zM1237.8 143.4h5.7v5.7h-5.7zM1237.8 356.5h5.7v5.7h-5.7zM1237.8 388.5h5.7v5.7h-5.7zM1237.8 393.8h5.7v5.7h-5.7zM1237.8 399.1h5.7v5.7h-5.7zM1232.5 415.1h5.7v5.7h-5.7zM1227.2 425.8h5.7v5.7h-5.7zM1227.2 431.1h5.7v5.7h-5.7zM1222.0 436.4h5.7v5.7h-5.7zM1216.7 441.8h5.7v5.7h-5.7zM1206.2 447.1h10.9v5.7h-10.9zM1038.0 452.4h173.9v5.7h-173.9zM1038.0 457.8h152.9v5.7h-152.9z"/>
<path fill="#f0f0ff" d="M1043.2 79.5h5.7v5.7h-5.7zM1059.0 84.8h10.9v5.7h-10.9zM1080.0 90.1h131.8v5.7h-131.8zM1211.5 95.5h10.9v5.7h-10.9zM1222.0 100.8h5.7v5.7h-5.7zM1227.2 106.1h5.7v5.7h-5.7zM1232.5 116.8h5.7v5.7h-5.7zM1232.5 122.1h5.7v5.7h-5.7zM1232.5 127.4h5.7v5.7h-5.7zM1232.5 132.7h5.7v5.7h-5.7zM1237.8 138.1h5.7v5.7h-5.7zM1237.8 361.9h5.7v5.7h-5.7zM1237.8 367.2h5.7v5.7h-5.7zM1237.8 372.5h5.7v5.7h-5.7zM1237.8 377.8h5.7v5.7h-5.7zM1237.8 383.2h5.7v5.7h-5.7zM1237.8 404.5h5.7v5.7h-5.7zM1237.8 409.8h5.7v5.7h-5.7zM1237.8 415.1h5.7v5.7h-5.7zM1232.5 420.5h5.7v5.7h-5.7zM1232.5 425.8h5.7v5.7h-5.7zM1227.2 436.4h5.7v5.7h-5.7zM1222.0 441.8h5.7v5.7h-5.7zM1216.7 447.1h10.9v5.7h-10.9zM1211.5 452.4h10.9v5.7h-10.9zM1190.4 457.8h26.7v5.7h-26.7zM1038.0 463.1h168.6v5.7h-168.6z"/>
<path fill="#e4e4ff" d="M1038.0 84.8h5.7v5.7h-5.7zM1048.5 90.1h5.7v5.7h-5.7zM1059.0 95.5h5.7v5.7h-5.7zM1064.3 100.8h10.9v5.7h-10.9zM1080.0 106.1h121.3v5.7h-121.3zM1206.2 111.4h10.9v5.7h-10.9zM1211.5 116.8h5.7v5.7h-5.7zM1211.5 122.1h10.9v5.7h-10.9zM1216.7 127.4h5.7v5.7h-5.7zM1216.7 132.7h5.7v5.7h-5.7zM1237.8 154.1h5.7v5.7h-5.7zM1232.5 297.9h5.7v5.7h-5.7zM1237.8 308.6h5.7v5.7h-5.7zM1232.5 356.5h5.7v5.7h-5.7zM1227.2 361.9h5.7v5.7h-5.7zM1227.2 367.2h5.7v5.7h-5.7zM1227.2 383.2h5.7v5.7h-5.7zM1227.2 404.5h5.7v5.7h-5.7zM1227.2 409.8h5.7v5.7h-5.7zM1222.0 415.1h5.7v5.7h-5.7zM1211.5 425.8h10.9v5.7h-10.9zM1195.7 431.1h16.2v5.7h-16.2zM1038.0 436.4h152.9v5.7h-152.9z"/>
<path fill="#e7e7ff" d="M1043.2 84.8h5.7v5.7h-5.7zM1053.8 90.1h5.7v5.7h-5.7zM1064.3 95.5h5.7v5.7h-5.7zM1074.8 100.8h121.3v5.7h-121.3zM1201.0 106.1h16.2v5.7h-16.2zM1216.7 111.4h5.7v5.7h-5.7zM1216.7 116.8h5.7v5.7h-5.7zM1222.0 127.4h5.7v5.7h-5.7zM1222.0 132.7h5.7v5.7h-5.7zM1227.2 138.1h5.7v5.7h-5.7zM1232.5 143.4h5.7v5.7h-5.7zM1237.8 287.3h5.7v5.7h-5.7zM1237.8 303.2h5.7v5.7h-5.7zM1237.8 351.2h5.7v5.7h-5.7zM1227.2 372.5h5.7v5.7h-5.7zM1227.2 377.8h5.7v5.7h-5.7zM1232.5 393.8h5.7v5.7h-5.7zM1232.5 399.1h5.7v5.7h-5.7zM1227.2 415.1h5.7v5.7h-5.7zM1222.0 420.5h5.7v5.7h-5.7zM1211.5 431.1h10.9v5.7h-10.9zM1190.4 436.4h21.4v5.7h-21.4zM1038.0 441.8h163.4v5.7h-163.4z"/>
<path fill="#eaeaff" d="M1048.5 84.8h5.7v5.7h-5.7zM1059.0 90.1h5.7v5.7h-5.7zM1069.5 95.5h21.4v5.7h-21.4zM1195.7 100.8h21.4v5.7h-21.4zM1216.7 106.1h5.7v5.7h-5.7zM1222.0 111.4h5.7v5.7h-5.7zM1222.0 116.8h5.7v5.7h-5.7zM1222.0 122.1h5.7v5.7h-5.7zM1227.2 132.7h5.7v5.7h-5.7zM1237.8 148.7h5.7v5.7h-5.7zM1237.8 292.6h5.7v5.7h-5.7zM1237.8 297.9h5.7v5.7h-5.7zM1232.5 361.9h5.7v5.7h-5.7zM1232.5 367.2h5.7v5.7h-5.7zM1232.5 372.5h5.7v5.7h-5.7zM1232.5 377.8h5.7v5.7h-5.7zM1232.5 383.2h5.7v5.7h-5.7zM1232.5 388.5h5.7v5.7h-5.7zM1232.5 404.5h5.7v5.7h-5.7zM1232.5 409.8h5.7v5.7h-5.7zM1227.2 420.5h5.7v5.7h-5.7zM1222.0 425.8h5.7v5.7h-5.7zM1222.0 431.1h5.7v5.7h-5.7zM1211.5 436.4h10.9v5.7h-10.9zM1201.0 441.8h16.2v5.7h-16.2zM1038.0 447.1h168.6v5.7h-168.6z"/>
<path fill="#d8d8ff" d="M1038.0 90.1h5.7v5.7h-5.7zM1043.2 95.5h5.7v5.7h-5.7zM1048.5 100.8h5.7v5.7h-5.7zM1053.8 106.1h5.7v5.7h-5.7zM1059.0 116.8h5.7v5.7h-5.7zM1064.3 122.1h5.7v5.7h-5.7zM1069.5 127.4h5.7v5.7h-5.7zM1080.0 132.7h10.9v5.7h-10.9zM1206.2 138.1h5.7v5.7h-5.7zM1232.5 159.4h5.7v5.7h-5.7zM1237.8 175.4h5.7v5.7h-5.7zM1237.8 180.7h5.7v5.7h-5.7zM1237.8 186.0h5.7v5.7h-5.7zM1237.8 191.4h5.7v5.7h-5.7zM1237.8 255.3h5.7v5.7h-5.7zM1237.8 260.6h5.7v5.7h-5.7zM1237.8 265.9h5.7v5.7h-5.7zM1232.5 281.9h5.7v5.7h-5.7zM1227.2 303.2h5.7v5.7h-5.7zM1232.5 313.9h5.7v5.7h-5.7zM1237.8 329.9h5.7v5.7h-5.7zM1232.5 345.9h5.7v5.7h-5.7zM1222.0 356.5h5.7v5.7h-5.7zM1216.7 361.9h5.7v5.7h-5.7zM1211.5 367.2h5.7v5.7h-5.7zM1211.5 372.5h5.7v5.7h-5.7zM1211.5 377.8h5.7v5.7h-5.7zM1211.5 383.2h5.7v5.7h-5.7zM1216.7 388.5h5.7v5.7h-5.7zM1216.7 404.5h5.7v5.7h-5.7zM1211.5 409.8h5.7v5.7h-5.7zM1190.4 415.1h16.2v5.7h-16.2z"/>
<path fill="#dedeff" d="M1043.2 90.1h5.7v5.7h-5.7zM1048.5 95.5h5.7v5.7h-5.7zM1053.8 100.8h5.7v5.7h-5.7zM1059.0 106.1h10.9v5.7h-10.9zM1069.5 111.4h10.9v5.7h-10.9zM1074.8 116.8h116.1v5.7h-116.1zM1080.0 122.1h121.3v5.7h-121.3zM1101.1 127.4h105.5v5.7h-105.5zM1201.0 132.7h10.9v5.7h-10.9zM1216.7 138.1h5.7v5.7h-5.7zM1237.8 164.7h5.7v5.7h-5.7zM1237.8 207.3h5.7v5.7h-5.7zM1237.8 212.7h5.7v5.7h-5.7zM1237.8 218.0h5.7v5.7h-5.7zM1237.8 239.3h5.7v5.7h-5.7zM1237.8 276.6h5.7v5.7h-5.7zM1232.5 287.3h5.7v5.7h-5.7zM1232.5 303.2h5.7v5.7h-5.7zM1237.8 319.2h5.7v5.7h-5.7zM1237.8 340.5h5.7v5.7h-5.7zM1232.5 351.2h5.7v5.7h-5.7zM1227.2 356.5h5.7v5.7h-5.7zM1222.0 361.9h5.7v5.7h-5.7zM1222.0 383.2h5.7v5.7h-5.7zM1222.0 388.5h5.7v5.7h-5.7zM1222.0 404.5h5.7v5.7h-5.7zM1216.7 415.1h5.7v5.7h-5.7zM1206.2 420.5h10.9v5.7h-10.9zM1038.0 425.8h163.4v5.7h-163.4z"/>
<path fill="#cfcfff" d="M1038.0 95.5h5.7v5.7h-5.7zM1048.5 116.8h5.7v5.7h-5.7zM1053.8 127.4h5.7v5.7h-5.7zM1059.0 132.7h5.7v5.7h-5.7zM1074.8 138.1h10.9v5.7h-10.9zM1206.2 143.4h5.7v5.7h-5.7zM1232.5 170.0h5.7v5.7h-5.7zM1232.5 202.0h5.7v5.7h-5.7zM1232.5 244.6h5.7v5.7h-5.7zM1232.5 250.0h5.7v5.7h-5.7zM1232.5 271.3h5.7v5.7h-5.7zM1227.2 281.9h5.7v5.7h-5.7zM1216.7 297.9h5.7v5.7h-5.7zM1222.0 303.2h5.7v5.7h-5.7zM1232.5 324.6h5.7v5.7h-5.7zM1227.2 345.9h5.7v5.7h-5.7zM1222.0 351.2h5.7v5.7h-5.7zM1080.0 361.9h121.3v5.7h-121.3zM1053.8 367.2h21.4v5.7h-21.4zM1048.5 372.5h16.2v5.7h-16.2zM1048.5 377.8h16.2v5.7h-16.2zM1059.0 383.2h126.6v5.7h-126.6zM1195.7 388.5h10.9v5.7h-10.9zM1206.2 393.8h5.7v5.7h-5.7zM1206.2 399.1h5.7v5.7h-5.7zM1185.2 404.5h21.4v5.7h-21.4zM1038.0 409.8h10.9v5.7h-10.9z"/>
<path fill="#e1e1ff" d="M1053.8 95.5h5.7v5.7h-5.7zM1059.0 100.8h5.7v5.7h-5.7zM1069.5 106.1h10.9v5.7h-10.9zM1080.0 111.4h126.6v5.7h-126.6zM1190.4 116.8h21.4v5.7h-21.4zM1201.0 122.1h10.9v5.7h-10.9zM1206.2 127.4h10.9v5.7h-10.9zM1211.5 132.7h5.7v5.7h-5.7zM1222.0 138.1h5.7v5.7h-5.7zM1227.2 143.4h5.7v5.7h-5.7zM1232.5 148.7h5.7v5.7h-5.7zM1237.8 159.4h5.7v5.7h-5.7zM1237.8 223.3h5.7v5.7h-5.7zM1237.8 228.7h5.7v5.7h-5.7zM1237.8 234.0h5.7v5.7h-5.7zM1237.8 281.9h5.7v5.7h-5.7zM1232.5 292.6h5.7v5.7h-5.7zM1237.8 313.9h5.7v5.7h-5.7zM1237.8 345.9h5.7v5.7h-5.7zM1222.0 367.2h5.7v5.7h-5.7zM1222.0 372.5h5.7v5.7h-5.7zM1222.0 377.8h5.7v5.7h-5.7zM1227.2 388.5h5.7v5.7h-5.7zM1227.2 393.8h5.7v5.7h-5.7zM1227.2 399.1h5.7v5.7h-5.7zM1222.0 409.8h5.7v5.7h-5.7zM1216.7 420.5h5.7v5.7h-5.7zM1201.0 425.8h10.9v5.7h-10.9zM1038.0 431.1h158.1v5.7h-158.1z"/>
<path fill="#c9c9ff" d="M1038.0 100.8h5.7v5.7h-5.7zM1043.2 111.4h5.7v5.7h-5.7zM1043.2 116.8h5.7v5.7h-5.7zM1048.5 127.4h5.7v5.7h-5.7zM1053.8 132.7h5.7v5.7h-5.7zM1064.3 138.1h5.7v5.7h-5.7zM1095.8 143.4h100.3v5.7h-100.3zM1222.0 154.1h5.7v5.7h-5.7zM1232.5 180.7h5.7v5.7h-5.7zM1232.5 186.0h5.7v5.7h-5.7zM1227.2 212.7h5.7v5.7h-5.7zM1227.2 218.0h5.7v5.7h-5.7zM1227.2 223.3h5.7v5.7h-5.7zM1227.2 228.7h5.7v5.7h-5.7zM1227.2 234.0h5.7v5.7h-5.7zM1232.5 260.6h5.7v5.7h-5.7zM1232.5 265.9h5.7v5.7h-5.7zM1211.5 292.6h5.7v5.7h-5.7zM1211.5 297.9h5.7v5.7h-5.7zM1216.7 303.2h5.7v5.7h-5.7zM1222.0 308.6h5.7v5.7h-5.7zM1206.2 356.5h5.7v5.7h-5.7zM1053.8 361.9h5.7v5.7h-5.7zM1038.0 367.2h5.7v5.7h-5.7zM1038.0 383.2h5.7v5.7h-5.7zM1043.2 388.5h16.2v5.7h-16.2zM1059.0 393.8h137.1v5.7h-137.1zM1053.8 399.1h142.3v5.7h-142.3zM1038.0 404.5h5.7v5.7h-5.7z"/>
<path fill="#d2d2ff" d="M1043.2 100.8h5.7v5.7h-5.7zM1048.5 106.1h5.7v5.7h-5.7zM1048.5 111.4h5.7v5.7h-5.7zM1053.8 122.1h5.7v5.7h-5.7zM1059.0 127.4h5.7v5.7h-5.7zM1064.3 132.7h5.7v5.7h-5.7zM1085.3 138.1h16.2v5.7h-16.2zM1211.5 143.4h5.7v5.7h-5.7zM1222.0 148.7h5.7v5.7h-5.7zM1227.2 154.1h5.7v5.7h-5.7zM1232.5 164.7h5.7v5.7h-5.7zM1232.5 207.3h5.7v5.7h-5.7zM1232.5 239.3h5.7v5.7h-5.7zM1232.5 276.6h5.7v5.7h-5.7zM1222.0 292.6h5.7v5.7h-5.7zM1227.2 308.6h5.7v5.7h-5.7zM1232.5 319.2h5.7v5.7h-5.7zM1232.5 340.5h5.7v5.7h-5.7zM1216.7 356.5h5.7v5.7h-5.7zM1201.0 361.9h10.9v5.7h-10.9zM1074.8 367.2h126.6v5.7h-126.6zM1064.3 372.5h131.8v5.7h-131.8zM1064.3 377.8h131.8v5.7h-131.8zM1185.2 383.2h21.4v5.7h-21.4zM1206.2 388.5h5.7v5.7h-5.7zM1211.5 393.8h5.7v5.7h-5.7zM1211.5 399.1h5.7v5.7h-5.7zM1206.2 404.5h5.7v5.7h-5.7zM1048.5 409.8h152.9v5.7h-152.9z"/>
<path fill="#c3c3ff" d="M1038.0 106.1h5.7v5.7h-5.7zM1048.5 132.7h5.7v5.7h-5.7zM1059.0 138.1h5.7v5.7h-5.7zM1080.0 143.4h5.7v5.7h-5.7zM1206.2 148.7h5.7v5.7h-5.7zM1216.7 154.1h5.7v5.7h-5.7zM1222.0 159.4h5.7v5.7h-5.7zM1227.2 170.0h5.7v5.7h-5.7zM1227.2 202.0h5.7v5.7h-5.7zM1227.2 244.6h5.7v5.7h-5.7zM1222.0 281.9h5.7v5.7h-5.7zM1201.0 292.6h10.9v5.7h-10.9zM1201.0 297.9h5.7v5.7h-5.7zM1211.5 303.2h5.7v5.7h-5.7zM1222.0 313.9h5.7v5.7h-5.7zM1222.0 345.9h5.7v5.7h-5.7zM1069.5 356.5h31.9v5.7h-31.9zM1038.0 361.9h5.7v5.7h-5.7z"/>
<path fill="#ccccff" d="M1043.2 106.1h5.7v5.7h-5.7zM1048.5 122.1h5.7v5.7h-5.7zM1069.5 138.1h5.7v5.7h-5.7zM1195.7 143.4h10.9v5.7h-10.9zM1216.7 148.7h5.7v5.7h-5.7zM1227.2 159.4h5.7v5.7h-5.7zM1232.5 175.4h5.7v5.7h-5.7zM1232.5 191.4h5.7v5.7h-5.7zM1232.5 196.7h5.7v5.7h-5.7zM1232.5 255.3h5.7v5.7h-5.7zM1222.0 287.3h5.7v5.7h-5.7zM1216.7 292.6h5.7v5.7h-5.7zM1227.2 313.9h5.7v5.7h-5.7zM1232.5 329.9h5.7v5.7h-5.7zM1232.5 335.2h5.7v5.7h-5.7zM1211.5 356.5h5.7v5.7h-5.7zM1059.0 361.9h21.4v5.7h-21.4zM1043.2 367.2h10.9v5.7h-10.9zM1038.0 372.5h10.9v5.7h-10.9zM1038.0 377.8h10.9v5.7h-10.9zM1043.2 383.2h16.2v5.7h-16.2zM1059.0 388.5h137.1v5.7h-137.1zM1195.7 393.8h10.9v5.7h-10.9zM1195.7 399.1h10.9v5.7h-10.9zM1043.2 404.5h142.3v5.7h-142.3z"/>
<path fill="#c0c0ff" d="M1038.0 111.4h5.7v5.7h-5.7zM1038.0 116.8h5.7v5.7h-5.7zM1043.2 127.4h5.7v5.7h-5.7zM1074.8 143.4h5.7v5.7h-5.7zM1195.7 148.7h10.9v5.7h-10.9zM1227.2 196.7h5.7v5.7h-5.7zM1222.0 223.3h5.7v5.7h-5.7zM1222.0 228.7h5.7v5.7h-5.7zM1227.2 250.0h5.7v5.7h-5.7zM1227.2 271.3h5.7v5.7h-5.7zM1211.5 287.3h5.7v5.7h-5.7zM1101.1 292.6h100.3v5.7h-100.3zM1090.6 297.9h110.8v5.7h-110.8zM1216.7 308.6h5.7v5.7h-5.7zM1227.2 324.6h5.7v5.7h-5.7zM1227.2 335.2h5.7v5.7h-5.7zM1211.5 351.2h5.7v5.7h-5.7zM1053.8 356.5h16.2v5.7h-16.2z"/>
<path fill="#d5d5ff" d="M1053.8 111.4h5.7v5.7h-5.7zM1053.8 116.8h5.7v5.7h-5.7zM1059.0 122.1h5.7v5.7h-5.7zM1064.3 127.4h5.7v5.7h-5.7zM1069.5 132.7h10.9v5.7h-10.9zM1101.1 138.1h105.5v5.7h-105.5zM1216.7 143.4h5.7v5.7h-5.7zM1232.5 212.7h5.7v5.7h-5.7zM1232.5 218.0h5.7v5.7h-5.7zM1232.5 223.3h5.7v5.7h-5.7zM1232.5 228.7h5.7v5.7h-5.7zM1232.5 234.0h5.7v5.7h-5.7zM1227.2 287.3h5.7v5.7h-5.7zM1222.0 297.9h5.7v5.7h-5.7zM1227.2 351.2h5.7v5.7h-5.7zM1211.5 361.9h5.7v5.7h-5.7zM1201.0 367.2h10.9v5.7h-10.9zM1195.7 372.5h16.2v5.7h-16.2zM1195.7 377.8h16.2v5.7h-16.2zM1206.2 383.2h5.7v5.7h-5.7zM1211.5 388.5h5.7v5.7h-5.7zM1216.7 393.8h5.7v5.7h-5.7zM1216.7 399.1h5.7v5.7h-5.7zM1211.5 404.5h5.7v5.7h-5.7zM1201.0 409.8h10.9v5.7h-10.9zM1038.0 415.1h152.9v5.7h-152.9z"/>
<path fill="#dbdbff" d="M1059.0 111.4h10.9v5.7h-10.9zM1064.3 116.8h10.9v5.7h-10.9zM1069.5 122.1h10.9v5.7h-10.9zM1074.8 127.4h26.7v5.7h-26.7zM1090.6 132.7h110.8v5.7h-110.8zM1211.5 138.1h5.7v5.7h-5.7zM1222.0 143.4h5.7v5.7h-5.7zM1227.2 148.7h5.7v5.7h-5.7zM1232.5 154.1h5.7v5.7h-5.7zM1237.8 170.0h5.7v5.7h-5.7zM1237.8 196.7h5.7v5.7h-5.7zM1237.8 202.0h5.7v5.7h-5.7zM1237.8 244.6h5.7v5.7h-5.7zM1237.8 250.0h5.7v5.7h-5.7zM1237.8 271.3h5.7v5.7h-5.7zM1227.2 292.6h5.7v5.7h-5.7zM1227.2 297.9h5.7v5.7h-5.7zM1232.5 308.6h5.7v5.7h-5.7zM1237.8 324.6h5.7v5.7h-5.7zM1237.8 335.2h5.7v5.7h-5.7zM1216.7 367.2h5.7v5.7h-5.7zM1216.7 372.5h5.7v5.7h-5.7zM1216.7 377.8h5.7v5.7h-5.7zM1216.7 383.2h5.7v5.7h-5.7zM1222.0 393.8h5.7v5.7h-5.7zM1222.0 399.1h5.7v5.7h-5.7zM1216.7 409.8h5.7v5.7h-5.7zM1206.2 415.1h10.9v5.7h-10.9zM1038.0 420.5h168.6v5.7h-168.6z"/>
<path fill="#bdbdff" d="M1038.0 122.1h5.7v5.7h-5.7zM1053.8 138.1h5.7v5.7h-5.7zM1069.5 143.4h5.7v5.7h-5.7zM1101.1 148.7h95.0v5.7h-95.0zM1211.5 154.1h5.7v5.7h-5.7zM1227.2 175.4h5.7v5.7h-5.7zM1227.2 191.4h5.7v5.7h-5.7zM1222.0 212.7h5.7v5.7h-5.7zM1222.0 218.0h5.7v5.7h-5.7zM1222.0 234.0h5.7v5.7h-5.7zM1227.2 255.3h5.7v5.7h-5.7zM1227.2 260.6h5.7v5.7h-5.7zM1227.2 265.9h5.7v5.7h-5.7zM1222.0 276.6h5.7v5.7h-5.7zM1080.0 292.6h21.4v5.7h-21.4zM1074.8 297.9h16.2v5.7h-16.2zM1201.0 303.2h10.9v5.7h-10.9zM1222.0 319.2h5.7v5.7h-5.7zM1227.2 329.9h5.7v5.7h-5.7zM1206.2 351.2h5.7v5.7h-5.7zM1048.5 356.5h5.7v5.7h-5.7z"/>
<path fill="#c6c6ff" d="M1043.2 122.1h5.7v5.7h-5.7zM1085.3 143.4h10.9v5.7h-10.9zM1211.5 148.7h5.7v5.7h-5.7zM1227.2 164.7h5.7v5.7h-5.7zM1227.2 207.3h5.7v5.7h-5.7zM1227.2 239.3h5.7v5.7h-5.7zM1227.2 276.6h5.7v5.7h-5.7zM1216.7 287.3h5.7v5.7h-5.7zM1206.2 297.9h5.7v5.7h-5.7zM1227.2 319.2h5.7v5.7h-5.7zM1227.2 340.5h5.7v5.7h-5.7zM1216.7 351.2h5.7v5.7h-5.7zM1101.1 356.5h105.5v5.7h-105.5zM1043.2 361.9h10.9v5.7h-10.9zM1038.0 388.5h5.7v5.7h-5.7zM1038.0 393.8h21.4v5.7h-21.4zM1038.0 399.1h16.2v5.7h-16.2z"/>
<path fill="#b7b7ff" d="M1038.0 127.4h5.7v5.7h-5.7zM1048.5 138.1h5.7v5.7h-5.7zM1080.0 148.7h5.7v5.7h-5.7zM1206.2 154.1h5.7v5.7h-5.7zM1222.0 170.0h5.7v5.7h-5.7zM1222.0 202.0h5.7v5.7h-5.7zM1216.7 228.7h5.7v5.7h-5.7zM1222.0 244.6h5.7v5.7h-5.7zM1190.4 287.3h16.2v5.7h-16.2zM1064.3 292.6h5.7v5.7h-5.7zM1059.0 297.9h5.7v5.7h-5.7zM1080.0 303.2h100.3v5.7h-100.3zM1206.2 308.6h5.7v5.7h-5.7zM1080.0 351.2h116.1v5.7h-116.1zM1038.0 356.5h5.7v5.7h-5.7z"/>
<path fill="#b1b1ff" d="M1038.0 132.7h5.7v5.7h-5.7zM1069.5 148.7h5.7v5.7h-5.7zM1101.1 154.1h95.0v5.7h-95.0zM1211.5 159.4h5.7v5.7h-5.7zM1216.7 164.7h5.7v5.7h-5.7zM1222.0 175.4h5.7v5.7h-5.7zM1222.0 191.4h5.7v5.7h-5.7zM1216.7 207.3h5.7v5.7h-5.7zM1216.7 239.3h5.7v5.7h-5.7zM1222.0 255.3h5.7v5.7h-5.7zM1216.7 276.6h5.7v5.7h-5.7zM1206.2 281.9h5.7v5.7h-5.7zM1074.8 287.3h10.9v5.7h-10.9zM1053.8 292.6h5.7v5.7h-5.7zM1059.0 303.2h10.9v5.7h-10.9zM1179.9 308.6h21.4v5.7h-21.4zM1211.5 313.9h5.7v5.7h-5.7zM1216.7 319.2h5.7v5.7h-5.7zM1222.0 329.9h5.7v5.7h-5.7zM1222.0 335.2h5.7v5.7h-5.7zM1216.7 340.5h5.7v5.7h-5.7zM1206.2 345.9h5.7v5.7h-5.7zM1053.8 351.2h10.9v5.7h-10.9z"/>
<path fill="#babaff" d="M1043.2 132.7h5.7v5.7h-5.7zM1064.3 143.4h5.7v5.7h-5.7zM1085.3 148.7h16.2v5.7h-16.2zM1216.7 159.4h5.7v5.7h-5.7zM1222.0 164.7h5.7v5.7h-5.7zM1227.2 180.7h5.7v5.7h-5.7zM1227.2 186.0h5.7v5.7h-5.7zM1222.0 207.3h5.7v5.7h-5.7zM1222.0 239.3h5.7v5.7h-5.7zM1216.7 281.9h5.7v5.7h-5.7zM1206.2 287.3h5.7v5.7h-5.7zM1069.5 292.6h10.9v5.7h-10.9zM1064.3 297.9h10.9v5.7h-10.9zM1179.9 303.2h21.4v5.7h-21.4zM1211.5 308.6h5.7v5.7h-5.7zM1216.7 313.9h5.7v5.7h-5.7zM1222.0 340.5h5.7v5.7h-5.7zM1216.7 345.9h5.7v5.7h-5.7zM1195.7 351.2h10.9v5.7h-10.9zM1043.2 356.5h5.7v5.7h-5.7z"/>
<path fill="#a2a2ff" d="M1038.0 138.1h5.7v5.7h-5.7zM1069.5 154.1h5.7v5.7h-5.7zM1090.6 159.4h5.7v5.7h-5.7zM1211.5 170.0h5.7v5.7h-5.7zM1216.7 180.7h5.7v5.7h-5.7zM1216.7 186.0h5.7v5.7h-5.7zM1206.2 207.3h5.7v5.7h-5.7zM1201.0 212.7h5.7v5.7h-5.7zM1190.4 218.0h10.9v5.7h-10.9zM1111.6 223.3h89.8v5.7h-89.8zM1101.1 228.7h95.0v5.7h-95.0zM1185.2 234.0h16.2v5.7h-16.2zM1206.2 239.3h5.7v5.7h-5.7zM1216.7 260.6h5.7v5.7h-5.7zM1216.7 265.9h5.7v5.7h-5.7zM1211.5 271.3h5.7v5.7h-5.7zM1201.0 276.6h5.7v5.7h-5.7zM1069.5 281.9h10.9v5.7h-10.9zM1038.0 303.2h5.7v5.7h-5.7zM1048.5 308.6h5.7v5.7h-5.7zM1069.5 313.9h10.9v5.7h-10.9zM1201.0 319.2h5.7v5.7h-5.7zM1211.5 324.6h5.7v5.7h-5.7zM1206.2 340.5h5.7v5.7h-5.7zM1053.8 345.9h10.9v5.7h-10.9z"/>
<path fill="#aeaeff" d="M1043.2 138.1h5.7v5.7h-5.7zM1053.8 143.4h5.7v5.7h-5.7zM1064.3 148.7h5.7v5.7h-5.7zM1085.3 154.1h16.2v5.7h-16.2zM1206.2 159.4h5.7v5.7h-5.7zM1222.0 180.7h5.7v5.7h-5.7zM1222.0 186.0h5.7v5.7h-5.7zM1211.5 218.0h5.7v5.7h-5.7zM1211.5 223.3h5.7v5.7h-5.7zM1211.5 228.7h5.7v5.7h-5.7zM1211.5 234.0h5.7v5.7h-5.7zM1216.7 244.6h5.7v5.7h-5.7zM1222.0 260.6h5.7v5.7h-5.7zM1222.0 265.9h5.7v5.7h-5.7zM1201.0 281.9h5.7v5.7h-5.7zM1069.5 287.3h5.7v5.7h-5.7zM1048.5 297.9h5.7v5.7h-5.7zM1053.8 303.2h5.7v5.7h-5.7zM1080.0 308.6h100.3v5.7h-100.3zM1206.2 313.9h5.7v5.7h-5.7zM1201.0 345.9h5.7v5.7h-5.7zM1048.5 351.2h5.7v5.7h-5.7z"/>
<path fill="#9090ff" d="M1038.0 143.4h5.7v5.7h-5.7zM1053.8 154.1h5.7v5.7h-5.7zM1064.3 159.4h5.7v5.7h-5.7zM1074.8 164.7h5.7v5.7h-5.7zM1090.6 170.0h10.9v5.7h-10.9zM1195.7 175.4h5.7v5.7h-5.7zM1201.0 191.4h5.7v5.7h-5.7zM1101.1 196.7h95.0v5.7h-95.0zM1085.3 202.0h5.7v5.7h-5.7zM1074.8 207.3h5.7v5.7h-5.7zM1064.3 218.0h5.7v5.7h-5.7zM1064.3 223.3h5.7v5.7h-5.7zM1064.3 228.7h5.7v5.7h-5.7zM1080.0 244.6h10.9v5.7h-10.9zM1095.8 250.0h89.8v5.7h-89.8zM1195.7 255.3h5.7v5.7h-5.7zM1201.0 265.9h5.7v5.7h-5.7zM1085.3 271.3h26.7v5.7h-26.7zM1048.5 281.9h5.7v5.7h-5.7zM1038.0 313.9h5.7v5.7h-5.7zM1053.8 319.2h5.7v5.7h-5.7zM1074.8 324.6h16.2v5.7h-16.2zM1201.0 329.9h5.7v5.7h-5.7zM1122.1 335.2h79.3v5.7h-79.3zM1048.5 340.5h5.7v5.7h-5.7z"/>
<path fill="#9c9cff" d="M1043.2 143.4h5.7v5.7h-5.7zM1074.8 159.4h5.7v5.7h-5.7zM1111.6 164.7h84.5v5.7h-84.5zM1206.2 170.0h5.7v5.7h-5.7zM1211.5 175.4h5.7v5.7h-5.7zM1211.5 191.4h5.7v5.7h-5.7zM1169.4 207.3h31.9v5.7h-31.9zM1090.6 212.7h21.4v5.7h-21.4zM1085.3 218.0h10.9v5.7h-10.9zM1080.0 223.3h10.9v5.7h-10.9zM1080.0 228.7h10.9v5.7h-10.9zM1085.3 234.0h10.9v5.7h-10.9zM1111.6 239.3h84.5v5.7h-84.5zM1201.0 244.6h5.7v5.7h-5.7zM1211.5 255.3h5.7v5.7h-5.7zM1206.2 271.3h5.7v5.7h-5.7zM1090.6 276.6h100.3v5.7h-100.3zM1059.0 281.9h5.7v5.7h-5.7zM1043.2 308.6h5.7v5.7h-5.7zM1053.8 313.9h5.7v5.7h-5.7zM1085.3 319.2h105.5v5.7h-105.5zM1206.2 324.6h5.7v5.7h-5.7zM1211.5 329.9h5.7v5.7h-5.7zM1106.3 340.5h95.0v5.7h-95.0zM1043.2 345.9h5.7v5.7h-5.7z"/>
<path fill="#a5a5ff" d="M1048.5 143.4h5.7v5.7h-5.7zM1095.8 159.4h89.8v5.7h-89.8zM1206.2 164.7h5.7v5.7h-5.7zM1216.7 175.4h5.7v5.7h-5.7zM1216.7 191.4h5.7v5.7h-5.7zM1211.5 202.0h5.7v5.7h-5.7zM1206.2 212.7h5.7v5.7h-5.7zM1201.0 218.0h5.7v5.7h-5.7zM1201.0 223.3h5.7v5.7h-5.7zM1195.7 228.7h10.9v5.7h-10.9zM1201.0 234.0h5.7v5.7h-5.7zM1211.5 244.6h5.7v5.7h-5.7zM1216.7 255.3h5.7v5.7h-5.7zM1206.2 276.6h5.7v5.7h-5.7zM1080.0 281.9h10.9v5.7h-10.9zM1053.8 287.3h5.7v5.7h-5.7zM1043.2 292.6h5.7v5.7h-5.7zM1038.0 297.9h5.7v5.7h-5.7zM1043.2 303.2h5.7v5.7h-5.7zM1053.8 308.6h5.7v5.7h-5.7zM1080.0 313.9h105.5v5.7h-105.5zM1206.2 319.2h5.7v5.7h-5.7zM1216.7 329.9h5.7v5.7h-5.7zM1064.3 345.9h10.9v5.7h-10.9z"/>
<path fill="#b4b4ff" d="M1059.0 143.4h5.7v5.7h-5.7zM1074.8 148.7h5.7v5.7h-5.7zM1195.7 154.1h10.9v5.7h-10.9zM1222.0 196.7h5.7v5.7h-5.7zM1216.7 212.7h5.7v5.7h-5.7zM1216.7 218.0h5.7v5.7h-5.7zM1216.7 223.3h5.7v5.7h-5.7zM1216.7 234.0h5.7v5.7h-5.7zM1222.0 250.0h5.7v5.7h-5.7zM1222.0 271.3h5.7v5.7h-5.7zM1211.5 281.9h5.7v5.7h-5.7zM1085.3 287.3h105.5v5.7h-105.5zM1059.0 292.6h5.7v5.7h-5.7zM1053.8 297.9h5.7v5.7h-5.7zM1069.5 303.2h10.9v5.7h-10.9zM1201.0 308.6h5.7v5.7h-5.7zM1222.0 324.6h5.7v5.7h-5.7zM1211.5 345.9h5.7v5.7h-5.7zM1064.3 351.2h16.2v5.7h-16.2z"/>
<path fill="#7e7eff" d="M1038.0 148.7h5.7v5.7h-5.7zM1074.8 175.4h5.7v5.7h-5.7zM1080.0 180.7h5.7v5.7h-5.7zM1059.0 244.6h5.7v5.7h-5.7zM1064.3 255.3h5.7v5.7h-5.7zM1069.5 260.6h5.7v5.7h-5.7zM1043.2 324.6h5.7v5.7h-5.7zM1048.5 329.9h5.7v5.7h-5.7z"/>
<path fill="#8d8dff" d="M1043.2 148.7h5.7v5.7h-5.7zM1085.3 170.0h5.7v5.7h-5.7zM1106.3 175.4h89.8v5.7h-89.8zM1201.0 180.7h5.7v5.7h-5.7zM1201.0 186.0h5.7v5.7h-5.7zM1132.6 191.4h68.7v5.7h-68.7zM1090.6 196.7h10.9v5.7h-10.9zM1080.0 202.0h5.7v5.7h-5.7zM1069.5 207.3h5.7v5.7h-5.7zM1064.3 212.7h5.7v5.7h-5.7zM1064.3 234.0h5.7v5.7h-5.7zM1069.5 239.3h5.7v5.7h-5.7zM1074.8 244.6h5.7v5.7h-5.7zM1085.3 250.0h10.9v5.7h-10.9zM1106.3 255.3h89.8v5.7h-89.8zM1201.0 260.6h5.7v5.7h-5.7zM1195.7 265.9h5.7v5.7h-5.7zM1080.0 271.3h5.7v5.7h-5.7zM1059.0 276.6h5.7v5.7h-5.7zM1048.5 319.2h5.7v5.7h-5.7zM1064.3 324.6h10.9v5.7h-10.9zM1179.9 329.9h21.4v5.7h-21.4zM1074.8 335.2h47.7v5.7h-47.7zM1043.2 340.5h5.7v5.7h-5.7z"/>
<path fill="#9696ff" d="M1048.5 148.7h5.7v5.7h-5.7zM1069.5 159.4h5.7v5.7h-5.7zM1085.3 164.7h10.9v5.7h-10.9zM1190.4 170.0h10.9v5.7h-10.9zM1206.2 175.4h5.7v5.7h-5.7zM1206.2 191.4h5.7v5.7h-5.7zM1201.0 196.7h5.7v5.7h-5.7zM1111.6 202.0h84.5v5.7h-84.5zM1085.3 207.3h10.9v5.7h-10.9zM1074.8 212.7h5.7v5.7h-5.7zM1074.8 218.0h5.7v5.7h-5.7zM1069.5 223.3h5.7v5.7h-5.7zM1069.5 228.7h5.7v5.7h-5.7zM1074.8 234.0h5.7v5.7h-5.7zM1080.0 239.3h10.9v5.7h-10.9zM1101.1 244.6h95.0v5.7h-95.0zM1201.0 250.0h5.7v5.7h-5.7zM1206.2 255.3h5.7v5.7h-5.7zM1195.7 271.3h10.9v5.7h-10.9zM1069.5 276.6h10.9v5.7h-10.9zM1053.8 281.9h5.7v5.7h-5.7zM1064.3 319.2h5.7v5.7h-5.7zM1195.7 324.6h5.7v5.7h-5.7zM1206.2 329.9h5.7v5.7h-5.7zM1059.0 340.5h16.2v5.7h-16.2z"/>
<path fill="#9f9fff" d="M1053.8 148.7h5.7v5.7h-5.7zM1064.3 154.1h5.7v5.7h-5.7zM1080.0 159.4h10.9v5.7h-10.9zM1195.7 164.7h10.9v5.7h-10.9zM1211.5 196.7h5.7v5.7h-5.7zM1206.2 202.0h5.7v5.7h-5.7zM1201.0 207.3h5.7v5.7h-5.7zM1111.6 212.7h89.8v5.7h-89.8zM1095.8 218.0h95.0v5.7h-95.0zM1090.6 223.3h21.4v5.7h-21.4zM1090.6 228.7h10.9v5.7h-10.9zM1095.8 234.0h89.8v5.7h-89.8zM1195.7 239.3h10.9v5.7h-10.9zM1206.2 244.6h5.7v5.7h-5.7zM1211.5 250.0h5.7v5.7h-5.7zM1190.4 276.6h10.9v5.7h-10.9zM1064.3 281.9h5.7v5.7h-5.7zM1048.5 287.3h5.7v5.7h-5.7zM1038.0 292.6h5.7v5.7h-5.7zM1059.0 313.9h10.9v5.7h-10.9zM1190.4 319.2h10.9v5.7h-10.9zM1211.5 335.2h5.7v5.7h-5.7zM1201.0 340.5h5.7v5.7h-5.7zM1048.5 345.9h5.7v5.7h-5.7z"/>
<path fill="#a8a8ff" d="M1059.0 148.7h5.7v5.7h-5.7zM1074.8 154.1h5.7v5.7h-5.7zM1185.2 159.4h16.2v5.7h-16.2zM1211.5 164.7h5.7v5.7h-5.7zM1216.7 196.7h5.7v5.7h-5.7zM1211.5 207.3h5.7v5.7h-5.7zM1206.2 218.0h5.7v5.7h-5.7zM1206.2 223.3h5.7v5.7h-5.7zM1206.2 234.0h5.7v5.7h-5.7zM1211.5 239.3h5.7v5.7h-5.7zM1216.7 250.0h5.7v5.7h-5.7zM1090.6 281.9h100.3v5.7h-100.3zM1059.0 287.3h5.7v5.7h-5.7zM1059.0 308.6h10.9v5.7h-10.9zM1185.2 313.9h16.2v5.7h-16.2zM1216.7 335.2h5.7v5.7h-5.7zM1211.5 340.5h5.7v5.7h-5.7zM1074.8 345.9h116.1v5.7h-116.1zM1038.0 351.2h5.7v5.7h-5.7z"/>
<path fill="#6969ff" d="M1038.0 154.1h5.7v5.7h-5.7zM1059.0 180.7h5.7v5.7h-5.7zM1059.0 186.0h5.7v5.7h-5.7zM1048.5 202.0h5.7v5.7h-5.7zM1048.5 250.0h5.7v5.7h-5.7zM1048.5 255.3h5.7v5.7h-5.7zM1048.5 265.9h5.7v5.7h-5.7z"/>
<path fill="#7878ff" d="M1043.2 154.1h5.7v5.7h-5.7zM1069.5 186.0h5.7v5.7h-5.7zM1048.5 212.7h5.7v5.7h-5.7zM1048.5 234.0h5.7v5.7h-5.7zM1059.0 255.3h5.7v5.7h-5.7zM1059.0 265.9h5.7v5.7h-5.7zM1043.2 329.9h5.7v5.7h-5.7z"/>
<path fill="#8484ff" d="M1048.5 154.1h5.7v5.7h-5.7zM1064.3 164.7h5.7v5.7h-5.7zM1080.0 175.4h5.7v5.7h-5.7zM1090.6 180.7h10.9v5.7h-10.9zM1090.6 186.0h10.9v5.7h-10.9zM1080.0 191.4h5.7v5.7h-5.7zM1059.0 207.3h5.7v5.7h-5.7zM1053.8 218.0h5.7v5.7h-5.7zM1053.8 223.3h5.7v5.7h-5.7zM1053.8 228.7h5.7v5.7h-5.7zM1059.0 239.3h5.7v5.7h-5.7zM1064.3 244.6h5.7v5.7h-5.7zM1069.5 250.0h5.7v5.7h-5.7zM1074.8 255.3h5.7v5.7h-5.7zM1080.0 260.6h10.9v5.7h-10.9zM1074.8 265.9h10.9v5.7h-10.9zM1064.3 271.3h5.7v5.7h-5.7zM1048.5 276.6h5.7v5.7h-5.7zM1038.0 319.2h5.7v5.7h-5.7zM1048.5 324.6h5.7v5.7h-5.7zM1059.0 329.9h10.9v5.7h-10.9zM1048.5 335.2h5.7v5.7h-5.7z"/>
<path fill="#9999ff" d="M1059.0 154.1h5.7v5.7h-5.7zM1095.8 164.7h16.2v5.7h-16.2zM1201.0 170.0h5.7v5.7h-5.7zM1211.5 180.7h5.7v5.7h-5.7zM1211.5 186.0h5.7v5.7h-5.7zM1206.2 196.7h5.7v5.7h-5.7zM1195.7 202.0h10.9v5.7h-10.9zM1095.8 207.3h74.0v5.7h-74.0zM1080.0 212.7h10.9v5.7h-10.9zM1080.0 218.0h5.7v5.7h-5.7zM1074.8 223.3h5.7v5.7h-5.7zM1074.8 228.7h5.7v5.7h-5.7zM1080.0 234.0h5.7v5.7h-5.7zM1090.6 239.3h21.4v5.7h-21.4zM1195.7 244.6h5.7v5.7h-5.7zM1206.2 250.0h5.7v5.7h-5.7zM1211.5 260.6h5.7v5.7h-5.7zM1211.5 265.9h5.7v5.7h-5.7zM1080.0 276.6h10.9v5.7h-10.9zM1043.2 287.3h5.7v5.7h-5.7zM1038.0 308.6h5.7v5.7h-5.7zM1048.5 313.9h5.7v5.7h-5.7zM1069.5 319.2h16.2v5.7h-16.2zM1201.0 324.6h5.7v5.7h-5.7zM1206.2 335.2h5.7v5.7h-5.7zM1074.8 340.5h31.9v5.7h-31.9zM1038.0 345.9h5.7v5.7h-5.7z"/>
<path fill="#ababff" d="M1080.0 154.1h5.7v5.7h-5.7zM1201.0 159.4h5.7v5.7h-5.7zM1216.7 170.0h5.7v5.7h-5.7zM1216.7 202.0h5.7v5.7h-5.7zM1211.5 212.7h5.7v5.7h-5.7zM1206.2 228.7h5.7v5.7h-5.7zM1216.7 271.3h5.7v5.7h-5.7zM1211.5 276.6h5.7v5.7h-5.7zM1190.4 281.9h10.9v5.7h-10.9zM1064.3 287.3h5.7v5.7h-5.7zM1048.5 292.6h5.7v5.7h-5.7zM1043.2 297.9h5.7v5.7h-5.7zM1048.5 303.2h5.7v5.7h-5.7zM1069.5 308.6h10.9v5.7h-10.9zM1201.0 313.9h5.7v5.7h-5.7zM1211.5 319.2h5.7v5.7h-5.7zM1216.7 324.6h5.7v5.7h-5.7zM1190.4 345.9h10.9v5.7h-10.9zM1043.2 351.2h5.7v5.7h-5.7z"/>
<path fill="#5757ff" d="M1038.0 159.4h5.7v5.7h-5.7zM1043.2 164.7h5.7v5.7h-5.7zM1038.0 265.9h5.7v5.7h-5.7z"/>
<path fill="#6666ff" d="M1043.2 159.4h5.7v5.7h-5.7zM1048.5 164.7h5.7v5.7h-5.7zM1053.8 170.0h5.7v5.7h-5.7zM1053.8 191.4h5.7v5.7h-5.7zM1043.2 207.3h5.7v5.7h-5.7zM1043.2 239.3h5.7v5.7h-5.7zM1048.5 260.6h5.7v5.7h-5.7z"/>
<path fill="#7575ff" d="M1048.5 159.4h5.7v5.7h-5.7zM1069.5 180.7h5.7v5.7h-5.7zM1064.3 191.4h5.7v5.7h-5.7zM1059.0 196.7h5.7v5.7h-5.7zM1053.8 202.0h5.7v5.7h-5.7zM1053.8 244.6h5.7v5.7h-5.7zM1059.0 260.6h5.7v5.7h-5.7zM1048.5 271.3h5.7v5.7h-5.7zM1038.0 329.9h5.7v5.7h-5.7z"/>
<path fill="#8181ff" d="M1053.8 159.4h5.7v5.7h-5.7zM1069.5 170.0h5.7v5.7h-5.7zM1085.3 180.7h5.7v5.7h-5.7zM1080.0 186.0h10.9v5.7h-10.9zM1074.8 191.4h5.7v5.7h-5.7zM1069.5 196.7h5.7v5.7h-5.7zM1064.3 202.0h5.7v5.7h-5.7zM1053.8 212.7h5.7v5.7h-5.7zM1053.8 234.0h5.7v5.7h-5.7zM1064.3 250.0h5.7v5.7h-5.7zM1069.5 255.3h5.7v5.7h-5.7zM1074.8 260.6h5.7v5.7h-5.7zM1069.5 265.9h5.7v5.7h-5.7zM1059.0 271.3h5.7v5.7h-5.7zM1038.0 281.9h5.7v5.7h-5.7zM1053.8 329.9h5.7v5.7h-5.7zM1043.2 335.2h5.7v5.7h-5.7z"/>
<path fill="#8a8aff" d="M1059.0 159.4h5.7v5.7h-5.7zM1069.5 164.7h5.7v5.7h-5.7zM1080.0 170.0h5.7v5.7h-5.7zM1095.8 175.4h10.9v5.7h-10.9zM1185.2 180.7h16.2v5.7h-16.2zM1185.2 186.0h16.2v5.7h-16.2zM1095.8 191.4h37.2v5.7h-37.2zM1080.0 196.7h10.9v5.7h-10.9zM1074.8 202.0h5.7v5.7h-5.7zM1064.3 207.3h5.7v5.7h-5.7zM1059.0 218.0h5.7v5.7h-5.7zM1059.0 223.3h5.7v5.7h-5.7zM1059.0 228.7h5.7v5.7h-5.7zM1064.3 239.3h5.7v5.7h-5.7zM1069.5 244.6h5.7v5.7h-5.7zM1080.0 250.0h5.7v5.7h-5.7zM1090.6 255.3h16.2v5.7h-16.2zM1122.1 260.6h79.3v5.7h-79.3zM1101.1 265.9h95.0v5.7h-95.0zM1069.5 271.3h10.9v5.7h-10.9zM1053.8 276.6h5.7v5.7h-5.7zM1043.2 281.9h5.7v5.7h-5.7zM1043.2 319.2h5.7v5.7h-5.7zM1059.0 324.6h5.7v5.7h-5.7zM1080.0 329.9h100.3v5.7h-100.3zM1064.3 335.2h10.9v5.7h-10.9zM1038.0 340.5h5.7v5.7h-5.7z"/>
<path fill="#4545ff" d="M1038.0 164.7h5.7v5.7h-5.7zM1043.2 186.0h5.7v5.7h-5.7zM1038.0 196.7h5.7v5.7h-5.7z"/>
<path fill="#7272ff" d="M1053.8 164.7h5.7v5.7h-5.7zM1059.0 170.0h5.7v5.7h-5.7zM1064.3 175.4h5.7v5.7h-5.7zM1064.3 186.0h5.7v5.7h-5.7zM1048.5 207.3h5.7v5.7h-5.7zM1048.5 239.3h5.7v5.7h-5.7zM1053.8 250.0h5.7v5.7h-5.7zM1053.8 265.9h5.7v5.7h-5.7zM1038.0 276.6h5.7v5.7h-5.7z"/>
<path fill="#7b7bff" d="M1059.0 164.7h5.7v5.7h-5.7zM1064.3 170.0h5.7v5.7h-5.7zM1069.5 175.4h5.7v5.7h-5.7zM1074.8 180.7h5.7v5.7h-5.7zM1074.8 186.0h5.7v5.7h-5.7zM1069.5 191.4h5.7v5.7h-5.7zM1064.3 196.7h5.7v5.7h-5.7zM1059.0 202.0h5.7v5.7h-5.7zM1053.8 207.3h5.7v5.7h-5.7zM1048.5 218.0h5.7v5.7h-5.7zM1048.5 223.3h5.7v5.7h-5.7zM1048.5 228.7h5.7v5.7h-5.7zM1053.8 239.3h5.7v5.7h-5.7zM1059.0 250.0h5.7v5.7h-5.7zM1064.3 260.6h5.7v5.7h-5.7zM1064.3 265.9h5.7v5.7h-5.7zM1053.8 271.3h5.7v5.7h-5.7zM1043.2 276.6h5.7v5.7h-5.7zM1038.0 324.6h5.7v5.7h-5.7zM1038.0 335.2h5.7v5.7h-5.7z"/>
<path fill="#9393ff" d="M1080.0 164.7h5.7v5.7h-5.7zM1101.1 170.0h89.8v5.7h-89.8zM1201.0 175.4h5.7v5.7h-5.7zM1206.2 180.7h5.7v5.7h-5.7zM1206.2 186.0h5.7v5.7h-5.7zM1195.7 196.7h5.7v5.7h-5.7zM1090.6 202.0h21.4v5.7h-21.4zM1080.0 207.3h5.7v5.7h-5.7zM1069.5 212.7h5.7v5.7h-5.7zM1069.5 218.0h5.7v5.7h-5.7zM1069.5 234.0h5.7v5.7h-5.7zM1074.8 239.3h5.7v5.7h-5.7zM1090.6 244.6h10.9v5.7h-10.9zM1185.2 250.0h16.2v5.7h-16.2zM1201.0 255.3h5.7v5.7h-5.7zM1206.2 260.6h5.7v5.7h-5.7zM1206.2 265.9h5.7v5.7h-5.7zM1111.6 271.3h84.5v5.7h-84.5zM1064.3 276.6h5.7v5.7h-5.7zM1038.0 287.3h5.7v5.7h-5.7zM1043.2 313.9h5.7v5.7h-5.7zM1059.0 319.2h5.7v5.7h-5.7zM1090.6 324.6h105.5v5.7h-105.5zM1201.0 335.2h5.7v5.7h-5.7zM1053.8 340.5h5.7v5.7h-5.7z"/>
<path fill="#3636ff" d="M1038.0 170.0h5.7v5.7h-5.7zM1038.0 186.0h5.7v5.7h-5.7z"/>
<path fill="#4848ff" d="M1043.2 170.0h5.7v5.7h-5.7z"/>
<path fill="#5a5aff" d="M1048.5 170.0h5.7v5.7h-5.7zM1048.5 191.4h5.7v5.7h-5.7zM1038.0 207.3h5.7v5.7h-5.7zM1038.0 239.3h5.7v5.7h-5.7z"/>
<path fill="#8787ff" d="M1074.8 170.0h5.7v5.7h-5.7zM1085.3 175.4h10.9v5.7h-10.9zM1101.1 180.7h84.5v5.7h-84.5zM1101.1 186.0h84.5v5.7h-84.5zM1085.3 191.4h10.9v5.7h-10.9zM1074.8 196.7h5.7v5.7h-5.7zM1069.5 202.0h5.7v5.7h-5.7zM1059.0 212.7h5.7v5.7h-5.7zM1059.0 234.0h5.7v5.7h-5.7zM1074.8 250.0h5.7v5.7h-5.7zM1080.0 255.3h10.9v5.7h-10.9zM1090.6 260.6h31.9v5.7h-31.9zM1085.3 265.9h16.2v5.7h-16.2zM1053.8 324.6h5.7v5.7h-5.7zM1069.5 329.9h10.9v5.7h-10.9zM1053.8 335.2h10.9v5.7h-10.9z"/>
<path fill="#2d2dff" d="M1038.0 175.4h5.7v5.7h-5.7z"/>
<path fill="#4242ff" d="M1043.2 175.4h5.7v5.7h-5.7zM1043.2 180.7h5.7v5.7h-5.7z"/>
<path fill="#5151ff" d="M1048.5 175.4h5.7v5.7h-5.7zM1048.5 180.7h5.7v5.7h-5.7zM1038.0 250.0h5.7v5.7h-5.7zM1038.0 255.3h5.7v5.7h-5.7zM1038.0 260.6h5.7v5.7h-5.7z"/>
<path fill="#6060ff" d="M1053.8 175.4h5.7v5.7h-5.7zM1053.8 186.0h5.7v5.7h-5.7zM1038.0 212.7h5.7v5.7h-5.7zM1038.0 234.0h5.7v5.7h-5.7zM1043.2 244.6h5.7v5.7h-5.7z"/>
<path fill="#6c6cff" d="M1059.0 175.4h5.7v5.7h-5.7zM1053.8 196.7h5.7v5.7h-5.7zM1043.2 234.0h5.7v5.7h-5.7zM1048.5 244.6h5.7v5.7h-5.7zM1043.2 271.3h5.7v5.7h-5.7z"/>
<path fill="#3030ff" d="M1038.0 180.7h5.7v5.7h-5.7z"/>
<path fill="#5d5dff" d="M1053.8 180.7h5.7v5.7h-5.7zM1043.2 202.0h5.7v5.7h-5.7zM1043.2 250.0h5.7v5.7h-5.7zM1043.2 255.3h5.7v5.7h-5.7zM1043.2 260.6h5.7v5.7h-5.7z"/>
<path fill="#6f6fff" d="M1064.3 180.7h5.7v5.7h-5.7zM1059.0 191.4h5.7v5.7h-5.7zM1043.2 212.7h5.7v5.7h-5.7zM1043.2 218.0h5.7v5.7h-5.7zM1043.2 223.3h5.7v5.7h-5.7zM1043.2 228.7h5.7v5.7h-5.7zM1053.8 255.3h5.7v5.7h-5.7zM1053.8 260.6h5.7v5.7h-5.7z"/>
<path fill="#5454ff" d="M1048.5 186.0h5.7v5.7h-5.7zM1043.2 196.7h5.7v5.7h-5.7zM1038.0 244.6h5.7v5.7h-5.7z"/>
<path fill="#3c3cff" d="M1038.0 191.4h5.7v5.7h-5.7z"/>
<path fill="#4e4eff" d="M1043.2 191.4h5.7v5.7h-5.7zM1038.0 202.0h5.7v5.7h-5.7z"/>
<path fill="#6363ff" d="M1048.5 196.7h5.7v5.7h-5.7zM1038.0 218.0h5.7v5.7h-5.7zM1038.0 223.3h5.7v5.7h-5.7zM1038.0 228.7h5.7v5.7h-5.7zM1043.2 265.9h5.7v5.7h-5.7zM1038.0 271.3h5.7v5.7h-5.7z"/>
</g></g>
<clipPath id="c2"><rect x="699.5" y="47.5" width="533.0" height="532.8"/></clipPath>
<g clip-path="url(#c2)">
<path d="M851.5 47.5V580.3" stroke="#fff" stroke-width="1"/>
<path d="M1048.5 47.5V580.3" stroke="#fff" stroke-width="1"/>
<path d="M903.12 580.30V47.50" stroke="#006400" stroke-width="1.5" stroke-dasharray="6 6" stroke-linecap="round" fill="none"/>
<path d="M1027.28 580.30V47.50" stroke="#006400" stroke-width="1.5" stroke-dasharray="6 6" stroke-linecap="round" fill="none"/>
<path d="M699.50 429.57H1232.50" stroke="#CB2020" stroke-width="1.5" stroke-dasharray="6 6" stroke-linecap="round" fill="none"/>
</g>
<rect x="699.5" y="47.5" width="533.00" height="532.80" fill="none" stroke="#000" stroke-width="0.62"/>
<path d="M750.20 580.3H1180.20M750.20 580.3v6M857.70 580.3v6M965.20 580.3v6M1072.70 580.3v6M1180.20 580.3v6M699.5 48.06V498.66M699.5 498.66h-6M699.5 348.46h-6M699.5 198.26h-6M699.5 48.06h-6" fill="none" stroke="#000" stroke-width="0.62"/>
<text x="750.20" y="601.90" text-anchor="middle" font-size="10.4">-400</text>
<text x="857.70" y="601.90" text-anchor="middle" font-size="10.4">-200</text>
<text x="965.20" y="601.90" text-anchor="middle" font-size="10.4">0</text>
<text x="1072.70" y="601.90" text-anchor="middle" font-size="10.4">200</text>
<text x="1180.20" y="601.90" text-anchor="middle" font-size="10.4">400</text>
<text transform="translate(684.90 499.26) rotate(-90)" text-anchor="middle" font-size="10.4">85</text>
<text transform="translate(684.90 349.06) rotate(-90)" text-anchor="middle" font-size="10.4">90</text>
<text transform="translate(684.90 198.86) rotate(-90)" text-anchor="middle" font-size="10.4">95</text>
<text transform="translate(684.90 48.66) rotate(-90)" text-anchor="middle" font-size="10.4">100</text>
<text transform="translate(798.79 31.70) scale(0.9961 1)" font-size="21.6" font-weight="bold">Density heat map for the top hits</text>
<text transform="translate(878.83 625.90) scale(0.9951 1)" font-size="16">Distance to peak summit</text>
<text transform="translate(662.00 353.46) rotate(-90) scale(0.9879 1)" font-size="16">Motif score</text>
<rect x="59.5" y="687.5" width="533.00" height="532.80" fill="none" stroke="#000" stroke-width="0.62"/>
<path d="M172.60 1220.3H546.40M172.60 1220.3v6M297.20 1220.3v6M421.80 1220.3v6M546.40 1220.3v6M59.5 702.50V1200.40M59.5 1200.40h-6M59.5 1129.27h-6M59.5 1058.14h-6M59.5 987.02h-6M59.5 915.89h-6M59.5 844.76h-6M59.5 773.63h-6M59.5 702.50h-6" fill="none" stroke="#000" stroke-width="0.62"/>
<text x="172.60" y="1241.90" text-anchor="middle" font-size="10.4">85</text>
<text x="297.20" y="1241.90" text-anchor="middle" font-size="10.4">90</text>
<text x="421.80" y="1241.90" text-anchor="middle" font-size="10.4">95</text>
<text x="546.40" y="1241.90" text-anchor="middle" font-size="10.4">100</text>
<text transform="translate(44.90 1201.00) rotate(-90)" text-anchor="middle" font-size="10.4">0.00</text>
<text transform="translate(44.90 1129.87) rotate(-90)" text-anchor="middle" font-size="10.4">0.02</text>
<text transform="translate(44.90 1058.74) rotate(-90)" text-anchor="middle" font-size="10.4">0.04</text>
<text transform="translate(44.90 987.62) rotate(-90)" text-anchor="middle" font-size="10.4">0.06</text>
<text transform="translate(44.90 916.49) rotate(-90)" text-anchor="middle" font-size="10.4">0.08</text>
<text transform="translate(44.90 845.36) rotate(-90)" text-anchor="middle" font-size="10.4">0.10</text>
<text transform="translate(44.90 774.23) rotate(-90)" text-anchor="middle" font-size="10.4">0.12</text>
<text transform="translate(44.90 703.10) rotate(-90)" text-anchor="middle" font-size="10.4">0.14</text>
<path d="M79.30 1200.20C84.68 1200.12 101.93 1200.22 111.60 1199.70C121.27 1199.18 129.15 1198.62 137.30 1197.10C145.45 1195.58 154.05 1193.40 160.50 1190.60C166.95 1187.80 169.55 1184.80 176.00 1180.30C182.45 1175.80 192.75 1168.53 199.20 1163.60C205.65 1158.67 210.40 1155.00 214.70 1150.70C219.00 1146.40 222.43 1141.67 225.00 1137.80C227.57 1133.93 227.52 1133.52 230.10 1127.50C232.68 1121.48 237.48 1110.30 240.50 1101.70C243.52 1093.10 245.55 1083.63 248.20 1075.90C250.85 1068.17 253.40 1055.72 256.40 1055.30C259.40 1054.88 263.48 1068.45 266.20 1073.40C268.92 1078.35 270.55 1085.00 272.70 1085.00C274.85 1085.00 276.73 1081.78 279.10 1073.40C281.47 1065.02 284.32 1054.05 286.90 1034.70C289.48 1015.35 292.37 981.42 294.60 957.30C296.83 933.18 298.57 905.65 300.30 890.00C302.03 874.35 303.18 870.22 305.00 863.40C306.82 856.58 309.30 850.40 311.25 849.10C313.20 847.80 315.01 848.78 316.70 855.60C318.39 862.42 319.50 876.05 321.40 890.00C323.30 903.95 326.12 928.30 328.10 939.30C330.08 950.30 331.37 957.72 333.30 956.00C335.23 954.28 337.90 940.00 339.70 929.00C341.50 918.00 342.59 906.40 344.10 890.00C345.61 873.60 347.20 845.70 348.75 830.60C350.30 815.50 351.84 809.82 353.40 799.40C354.96 788.98 356.53 776.96 358.10 768.10C359.67 759.24 361.37 750.98 362.80 746.25C364.23 741.52 365.40 739.70 366.70 739.70C368.00 739.70 368.90 742.55 370.60 746.25C372.30 749.95 374.82 757.48 376.90 761.90C378.98 766.32 381.28 769.16 383.10 772.80C384.92 776.44 386.23 778.80 387.80 783.75C389.37 788.70 391.07 796.77 392.50 802.50C393.93 808.23 395.47 814.70 396.40 818.10C397.33 821.50 397.58 821.85 398.10 822.90C398.62 823.95 399.02 824.40 399.50 824.40C399.98 824.40 400.47 823.95 401.00 822.90C401.53 821.85 401.77 821.50 402.70 818.10C403.63 814.70 405.18 807.97 406.60 802.50C408.03 797.03 409.43 789.98 411.25 785.30C413.07 780.62 415.81 778.57 417.50 774.40C419.19 770.23 420.10 766.03 421.40 760.30C422.70 754.57 424.00 747.28 425.30 740.00C426.60 732.72 427.77 722.02 429.20 716.60C430.63 711.18 432.20 707.50 433.90 707.50C435.60 707.50 437.45 710.92 439.40 716.60C441.35 722.28 443.78 733.02 445.60 741.60C447.42 750.18 449.00 758.47 450.30 768.10C451.60 777.73 452.35 787.68 453.40 799.40C454.45 811.12 455.75 826.63 456.60 838.40C457.45 850.17 457.68 859.57 458.50 870.00C459.32 880.43 460.03 887.17 461.50 901.00C462.97 914.83 465.50 940.78 467.30 953.00C469.10 965.22 470.02 972.72 472.30 974.30C474.58 975.88 478.40 965.23 481.00 962.50C483.60 959.77 485.62 959.40 487.90 957.90C490.18 956.40 492.65 951.58 494.70 953.50C496.75 955.42 498.38 957.65 500.20 969.40C502.02 981.15 503.78 1003.50 505.60 1024.00C507.42 1044.50 509.27 1072.80 511.10 1092.40C512.93 1112.00 514.78 1130.67 516.60 1141.60C518.42 1152.53 519.27 1154.12 522.00 1158.00C524.73 1161.88 529.35 1164.43 533.00 1164.90C536.65 1165.37 540.72 1160.12 543.90 1160.80C547.08 1161.48 549.37 1164.45 552.10 1169.00C554.83 1173.55 557.10 1183.10 560.30 1188.10C563.50 1193.10 569.25 1196.98 571.30 1199.00C573.35 1201.02 572.38 1200.00 572.60 1200.20Z" fill="#F5DEB3" stroke="#000" stroke-width="1.1"/>
<clipPath id="c3"><rect x="59.5" y="687.5" width="533.0" height="532.8"/></clipPath>
<g clip-path="url(#c3)">
<path d="M229.92 1220.30V687.50" stroke="#CB2020" stroke-width="1.5" stroke-dasharray="6 6" stroke-linecap="round" fill="none"/>
</g>
<text transform="translate(176.59 671.70) scale(0.9998 1)" font-size="21.6" font-weight="bold">Motif score threshold: 87.300</text>
<text transform="translate(286.43 1265.90) scale(0.9906 1)" font-size="16">Motif score</text>
<text transform="translate(21.90 980.99) rotate(-90) scale(1.0096 1)" font-size="16">Density</text>
<rect x="699.5" y="687.5" width="533.00" height="532.80" fill="none" stroke="#000" stroke-width="0.62"/>
<path d="M701.54 1220.3H1229.06M701.54 1220.3v6M789.46 1220.3v6M877.38 1220.3v6M965.30 1220.3v6M1053.22 1220.3v6M1141.14 1220.3v6M1229.06 1220.3v6M699.5 720.50V1200.40M699.5 1200.40h-6M699.5 1104.42h-6M699.5 1008.44h-6M699.5 912.46h-6M699.5 816.48h-6M699.5 720.50h-6" fill="none" stroke="#000" stroke-width="0.62"/>
<text x="701.54" y="1241.90" text-anchor="middle" font-size="10.4">-600</text>
<text x="789.46" y="1241.90" text-anchor="middle" font-size="10.4">-400</text>
<text x="877.38" y="1241.90" text-anchor="middle" font-size="10.4">-200</text>
<text x="965.30" y="1241.90" text-anchor="middle" font-size="10.4">0</text>
<text x="1053.22" y="1241.90" text-anchor="middle" font-size="10.4">200</text>
<text x="1141.14" y="1241.90" text-anchor="middle" font-size="10.4">400</text>
<text x="1229.06" y="1241.90" text-anchor="middle" font-size="10.4">600</text>
<text transform="translate(684.90 1201.00) rotate(-90)" text-anchor="middle" font-size="10.4">0.0000</text>
<text transform="translate(684.90 1105.02) rotate(-90)" text-anchor="middle" font-size="10.4">0.0005</text>
<text transform="translate(684.90 1009.04) rotate(-90)" text-anchor="middle" font-size="10.4">0.0010</text>
<text transform="translate(684.90 913.06) rotate(-90)" text-anchor="middle" font-size="10.4">0.0015</text>
<text transform="translate(684.90 817.08) rotate(-90)" text-anchor="middle" font-size="10.4">0.0020</text>
<text transform="translate(684.90 721.10) rotate(-90)" text-anchor="middle" font-size="10.4">0.0025</text>
<path d="M719.40 1200.20C720.60 1200.00 724.18 1200.62 726.60 1199.00C729.02 1197.38 731.47 1195.13 733.90 1190.50C736.33 1185.87 738.98 1179.27 741.20 1171.20C743.42 1163.13 745.38 1150.98 747.20 1142.10C749.02 1133.22 750.28 1125.17 752.10 1117.90C753.92 1110.63 755.88 1104.15 758.10 1098.50C760.32 1092.85 762.98 1087.30 765.40 1084.00C767.82 1080.70 769.78 1079.30 772.60 1078.70C775.42 1078.10 778.67 1080.12 782.30 1080.40C785.93 1080.68 790.77 1080.12 794.40 1080.40C798.03 1080.68 799.67 1081.17 804.10 1082.10C808.53 1083.03 815.75 1085.43 821.00 1086.00C826.25 1086.57 831.55 1085.92 835.60 1085.50C839.65 1085.08 841.67 1085.37 845.30 1083.50C848.93 1081.63 853.28 1076.88 857.40 1074.30C861.52 1071.72 866.86 1069.97 870.00 1068.00C873.14 1066.03 873.65 1066.02 876.25 1062.50C878.85 1058.98 882.48 1053.15 885.60 1046.90C888.73 1040.65 892.13 1032.55 895.00 1025.00C897.87 1017.45 900.45 1009.15 902.80 1001.60C905.15 994.05 907.02 988.03 909.10 979.70C911.18 971.37 913.22 960.72 915.30 951.60C917.38 942.48 919.57 933.60 921.60 925.00C923.63 916.40 925.33 910.98 927.50 900.00C929.67 889.02 932.32 871.93 934.60 859.10C936.88 846.27 939.28 834.48 941.20 823.00C943.12 811.52 944.47 800.60 946.10 790.20C947.73 779.80 949.37 769.63 951.00 760.60C952.63 751.57 954.25 743.10 955.90 736.00C957.55 728.90 959.25 722.52 960.90 718.00C962.55 713.48 964.50 710.68 965.80 708.90C967.10 707.12 967.62 707.30 968.70 707.30C969.78 707.30 970.87 706.85 972.30 708.90C973.73 710.95 975.65 714.80 977.30 719.60C978.95 724.40 980.57 730.87 982.20 737.70C983.83 744.53 985.47 752.40 987.10 760.60C988.73 768.80 990.08 776.50 992.00 786.90C993.92 797.30 996.40 810.97 998.60 823.00C1000.80 835.03 1003.22 846.27 1005.20 859.10C1007.18 871.93 1008.82 888.50 1010.50 900.00C1012.18 911.50 1013.45 919.25 1015.30 928.10C1017.15 936.95 1019.52 944.77 1021.60 953.10C1023.68 961.43 1025.73 969.77 1027.80 978.10C1029.87 986.43 1031.65 994.77 1034.00 1003.10C1036.35 1011.43 1039.03 1020.28 1041.90 1028.10C1044.78 1035.92 1048.13 1043.75 1051.25 1050.00C1054.37 1056.25 1057.47 1061.17 1060.60 1065.60C1063.72 1070.03 1066.22 1073.72 1070.00 1076.60C1073.78 1079.48 1078.25 1080.97 1083.30 1082.90C1088.35 1084.83 1094.65 1087.68 1100.30 1088.20C1105.95 1088.72 1111.15 1086.60 1117.20 1086.00C1123.25 1085.40 1130.95 1085.23 1136.60 1084.60C1142.25 1083.97 1147.27 1082.77 1151.10 1082.20C1154.93 1081.63 1156.77 1080.68 1159.60 1081.20C1162.43 1081.72 1165.48 1081.98 1168.10 1085.30C1170.72 1088.62 1172.88 1093.63 1175.30 1101.10C1177.72 1108.57 1180.17 1120.02 1182.60 1130.10C1185.03 1140.18 1187.47 1152.30 1189.90 1161.60C1192.33 1170.90 1194.78 1179.83 1197.20 1185.90C1199.62 1191.97 1201.78 1195.58 1204.40 1198.00C1207.02 1200.42 1211.48 1200.00 1212.90 1200.40Z" fill="#F5DEB3" stroke="#000" stroke-width="1.1"/>
<clipPath id="c4"><rect x="699.5" y="687.5" width="533.0" height="532.8"/></clipPath>
<g clip-path="url(#c4)">
<path d="M914.53 1220.30V687.50" stroke="#006400" stroke-width="1.5" stroke-dasharray="6 6" stroke-linecap="round" fill="none"/>
<path d="M1016.07 1220.30V687.50" stroke="#006400" stroke-width="1.5" stroke-dasharray="6 6" stroke-linecap="round" fill="none"/>
</g>
<text transform="translate(838.98 671.70) scale(1.0048 1)" font-size="21.6" font-weight="bold">Enrichment zone: 115.50</text>
<text transform="translate(878.83 1265.90) scale(0.9951 1)" font-size="16">Distance to peak summit</text>
<text transform="translate(661.90 980.99) rotate(-90) scale(1.0096 1)" font-size="16">Density</text>
<path d="M1017.5 703.3H1041.6" stroke="#006400" stroke-width="1.15" stroke-dasharray="1.1 3.34" stroke-linecap="round"/>
<path d="M1017.5 718.9H1041.6" stroke="#E06262" stroke-width="1.15" stroke-dasharray="1.1 3.34" stroke-linecap="round"/>
<ellipse cx="1029" cy="734.5" rx="3" ry="2.7" fill="#0000FF"/>
<text transform="translate(1051.68 707.50) scale(1.0004 1)" font-size="13">enrichment zone = 115.5</text>
<text transform="translate(1051.29 723.10) scale(0.9959 1)" font-size="13">motif score threshold = 87.300</text>
<text transform="translate(1051.68 738.60) scale(0.9931 1)" font-size="13">centrality p-val = -8.5566</text>
</svg></body></html>
